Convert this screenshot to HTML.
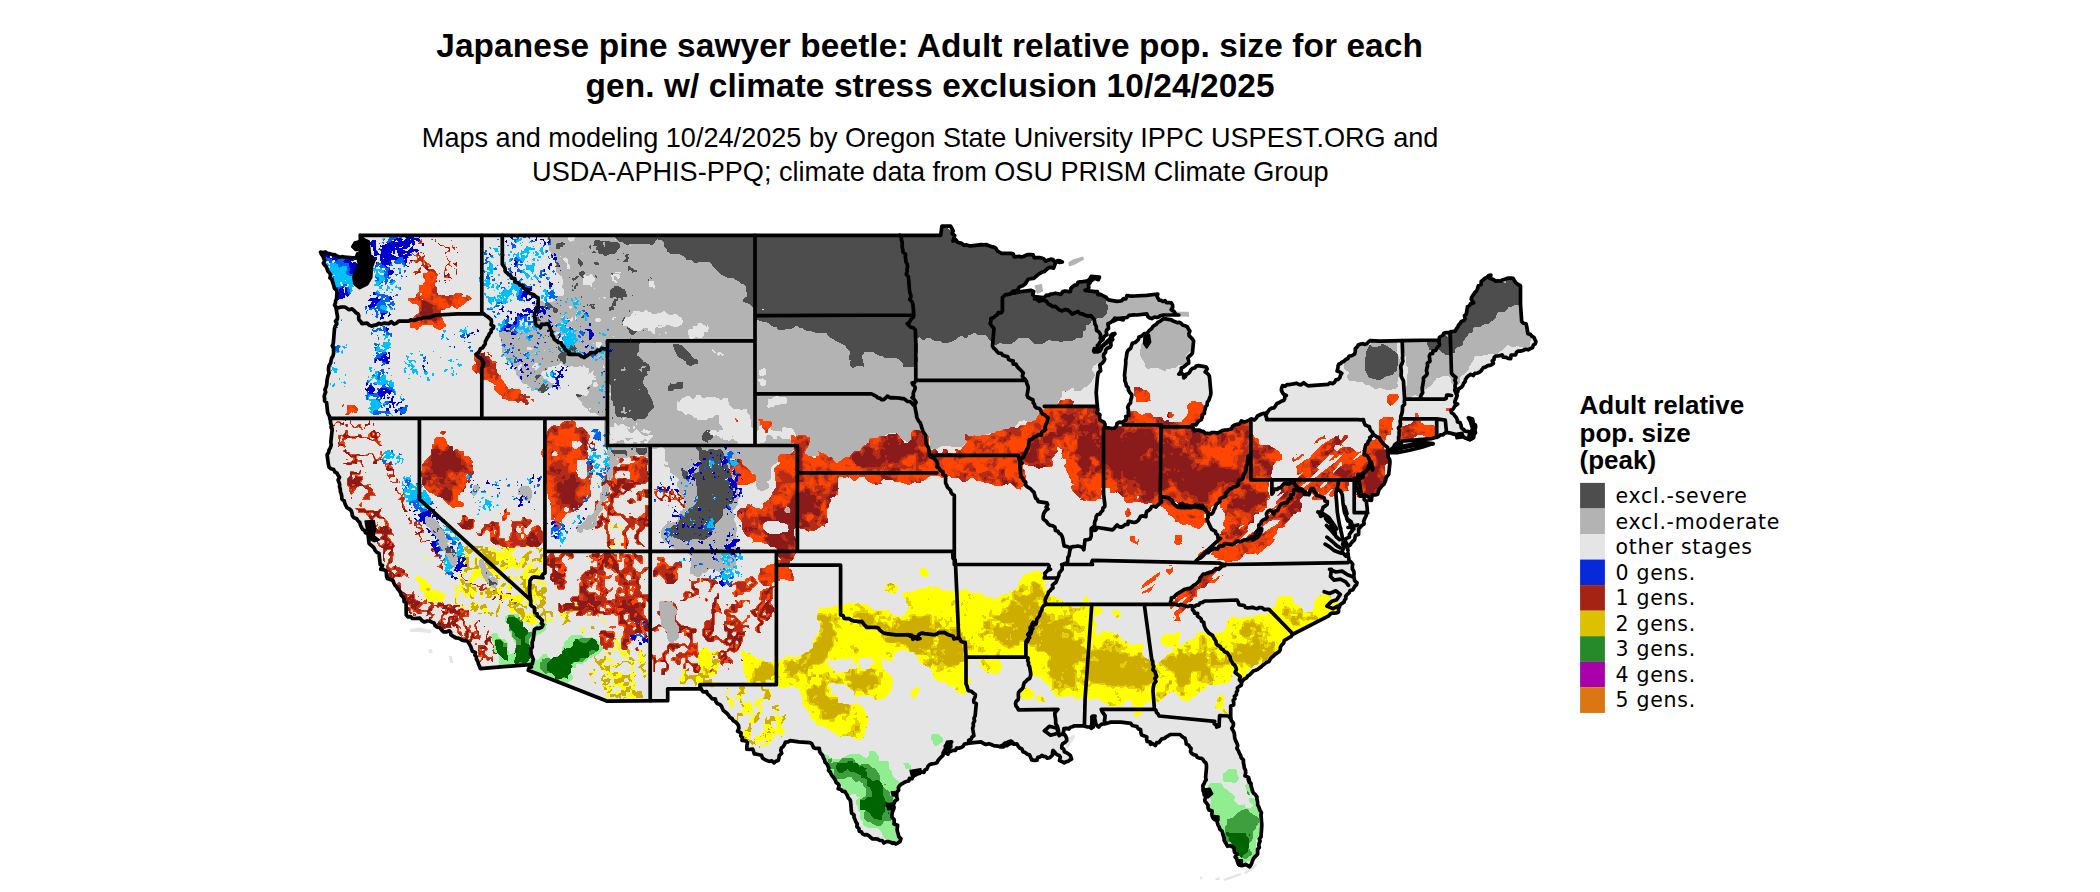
<!DOCTYPE html>
<html><head><meta charset="utf-8"><title>Japanese pine sawyer beetle</title>
<style>
html,body{margin:0;padding:0;background:#fff;}
body{width:2100px;height:892px;overflow:hidden;}
svg{display:block;}
.t{font-family:"Liberation Sans",sans-serif;font-weight:700;font-size:33.4px;letter-spacing:0.1px;text-anchor:middle;fill:#000;}
.s{font-family:"Liberation Sans",sans-serif;font-size:27.1px;text-anchor:middle;fill:#000;}
.lt{font-family:"Liberation Sans",sans-serif;font-weight:700;font-size:26px;fill:#000;}
.ll{font-family:"DejaVu Sans",sans-serif;font-size:20.5px;letter-spacing:0.7px;fill:#000;}
</style></head><body>
<svg width="2100" height="892" viewBox="0 0 2100 892">
<rect width="2100" height="892" fill="#fff"/>
<defs><clipPath id="land"><path d="M360.4,235.3 940.7,235.3 941.9,226.2 950.6,226.2 951.9,228.5 953.2,230.8 952.1,233.5 954.7,235.7 953.8,238.3 953,241 955.7,239.6 957.4,242.1 959.5,242.9 961.7,243.4 963.9,245.2 966.6,244.9 969,245.8 971.6,245.9 981.4,244.7 983.9,244.9 986.5,244.7 988.9,245.8 991.3,246.6 993.9,247.1 995.9,248.4 997.2,250.7 999.2,252 1001.2,253.3 1011,253.3 1013.1,253.7 1014.2,256.8 1016.5,256.7 1018.9,256.3 1020.9,257 1023.4,256.5 1025.7,255.3 1028.2,254.6 1030.8,254.5 1033.1,254.9 1034.4,257.9 1036.9,257.7 1039.4,257.5 1041.6,258 1043.8,258.9 1045.8,261.2 1048.3,260 1050.7,259.2 1053,259.5 1054.8,262.3 1057.7,260.6 1060.1,260.9 1062.3,261.9 1059.7,262.5 1056.5,261.5 1054.9,264.5 1053.6,268.1 1050.5,267.4 1048,268.1 1046.2,269.9 1044.3,271.5 1041.8,272.3 1039.6,273.6 1037.6,275 1035.7,276.7 1033.8,278.4 1031,278.7 1028.2,279.2 1026.8,281.5 1025.4,283.8 1023.4,285.4 1021.2,286.2 1019.1,287.1 1017.9,289.6 1016.1,291 1013.4,291 1011.6,292.6 1009.8,294 1012,293.2 1014.2,293.1 1016.5,292.5 1018.7,292.1 1020.9,291.6 1030.8,290.3 1033.7,291.4 1032.7,294.8 1034.5,296.5 1043.1,297.7 1045,296.9 1046.4,295.1 1048.9,295.4 1050.5,294 1053,293.8 1055.5,293.2 1058.1,293.8 1060.8,294.5 1062.8,291.6 1065,291 1067.7,291.4 1070.3,291.7 1071,288.2 1072.7,286.6 1074.5,285.2 1076.9,285.1 1078,282.3 1080.2,281.9 1082.6,281.7 1085.4,281.4 1087.9,280.6 1089.8,278.9 1091.2,276.3 1099.4,277.2 1098.3,279.7 1094.9,278.3 1093.1,279.5 1091.2,280.7 1090,282.9 1088.4,284.5 1088.8,287.5 1088,289.6 1085,290.3 1094.9,291.6 1097.3,291.5 1098,294.7 1100.5,294.3 1102.3,295.3 1104.3,296.3 1106.2,297.4 1107.7,299.3 1109.7,300.2 1117.1,301.4 1119.4,301.2 1121.6,300.8 1123.4,298.7 1125.8,299 1127,295.5 1129.5,295.9 1132.1,296.2 1134.4,296 1146.7,295.3 1157.8,294 1157,296.3 1158.1,298.3 1159.1,300.2 1161.1,300.3 1162.8,301.5 1165.1,300.7 1166.5,302.7 1168.9,302.5 1171.2,302.8 1172.6,305.1 1172.7,307.2 1171.2,309.7 1173.9,311.3 1175.1,313.2 1176.2,315 1178.8,315 1164,315 1162.1,315.4 1160.2,315.8 1158.5,317.1 1156.6,317.5 1154.5,317 1151.7,318.6 1149.7,317.9 1147.9,316.7 1146.7,313.8 1136.9,315 1134.2,314.9 1131.6,315.1 1129.1,315.3 1127,317.5 1117.1,318.7 1114.7,318.1 1113.6,319.9 1112.2,321.2 1110.4,322.6 1107.9,323.7 1108.3,326.2 1108.5,328.6 1106.7,330 1106.2,332.1 1106.9,334.7 1104.8,336 1103.5,337.5 1103,339.6 1101.3,340.8 1099.9,342.1 1099,344.1 1097.4,345.5 1098,348.6 1094.3,348.6 1093.7,350.8 1097.4,352 1099.9,351.1 1101.1,348.9 1102,346.3 1104.1,344.9 1106,343.4 1107.8,342.1 1109.5,340.6 1111,339.1 1110.6,335.8 1112.1,334.1 1114.7,333.5 1112.7,334.8 1111.9,336.7 1112.7,339.5 1111,340.9 1110.8,343.1 1111,345.5 1109.9,347.3 1107.3,348.3 1105.8,350.1 1105.5,352.4 1103.8,354.2 1103.5,356.4 1104.7,359.2 1103.8,361.3 1102.3,363.1 1099.8,365 1100.2,367.9 1100.7,370.8 1098.2,372.7 1097.8,375.3 1097.4,377.9 1096.2,392.7 1097.4,407.5 1097.9,410 1096.8,412.8 1099.9,414.7 1099.5,417.4 1099.9,419.9 1102,421.2 1104.2,422.4 1105.1,424.5 1104.8,427.3 1112.2,428.5 1114.7,428.1 1116.4,426.5 1117.2,423.3 1119.2,422.1 1122.1,422.3 1124.4,421 1126.3,419.5 1125.7,416.4 1128.7,415.5 1128.2,412.5 1128.4,410 1127.7,407.2 1128.7,404.9 1130.6,402.7 1130.7,400.1 1131.6,397.4 1131.8,394.8 1129.9,392.6 1128.5,390.3 1128.2,387.8 1126.3,385.7 1125.8,383.1 1124.8,380.7 1125,378 1124.5,375.4 1125.8,363.1 1125.7,360.3 1126.2,357.8 1126.6,355.2 1127,352.6 1128.1,350.2 1130.7,348.3 1131.5,345.8 1132.3,343.3 1135.1,342.5 1136.9,340.9 1138.4,339.5 1138.9,337 1141.2,336.3 1142.9,335.1 1144.3,333.5 1146.9,333.4 1148.4,331.6 1149.9,329.9 1151.7,328.6 1152.8,326.6 1154.5,325.3 1156.5,324.2 1157.8,322.4 1160,321.3 1161.8,319.8 1164,318.7 1171.4,319.9 1173.2,321.1 1175.2,321.8 1177.2,322.6 1179.5,322.3 1181.3,323.6 1182.9,325.2 1185.4,325.8 1187.4,326.9 1188.5,329.1 1189.9,331 1188.9,333.6 1189.2,335.8 1190.9,337.4 1192.5,339.1 1193.6,340.9 1192.4,353.2 1190.9,354.9 1188.9,356.4 1187.8,358.3 1188.6,360.8 1188.7,363.1 1186.8,364.2 1185.1,365.8 1183.4,367.1 1181.3,368 1181.3,370.4 1180.3,372.4 1178.8,374.2 1181.8,373.6 1183.6,374.7 1183.7,377.9 1185.5,376.6 1186.2,374.2 1188.5,373.4 1189.9,371.7 1191,369.6 1192.7,368.3 1194.9,367.9 1196.2,366 1198.5,365.6 1205.9,366.8 1207.2,368.8 1205.2,372 1207.6,373.6 1209.2,375.6 1209.6,377.9 1210.9,392.7 1210.6,395.3 1209.7,397.7 1208.9,400.1 1207.2,402.3 1207.2,405 1205.6,406.7 1205.2,408.9 1204.5,411.1 1204.4,413.5 1202.2,414.9 1202.1,417.6 1201.2,419.8 1198.7,420.9 1197.3,422.8 1196.1,424.8 1194.1,424.9 1192.1,425.2 1191.1,427.3 1193.1,427.9 1194.3,430.8 1196.8,430.1 1199.1,430 1201,431 1203.3,431.3 1205.2,433.3 1207.6,433.3 1209.9,433.7 1212.2,432.5 1214.8,432.5 1217.6,433.1 1219.9,431.8 1222.2,430.6 1224.7,430 1227.1,429.8 1229.4,429.5 1231.5,428.8 1232.6,426.2 1234.5,425 1237,424.4 1239.6,423.9 1241.4,420.9 1244.5,422.1 1246.9,421.1 1249.3,420.1 1251.2,418.8 1254.4,420 1256.1,418.3 1257.5,416 1259.5,415 1261.6,414 1263.9,413.4 1266.3,413 1268.1,411.5 1269.6,409.3 1271.6,408.1 1274,407.8 1275.5,405.8 1276.9,403.5 1279.3,402.6 1281.3,401.2 1283.8,400.4 1284.7,398.8 1284.7,396.8 1286.3,395.5 1284,394.5 1282.5,392.7 1281.4,390.5 1281.6,388 1282.6,385.6 1285,386.2 1287,384.6 1289.3,384.6 1291.5,384.2 1293.7,383.9 1296.3,383.2 1298.6,384.4 1301.1,384.8 1303.7,382.7 1306,384.6 1308.4,385.8 1310.9,385.6 1328.2,384.4 1329.9,382.8 1332.8,383.6 1334.6,382.2 1335.9,379.9 1338.1,379.4 1339.8,377.7 1340.5,375.3 1341.8,373.3 1339.7,372 1337.1,371 1337.9,368.3 1338.1,365.9 1338.8,364.1 1340.7,363.6 1341.8,362.2 1344,361.3 1345.7,359.5 1347.9,358.5 1349,356.2 1352.2,355.5 1354.5,354.2 1355.3,351.7 1355.3,348.6 1357,347.1 1358.3,345 1360.3,344.1 1362.7,343.7 1365.1,344.4 1367,343.6 1368.4,341.9 1370.1,340.7 1380,341.2 1402.2,340.7 1439.2,340 1439.4,337.6 1441.2,336.4 1442.9,335.1 1444.1,333 1446.5,332.6 1449,332.6 1450.9,331.7 1453.1,331.5 1455.2,331.1 1456.4,328.9 1457.7,327.1 1458.6,325 1460.1,323.4 1461.3,321.5 1464,320.6 1465.1,318.7 1464.5,315.6 1466.3,314.1 1467.5,306.7 1469.7,305.5 1470.5,303.6 1473.7,302.9 1471.2,299.3 1471.6,297.4 1472.5,295.9 1473.7,294.4 1475,292.3 1476.8,290.6 1477.7,288.2 1478.4,285.6 1481.1,284.5 1481.2,281.5 1483.1,280 1484.8,278.3 1487.2,277.1 1488.7,275.5 1490.9,275.1 1490.1,278.5 1493.4,279.6 1495.6,281.1 1498.3,280.8 1500.7,281.2 1502.7,279.7 1504.9,279.3 1507,278.4 1509,278.2 1511.1,278.1 1513.1,278.4 1514.5,280.7 1516,282.9 1518.1,284.5 1520.5,285.7 1520.5,304.2 1521.7,321.5 1523.3,323.2 1526,323.8 1526.7,326.4 1527.9,333.8 1530.4,334.4 1532,336.2 1534.1,337.5 1534.9,339.5 1535.9,341.4 1535.3,343.7 1533.4,345.1 1532.6,347.5 1530.4,348.6 1528.1,349.8 1525.3,349.3 1523,350.5 1520.5,351.1 1518,351.1 1516.4,352.5 1515.6,354.8 1513.4,355 1511.1,355.1 1510.6,358.7 1508.2,358.5 1506.1,357.3 1503.4,357.2 1502,354.8 1500.1,355.7 1498,356 1495.9,356 1494.2,357.5 1494,359.5 1492.3,361 1493.4,363.4 1491.5,364.7 1489.4,365.4 1487.2,365.9 1485.6,367.1 1483.5,367.5 1482.3,369.2 1481.1,370.8 1479.3,372.2 1477.2,373.1 1474.9,373.3 1473.4,375.5 1470.6,374.4 1468.7,375.7 1466.8,377.4 1465.5,379.4 1465,381.9 1463.6,383.3 1462.9,385.3 1461.8,386.9 1460.1,388.1 1458.2,389.2 1457.9,391.6 1456.4,393 1457.3,395.4 1456.4,397.9 1455.2,400.3 1454.7,402.5 1457.6,404.1 1456.2,405.1 1454.6,406.1 1453.9,407.8 1452.9,409.3 1450.9,410.4 1451.5,412.7 1453.5,414 1454.9,415.9 1456.4,417.7 1457.2,419.6 1457.5,422 1460.1,422.6 1461,425 1461.3,427.5 1462.4,428.9 1464,429.7 1465,431.2 1467.3,431.4 1469.5,431.9 1471.2,433.7 1472.1,431.7 1473.8,429.9 1473.7,427.5 1472.5,425.9 1471.4,424.1 1471,422.2 1471.2,420.1 1468.7,417.7 1472.4,418.9 1472.9,421.2 1473.1,423.5 1475.5,425.1 1475.6,427.5 1474.8,429.9 1475.5,432.6 1473.9,434.9 1473.7,437.4 1471.8,438.8 1469.9,439.8 1467.5,438.6 1465.1,438 1463.1,436.5 1461.3,434.9 1458.8,436 1456.4,434.9 1454,434.1 1451.5,433.4 1449,432.8 1446.5,432.4 1444.5,433.4 1442.9,434.9 1440.4,434.9 1438.5,436.6 1436.3,437.3 1434,437.9 1431.8,438.6 1417,439.8 1402.2,441.1 1401.2,443.7 1398.9,443.7 1397.1,444.9 1394.8,444.8 1393.7,447 1392.1,448.7 1389.8,449.7 1387.4,449.7 1387.8,452.2 1388,454.7 1388.2,457.3 1389.7,459.6 1390,462.1 1388.7,474.4 1387.2,476.1 1386,478 1385.7,480.3 1384.8,482.3 1383.8,484.3 1382,485.9 1380.5,487.8 1379,489.6 1378.3,491.9 1377.6,494.2 1375.3,495 1372.3,495 1371.7,497.5 1371.5,500.3 1369.1,500.2 1369.6,497.2 1367.8,496.6 1366,495.5 1363.6,494.9 1360.9,494.7 1361,491.5 1360.4,489.2 1359.1,479.3 1361.2,478.3 1362.9,477 1362.8,474.4 1361.6,476.7 1358.8,477.9 1357.9,480.5 1357.2,483.1 1355.6,485.1 1356.4,487.4 1357.1,489.7 1358.1,491.9 1359.1,494.1 1360.6,496.1 1364.2,496.1 1364.2,499.7 1366.3,501.2 1367.2,508.4 1367.3,510.7 1365.9,512.8 1366.4,515.2 1365.4,517.3 1364.4,519.3 1363.7,521.4 1364.1,524 1361.8,525.4 1360.3,527.2 1358.6,528.9 1358.7,531.7 1358.6,534.4 1355.6,535.3 1355,537.6 1354.5,539.9 1352.7,541.5 1351.1,543.3 1350.3,545.1 1347.9,546.2 1347.5,548.1 1348,550.5 1347.4,548.4 1347.4,546.3 1347,544.2 1345,540.9 1346.1,538.7 1349.3,537.1 1349.4,534.6 1350.7,532.6 1352.3,530.8 1351.9,528.6 1351.3,526.5 1350.2,524.5 1350,522.2 1347.9,521 1347,519.1 1346.4,516.6 1345.3,514.4 1344.4,512 1343,503 1342.3,494.9 1341.3,492.8 1340.3,490.8 1337.6,489.6 1336.4,491.2 1335.8,493.2 1336.7,503 1337.3,512 1338.5,519.1 1339.8,526.3 1340.7,528.6 1340.9,531.1 1341.6,533.5 1343,540.6 1343.3,542.4 1342.6,544.4 1343.9,546 1343.4,548.3 1342.7,550.5 1341.2,553.2 1343.5,553.5 1345.7,556 1348,553.2 1348.2,555.6 1348.7,558 1349,560.4 1351.1,562.2 1352.7,564.2 1352.3,566.7 1352.4,569.1 1353.8,571.1 1354.1,573.5 1353.8,576.1 1354.2,578.5 1354.7,580.9 1357,582.8 1356.5,584.9 1354.8,586.3 1353.8,588.1 1352.7,590 1350.1,590.4 1349.3,592.6 1347.4,594.3 1345.7,596.2 1345.9,598.5 1344.5,600.1 1344.1,602.2 1342.1,603.4 1340.1,604.6 1339.5,606.8 1338.5,608.7 1338.6,611.8 1336.7,612.8 1334.1,613.2 1331.8,613.2 1330.1,614.2 1328.7,615.9 1292.4,634.5 1291,636.6 1288.7,637.8 1286.6,639.2 1284.3,640.3 1283.7,643.2 1281.8,644.9 1280.4,647 1280.3,649.8 1278.8,651.8 1276.9,653.1 1275,654.4 1273.5,656 1271.6,657.4 1270.2,659.2 1269.1,661.4 1266.8,662.2 1265,663.7 1263.1,664.9 1261.5,666.6 1259.6,667.9 1257.8,669.4 1255.6,670.3 1253.3,671 1251.7,672.8 1250,674.6 1247.9,675.8 1246.6,677.9 1244.3,679 1242.7,680.6 1241.6,682.5 1241.4,685.1 1239.3,686.4 1237.4,687.9 1237.6,690.4 1236.4,692.3 1236.4,694.7 1234.4,696.2 1235,698.7 1233.2,700.3 1233.7,702.7 1233.7,705 1230.7,706.1 1230.7,718.4 1231.4,720.8 1233.4,723 1233.4,725.6 1231.7,728.5 1233.2,730.8 1234.3,733.2 1234.5,735.8 1234.8,738.4 1235.7,740.8 1236.9,743.1 1237.7,745.5 1236.9,748.5 1238.4,750.7 1239.3,753.1 1240.6,755.4 1241.3,757.9 1243.4,759.9 1243.4,762.7 1244,765.2 1244.3,767.9 1245.5,770.2 1245.7,772.8 1245,775.8 1248.6,777.4 1249.3,779.9 1249.2,782.6 1248.2,779.2 1249.4,781.3 1251,783.3 1251,785.9 1251.8,788.2 1252.4,790.5 1253.3,792.8 1255.4,794.7 1256.9,796.9 1257,799.6 1257.6,802.1 1257.6,804.8 1258.8,806.7 1259.4,808.7 1260.2,810.7 1261.4,812.6 1261,815 1261.8,825.2 1261,837.1 1259.3,838.9 1260.1,841.2 1259.2,843.1 1258.8,845.2 1259.3,847.4 1257.6,849.2 1257.6,851.7 1257.6,854.1 1255.9,855.9 1254.4,857.4 1253.2,859 1252.5,861 1251.3,864.3 1249.7,866.8 1245.7,864.4 1243.8,865.2 1241.8,865.7 1239.7,865.3 1238.2,863.3 1237.1,861 1236.8,858.8 1235.1,857 1237.2,854 1234.6,852.5 1234.2,850.4 1234.1,848.1 1232.3,846.8 1230.3,845.7 1227.4,846.3 1226.4,844.1 1225.2,842.2 1224.1,840.2 1224.1,837.9 1223.3,835.8 1222.7,833.7 1222.1,831.1 1219.9,829.4 1219.2,826.9 1218,824.8 1217.3,822.4 1216.7,820.1 1214.8,819.6 1213.3,818.5 1212.4,816.7 1211.8,814.2 1212.2,811.1 1209,809.9 1208,807.7 1208,805.1 1206.5,803.1 1205.1,801.6 1204.8,799.8 1205.6,797.9 1205.1,795.5 1204.7,793.1 1203.1,791.1 1203.1,787.7 1202.8,785.5 1204.1,783.6 1204.8,781.6 1206.2,779.8 1205.6,777.5 1206.5,767.3 1206.4,765 1205.9,763 1204.1,761.5 1203.1,759.6 1201.5,758.3 1199.2,758.1 1197.3,757.3 1196.2,755.3 1193.6,754.6 1191.6,753.4 1190.5,751.6 1191.1,748.5 1189.7,746.9 1188.6,745.1 1186.3,744.1 1186,741.7 1185,738.2 1183.1,737.4 1181.5,736 1179.9,734.5 1177.6,734.5 1170.2,734.5 1168.3,735.8 1166.2,736.8 1164.5,738.4 1162,738.8 1160.4,740.6 1158.9,742.6 1156.7,742.7 1155.4,745.5 1152.4,743.4 1150.5,744.3 1150.3,742.1 1147.1,741.4 1146.6,739.3 1146.8,736.9 1144.3,735.9 1141.6,735 1140.9,732.4 1140.6,729.5 1138.3,728.9 1137,726.6 1134.6,726 1132.2,725.5 1130.8,723.4 1120.9,722.1 1111,722.1 1108.6,722.8 1106.1,723.4 1104.1,724 1101.9,724.2 1100.1,725.3 1098.7,727.1 1096.8,725.3 1095.6,723.2 1095.4,720.8 1094.6,718.6 1095,716 1092.5,716 1091.3,728.3 1089.7,727 1087.6,727 1085.7,726.5 1083.9,725.8 1074,725.8 1072.3,726.8 1070.4,727.2 1068.9,729.1 1066.6,728.3 1063.9,728.7 1063.7,731 1063.2,733.2 1061.7,734.5 1064.4,734.3 1065.6,736.1 1066.6,738.2 1066.7,740.7 1065.1,742.3 1062.8,743.6 1061.9,745.6 1061.7,748 1063.7,749.2 1064.4,751.8 1066.6,752.7 1068.5,754 1070.3,755.4 1071.6,759.1 1069.7,760 1068.1,761.4 1066,761.8 1064.2,762.8 1062,761.6 1059.5,760.6 1060.3,757.3 1059.2,755.4 1057.2,754.7 1055.6,753.6 1054.5,751.8 1053,750.5 1052.5,752.5 1052.6,754.9 1051.1,756.5 1049.3,757.9 1047.2,758.1 1045.6,756.6 1043.6,756.4 1041.9,755.4 1040.2,756.9 1037.8,757.4 1037,760.1 1034.5,760.4 1031.8,759.9 1030.7,757.4 1029.6,754.9 1027.1,754.2 1025.3,752.6 1022.9,751.7 1022,749 1019.7,748 1018.1,746.1 1016.9,743.9 1013.5,744.2 1012.3,741.9 1004.9,743.1 1003.4,744.5 1002.3,746.5 1000,746.8 1002,745.4 1004.4,745.5 1006.8,745.7 1008.8,744.2 1011,743.5 1013.3,743.1 1011.2,741.1 1008.4,741.9 1006.3,743.1 1005,745 1003.5,746.8 993.6,745.6 991.3,744.5 988.8,743.7 985.9,744.5 983.5,743.5 981.3,741.9 968.9,743.1 966.8,743.7 964.5,744 963.1,746.4 961.2,747.5 959,748.1 956.6,748 955.6,750.3 953,750.3 951.1,751.2 948.9,751.9 948,754.2 945.4,752.6 945.1,750.5 946.7,748 949.2,747.5 948.8,744.7 949,742.2 951.7,741.9 949.9,742.5 947.6,742 946.7,744.3 945.3,746.1 945.7,748.7 944.3,750.5 943.1,752.8 943,755.4 941.2,757 939.6,758.8 938,760.6 936.9,762.8 934.6,763.5 932,763.9 929.7,764.5 928,766.2 927,769 925.1,769.9 923.8,772.4 921.3,771.8 919.6,773.4 917.1,772.7 916.3,774.1 913.5,773.4 912.9,776.1 912.1,778.7 909.5,778.3 908.8,780.9 906.5,781.5 904.4,782.3 902.7,783.5 900.8,784.4 899.4,785.9 898.4,787.7 898.6,790.2 896.9,792.1 896.7,794.5 896.7,796.8 897.4,799.4 895,801 894.2,803.1 893.3,805.1 894.1,807.5 893.5,809.6 892.5,811.6 892,814.3 891.8,817 894,819.2 894.2,821.8 894,824.1 897.6,825.2 897.3,827.6 897.1,829.9 897.6,832 898.3,834.3 898.8,836.7 900.9,838.7 900.1,841.4 898.1,842.8 895.9,844 894.4,842.9 892.3,843.4 890.8,842.2 888.7,841.7 886.5,841.5 883.9,843 882.2,840.5 879.8,840.5 877.7,839.1 875.4,838.8 872.6,839 870.7,837.5 869,835.8 866.9,834.6 864.5,834.8 862.6,833.9 861.3,831.8 859.2,831.2 859,828.6 856.9,826.7 857.2,823.9 855.8,821.8 855,819.5 854,817.4 854,814.8 851.6,813.3 850.7,803.1 850.5,801.1 849.7,799.3 848.2,797.9 847.4,795.6 846.2,793.7 845,791.6 842.2,791.1 840.9,789.5 838.2,788.8 839.1,785.7 838.1,783.8 836.2,782.6 835.3,780.2 834,778.2 832.4,776.2 831.1,774.1 830.3,772 828.5,770.4 828.8,767.9 827.9,765.9 826.9,763.9 825,762.1 824.5,759.7 823.3,757.6 822.6,755.3 820.9,753.6 819.6,751.5 819.4,748.3 815.8,748.5 813.6,747.7 812.7,745.7 811.7,743.7 809.8,742.6 798.7,741.9 790.1,740.6 788.1,741.8 785.4,742.2 784.5,744.6 783.2,746.6 781.4,748 780.8,750.5 781.7,753.3 779.3,755.4 779,757.9 778.2,760.4 775.8,761.3 774,762.8 771.9,760.9 769,761.4 766.6,760.4 764.5,759.3 762.5,758.2 761.5,755.3 759.2,754.7 756.7,754.2 754.2,753.8 753.5,751.3 752.6,749 749.2,749.5 746.8,749.1 746.9,745.6 747.5,742.5 745.8,740.8 742,740.4 742.2,737.5 740.7,735.7 741.1,732.9 737.6,731.3 738.9,728.2 738.5,725.6 737,723.4 735.3,721.8 733.2,720.6 732,718.5 729.8,717.4 728.6,715.3 727.1,713.5 725.3,712 723.4,710.6 722.4,708.4 721.4,706.1 719.7,704.4 717.3,703.6 715.9,701.7 715.4,698.9 712.2,698.9 710.7,697.1 709.1,695.3 707.4,693.8 706.6,691.6 703.2,692 702,690.4 700.9,688.5 700,686.4 701,688.8 667.7,688.8 667.7,700.7 607.3,701.2 528.3,670.3 528.9,668.4 531.4,667 529.5,664.6 480.2,668.6 479.5,666.2 478.4,663.9 477.8,661.4 476.5,659.2 476.3,656.9 474.9,655.1 475.4,652.4 472.4,651.3 471.6,649.3 470.9,646.9 469.8,644.9 468.6,642.9 467.3,641 464.2,640.7 462.1,640.2 460.3,638.9 458.4,638.1 456.2,638 454.3,637 452.5,635.9 450.8,634.7 450.7,632.2 449.3,630.8 446.3,631.9 443.6,631.9 441.5,629.9 439.6,627.4 437,627.1 435.1,625.6 434.1,623 431.8,622.1 429.6,621 427.1,621 424.4,622 422,620.7 419.9,618.1 417.4,618.3 414.8,618.5 412.3,618.5 410.5,616.6 407.9,616.9 406.2,614.8 406.1,602.7 404,601.4 404.1,598.7 402.9,596.8 401.2,595.3 400.6,592.9 399.4,590.8 397.8,589 396.6,586.9 394.9,585.1 393.8,583 393,580.5 390.2,579.5 387.4,578.5 386.5,576.1 386.4,573.1 385.8,570.9 383.9,569.7 380.7,569.4 382.5,565.5 380.2,564.5 379,553.4 376.8,552.3 375.2,550.6 374.2,548.3 372.7,546.5 370.8,545.1 369.1,543.5 367.9,533.6 365.4,532.7 364.6,530.4 362.5,529.3 361.4,527.2 360.4,525 359.8,522.5 358,520.9 356.7,518.8 354,517.7 352.4,515.9 352,513.1 351.2,510.7 349.3,509 346.9,507.7 345.8,505.5 344.8,503.1 344.1,500.6 341.9,499.1 341.8,496.6 341.3,494.1 340.4,491.7 340.3,489.1 339.5,486.7 339.7,484.3 338.9,482.2 338.1,480 339.5,477.4 338.1,475.3 337,473.2 334.8,471.9 333.7,469.5 331,468.8 329.1,467.2 328.4,464.5 327.1,454.7 328.6,452.4 329.1,449.9 330.4,447.6 331.2,445.1 330.8,442.3 332.1,430 332.1,429.7 331.1,427.6 331.4,425.2 330.6,423.1 330.5,420.8 330.1,418.6 329.5,416.5 328.5,414.5 327.6,412.5 326.6,402.6 324.6,401 324.6,398.6 324.2,396.4 324.7,394.2 325.7,392.1 324.9,389.6 325.9,387.5 326.6,385.3 326.9,382.8 327,380.3 327.5,377.8 328.1,375.4 329.1,373 328.5,370.4 328.6,367.8 329.1,365.4 330.6,363.1 331,360.6 331.6,358.2 333,355.9 333.6,353.4 333.6,350.9 333.5,348.4 332.3,345.8 333.3,343.4 334.5,328.6 335.2,326.2 336.8,323.9 335.5,321.2 337.4,318.9 337.5,316.4 337,313.8 335.8,306.8 334.5,305.1 335.4,303.2 335.6,300.9 336.5,299 337,291.6 336.1,289.7 334.4,288.3 333.9,286.2 333.3,284.2 332.6,281.9 331.9,279.7 329.9,277.9 330.6,275.2 329.6,273 327.9,271.3 327.2,269.1 326.4,266.8 324.7,265.1 323.4,263.2 324.8,260.5 323.7,258.4 322.9,256.2 321.4,254.2 320.5,252.1 322.8,252.8 325.4,251.9 327.5,253.6 329.8,253.7 332.1,254.5 334.6,254.6 336.9,256 339.2,257.2 341.9,256.7 344.4,257 355.5,258.2 356.7,256.3 357.5,254 360.5,255.3 359.9,252.5 361.5,250.2 361.4,248.4 361.3,246.6 359.9,245.2 358.8,242.5 360.5,240.1 360.4,237.6 360.2,235.1ZM1389.8,450.2 1397.2,447.2 1409.6,444.8 1421.9,442.3 1433,443.5 1421.9,447.2 1409.6,450.2 1397.2,452.7 1390.3,452.7Z"/></clipPath></defs>
<g clip-path="url(#land)" shape-rendering="crispEdges">
<rect x="300" y="200" width="1260" height="692" fill="#e5e5e5"/>
<path fill="#b3b3b3" stroke="#b3b3b3" stroke-width="1" stroke-linecap="square" fill-rule="evenodd" d="M660,602l-1,1l1,2l-1,5l1,1v6l2,4l-1,4l3,2l3,5v6l4,5h2v-1l5,-4l1,-3l-1,-1v-8l-4,-6v-4l3,-2l-1,-5l-4,-4v-3l-2,-1ZM728,571v1M453,570h0M456,569h0M481,559l-2,3v3l1,2l2,1l-1,5l8,12l5,3l2,-1l-1,-1l2,-1l1,-3l-1,-2l-5,-4v-2l-2,-3l-5,-4v-3l-2,-4ZM488,576l1,-1h2l1,1v1l-1,1h-1ZM724,558v1h2v-1ZM725,555l1,1l1,-1ZM672,549h0M731,547v1h2l1,1v1l1,1v2l1,1v-2l-1,-1l1,-1l-1,-1v-3h-1l-1,1ZM710,525h0M426,516l-1,1v5l1,1l-1,1l5,4v2l6,7l3,2l-1,3l3,6l4,3v3l3,3l2,6l4,3v2l3,-5l-1,-2l1,-1v-3l-3,-7l-4,-2l-4,-5l2,-1v-1l-3,-4l-1,-5l-3,-3l-3,-6l-7,-6ZM679,515h0M786,506l1,1l-3,3v1l1,1h1l1,1h2l1,-1v-3l-1,-1v-1h-1l-1,-1ZM521,487l-3,4v3l1,1l3,-1l1,1l-1,2l4,4l4,-1l1,-2v-5l1,-1l-2,-4l-3,-2ZM526,495l1,1v1l1,1l-2,2h-1l-1,-1v-2ZM518,491l1,-1l1,1l-1,1ZM737,485v2M478,485h-3l-2,2v1l1,1v1h1l1,-1l1,1v2l-1,1h-2l-2,-2v-1v2l-1,1l2,2h2l1,-1v-1l2,-2v-1l1,-1v-2l-1,-1ZM607,483l-5,4v4l1,1l-3,2l1,7l-2,1l-3,4v3l-2,1v3l-2,2h-3l-3,5l-5,5l-4,1l1,1l-1,1v3l4,2l2,-2l-1,-1l1,-2l4,2l9,-4v-4l1,-1l-1,-3l3,-5l4,-4l-2,-6l6,-5v-2l2,-2l-1,-2l1,-5ZM591,522l1,-1l2,2l-1,1h-1l-1,-1ZM726,458h0M647,440h-1l-1,-1h-1v1l-1,1h-3h1l1,1l-1,1h-1v2l1,1h2l1,-1v-2l-1,-1v-1l1,-1ZM612,439h0M625,438l2,2v1l1,-1h1l2,-2h2ZM732,436h0M558,386l2,2v-1l-1,-1ZM506,359l4,4l-1,-1v-1l-1,-1h-1ZM567,349h0M1355,346l-1,1l1,4l-6,5l-1,3l-4,3v6l5,4v2l-2,2l2,4l14,2l2,2l5,1l6,4l3,-2l6,2h7l1,-1l2,1l3,-3l-2,-3l1,-1v-3l3,-5l-1,-3l1,-6l2,-2l-2,-2l-3,-7l-1,-12l-1,-1l-2,1l-3,-2h-10l-1,1l-1,-1h-7v4l-2,2l-3,-2h-4l-1,2ZM1134,340v1l-1,1l1,-1ZM574,340v1M572,337h0M568,331l-1,1ZM571,330v1l1,1v-2ZM661,325h0M658,325h1M519,325l1,1h1l-1,-1ZM635,314h0M540,308v1h1ZM537,308v2M1514,277h-4l-2,2l-2,-2l-5,2h-6l-4,-5h-2l-6,5l-11,14l-6,12v4l-2,6l-10,13l-5,3h-4l-3,2l-4,6h-8l-1,1l-1,-1h-20l-4,3l1,11l2,5l-1,7l2,2v4l1,1l-1,2l-1,12l-3,5v4l2,2h5l4,-3l3,2l5,-6l7,-4l7,-9h3l4,-2h4l3,3v4l3,3h3l2,-2l1,-6l8,-7l1,-4l3,-4l3,-7l2,1l2,-1l3,1l2,-2h4l1,-1h9l10,-9l3,2h5l2,-1l1,1h3l2,2l1,-1h4v-4l4,-8l-5,-3l-1,-7l-5,-5v-8l-1,-1v-6l-1,-1l1,-1v-19ZM1194,338l-4,-8l-8,-8h-2l-8,-4h-6l-1,-1l1,-1h13v-2l-5,-4l-1,-6l-6,-3l-6,-1l-3,-7l-3,1h-10l-1,1h-11l-14,5h-8l-8,-6l-8,-4h-7l-1,-1l5,-7l8,-4v-2l-10,-1l-6,4l-24,12l-11,2l-6,3h-7l-5,-7l-3,1h-8l-1,-1l24,-17l20,-10v-2h-4l-5,-2h-6l-1,-1h-6l-10,-4l-11,3l-8,-4h-10l-10,-7h-4l-6,-2l-3,1h-11l-1,-1l-12,-2l-2,-4l-1,-9l-1,2l-4,-1l-1,-2h-4l-2,-1v3l-2,5h-328l-1,1l-1,-1h-61v6l2,-1l2,2v3l-3,1l1,1v3l4,6l4,2v2l-2,2l2,3l-1,2l1,3l-1,2l7,6l-1,1l1,1v6l-1,2l2,2l1,5l-2,2h-4l-4,6l-1,-1l-1,1h-3l-2,1l-1,2h-2l-3,-4h-3l-2,3l-2,-1l-1,2h9l3,5v3l-2,2l-2,-3l-3,1l-2,3l-2,-1l1,-2l-5,2v2l4,3v3l-1,1l3,4l-1,3l-3,-1l-2,-3l-6,-1v1l3,-1l1,3l3,1l-6,4l-4,-5l-1,1l-4,-1l-1,1l2,2l-3,3h-4l-1,-3l3,-2l1,-3l-3,2l-1,-1h-4v1l3,1l-2,2l-2,-1l-6,1v3l2,3l1,5h2l2,2l-2,3l-2,-2v5l4,6h6l1,1l-2,1v1l2,2v5l3,-2l1,2l-3,2l2,2v2l7,10h3l5,5l1,3l2,-1l1,-3h2l1,1l-1,2l2,2h5l3,-2l-2,-1l2,-3h1l1,2l2,-1v-2l2,-1v-1h-3l-4,-4h-2l-4,-5l3,-4h3l3,-4h3l1,-1l3,1l5,-4l4,4l2,-1l2,2l2,-2l2,1h6l1,-1l3,2l-1,-1l2,-2l3,4l1,-1l2,1l-1,5l5,-3l1,2l-2,1l1,2h2l1,2l-1,1l-2,-1l2,1v2l-1,1l-2,-1l-1,1v3l-5,4l3,4l-3,5l-9,-3l-2,1l6,7l1,3l5,4l2,3l6,1l3,2h3l2,2l-1,1l1,2v13h2l1,1l-1,1l1,-1h3l-1,-6l2,-2l1,1l2,-1l-1,-2l2,-2l3,3h1l1,-2h3l4,3h3l1,3l-1,1l-2,-1l2,3h3l4,-4l1,2l7,6l6,-2l2,1v2l-6,7l-2,4h-8l-1,-1l1,-3l-1,-2l-3,1l1,3l-2,2h-1l-1,-2h-5l-2,-6h-2l-1,2l-2,-1l-2,2h-2l-1,2h-3l-2,-2l2,-3h-2l-4,-3v6l2,1l-1,2l2,3v4l3,4l-1,1l1,3l-2,2l2,2l-1,1l1,2l-2,2l-2,-3l1,12h1l1,-2l1,2l2,-1v-3l1,-1l-1,-6l6,-4v-4l3,-3l5,1l3,-2h4l3,-2h6l2,2h5l1,-6l2,-2h5l4,-2l5,3l-1,11l3,2l1,2l-1,1h-3l-1,-1l2,3l2,-1l2,2v4l5,3l4,4v2l-2,2l1,4l2,2l-1,2l2,3v2l3,2v2h1l1,2l-1,1v6l-3,2h-2v2h1l2,3l-3,3l-1,-2h-1v3l-2,4l-1,-2h-2l-2,2l-3,-3l-1,3l-6,7v3l1,1l-1,1l4,6h2l-1,-1l3,-2l1,1l-1,3l3,4l4,2h7l3,4l1,-1l4,4l1,10l-2,3v4h2l4,3h4l3,-4h3l4,-4l3,1l1,-1l5,4l2,-2h2l1,2h2l-4,-3l1,-2l3,2l3,-2l2,1l1,2l2,-1l-2,-3l1,-1h3l-1,-1v-6l-2,-3l-2,1l-2,-2v1l3,2l-4,2v2l2,1v3l-1,1l-3,-2v-2l-3,2l-1,-1l1,-2l-4,-3l3,-2l-2,-2l1,-4l1,-1l1,3l2,-1l-2,-6l3,-2l1,1l2,-1l4,-5h3l-1,-3l2,-7l-2,-2v-3l-2,-3l2,-4l-3,-5l6,-7l-1,-5l3,-2v-2l-1,2l-3,-3l2,-1l-1,-4l-2,4l2,3l-4,3l-2,-1v-1l2,-1l-1,-1v-4l2,-1v-2h-2l-1,-2l2,3l-2,1l-3,-3l2,-5l-6,-2l4,-3h3l2,2l1,-1l-1,-3l-3,-2v-2l-2,-2l1,-1v-4l-3,-1l-2,1l-2,3l-2,-7l3,-1v-3l1,-1h3l-1,-1l1,-3l4,-1l3,3l-4,6l10,-1l3,3l-1,3l4,3l1,-1l3,5l6,4v10l2,4l4,2l6,-3v-4l-2,-2l4,-3v-5l1,-1l-1,-6l7,-5l1,-6l4,-3h9l3,-5l-1,-1l1,-4h-2l-3,-4h-7l-3,-3h-1l-1,3l-3,1l-4,-5l-3,1l-1,5l-2,2h-3l-2,2h-6l-2,-1l-1,2l-3,1l-9,-2l-1,-3l-5,-3l-3,3l-2,-2l-4,1l-1,-1l1,-2l-1,2l-6,-5l-1,1h-4l-3,-4l5,-3h2l3,3l1,-2l4,-1l-4,-5l-1,-3v-4l1,-1l-3,-1l-3,3h-3l-4,3l-3,-1l-6,1l-1,-1l1,-2h-3l-5,-4h-1l-2,3l-3,-4l-3,-2h-2l-2,-2l1,-3l-1,-4l2,-2l1,2l3,-5h2l3,-2h3l2,3h2l3,-4h4l1,3l2,1l4,-2l3,1l3,-1l5,2l2,2l3,-3l4,1l2,7h1l3,4l5,-1l2,2l4,-2l2,1v2l3,4v3l2,2l-1,6l2,2v4l1,1l5,-4l-1,-3l3,-1l-2,-1v-3l-2,-2l1,-1h4l1,3l7,-1l3,3l-2,4v2l2,1l8,1v-3l4,-2l2,2l4,-1l3,3l3,6l3,-2h4l6,4v5l-5,10l3,2h11l-1,-1l1,-3l7,3l2,2h3l2,2v2l4,3l8,-6l5,-1l2,-3l4,-3h4l5,-6l3,-1v-2l3,-4h7l3,-2h4l6,-3l6,1l5,6h2l4,3l3,-2v-4l-1,-1l1,-3l3,-3h5l4,4l3,-1l4,6l1,10l2,1l1,-1l2,1l6,-4l18,2l7,-5v-1l-3,-2v-4l2,-2l3,3l6,-1l1,1l3,-1l1,1l12,-4h3l2,-2h5l3,-2h4l2,-2l3,1l6,-7h3l1,-1l3,2h5l4,-2l5,-8l6,-4h4l5,-3l1,1l1,-4l4,-6l-1,-3l2,-2h3l1,1l5,-4h2l1,1l-1,2l1,1l2,-1l3,1l5,-5h2l4,-4l3,-6v-2l-3,-4l2,-4l5,-4h3l1,1l2,-1l4,-14l7,-13v-3h-2l-6,8l-10,10l-2,-1l10,-12l7,-14l7,-5h9l1,-1l13,-2l1,-1h4l8,4l3,-1l3,1l-5,3l-7,7l1,2l-2,3l1,2l-7,9l-2,10l5,9v3h1l2,3l3,-2h6l8,4l1,-2l10,-2l2,-3l5,1l2,-2l1,-8l4,-4v-3l4,-6ZM719,569l1,-1l1,1l-1,1ZM706,568l1,-1l1,1l-1,1ZM693,567v-2l1,-1h2l1,1l-1,1h-1v1l-1,1ZM698,563l1,-1h3l1,1v1l-1,1h-3l-1,-1ZM717,561l1,-1l1,1l-1,1ZM732,557l2,2v2l-2,2h-1l-1,-1v-1l1,-1v-2ZM711,557l2,-2l1,1v1h2l2,2v1l-1,1h-1l-1,-1h-2l-1,-1v-1ZM690,554l1,-1l1,1l-1,1ZM713,553l1,-1h1l1,1v1l-1,1h-1l-1,-1ZM689,553l1,-1l1,1l-1,1ZM710,552l1,-1h1l1,1v1l-1,1h-1l-1,-1ZM697,550l1,-1l1,1l-1,1ZM716,547l2,2v2l-1,1h-2l-2,-2ZM692,546l2,2v1l-1,1h-2l-1,1h-1l-1,-1l1,-1v-1l2,-2ZM670,545l1,-1h2l1,1l-1,1h-2ZM708,544l1,-1h1l1,1v1l1,1v1l2,2l-1,1h-2l-2,-2v-2l-1,-1ZM713,542l1,-1l1,1l-1,1ZM697,541l1,-1h1l1,1l1,-1h1l1,1v2l-1,1h-1l-1,-1h-1ZM682,541l1,-1h1l1,1l-1,1h-1ZM712,540l1,-1h1l1,1l-1,1h-1ZM689,539l1,1v1l-1,1v2l-1,1h-2l-1,-1l2,-2v-2l1,-1ZM681,540l1,-1l1,1l-1,1ZM725,539l1,-1h1l1,1v1l-1,1h-1l-1,-1ZM664,538l1,-1h1l1,1v2l-1,1l-2,-2ZM705,536l1,-1l1,1l-1,1ZM698,535l1,-1l1,1l-1,1ZM732,533l1,1v1l-1,1h-1l-1,-1ZM699,534l1,-1l1,1l-1,1ZM668,534l1,-1h1l2,2v1l-1,1l-1,-1h-1l-1,-1ZM692,533l1,-1h1l1,1l-1,1h-1ZM690,533l1,-1l1,1l-1,1ZM672,534l2,-2h1l1,1l1,-1h1l1,1l-2,2h-2l-1,1ZM729,531l1,1v4l-1,1h-2l-1,-1v-1l1,-1h1v-2ZM714,532l1,-1l1,1l-1,1ZM707,533l2,-2h2l1,1v2l-1,1h-2ZM671,530l1,-1h1l1,1l-1,1h-1ZM732,528l1,-1l1,1v1l-1,1l-1,-1ZM704,527l1,1v1l-2,2l-1,-1v-1ZM670,527l1,3l-1,1h-3l2,2l-1,1l1,2l-2,2l-1,-2l-3,-2l2,-3l-1,-2l2,-2ZM677,526l1,1v2l-1,1l-2,-2ZM702,524l1,1v2l-2,2h-3l-1,-1v-1l1,-1h2v-1l1,-1ZM686,525l1,-1l2,2h1l1,-1h2l1,1v1l-1,1h-5l-2,-2ZM676,525l1,-1l1,1l-1,1ZM694,522l2,2l-2,2l-2,-2ZM684,522l1,1v3l-2,2h-1l-1,-1v-3l1,-1h1ZM700,521l1,-1l1,1v1l-1,1l-1,-1ZM692,520l1,-1h1l1,1l-1,1h-1ZM701,518l1,-1l2,2l-1,1h-1l-1,-1ZM689,518l1,-1l1,1v1l1,1l-1,1h-1l-1,-1ZM709,516l3,1l2,3l-1,4l2,4l-2,2l-2,-1l-3,1l-5,-5l4,-5h3l-2,-2ZM698,517l1,-1l1,1l-1,1ZM683,515l1,-1l1,1v1l-1,1l-1,-1ZM726,513l1,-1l1,1v1l-1,1l-1,-1ZM730,512l1,-1l1,1l-1,1ZM729,511l1,-1l1,1l-1,1ZM684,512l2,-2h2l1,1v1l-1,1h-3ZM708,510l1,-1h1l1,1l-1,1h-1ZM699,506l2,2v2l-1,1h-2l-1,-1v-2ZM690,507l1,-1h1l1,1v1l-1,1h-1l-1,-1ZM725,505l1,-1h2l3,3v2l-1,1h-2l-3,-3ZM733,502l1,-1h2l1,1l-1,1h-2ZM728,501l1,-1h1l1,-1l1,1v1l-1,1h-2ZM725,498l1,-1l2,2l-1,1h-1l-1,-1ZM712,498l1,-1h1l1,-1l2,2l-2,2h-1ZM695,496l1,1v1l1,1v1l-2,2h-1l-1,-1v-1l1,-1v-2ZM695,496l1,-1l1,1l-1,1ZM683,496l1,-1l1,1l-1,1ZM711,494l1,-1l1,1l-1,1ZM727,491l1,-1l1,1v1l-1,1l-1,-1ZM684,489h1l1,1v4l-1,1h-2l-1,-1l2,-2v-1l-1,-1ZM697,487l1,-1l1,1l-1,1ZM684,485l1,-1h2l1,1v1l-1,1h-2l-1,-1ZM691,484l1,-1l1,1v1l-1,1l-1,-1ZM690,481l1,1v1l-1,1h-1l-1,-1ZM680,482l1,-1l1,1v1l-1,1l-1,-1ZM690,479l1,-1v-1l1,-1h1l2,2v2l-1,1l-1,-1h-2ZM717,476l1,-1l1,1l-1,1ZM713,476l1,-1l2,2l-1,1h-1l-1,-1ZM703,475l1,1v2l1,1l-1,1h-1l-1,-1v-3ZM711,473l2,-2h1l1,1v1l-1,1h-2ZM699,472l1,-1h1l1,1v1l-1,1h-1l-1,-1ZM726,471l1,-1h1l1,1v1l-1,1h-1l-1,-1ZM606,470l1,-1l1,1v1l-1,1l-1,-1ZM725,468l1,1v1l-1,1h-1l-1,-1ZM680,468l1,-1h1l1,1l-1,1h-1ZM696,467l1,1l-3,4l-3,2l1,2l-2,1l-2,5l-3,-3v-3l4,-2l-2,-4l5,-4h1l1,2ZM703,468v-2l1,-1h1l1,1v1l-2,2ZM719,463l1,1v4l-1,1l-1,-1v-1l-1,-1v-1ZM700,461l2,2l-1,1h-1l-3,3l-1,-1h-2l-2,-2v-1l1,-1l1,1h1l2,-2ZM717,461v-1l1,-1h1l1,1l-2,2ZM709,458h3l3,5l-2,2l-1,-1l1,4l-2,2l-3,-6l1,-3l-1,-2ZM690,459l1,-1l1,1l-1,1ZM719,458l1,-1l1,1v1l-1,1l-1,-1ZM702,458l1,-1h2l1,1v1l-1,1h-2l-1,-1ZM617,457l1,1v2l-1,1l-1,-1v-2ZM711,457l1,-1h1l1,1l-1,1h-1ZM617,457l1,-1l1,1l-1,1ZM716,455l1,-1l1,1l-1,1ZM720,453l1,1v2l-1,1l-1,-1v-2ZM613,454l1,-1l1,1v1l-1,1l-1,-1ZM736,452l1,-1h2l1,1v1l-1,1l-1,-1h-1ZM721,452l1,-1l1,1l-1,1ZM709,452l1,-1h1l1,1v1l-1,1h-1l-1,-1ZM608,447l1,-1h1l2,2v1l-1,1h-1l-2,-2ZM723,446l1,-1h1l2,2v1l-2,2l-1,-1v-1l-1,-1ZM605,441l1,-1h1l1,1v1l-1,1h-1l-1,-1ZM657,435l1,-1l1,1l-1,1ZM608,432l1,-1l1,1l-1,1ZM706,431l1,-1h1l1,1l-1,1h-1ZM640,431l1,-1h1v-1l1,-1h1l1,1h2l1,1h2l1,1v1l-2,2h-2l-1,-1h-3l-1,-1h-1ZM634,425l1,1v1l1,1l-1,1h-2l-1,-1v-1ZM605,425h2l1,1l-1,1v2l-1,1h-1l-1,-1v-3ZM635,423l1,-1l2,2l-1,1h-1l-1,-1ZM622,419v-1l1,-1h2l1,1l-2,2h-1ZM601,411l1,-1l1,1l-1,1ZM604,409l1,-1l1,1l-1,1ZM588,408l1,-1h1l1,1v1l-1,1h-1l-1,-1ZM597,402l1,-1h1l1,1v1l-1,1ZM787,398v5l-2,2l-4,-1l-1,1h-4l-2,2h-3l-1,1h-2l-2,-2v-1l2,-1l-1,-4l2,-2h3l4,-3l7,2l2,-1ZM602,396l1,-1h1l1,1v1l-1,1h-1l-1,-1ZM608,394l1,1l-1,1v1l-1,1l-1,-1v-2l1,-1ZM609,392h2l1,1v5l-1,1l-1,-1v-2l-2,-2v-1ZM603,391l1,-1h1l1,-1h2l2,2l-1,1h-3l-1,1ZM601,387l2,2v2l-1,1h-1l-1,-1h-1l-1,-1v-1l1,-1h1ZM766,385l1,-1l1,1l-1,1ZM601,387v-2l1,-1h1l1,1v1l-2,2ZM607,384l1,-1h1l1,1l-1,1h-1ZM606,383l1,-1l1,1l-1,1ZM592,383l1,-1h1l1,-1h1l1,1v1l1,1v2l-1,1h-4l-1,-1ZM603,381l1,-1h1l2,2l-1,1h-2l-1,-1ZM533,381l1,-1l1,1l-1,1ZM542,380l1,-1h1l1,1h2l1,1l-3,3l-3,-3ZM762,377l4,3l1,4l-2,2l-4,1l-2,-3v-2l-2,-1v-2l1,-1l3,1ZM607,378l1,-1l1,1l-1,1ZM520,375h1l1,1v3l-1,1l-2,-2v-2ZM526,376v-1l1,-1h1l1,1l-2,2ZM537,374l1,-1h1l1,1l-1,1h-1ZM609,371l1,1v5l-1,1l-1,-1v-5ZM601,371h1l1,1v3l-1,1h-1l-1,-1v-3ZM529,372l1,-1h1l1,1v1l-1,1h-1l-1,-1ZM602,371l1,-1h1l1,1l-1,1h-1ZM533,371l1,-1l1,1v1l-1,1l-1,-1ZM605,370l1,-1h1l1,1v1l-1,1h-1l-1,-1ZM765,367l2,4l-1,4l-4,2l-4,-2l1,-5ZM525,369l2,-2h1l1,1v1l-1,1h-2ZM606,365l1,-1l1,1v1l-1,1l-1,-1ZM603,364l1,1v1l1,1v1l-1,1l-2,-2v-2ZM521,363l1,1v2l-1,1h-1v1l1,-1l1,1v2l2,2l-2,2h-1l-2,-2v-2h-1l-1,-1l1,-1l-1,-1ZM538,363l1,-1h1l1,1v1l-1,1h-1l-1,-1ZM536,362h1l1,1v2h1l1,1v1l-3,3h-2l-1,-1v-1h-2l-1,-1ZM525,362l1,1h1l1,1v1l-1,1h-1l-1,1l-2,-2v-1ZM530,361l1,-1l1,1l-1,1ZM514,360l1,-1l1,1l-1,1ZM594,360v-1l1,-1h2l1,1l-2,2h-1ZM531,359l1,-1h1l1,1v2l-1,1l-2,-2ZM515,362v-1l1,-1v-1l1,-1h4l1,1v1l1,1l-1,1h-1l-1,-1h-1l-1,1h-1l-1,1ZM601,358l1,-1l2,2l-1,1h-1l-1,-1ZM541,358l1,-1l1,1v1l-1,1l-1,-1ZM514,357l1,-1h1l1,1v1l-1,1h-1l-1,-1ZM601,355l1,1v1l-1,1h-1l-1,1l-1,-1v-1l2,-2ZM595,356l1,-1l1,1l-1,1ZM512,355l1,-1l2,2l-1,1h-1l-1,-1ZM588,354l1,-1l1,1l-1,1ZM519,353l1,-1l1,1l-1,1ZM716,354l3,-3h1l2,2h1l1,1v1l-1,1h-1l-2,-2v1l-1,1h-1ZM596,351l1,1l-1,1v2l-1,1h-1v2l-1,1l-3,-3v-1l1,-1h2v-2l1,-1ZM551,352l1,-1l1,1l-1,1ZM534,354l1,-1v-1l1,-1l1,1v1l1,1l-1,1h-2ZM527,351h1l1,1v1l1,1v1l-1,1v2l-1,1h-2l-1,-1l1,-1l-1,-1h-1l-2,-2l1,-1h1l1,-1h1ZM588,351l1,-1h1l1,1v1l-1,1h-1l-1,-1ZM548,351l1,-1h1l1,1l-1,1h-1ZM537,351l1,-1h1l1,1l-1,1h-1ZM512,350l1,1v1l-1,1h-1l-1,-1ZM593,350l1,-1l1,1l-1,1ZM574,350l1,-1h2l1,1v1l1,-1h1l1,1h3l2,2v2l-1,1h-1l-1,-1v-1l-1,-1h-1l-1,1h-1l-1,-1h-1l-1,-1v-1h-1ZM570,350l1,-1l1,1h1l1,1l-1,1h-2l-1,-1ZM543,350l1,-1h1l1,1l-1,1h-1ZM541,350l1,-1l1,1l-1,1ZM711,349l1,-1l3,3h1l1,1l-1,1h-2l-3,-3ZM611,349l1,-1l1,1l-1,1ZM548,349l1,-1l1,1l-1,1ZM509,347l1,1v2l-1,1v1l-2,2l-1,-1h-2l-1,-1l1,-1v-2l1,-1l1,1v1v-1l1,-1h1ZM526,347l1,-1h3l1,1h1l1,1v1l-1,1h-5l-1,-1ZM511,347l1,-1h1l1,1v1l-1,1h-1l-1,-1ZM590,346l1,-1l1,1h1l1,1v1l-1,1h-2l-1,-1ZM533,346l1,-1h1l1,1h1l1,1v1l-1,1h-1l-1,-1h-1l-1,-1ZM588,344l1,1l-3,3h-1l-1,-1v-1l1,-1h1l1,-1ZM512,345l1,-1l1,1l-1,1ZM592,344v-1l1,-1h1l1,1l-2,2ZM509,343l1,-1h1l1,1v1l-1,1h-1l-1,-1ZM596,342l4,-1l3,3l-1,2l1,2l-1,1l2,-1l1,-4l2,-2l1,1v5h2l2,2l-1,2h-3l-1,3l4,2l-2,2l-5,-2v-4l2,-1v-1h-1l-2,3l-5,-1l-2,-2l1,-2l3,2v-1l-4,-3l-1,-3ZM543,342l1,-1h1l1,1l-1,1h-1ZM536,342l1,-1l2,2v1l-1,1l-2,-2ZM578,341l1,-1l1,1l-1,1ZM582,339l2,2l-2,2l-2,-2ZM608,339l1,-1l1,1l-1,1ZM537,338l1,-1h1l1,1l-1,1h-1ZM511,338l1,-1h1l1,1l-1,1h-1ZM552,337l1,-1h1l1,1l-1,1h-1ZM542,337l1,-1l1,1l-1,1ZM519,336l1,1v1l-2,2l-1,-1v-1ZM612,336l1,-1h1l1,1l-1,1h-1ZM577,335l1,-1h1l2,2v1l-1,1h-1l-2,-2ZM532,334l1,1v1l-2,2h-1l1,1v1l-1,1h-2l-1,-1v-1h-1l-1,-1v-2l1,-1h2l1,-1ZM658,334l1,-1h1l1,1l-1,1h-1ZM552,334l1,-1l1,1l-1,1ZM539,336v-2l1,-1h1l1,1v1l-2,2ZM601,333l1,-1h1l1,1h1l1,1v1l-1,1h-2l-2,-2ZM664,332l1,-1h1l1,1v1l-1,1h-1l-1,-1ZM598,332l1,-1l2,2l-1,1h-1l-1,-1ZM536,332l1,-1h1l2,2l-1,1h-2l-1,-1ZM521,331l2,2l-1,1h-1l-1,1l-1,-1v-1ZM553,331l1,-1h1l1,1l-1,1h-1ZM580,329l1,1h1l1,1h1l1,1v1l-1,1v1l-1,1h-1l-4,-4v-1ZM546,330l1,-1h1l1,1v1l-1,1h-1l-1,-1ZM666,329l1,-1l1,1l-1,1ZM606,329l1,-1h1l1,1v1l-1,1h-1l-1,-1ZM585,328h5l4,5v2l-4,5l-2,-1v-8l-4,-2ZM579,326l1,-1l1,1l-1,1ZM537,326l1,-1h3l1,1v2l-2,2l-2,-2v-1ZM572,325l1,-1l1,1l-1,1ZM552,324l1,1v1l-1,1h-1l-1,-1ZM710,329l-2,1l1,1l-2,2l-2,-1l-1,4l-2,2l-3,1l-2,-2l-4,2h-3l-1,-1l-2,-7l2,-3l3,1l1,-3l2,-1l1,1l2,-3l3,-1l5,4v-2l1,-1ZM588,323l1,-1h1l1,1v2l-1,1h-1l-1,-1ZM547,319l1,-1l4,4l-1,1h-1l-1,1h-1l-1,-1ZM535,319l1,-1h1l1,1l-1,1h-1ZM599,317l2,2v2l-1,1h-3l-1,1l-1,-1v-1l-1,-1l3,-3ZM566,318l1,-1l1,1l-1,1ZM1161,317l1,-1l1,1l-1,1ZM611,319v-1l1,-1h1l1,-1h2l1,1l-1,1h-1l-1,1v1l-1,1ZM575,315l1,1v1l1,1v2l-1,1l-2,-2v-3ZM564,315l1,1v3l6,-1l1,-2l1,1v4l-2,2l-1,-2h-1l-4,3l1,3l4,-1l7,4l-3,2v1l2,1v3l2,2l-4,5l-1,3l-3,-2l-2,7l-2,-1l-4,1l-2,-2l1,-1l-1,-1l3,-2l-1,-1l1,-4h-3l-1,-1l-3,1l-1,-1l2,-2v-3l-1,1l-2,-1l2,-4l2,1l2,-1l1,3l5,1l-1,-2h-3l-1,-2l-2,-1v-3l1,-1h-3l-1,1l-2,-2l3,-3l6,1l-3,-5ZM539,317v-1l1,-1h2l1,1l-1,1h-1l-1,1ZM531,316l1,-1l1,1l-1,1ZM547,315l1,-1h1l2,2l-1,1h-1ZM617,314l1,-1l1,1l-1,1ZM563,314l1,-1l1,1l-1,1ZM559,313l1,-1l1,1l-1,1ZM585,311h1l2,2v1l1,1v1l-1,1h-1l-1,-1v1l1,1v2l-1,1h-1l-1,-1v-3l-1,-1v-3ZM564,313v-1l1,-1h1l1,1l-2,2ZM768,311l1,-1l1,1l-1,1ZM580,310l1,1v2l-2,2h-2l-1,1l-1,-1v-1l1,-1v-1l2,-2ZM581,310l1,-1h2l1,1v1l-1,1h-1ZM761,309l1,-1h2l1,1l-2,2ZM622,325l1,-5l4,-4h3l3,-5l6,-1l3,2l3,-2l1,-2l2,3h3l2,3l8,-2l3,-2l6,5l6,-2l6,5l2,4l-2,3l-6,3l-9,-3l-2,2l-6,2l-2,-2l-2,2l1,3l-1,2h-2l-3,-3h-2l-1,-3h-2l-4,3h-8l-7,-5l-2,1ZM568,306l1,-1h2l1,1v2l-1,1h-1l-2,-2ZM547,305h1l2,2v1l-2,2l-1,-1h-1l-1,-1v-1ZM559,305l1,-1l1,1l-1,1ZM579,303l1,-1l1,1v1l-1,1l-1,-1ZM556,303l1,-1l1,1l-1,1ZM564,301l1,-1h1l1,1v1l-1,1h-1l-1,-1ZM578,299l1,1v1l-1,1v1l1,1l-1,1h-3l2,2v1l-1,1h-1l-2,-2v-2l-1,-1v-2l1,-1h2l2,-2ZM559,300l1,-1h1l1,1l-1,1h-1ZM598,298l1,-1l1,1v1l-1,1l-1,-1ZM571,297l2,2v2l-1,1l-2,-2v-2ZM566,298l1,-1l1,1v1l-1,1l-1,-1ZM602,297l1,-1h2l1,1v1l-1,1h-1ZM574,297l1,-1l2,2v1l-1,1l-2,-2ZM584,290l1,-1l1,1l-1,1ZM593,289v-1l1,-1h1l1,1l-2,2ZM650,280h3l1,1v3l1,1v4l-1,1l-1,-2l-2,-1l-2,1l-1,-1v-5ZM614,273l1,1l3,-1l2,2v3l-1,1h-2l-2,-3l-1,3l5,3l-3,2l-5,-4v-3l-1,-1ZM591,272l4,6v3l-3,4l1,2l-1,1l-3,-3l-6,1l-1,-1v-7l3,-4l1,1h3ZM614,272l1,-1h5l1,1v1l-1,1h-1l-1,-1h-3ZM559,270l1,-1l1,1l-1,1ZM558,265l1,-1l1,1v1l-1,1l-1,-1ZM566,256l2,3v3l3,4l-1,3h-3l-1,-1v-5l-4,-3v-1ZM559,256l1,-1l1,1v1l-1,1l-1,-1ZM581,253l1,-1l1,1v1l-1,1l-1,-1ZM553,253l1,-1l2,2v1l-1,1h-1l-1,-1ZM621,248l1,-1l1,1l-1,1ZM629,245l1,-1l1,1v1l-1,1l-1,-1ZM614,240v-1l1,-1h1l1,1l-2,2ZM571,235l1,1h2l1,1v2l-1,1v1l-1,1l-1,-1l-2,2l-1,-1v-1l-2,-2v-1l3,-3Z"/>
<path fill="#4d4d4d" stroke="#4d4d4d" stroke-width="1" stroke-linecap="square" fill-rule="evenodd" d="M488,579l1,1v5h2l1,-1h2l1,-1l1,1v-1l-1,-1h-1l-1,1l-4,-4ZM486,572v2l1,-1ZM455,555h-1l-1,1v1ZM452,554h0M445,549l1,1v2h4v-3l1,-1l1,1v1l1,1l-1,1h2l1,1v-1l-1,-1v-1h-1l-2,-2h-1l-1,-1h-1l-1,-1l1,1l-1,1h-1ZM445,534h0M444,532h0M433,530v1l1,1h1ZM438,528l-1,1v3v-1l2,-2ZM440,527l1,1v1v-1ZM710,525h0M607,497h0M525,496h-1l-1,1l1,-1ZM602,494h0M606,492v1l1,1l-1,1h2l1,-1v-1l-1,1h-1l-1,-1ZM479,487h0M682,469l-1,1l1,1v4l1,1v1l1,1h1v-2l1,-1h1v-3l-1,-1h-1l-1,-1h-1ZM607,468h0M611,451l4,3l9,-1l2,2v-4l-1,-1h-4l-1,1l-7,-1ZM636,449v2h1l2,3h6l1,-1v-5h-9ZM631,448v1h1v-1ZM642,446h1M720,449l-4,2l-5,-2l-3,2h-2l-1,-1h-3l-3,-5l-3,2l3,4l1,6l-1,1l3,5l-3,2v7l-7,3h1l3,4v6l1,1l1,10l1,1l-3,7l-4,5l-2,-1l-2,2l1,2l-3,1l-2,4l-1,-1l-2,2l-4,8l-3,-1l-3,3v2l-2,1l5,6l13,4l1,-2l2,1l3,-2l1,1l3,-1l2,1h6l5,-3v-1l-3,-2l2,-2h3l-1,-2l-3,1l-5,-5l4,-5h3l-2,-3l2,-1l3,2l1,2l-1,2l1,5v-2l7,-7l1,-2v-5l1,-2l2,-1v-3l7,-2l2,-5l-1,1l-2,-1v-1l2,-1l-1,-1l1,-7h-1l-1,-2l2,3l-2,1l-3,-3l2,-5l-6,-2l4,-3h3l1,1l-6,-15l-2,1l-2,3l-1,-1l-1,-6l3,-1l1,-5ZM705,536l1,-1l1,1l-1,1ZM698,535l1,-1l1,1l-1,1ZM699,534l1,-1l1,1l-1,1ZM692,533l1,-1h1l1,1l-1,1h-1ZM690,533l1,-1l1,1l-1,1ZM672,534l2,-2h1l1,1l1,-1h1l1,1l-2,2h-2l-1,1ZM671,530l1,-1h1l1,1l-1,1h-1ZM704,527l1,1v1l-2,2l-1,-1v-1ZM677,526l1,1v2l-1,1l-2,-2ZM702,524l1,1v2l-2,2h-3l-1,-1v-1l1,-1h2v-1l1,-1ZM686,525l1,-1l2,2h1l1,-1h2l1,1v1l-1,1h-5l-2,-2ZM694,522l2,2l-2,2l-2,-2ZM684,522l1,1v3l-2,2h-1l-1,-1v-3l1,-1h1ZM700,521l1,-1l1,1v1l-1,1l-1,-1ZM692,520l1,-1h1l1,1l-1,1h-1ZM701,518l1,-1l2,2l-1,1h-1l-1,-1ZM689,518l1,-1l1,1v1l1,1l-1,1h-1l-1,-1ZM698,517l1,-1l1,1l-1,1ZM708,510l1,-1h1l1,1l-1,1h-1ZM699,506l2,2v2l-1,1h-2l-1,-1v-2ZM728,501l1,-1h1l1,-1l1,1v1l-1,1h-2ZM725,498l1,-1l2,2l-1,1h-1l-1,-1ZM712,498l1,-1h1l1,-1l2,2l-2,2h-1ZM711,494l1,-1l1,1l-1,1ZM727,491l1,-1l1,1v1l-1,1l-1,-1ZM697,487l1,-1l1,1l-1,1ZM717,476l1,-1l1,1l-1,1ZM713,476l1,-1l2,2l-1,1h-1l-1,-1ZM703,475l1,1v2l1,1l-1,1h-1l-1,-1v-3ZM711,473l2,-2h1l1,1v1l-1,1h-2ZM699,472l1,-1h1l1,1v1l-1,1h-1l-1,-1ZM726,471l1,-1h1l1,1v1l-1,1h-1l-1,-1ZM725,468l1,1v1l-1,1h-1l-1,-1ZM703,468v-2l1,-1h1l1,1v1l-2,2ZM719,463l1,1v4l-1,1l-1,-1v-1l-1,-1v-1ZM717,461v-1l1,-1h1l1,1l-2,2ZM709,458h3l3,5l-2,2l-1,-1l1,4l-2,2l-3,-6l1,-3l-1,-2ZM719,458l1,-1l1,1v1l-1,1l-1,-1ZM702,458l1,-1h2l1,1v1l-1,1h-2l-1,-1ZM711,457l1,-1h1l1,1l-1,1h-1ZM716,455l1,-1l1,1l-1,1ZM720,453l1,1v2l-1,1l-1,-1v-2ZM721,452l1,-1l1,1l-1,1ZM709,452l1,-1h1l1,1v1l-1,1h-1l-1,-1ZM606,443v2l-1,1l1,1v1l1,1v-2l1,-1v-2l-1,-1ZM708,430l-3,2l-3,5l1,3l4,2v-1l2,-2h2l2,-3l-3,-1l-2,-3l2,-1ZM706,431l1,-1h1l1,1l-1,1h-1ZM612,417v1M598,411v1M576,395l2,2l1,-1l1,1l2,-2h-3l-1,-1h-1ZM590,387h-1l-1,1h-1h2ZM547,385l-1,1h-1l-1,-1v-1l-1,-1v1l-2,2v1l-1,1h-1v1l-1,1v1l1,-1h1l1,1v1h3l2,-2h1h-1l-1,-1l1,-1v-1l1,-1ZM539,383h0M683,382h-4l-3,2h-5l-1,-1v2l-2,2v3l3,1l3,-2l8,-1v-5ZM536,381h-1l-1,1l1,-1ZM540,375h-3l-1,1h-1v1l1,1v1h1l3,-3ZM545,368v1h1ZM551,361h1M557,359v1M514,359v3h1v-1l1,-1l-1,-1ZM514,360l1,-1l1,1l-1,1ZM567,349h0M518,349v1l1,1l1,-1l-1,-1ZM556,347h0M563,346h0M574,345l-1,2l-3,-2l-2,7l-2,-1l-4,1l-2,-2l1,-1l-3,-3v3h1l3,4l-3,2l-1,2l2,2v2l2,-1l2,4l2,-3l-1,-5l7,-3h3l1,-2l-2,-1l2,-1v-1l-2,-1ZM562,358l1,-1l1,1l-1,1ZM570,350l1,-1l1,1h1l1,1l-1,1h-2l-1,-1ZM1382,344l-1,2l-3,1h-6l-2,-2l-4,8l1,3l-2,3l1,12l3,6h2l3,2l1,-1l1,1h5l5,-3l7,-2l1,-2l2,-1v-4l2,-2l-1,-1v-6l1,-1l-1,-3l-9,-7ZM673,345l5,11l8,5l1,3l4,2l4,-3h2v-3l-3,-1l-12,-13l-7,-2ZM653,340v2h2ZM1435,339l-6,1l-2,2l3,8l6,-2v-8ZM610,339l-2,4v5h2l2,3l-3,1l1,2l-1,2l2,1l-3,5l1,3l-1,4l2,3l-1,10l2,3l1,15l2,2l-1,3l2,1v6l2,4l10,1l1,1l4,-1l2,3h2l2,-2h7l2,-2v-2l6,-6v-3l-1,-1v-3l-5,-9v-2l-5,-7l2,-6l4,-3h-1l-1,-2l2,-2l1,1l1,-3l-2,-3l1,-1h-2l-2,-2h-1l-1,2l-1,-1v-3l-6,-5v-2l3,-2l-1,-7l2,-1l-2,-3h-2v1l-2,1l-1,-1l1,-1l-3,-1l1,2l-1,2l-1,-1l-13,1l-5,-4ZM620,416l1,-1h1l1,1l-1,1h-1ZM630,409l1,1v1l-1,1h-1l-1,-1ZM623,406h1l1,1v4h2l1,1l-2,2h-2l-1,-1h-2l-1,-1v-1l1,-1h1v-3ZM638,389l1,-1h1l1,1l-1,1h-1ZM613,379l1,-1h1l1,1v1l-1,1h-1l-1,-1ZM629,377l1,-1l1,1l-1,1ZM624,366l1,1v1l1,1v1l-1,1h-2l-1,1l-2,-2v-1l1,-1h2v-1ZM645,365l1,1v1l-1,1h-3v2l1,1l-1,1h-1l-3,-3l1,-1h1v-1l1,-1h1l1,-1ZM611,349l1,-1l1,1l-1,1ZM501,339v1M548,336h0M546,335l-1,1ZM643,330h0M539,329h0M627,327v1l2,2v2l2,2h3l3,-3h-4l-1,-1h-1l-2,-2h-1ZM513,327l-2,2l-1,-1l1,1l-2,2h1v-1l1,-1h1l1,-1ZM539,325h2M622,324h0M624,318l-1,1v1l-1,1v1l1,-1v-1l1,-1ZM542,317h0M536,318h1l1,1l-1,1h3l-2,-2l1,-1l-1,1l-1,-1ZM533,317l1,1ZM583,316l-1,1h1ZM629,310v1M583,306h1M589,305h1l1,1v1l1,1h2v-1l-1,-1l1,-1v-1h-3l-1,1ZM591,305l1,-1h1l1,1l-1,1h-1ZM587,304v1M544,306v1l2,2v1l1,-1h-1l-1,-1v-1l2,-2h1l2,2v1l-1,1v1v-1l2,-2h2l1,1l-1,1v2l1,1h3l1,-1l-1,-1v-1l-1,-1h-1l-1,-1h-1l-4,-4h-1v1l-1,1h-1l-1,1ZM617,299l-1,1l-1,-1l-1,1v1l-1,1v1l-1,1v2l-1,1h-1l-1,1v2h2l1,-1h1v-2l-1,-1l1,-1h2v-4l1,-1h1ZM609,309l1,-1l1,1l-1,1ZM581,296v1M632,295h0M572,289v1h1ZM614,287v1l-4,3v5l1,2l3,-2l2,1h5l1,3v-3l1,-1l2,1l2,-1l-3,-7h-2l-4,-3ZM572,285v1M577,283h-1v2l-1,1h-1v2h1v-2l1,-1h1ZM648,279v1M650,277l1,1h1h-1ZM569,277h0M578,276h-1l-2,2h-2l-1,1l1,1h1l1,-1h1l2,-2ZM1521,284l-7,-7h-4l-3,3l-1,3h-2l-2,-2l-1,1l-2,-1l-2,1l-4,-2l-2,-3v-2h-2l-6,4l-8,10l-1,5l-4,3v3l-4,5v4l-1,1l1,3l-2,1v3l-8,11l-8,7v1l2,1l-3,1l-2,-3l-2,1l1,1l-2,2l-3,1v6l-1,1l1,2l6,5h5l2,-2h2v-2l3,-3l5,-2l1,-4l6,-8l3,-1v-3l2,-2l7,-1l4,-3h4l2,-3h2l2,-2v-2l3,-4l7,-1l4,-5h3l3,-2h4l2,-2ZM1497,284l1,-1l1,1l-1,1ZM595,275v1l1,1v-1ZM611,273l1,1v-1ZM582,271l-1,1h-1l-1,1v1l3,3h1l-1,-1l2,-2v-2l-1,-1ZM628,266v5v-1l1,-1h1l2,2v1h1l1,-1h2v-1h-1l-1,1l-1,-1v-1l-1,-1h-1l-2,-2ZM594,263l1,1h2l1,1l1,-1l-2,-2h-2ZM555,261v1l2,2v1l-1,1h2v-1l1,-1l-2,-2h-1ZM617,259h1M578,258v5l2,2v1h1l1,-1v-3ZM628,254h-2v1l-1,1l1,1v2l-2,2h3v-1l1,-1v-2l-1,-1l1,-1ZM624,253l-1,1ZM595,252l-1,-1l-1,1h-1ZM590,246l-1,1l2,2l-1,-1ZM564,243h-1l-1,-1l-2,2l-1,-1h-1l-1,1h-1v4l1,1l1,-1h1v-1l1,-1h2v-1l1,-1h1ZM594,245h3l1,1l-2,3l3,1l-1,2l1,1h3l3,3l4,-2l6,-1l5,-7l-2,-3l-8,-1l-1,-1h-9l-3,-1l-2,1ZM604,241h1l1,1l-1,1v2l1,1l-1,1h-1l-1,-1v-1l-1,-1v-1ZM548,237v3l1,-1l1,1v-1l-1,-1v-1ZM582,236h1M602,234h0M1107,310v-5l-2,-2l1,-7l-11,-6h-7l-1,-1l3,-5l10,-6v-2l-10,-1l-6,4l-24,12l-11,2l-6,3h-7l-5,-7l-3,1h-8l-1,-1l24,-17l20,-10v-2h-4l-5,-2h-6l-1,-1h-6l-10,-4l-11,3l-8,-4h-10l-10,-7h-4l-6,-2l-3,1h-11l-1,-1l-12,-2l-2,-4l-1,-7h-3l-4,-3l-4,1l-1,-1l1,-1h-1v3l-2,5h-326h1l6,7h3l4,3h3l1,-1h9l1,1l2,-1h7l1,1h3l4,-6h1l1,2l3,-1l2,3v3l3,4v2h2l1,2h8l6,3l2,2v2l6,-1l2,3l2,1l3,-2l3,1l1,-1h6l12,13l6,3l7,1l3,2h2l2,3h3l2,3v5l1,1v5l-4,3v1l7,3l4,3l2,12l6,2h4l7,5h4l1,3l5,1l3,-2h6l5,-3l2,2h2l5,3h4l7,3l9,-1l4,5l15,8l6,7l-2,7l3,1l-2,3v2l2,2h2l3,-2l6,1v-3l-1,-1l1,-1l-2,-3v-2l4,-5h7l7,4h3l4,3l9,-1l4,2l4,4l1,2l-1,1l2,1l10,-1v-2l2,-2v-5l-1,-1l1,-3v-10l-4,-6l1,-1l2,1h3l1,-1l2,3l2,1l3,-3h3l4,3h7l1,2h7l5,-2l7,-5l5,3l3,-4h2l3,-2l5,3l1,-1l6,1l8,9h3l3,-2l2,1h10l7,-6l1,1l1,-1l8,1l6,6l1,-1h7l6,-4l2,1h7l3,2l3,-2h9l3,-2l6,-1l1,-1l-1,-3l1,-2l2,-1l1,-5l3,-1l4,-6l3,1l2,-2l2,1l3,-1l3,-3v-3ZM768,311l1,-1l1,1l-1,1ZM761,309l1,-1h2l1,1l-2,2Z"/>
<path fill="#ff4500" stroke="#ff4500" stroke-width="1" stroke-linecap="square" fill-rule="evenodd" d="M713,669h-1l-2,2h2l1,-1ZM688,669l-1,1h1ZM728,668v1M741,659v1h1ZM713,656v1h1v-1ZM636,647v1l-1,1l1,1h2v-1l-1,-1v-1ZM479,645l-1,2l1,10l1,-1l3,1l-3,5l4,-5h2l1,3h2l2,-2l1,3v-4h-4l-4,-3v-2l4,-3l-3,-3ZM481,649l1,-1h1l1,1v1l-1,1h-1l-1,-1ZM475,643v1l1,1l1,-1l-1,-1ZM635,639h0M636,637h0M665,631l1,1ZM488,631l-1,1v2l-1,1v5l-2,2l1,1v1h2v-2l1,-1h1l4,4v2l1,1v1l-1,1h-1l1,1v2h3h-1l-1,-1v-4l-1,-1v-2l-2,-2v-1l-1,-1v-2l1,-1v-1l-1,-1l-2,2h-1l-1,-1v-1l1,-1v-1l1,-1ZM602,630l-2,2v11l1,2l2,1v2l4,2l1,-3h5l1,-4l-3,-2l3,-2v-7l-1,-1l-6,1l-2,-2ZM605,640v-2l1,-1h2l1,1v1l-2,2h-1ZM663,627h0M609,627h2l1,1h1l1,-1h1v-1h-4l-1,1ZM484,626h0M661,626l-2,-2l-2,2h-1l-1,1h-1l-1,1h-2v2h2l1,1h2l1,-1h1v-1l-1,-1l2,-2ZM1173,617h0M676,615l-1,1v4l4,6v7l4,-2l1,1v3l3,1l3,3l1,3l-3,5l-4,-4l-2,1h-4l-1,-1l-6,1l-1,-1l-3,3l1,2l-1,2l-4,3l-1,4l-5,4l-2,-2v-4h-2l-2,-2l1,5l2,3l-1,2l1,3l-1,4l1,2v-7l4,-4l7,1l1,1v5l-1,1l-2,-1l-2,2v4h3v-1l4,-3v-3l1,-1l-4,-6v-5l4,-2l-1,-3l2,-2l2,3h2l1,-3h3l2,-2l4,-1l5,5l-4,3h-3l-1,-1l-3,2h-2v3l-1,1l-1,-1l-2,1l-1,2l1,1l3,-1l1,3l3,2l1,-1v-5l4,-2l1,1v5l-2,2v3h2v-4l2,-2h2l4,5v4l1,1h5l2,-4l-1,-2l-2,-1l-1,-2l-5,1l-5,-4v-2l2,-2h2l3,-2l2,3h2l1,-3l-2,-3v-8l-2,1l-3,-1l1,-2l-1,-2v-5l4,-2v-3l-1,-1h-4l-10,-3l-6,-6ZM696,668l1,-1l1,1l-1,1ZM685,630l1,-1h2l2,2l-2,2ZM413,613v2h2v-1l-1,-1ZM657,611v2l2,2v-4ZM726,604l1,1v-1ZM673,602v3l4,4v1v-1l-1,-1v-2l-1,-1v-1ZM517,602l-1,1l-1,-1l-1,1v1h1ZM502,602h0M671,601h0M664,601h2M511,599v1h1v-1ZM421,599h0M705,598v2l1,1v1l1,-1v-2l-1,-1ZM700,597h-1v1ZM495,596h-1v2l-1,1h1l1,-1ZM418,596l1,1ZM498,594h1l1,1v3l-1,1v1l1,-1l1,1v-3l1,-1l-1,-1h-1l-1,-1ZM718,593l-1,3l-3,3v3l-2,2v6l-1,2l2,3v2l-3,4l-3,-1l-3,3l1,4l-3,3v4l5,7h7l2,-2h2l3,3l5,3h2l2,2l-3,4h-3l-1,-1l-5,3v6l3,1l-1,3l2,2v-1l3,-2l7,1v-3l-5,-4l-1,-3l4,-3l3,2h2l3,-2l4,-8v-3l1,-1l-1,-1l2,-1l1,-4l-3,-1v-2l4,-3l3,2l-1,-3l-3,1l-3,-1l4,-4v-2l3,-2v-2h-2v3l-5,5l-7,-7l-4,-1l-2,-2l1,-1l2,1l5,-1v-3l2,-2h3l1,-4l3,-3l3,2v2v-4h-5l-1,1l-2,-1l-2,3l-4,-3l2,4l-1,1l-4,-1l-3,5h-3l-2,3l3,5l-1,4l-2,1v4l1,1l-1,3l3,2v6l-4,3l-5,-3l-2,-3l-1,1h-3l-1,-1l2,-3v-6l2,-3l-1,-10l3,-2l4,2l-1,-5l-4,-6v-2l2,-2ZM720,653l1,-1h1l2,2l-2,2l-2,-2ZM737,640l1,1v3l-1,1l-2,-2v-1ZM729,639h1l1,1v2l-1,1h-1l-2,-2ZM733,631h2l2,2l-1,1v1l-2,2l-3,-3l1,-1v-1ZM706,631l1,1v2l-1,1l-1,-1v-2ZM726,625l1,-1h2l1,1h3l1,1v2l-1,1h-3l-1,-1h-1l-2,-2ZM730,619l2,-2h1l1,1v1l-1,1h-2ZM742,602l1,-1l1,1l-1,1ZM741,601l1,-1l1,1l-1,1ZM506,593h3l1,1v1v-2ZM497,592h1M501,591v1l1,1h1h-1l-1,-1ZM493,590l1,1h1l-1,-1ZM490,590h0M1155,584l-3,3h-1l-1,1h-1l-2,2h-1l-1,1h-1l-1,1h-1v1h1l1,-1h2l1,-1l1,1h1l2,-2v-1l1,-1v-1ZM487,583h0M468,582l1,1h2l1,1h3l2,2h3l1,1l-1,1h-1v1l2,2l1,-1h2l2,-2h3h-2l-1,-1l-2,2h-1l-1,-1v-1l3,-3h-3v1l-1,1h-3l-1,-1h-1l-1,-1h-3l-1,-1h-2ZM394,586h4l2,2l-1,2h-2l1,2l3,2v2l3,1v3l2,1v2l5,3l-2,2l-2,-2l3,7h1l-1,-2l1,-3l8,6l2,-1l1,1l-1,-1l1,-2h4l1,1v3l2,-1l3,1l-1,2h-2v4l5,-6v-1h-3l-1,-1v-2l2,-1l1,-3l2,-2l3,3l1,-2h2l1,2h3l1,2l-1,1h-3v1l2,1l-2,2l-1,4l-6,8l3,-2l2,4h4l4,-2h3l-1,-2l2,-1l2,3l2,-2l1,1v5l1,2l4,3l-2,4l5,1l3,2l3,-1l2,-4l3,1l1,-1l1,1l2,-1l1,-2l-3,-1v-4l-2,-2l1,-2l-2,-2l4,-5l-5,5l2,3v3l-4,2l-2,-1l-1,-3l1,-1v-3h-1l1,2l-3,1l-3,-4v-3l-2,-4l1,-1h5v-5l-1,-1l-2,1l-3,-3l-6,3l-2,-2l3,-3h3l-6,-1l-1,2l-3,-3l-5,2l-3,-4l-1,1l-2,-1l-2,3h-3l-2,-3h-4l4,2l-3,3l-1,3h-3l-1,1l-5,-1l-1,-2l3,-2l2,-3l2,1l1,-1v-3l-3,2h-3l-4,-2l-2,-2v-4l-1,-1l1,-2l-2,3h-6l-2,-2h-2l-2,-2l1,-4l-2,-4l-3,4ZM474,634l1,-1h1l1,1v1l-1,1h-1l-1,-1ZM470,632l1,1v5l-1,1v1l-2,2h-2l-1,-1v-1l1,-1h1l1,-1v-5l1,-1ZM459,619h2l2,2v3l4,6l-3,5l2,2l-1,1l-3,-1l-1,-5l-3,-1v-3l1,-1l1,1v-1l-5,-4v-1l3,-1ZM451,619l1,1v1l-2,2l-1,-1v-1ZM457,616l1,-1h1l1,1v1l-1,1h-1l-1,-1ZM464,614l1,-1l1,1v1l-1,1l-1,-1ZM461,612l1,-1l1,1l-1,1ZM454,612l1,3l-3,2l-2,-1l-2,2l1,2l-2,4h-3l-2,-4l3,-1l-2,-1l-1,-2l2,-2h3l2,-3l1,2h3ZM447,607v-1l1,-1h1l1,1l-2,2ZM407,596l1,-1h1l1,1l-1,1h-1ZM689,579v1M645,579h-1v1ZM578,579h-1v2l1,-1ZM701,581l1,1l2,-2h2l4,2l1,5l-2,4h1l3,-4v-2l4,-2l-2,-3l-3,-1l-2,1l-3,-2l-2,1l-3,-1ZM699,578h-1l-1,3l-3,1l-3,-1l1,8l3,3l-2,2l-4,-3l-4,1l-2,3l2,3l-2,2h-3h6l2,-3l3,1l2,-2l6,-2l-1,-5l-3,-1l-2,-3l2,-2l4,-1ZM688,594l1,-1h1l1,1v2l-1,1h-1l-1,-1ZM752,576l-3,2h-2l-2,3l-8,1l-8,4l2,1l2,-3l3,1v3l1,1l-3,3h-2l3,5l4,-3l3,1l3,-4h5l1,-2l6,-5v-2ZM750,580l2,2v1l-1,1h-2v2l-1,1l-1,-1v-1l-1,-1l2,-2v-1l1,-1ZM1222,575h0M461,574v2l4,4h2h-2l-4,-4ZM1159,573l-13,9l-3,3l-1,3l13,-8l1,-3l3,-2ZM446,573l-1,1v1l1,-1ZM460,572h0M1172,568l-1,1h-5v2l3,3h1l2,-2ZM1169,565h2l1,1l-1,-1ZM443,560l-1,1v2l-3,3h-2h1l1,1h1l2,2v-3l-1,-1v-1l1,-1v-1l1,-1ZM657,557v2l3,2v2l-3,1v2l-4,5v5l3,1l3,-3l7,7v2h8l4,-4l-2,-8l3,-4h2v-4l-1,-1h-4l-3,4h-4l-5,-5v-3l-1,-1l-3,1ZM586,556h1M550,554v1l-3,2l-1,3v4l6,4v5l-2,3v3l4,3v2h3l1,1l-1,2l1,2h6l1,-2l-1,-2l2,-2v-2l-2,-2l2,-4l-2,-3l3,-2l-1,-3l-2,-1v-2l-3,-3v-2l3,-3l1,-3l1,2l4,2l-1,2l4,-1v-4l-1,-1h-8l-3,1l-2,3h-4l-2,-4ZM554,568l1,-1h2l1,1v1l1,1l-1,1h-2l-2,-2ZM435,553l1,1v1l-1,1h3l1,1v1h1v-1h-1l-1,-1v-1l-1,-1v-1ZM594,553l-5,3l4,3v2l-2,1v1l2,-1l1,-2h2l2,2l-1,1l1,4l-3,1l-4,-2l-1,4l-5,2l-5,6l2,4l-3,2l1,10l-2,2l-6,1l-2,3l3,2l-1,1h-5l-4,2h-2l-2,-2l-1,2l1,6l3,2l4,-3h7l1,1l3,-1l1,1v2l-2,2l1,1l6,-1l6,-4h2l1,1l-1,2l3,2l4,-3h4l2,2l2,-1l2,1l5,-2l2,2h2l2,2l-1,7l1,1h4l2,3l-2,7l1,1l-3,2l1,3l-1,5l1,3l4,1l1,-1v-3l-1,-1l4,-2l1,-3h2h-3l-1,-1l1,-2l-1,-2l1,-1h5l4,-2l3,2l2,-2l2,2l-2,3l2,1l1,-3l-2,-3l1,-1h3v-5l-2,-7l-4,-5v-5l3,-3l-1,-5l1,-1l3,3v-9l-6,1l-4,-5l2,-3l-3,-4l3,-9l5,-3l3,-4l-5,1l-3,5l-4,-1l-5,-6l2,-4l-1,-3l2,-1l5,5h2v-7l-1,-1h-4l-2,-2h-2l-1,2h-3l-1,-1l-4,1l-2,-3h-3v6l2,1l-1,2l-3,-1l-1,-2l1,-3l-3,-1l-1,-2l-9,1l-3,3l-2,-1v-2l-3,1ZM635,626l2,2l-3,3l-2,-2ZM646,624l1,-1l1,1l-1,1ZM637,623l1,-1l1,1l-1,1ZM635,621l1,1v1l-1,1h-1l-1,-1ZM627,622l1,-1h2l1,1v1l-1,1h-2l-1,-1ZM644,620l1,1v1l-1,1v3l-1,1h-1l-1,-1l1,-1v-1l-1,-1v-1l2,-2ZM628,613l1,1v1l-1,1v3l-2,2l-3,-3v-2l3,-3ZM599,607l1,-1h1l1,1h1l2,2v1l1,1l-1,1h-2l-1,-1h-2l-1,-1ZM605,605l1,-1h2l2,2h1l1,1l-1,1h-5l-1,-1ZM573,602l1,-1h2l1,1v2l1,1l-2,2l-2,-2v-2ZM636,599l1,-1h1l1,-1h2l1,1v1l1,1v2l-1,1h-2l-1,-1h-1l-1,-1v-1ZM618,594l1,-1h2l1,-1h1l2,2v1l-1,1h-4ZM629,591l1,-1h1l2,2v2l-1,1h-1l-2,-2ZM633,587l1,-1l1,1v1l-1,1l-1,-1ZM631,585l2,2l-2,2h-1l-1,-1v-1ZM595,581l3,1l-2,7l4,2v4l-2,1l-3,-4l-5,1l-4,-3l3,-4l2,1ZM588,581v-1l1,-1h2l1,1l-1,1h-1l-1,1ZM597,578l1,-1h1l1,1v2l-1,1l-2,-2ZM628,574h1l2,2v4l-2,2h-1l-1,-1v-1l-2,-2v-2l1,-1h1ZM596,573l1,1v2l1,1l-1,1h-2l-1,-1l1,-1v-2ZM604,566l4,3l3,-1l3,4h2l3,2l-2,2h-2l1,5l2,1l1,3h3l2,3l-1,2l-4,-3l-2,3l-2,9l-5,2l-3,-1l-2,-3l3,-4l4,-3v-2l-2,2h-2l-4,-3v-8l1,-1h5l2,-3l-5,2l-2,-1l1,-3l-3,-3v-3ZM599,561l1,-1l1,1l-1,1ZM625,557l1,1l-2,3l1,7l-5,3l-2,-2l1,-4l-2,-3l1,-1h3v-2l2,-2ZM598,558l1,-1h1l1,1l-1,1h-1ZM611,554l1,-1l1,1l-1,1ZM1207,549h-1l-1,1h-1l-2,2h-1l-2,2h-1v2l2,2l1,-1v-1l1,-1v-1ZM432,548l-1,1v1l1,1h2v-1l-1,-1v-1ZM1202,547h1M431,541h0M1138,539h0M375,538h0M1131,536l-1,1v3l1,1h1l1,1h1l1,1h1l1,1v-1l1,-1v-1l-1,1h-1l-2,-2v-2l1,-1l-1,-1ZM1181,535l-6,1v5l-1,1l2,2h4l2,-4ZM592,529h0M593,523h0M377,522h0M416,521l-2,2v2h1l1,1v2l1,-1l1,1h1l2,2v1l-1,1h-1l-1,1h-1l-2,-2v1h1l1,1l-1,1h2l1,1v1l2,2v1l-1,1v1l1,1h1l1,-1h3l1,-1h2h-2l-1,1h-3l-1,1h-1l-1,-1l1,-1v-2l-1,-1v-1l-1,-1v-2l1,-1h3v-1l1,-1h-1l-1,-1l1,-1l-1,1l-1,-1v-1l1,-1l-3,-3v-1h-1l1,1l-1,1h-1l-1,-1ZM416,525l1,-1h2l2,2v1l-1,1l-1,-1h-2l-1,-1ZM409,518l-1,1l3,3l-1,1h1v-3h-1l-1,-1ZM543,540v-7l-5,-8l-6,3l-1,4l-4,4l-3,-3l-1,-4l2,-2l1,1l6,-7l-3,-2l-2,1l-3,-3l-2,1v2l-2,2l-8,-1v3l-1,1l1,2v5l-2,2l1,1l-2,3v2l-2,2l-3,-1v-3h-5l-1,-1l1,-1v-10l-1,-1v-3h-4l-1,-1l-4,3l-3,1l-2,-1v3l-2,2l-1,4l-1,1l-3,-1l1,2l3,1l6,-7l3,3v6l1,1l-1,1l5,4h4l8,3l1,-3l1,3h6l1,-2h3l1,1h6l1,-1l2,1h10l3,-3ZM522,533h1l1,1v2l1,1l-2,2h-1l-2,-2v-2ZM495,529l1,1v1l-1,1v2l-1,1l-1,-1v-4l1,-1ZM520,526l1,-1h1l1,1v1l-1,1h-1l-1,-1ZM517,525h1l1,1v1h1l1,1v2l1,1v1l-1,1h-2l-1,1l-2,-2v-1l-1,-1v-1l1,-1v-2ZM463,515l-1,6l-2,2h-3l5,5l7,2l4,-2l1,-8l-1,-1h-5l-2,-3ZM406,515h0M1269,513l-3,3ZM629,513l1,1l1,-1ZM500,513h0M506,509l-1,1h-1v5l-2,2v3h3l1,-1v-4l1,-1h2v-2h-2l-1,-1ZM1128,508l-1,1v1l-2,2v2l2,2h2l1,-1v-3l-1,-1v-2ZM355,508l3,2v3l1,-1h3l1,1l2,-1l7,9v6l3,3v2l2,2l2,-1l3,1v2l-2,3l4,1l1,3l-4,3l-5,-6l3,6l4,2v12l1,1v-3l-1,-1l2,-6l3,-2l3,1v2l-3,2l2,2v2l-2,2v3l-2,4l1,4h2l2,2l-3,1v2l3,2h3l2,-2l2,1l4,-1l2,-3l1,2l3,2l-1,-3l-3,-1l1,-2l-2,-2h-2l-2,-2l-2,1l-1,-2h-2l-2,2h-2l-2,-2v-1l4,-3v-5l2,-2l-2,-6l2,-2v-2l-5,-7l-2,-1v-2l1,-1l5,1l-2,-4v-2l-3,-2v-4l-2,-3l-7,-5l2,-6l-3,2h-4l-1,-1l-6,1l-2,-2ZM391,570l1,-1h3l2,2v1l-2,2h-1l-3,-3ZM372,520l4,-4l3,2h5l2,7l-2,2h-3l-1,-1l-2,3h-2l-1,-2l2,-1v-1l-3,1ZM370,513l1,-1h1l2,2v1l-1,1h-1l-2,-2ZM411,507h0M361,503l-2,2l1,1h1ZM598,501h-3v1l1,1l-1,1v5v-3l2,-2v-1l1,-1ZM665,500h0M627,501l2,2h4l1,-1h1v-1l-3,-3h-1l-2,2h-1ZM351,497v1M649,490l-4,-1l-4,3l-2,-1l-3,3l2,2l-1,2l1,3l3,-1v-3l1,-1l7,2l-1,-3l1,-1ZM641,494l1,-1h1l1,1l-1,1h-1ZM661,488h0M396,488l-1,1v1h1l1,1v1l1,1h1l2,2v2l-2,2h1l1,1v2l1,1v4l1,1v1l1,1v1l1,1l1,-1h1l-3,-3v-2l-1,-1v-1l-1,-1l1,-1v-1l1,-1v-1l1,-1h-1l-2,-2l1,-1v-2v1l-1,1h-1l-1,-1v-1h-1l-2,-2v-1l-1,-1ZM654,490l1,-1l2,2l-3,1l2,4l3,2l2,3l2,-1l-1,-1l1,-2l3,-2l2,2l1,4l3,-2h5l6,8h1v-3l-1,1l-4,-4l4,-3l-6,-5l1,2l2,1v1l-3,2l-4,-6l1,-1l-2,-2l1,-1h-2v2l-2,1l1,4l-2,1l-4,-3l1,-2h2v-1l-2,-1l1,-2l-4,-2l2,2v3l-1,1l1,3l-2,3h-3l-3,-3l2,-6l-1,1l-1,-1ZM679,498l1,-1h1l1,1l-1,1h-1ZM672,494h1l2,2l-1,1v1l-1,1h-2l-1,-1v-2ZM399,481v1M734,479v1M603,478l-2,2ZM398,479h-1l-1,-1v2l1,1l-1,1h-4l-1,-1h-1h1l1,1h5v-2ZM735,475h-1v2l1,-1ZM623,473v1l1,1v-1ZM365,472l1,1ZM603,470h0M351,471l-1,1v4l-3,3v5l2,3l2,7h1l4,-6l4,-3l3,1l5,4v3l-3,2l-2,4h5l1,1l1,-1l-1,-2l1,-2h5l-1,-2l-2,-1l1,-2l-5,-4l2,-2l-6,2l-4,-3l3,-4l-1,-3h-4l-1,-1l3,-1l1,-4l-2,3h-4l-2,-2ZM350,490l1,-1l1,1l-1,1ZM353,474h1l1,1v3l-1,1h-1l-1,-1v-1l-1,-1ZM606,466h-1v4v-3ZM591,464v1l-2,2l-1,-1v-1l-1,1v5h2l1,-1h1l1,-1v-4ZM588,468l1,-1l1,1v1l-1,1l-1,-1ZM390,462l-2,2l-1,-1l-2,1l2,6h5l1,1v3l-1,1l-2,-1l-2,2l-1,-2l1,-1l-1,2l2,2v2l2,-3l2,1l1,-1l-1,-7l-3,-5ZM389,466l1,-1l1,1l-1,1ZM385,465l1,-1h1l1,1l-1,1h-1ZM589,461v1M732,460h1M730,463l1,10h1l-1,-2l3,-3l2,4h3l2,2l-1,2h-2v4l-2,2l1,2l2,1l2,-1h7l7,-3v-6l-3,-1l-5,-6l-6,-4l1,-3l-2,-2h-3v2l2,2l-5,4h-3l-1,-1ZM739,482l1,-1l1,1l-1,1ZM741,479l1,-1l1,1l-1,1ZM740,478l1,-1l1,1l-1,1ZM737,466l1,-1l1,1v1l-1,1l-1,-1ZM735,459h0M609,459h0M346,459h1M1061,458h0M624,459h-1l-1,-1h-1l-2,2v2h3l1,-1v-1ZM618,457h0M648,458l-1,1l-4,-3l-5,2l-3,-2l-5,1l1,1v3l2,-1l3,1l-2,2l-4,1l-1,3l-1,-3l-3,1l-3,-1l-2,3h-3l-1,-1l-3,2l1,2l-1,8l-2,2h-4l-1,-1v-4l-1,1v4l-3,2l-1,3l1,1l5,-4l3,5v2l4,3l-6,4l1,3l-1,2l-6,2v2l2,1v2l3,3v4l1,1l-2,2h-2l-2,-2l1,-3h-1l-1,3h-3v1l3,2l-4,3v4l-2,1v1h3l4,-2v-4l-1,-1l1,-1l4,3l-2,5l2,2v3l2,2l-1,2v8l2,3h1l-1,-2l2,-2l2,1l2,-1l-2,-2l1,-3l-3,1l-2,-1v-5l-2,-6v-3l3,-4l-2,-3l1,-3l12,1l2,1l5,6v2l-3,5l-3,2v2l3,3l-1,3l1,3l-1,1l-3,-1v2h3l1,3h1l2,-4v-4l-3,-7l5,-6h1l2,3l2,-2l-1,-3l2,-2l3,3v2l-2,2l-1,4l-2,2v2l3,3l-1,1l1,2l5,1l3,2l-7,-7v-4l2,-4l2,-1l4,-5l3,1v-7l-1,-1v-10l1,-3l-4,-1v5l1,1l-1,2l-7,5h-4l-2,-2h-2l-1,2h-3l-2,-3l-7,-2l-3,-3l-2,-6l1,-1v-4l2,-2l3,1l2,-4h4l3,-4l4,1l-1,-2l3,-2h2l1,-3l3,1l4,-2h3l1,-2h2v-3l-2,-1l1,-4l-2,-4l1,-2l-1,-1l1,-1v-6ZM647,522l1,-1l1,1l-1,1ZM609,501l1,1v2l-2,2h-1l-2,-2l2,-2h1ZM620,488l1,-1l1,1h1l2,2v1l-2,2l-3,-3ZM630,479l1,-1l1,1l-1,1ZM614,476l3,-5l3,-1l7,1l1,-1l2,2v5l1,1l-2,2l-4,-2l-3,1l-3,-1l-3,2ZM1303,454h-1l-3,3h-1l-2,2h-1l-1,1l-1,-1v-1l1,-1l-1,1h-1v2l1,1h1l1,-1h1l1,-1h2l4,-4ZM1297,454l-1,1ZM614,454v1M343,463l7,2l3,-2l2,1l2,-3h3l2,3v2h1l-2,-3v-3h-3l-2,-2v-2l1,-1h6l1,1l7,-3l2,2l2,5l-2,3l2,1l1,-3l5,-3l1,-2l-1,-2l1,-3h-1l-1,2l2,3l-5,4l-3,-2v-2l-2,-3h-2l-3,2h-7l-1,-1l-9,1l-1,-3h-2l-1,-2h-2l-1,1l4,2l4,4h2l1,3l-4,3l-2,-1l-1,1ZM1391,453h7l1,-1h5l1,-1h1v-1h-3l-1,-1h-5l-1,1h-2ZM595,447l-1,1h-1v1l-1,1h2l1,1l-1,-1v-2ZM1433,442h-7l-7,5l-3,-1l-1,3h3l13,-4ZM592,442l-1,1l1,1h1l1,1v-2h-1ZM437,437l-3,3v4l-2,1l1,4l-2,1l1,5l-3,2l-7,8v6l-1,1v3l2,3l-1,6l7,8h2l6,4l5,1l5,6l7,5l2,-2l5,1l2,-1v-3l-5,-2l-1,-6l1,-1l1,1l3,-5l1,2v-2l2,-2v-5l2,-2l2,2l1,-3l-1,2l-1,-3l-2,-1l-1,-2l3,-3l4,2l1,-1l-1,-9l-1,-1l1,-3l-3,-4l-5,-1l-1,-1l1,-3l-2,-1h-3l-3,-2l-3,3l-1,-1v-3l1,-1l-5,-1l-3,-7l-3,-2ZM463,488l1,-1l1,1l-1,1ZM466,479l1,-1l1,1v1l-1,1l-1,-1ZM1324,436l-1,1h-2l-1,1h-1l-4,4v1l-1,1l2,-2h1l3,-3h1l1,-1h3l-1,-1ZM440,432v1h1l1,1h2l1,-1v-2h-3l-1,1ZM338,438l1,1v3l-1,1l1,3l-1,1l2,-2l1,1l2,-1l2,3l-1,-3l1,-2l-3,-2l7,-4l6,2l3,-3l3,2l1,-1h3l6,3l5,1l3,4l3,1l-4,-3l3,-2l-2,1l-2,-2v-2l2,-1l1,-3l-2,-2l-2,1l-2,-3l-5,4l-1,3h-6l-2,-3h-1l-1,2l-8,1l-2,-2l-1,-5h-2l1,2l-3,4l-1,-1h-3ZM369,437l1,-1l1,1h3l1,1l-2,2h-1l-1,-1h-1l-1,-1ZM341,435l2,2v1l-1,1v2l-1,1h-1l-1,-1v-1l1,-1v-3ZM345,434l1,-1l1,1l-1,1ZM378,432l2,2v1l-1,1h-2l-1,-1v-1ZM373,432l1,1v2l-1,1l-1,-1v-2ZM336,430v1M346,424l-1,1l1,1h1v-2ZM373,423v2M344,422l-1,1h-2l-2,-2h-1l-4,4h-1v3l-1,1v1l1,1v-5l4,-4h2l2,2l-1,1v1v-1l1,-1h2v-1ZM572,420l-1,1l-7,1l-3,2l-1,2h-4l-1,-1l-6,4l-5,13l1,5l-4,5l2,5l2,2l-1,15l3,9v10l1,1v3l4,6l-2,1l2,1l-1,2v8l1,3l-1,1l6,2l-3,2v1h3l2,2v3l2,-3l-5,-4l1,-1l4,1v-2l6,-7l7,-2l7,-5l3,-4v-1l-2,-1l1,-2h2l3,-4l2,1l-3,4h1l2,-3v-6l-1,-1l2,-7l-1,-2l-2,-1l2,-2l1,1l1,-5h-3l-1,3l-3,3h-4l-3,-2l-3,-6l1,-2l1,1l-1,-9l2,-2h7l1,-1l1,1v-7l-1,-1l1,-1v-4l-1,-2l1,-1l2,2v-1l-2,-1l2,-5v-3l-6,-7l-3,-1l-2,2l-3,-3l1,-3ZM553,518l1,-1l1,1v1l-1,1l-1,-1ZM574,507l1,1v1l-1,1h-1l-1,-1ZM566,506l1,1h1l1,1v3l-1,1h-1l-1,1l-3,-3v-2l1,-1h1ZM577,505l1,-1l1,1v1l-1,1l-1,-1ZM581,493l1,-1l1,1l-1,1ZM584,489l1,-1l1,1l-1,1ZM585,486l1,-1l1,1l-1,1ZM550,452l1,-1l1,1l-1,1ZM552,452l1,-1h1l1,-1l2,2v1l1,1v1l-1,1h-5l-1,-1v-1l1,-1ZM571,441l1,-1h3l1,1l4,-1l2,3v3l-7,4l-4,-3ZM574,429l1,-1l1,1v1l-1,1l-1,-1ZM369,420v3l-1,1h-3v3l-1,1l1,-1v-1l1,-1h2l1,-1ZM345,420h0M758,419l2,2v3l2,1v2l3,3v2h2v-2l4,-4l1,-3l-2,-2l-7,1l-1,-3ZM350,421l2,-2l-2,2v2l2,2v1l1,1h4l1,-1l1,1h1l1,1v1h1l-1,-1v-1l-1,-1v-2h-1l-1,1h-1v1l-1,1h-2l-4,-4ZM339,419h0M735,418v1l1,1v1h1v-1ZM1436,429l-3,-4h-9l-3,-2l-2,-3v-3l-2,-4h-1l-1,4l-2,2v3l-2,2h-2l-2,2h-5l-1,1l1,2l-2,3l1,1l-1,6l1,1l1,-1l11,-1l5,-4h4l3,2l2,3h5l3,-4l-1,-4ZM1168,412v2l-1,1v1l1,1h4l1,-1v-1l-2,-2v-1ZM1446,408v2h3l1,-1v-1ZM347,405v8l-1,1h2l5,-3l3,1l1,-4l-3,-3l-1,1ZM343,405l-1,1v1l1,-1ZM1394,419l-2,-2h-4l-1,1l-2,-1l-6,4l1,15l-5,4h-2l-5,3l-4,5l-1,6l-9,7l-2,-1l8,-8l-4,1l-2,-3l-4,-3h-3l-1,1l-4,-1v1l-5,4l-4,-4l3,-4l6,1l-1,-2l7,-6l-1,-2h-2l-3,5h-2l-2,-2v-2l-13,7l-6,5l-10,11l-3,1l-10,7l2,2l-1,1v4l1,1l5,-4l1,2l-4,3l-7,8h-4l-8,5v3l-4,4l6,-4l2,1l-2,3l-7,6l2,3l-7,5v1l5,-4l2,1l-16,15v3l-4,4h-2l-10,9l-10,7l-3,-1l15,-14l-2,-1l2,-3l-1,-2l4,-3h2l1,-2l-1,-1v-3l3,-3h2l2,-2h3l3,-4v-4l1,-1l-1,-2l3,-1v-4l-2,-6l2,-5l-1,-3l3,-4l-1,-2l3,-7l-1,-2l5,-6l1,1l4,-2l-1,-1v-4h-1l-2,-3l-10,-6h-5l-2,1l-3,-2l1,-4l-2,-2h-2l-6,-7l1,-2v-7l-2,-3l-15,5l-11,6h-4l-6,2h-5l-12,-4l-1,-1l4,-3l7,-12l-2,-1l1,-1v-3l-1,-2l-2,-1v-2h-5l-2,-1l-3,1v1l-4,3l2,6l-2,4l-6,7l-12,-1l-1,-2l-3,2l-3,-2v-2l-9,-1l-1,-2l-3,-2h-2l-5,3l-7,-5h-7l-2,1l-2,4l1,9l-1,1l-8,1l-2,3l-4,-3h-4l-7,-8l-1,-13l-2,-1h-12l-1,2l-8,1l-4,-2l3,-4l-5,-3h-3l-2,2l-3,-1l-4,6l-1,-1l-5,3h-4l-7,5l-4,7l-4,2h-4l-2,3l-6,1l-3,3l-6,-2l-2,2h-4l-6,3l-2,-1l-2,2h-2l-3,2l-9,1l-1,1l-1,-1l-2,1l-2,-1l-6,1l-3,-3l-1,1v4h1l2,3l-8,9l-4,-2l-1,1l3,2l-1,1h-9l-1,-3l-4,-1v3l-1,1h-4l-3,-4l-4,2l-3,-6v-4l1,-1l-1,-4l-2,-2h-3l-4,-4h-5l-3,4l1,6l-4,3h-4l-7,-9h-3l-1,1l-4,-1l-3,3l-5,-1l-3,2h-7l-2,3v2l-2,2h-2l-5,6h-4l-3,2l-3,4l-5,1l-8,6l-5,-4l-1,-3h-3l-2,-2l-7,-3l1,3l-2,2l-1,-1l-1,2h-3l-3,-2h-2l-3,-2l-1,-2l4,-6l1,-8l-5,-3h-4l-3,2h-2l-3,-2l-1,2l1,5l3,1l-1,8l-3,3h-9l-3,2l-1,5l2,1v2l-6,5l2,6l-1,3l2,5l-1,1l1,3l-4,5v2l-4,6l-5,3l-1,2l1,3l-3,2l-2,-2h-4l-7,-4l-2,5l-3,-1l-3,1l-3,4l1,4l4,3l1,10l2,4l2,2h3l4,3l-1,3l7,-1l4,2h3l3,3l6,1l2,4l-1,2l1,3l4,3l-1,2l-2,-1l-5,4l-7,2l-3,3h-4v4l-2,4l2,5l3,3h3l1,1l3,-1l1,1l-2,2l-9,4l1,4l-2,3l4,2l-3,2l-5,6l-5,2l4,5l3,1v2l3,3v2l-4,3l-1,3l4,3l1,-1l-1,-1v-4l4,-3v-3l-1,-1l2,-1l3,2l3,-4l2,-1l-1,-2l2,-3l1,1v-4l-4,-5l3,-7l-1,-7l2,-2v-1h-2l-1,-2l2,-2l4,-2l2,1l1,-2l3,-1l5,2h5l1,-1l-3,-9l-3,-1v-5l2,-3l3,-2l4,-11l-1,-9l-3,-4v-6l3,-2h3l1,1h4l4,3l1,-1l3,1l8,-4l1,-2l3,1l4,-7l-2,-2l1,-3l-1,-1v-3l2,-2v-3l2,-4l-1,-3l9,-4l-1,-14l2,-4h3l1,1h3l1,-1l3,1l3,3h3l4,-4h4l4,5l6,3l7,-1l-1,-1l3,-4l2,1h7l2,2h6l9,4l3,-3l3,-1l4,2l2,-3h3l7,-5h8l2,2h3l1,-1l3,1l-1,-1l3,-1l2,3l7,-1l1,2l4,3l7,-5h2l3,3l11,2l7,3h9l7,-3l3,2l3,4l4,1v-1l4,-3l3,2v-3l-2,-1v-8l-1,-1v-4l-2,-2l1,-1l-1,-3l2,-1l1,1l10,2l3,2l6,-2l3,1l5,-1v-5l-1,-2l3,-3v-2l3,-2l-1,-2v-3l1,-1h2l1,2l3,1l-1,2l1,7l3,1v5l-2,2l3,2l-1,1l3,6v2l2,2v3l3,2v1l-3,2l2,4l10,9l3,-1l1,1h9l2,-2h3l-1,-2l1,-1v-5l-1,-1l2,-2l8,1l1,1l-1,3l3,1l4,-2l7,6v2l2,3l3,1l7,-2h3l5,2h4l1,-1l12,4l5,3l2,3v2l4,2l3,3v2h3l4,3h4l1,-1l1,1h3l1,2l7,3l6,-7v-3l-2,-2v-3l6,-2l2,-5l2,-2h5l2,-2l1,1l-1,3l3,1v3l2,2v7l-2,4l2,3v2l-2,1l-2,3v2l-5,4l3,1l-1,2v5l-7,7l3,1l2,3l2,-1l1,1l-1,1h5l2,2v2l-2,2h-3l-4,4l-4,1l-2,4l-4,1l-7,8l1,2l-4,2h-3l-1,-1l-11,8h-3l-1,4l-2,1v2l-4,3l-1,3l1,2l10,-10l5,-3l2,1l-9,10v2l-5,4l2,3v3l-1,1h5l-2,-6l4,-2l4,-4l-2,-3l5,-4h2l3,-5l2,1l1,-7l3,-3l4,1l4,-5l2,-1l2,1l3,-1l5,-6l-7,5l-2,-2l1,-3l7,-7l5,-3l3,-4l6,-2l3,1l4,-2l5,-7l1,1h9l1,-1l1,2h1l10,-9h2l5,-6l-2,1l-1,-2l5,-5l-1,-1l1,-3l2,-2l3,1l11,-14l5,-3h2v-2l2,-3l-3,-6l3,-3l1,-4l2,-1l2,-3h2l6,7l-2,1l-1,2l11,1l-1,-3l10,-9l2,1l-5,6l1,1h3l3,-2l2,-4l2,2l8,-2l-1,-3l1,-1v-3l2,-2h2l2,2l3,-1l3,1l2,3l-3,2l-2,4v4l1,1h6l1,-1l2,2l4,-1l1,-2l4,-3l1,-3l5,-4l3,-5l-1,-14l7,-6l-2,-7l-3,-1l-1,-2l-2,-1l-1,-3l2,-2l1,-8l3,-2h2v-4l3,-1l-2,-2v-4ZM768,614l1,-1l1,1l-1,1ZM764,611l2,2v2l-1,1l-1,-1h-1l-1,-1l1,-1v-1ZM755,611l1,-1h1l1,1v1l-1,1h-1l-1,-1ZM762,604l1,-1l1,1l-1,1ZM764,600l1,-1l2,2v1l-1,1h-1l-1,-1ZM777,565v-2l1,-1h1l2,2l-2,2h-1ZM1218,557l1,-1l1,1l-1,1ZM1219,556l1,-1l1,1l-1,1ZM1220,555l1,-1l1,1l-1,1ZM1245,525l-2,2h-1l-2,2h-2l-1,-1l1,-1h1l2,-2h1l1,-1h1ZM1244,524l1,-1l1,1l-1,1ZM1245,523l1,-1l1,1l-1,1ZM762,524l6,-4l3,1l8,-1l1,2l6,1l2,2v2l2,3l-2,2l-6,1l-4,2l-1,-1h-8l-3,-1l-2,-3l-2,-1ZM1281,520l-3,4l-19,12l-2,-1l2,-6l10,-8l4,-2l2,1l5,-1ZM740,512l1,-1l1,1v1l-1,1l-1,-1ZM786,505l3,1l2,3v3l-2,2h-2l-4,-3l3,-4l-1,-1ZM1263,505l1,-1l1,1l-1,1ZM1264,503l1,-1l1,1l-1,1ZM1265,502l1,-1l1,1l-1,1ZM1174,502l1,-1h1l2,2v1l-1,1h-1l-1,-1v-1ZM1267,498l1,-1l1,1v1l-1,1l-1,-1ZM1363,496l1,-1l1,1l-1,1ZM1287,496l1,-1l1,1l-1,1ZM1136,496l1,-1h1l1,1v2l-1,1h-1l-1,-1ZM1362,495l1,-1l1,1l-1,1ZM1288,495l1,-1l1,1l-1,1ZM1361,494l1,-1l1,1l-1,1ZM1289,494l1,-1l1,1l-1,1ZM1360,493l1,-1l1,1l-1,1ZM1317,492l1,-1l1,1v1l-1,1l-1,-1ZM1284,492l1,-1l1,1l-1,1ZM1295,489l1,1l-4,4h-1l-1,-1l4,-4ZM1330,480v1l-6,6h-1l-1,1h-2l-1,-1l1,-1v-1l1,-1h1l3,-3h1l1,-1h1l1,-1ZM1351,477l1,-1l1,1l-1,1ZM1300,466l1,-1l1,1l-1,1ZM1301,465l1,-1l1,1l-1,1ZM1302,464l1,-1l1,1l-1,1ZM1303,463l1,-1l1,1l-1,1ZM1342,461l1,1l-1,1v3l-2,2h-1l-6,6l-1,-1v-1l4,-4v-1l2,-2v-1l3,-3ZM1343,455l-8,8l-16,12l-18,16l-2,1l-1,-1v-2l20,-19v-1l-2,-1l13,-13l3,-1l3,1l-6,6l12,-7ZM1114,430l1,-1l1,1l-1,1ZM1125,424l1,-1l1,1l-1,1ZM531,399l2,2v-2ZM1398,395l-2,-1l-7,1l-2,2l1,6l2,2l3,-1l4,-4ZM1066,391h-1v1ZM1134,388l1,3l-1,4l2,2l1,5l3,-1l5,1l3,-2h2l-1,-1v-6l-2,-2l-4,-1l-4,-3h-4ZM487,352l1,1v1h1l2,2v-1h-1l-2,-2v-1ZM475,354l-1,5l2,3v2l-4,3v2l4,4l3,-1l4,5l-1,2l1,1l1,-1h3l4,3h2l1,2l2,1v1l-2,1l1,3l8,7l-1,1l1,1l2,-1l5,3l5,-1l2,2h2l2,-2l4,3v2l4,-2l-4,-5l1,-1l3,1l1,-1l-4,-1l-1,-2v1l-2,1l-3,-3v-3l-2,-1h-5l-1,-1l-1,1h-3l-3,-3v-2l-4,-5l-1,-4h-2l-2,-2v-4l-1,-1l1,-6l-1,-1l-3,1l-3,-5l-2,-1l-2,1l-1,-1v-3h-5l-2,-1ZM522,397l1,-1l1,1l-1,1ZM445,282h0M449,280h0M444,280h1M440,280l-1,1ZM439,273h0M456,269v5M454,268h0M420,268l-1,1v1l-1,1h-3l-1,1h1l1,1l-1,1l1,-1h1l1,1l-1,-1l1,-1h2v-1l-1,-1l1,-1ZM453,263h1l1,1v1l1,1v-2l1,-1h-1l-1,1l-1,-1ZM449,263l-4,4v3l-1,1v6h3l1,1l1,-1h1l1,1v1v-1l-2,-2v-2h-1l-1,1h-1l-1,1l-1,-1v-4l1,-1h1v-1l-1,-1v-1l3,-3l1,1h1l2,2l-3,-3ZM447,258v1l2,2h1l1,1l-1,-1h-1l-2,-2ZM408,257h0M446,256h0M423,253h0M412,253l2,2h2l2,4l-2,2l-3,-1l-4,3l4,-3l4,3l3,-3l3,2v2l-2,2l2,-1l2,3l4,3l-2,2h-3l-1,1v2l3,5l-3,4l-4,1v6l-3,3l1,1l-2,3l-7,-1v2l3,1l1,2l6,1l2,3l-1,1l1,2l-1,3l-5,4l-1,3l-3,3v4l1,1l3,-1l2,2h2l1,-2l5,-3h6l3,1l1,2l4,2h3l5,-3l-4,-6v-2l-2,-3v-4l2,-2h3l2,-2h3l1,-2l5,3h2l1,-2h2l4,-3l2,-3l4,-1v-1l-4,-3l-1,2h-4l-1,-1l1,-2l-1,-1h-4l-2,2h-5l-1,1h-4l-1,-1l-2,1l-3,-1l-1,1l-2,-4l1,-2l-1,-3l-2,-2l1,-3l2,-1l-2,-1l1,-1v-3l2,-1l-2,-1l-2,-4l-2,-1l-3,1l-2,-2l3,-2v-1l-7,-5l1,-4l-3,2l-3,-5l-2,2h-2ZM421,299l1,-1l1,1v1l-1,1l-1,-1ZM421,292l1,1v2l-2,2l-1,-1v-3l1,-1ZM427,265l1,-1h1l1,1l-1,1h-1ZM423,263l1,-1l2,2v1l-1,1l-2,-2ZM417,256l1,-1h1l1,1v1l-1,1h-1l-1,-1ZM457,252h0M420,252h1M456,247l1,1ZM452,245v2l2,2v1v-3h-1l-1,-1ZM438,243l2,2h3l2,2h2l2,2v1l-2,2h-1l-1,1v1v-1l1,-1h1l1,-1h1v-4h-4l-2,-2h-3ZM451,240h0M421,240l-2,2v1h2ZM436,239l-1,1v1l1,1l-1,-1v-1ZM431,239h1"/>
<path fill="#e03e0c" stroke="#e03e0c" stroke-width="1" stroke-linecap="square" fill-rule="evenodd" d="M712,670h-1l-1,1h1ZM481,661l-1,1ZM741,659v1h1ZM651,653v1l1,1v3l1,1v1l2,2l-1,1v6l-1,1l1,1v1v-8l2,-2v-1l-1,-1v-2l-1,-1h-1l-1,-1v-1l-1,-1ZM637,648l-1,1v1h1ZM493,646v1l1,1v2l-1,1v1l1,1h2h-1l-1,-1v-4l-1,-1ZM479,645l-1,2l1,7l1,1l1,-2l3,3l-2,3l4,-3l2,4l3,-2l1,3v-4l-3,1l-5,-3v-4l2,-2l1,1l1,-1h-1l-2,-3l-1,1l-3,-2ZM478,649l1,-1h5l1,1v1l-1,1h-4ZM477,644l-1,1ZM461,638v1l-1,1l1,-1ZM646,635v1l-1,1h-1l1,1h1l1,-1v-1ZM684,634h0M666,632h0M601,631l-1,3l2,-1l8,5v2l-3,3h-2l-2,-2v-3l-3,-2v3l1,1l-1,3l3,2v3l3,1l2,-3l4,1v-3l-2,-3l4,-3l-1,-4l-1,-1h-5l-2,-2ZM488,631v1l-1,1v1l-1,1v5l-1,1v2l1,1v-2l1,-1h1l1,-1l2,2v1l1,1l-1,-1v-1l-1,-1v-2l1,-1v-1l-1,-1l-2,2h-1l-1,-1v-1l1,-1v-2l1,-1ZM484,626h0M661,626l-1,-1h-2l-2,2h-1l-1,1h-2l-1,1v1h2l1,1l2,-2v-1l3,-3h1ZM746,621h0M1175,620h1M479,620v1M444,618v1h1ZM749,616l-1,1h-1h2ZM675,616v4l4,6v7l3,-1l-1,-2l5,-3l5,4l-1,2l-4,1l2,3l2,1l1,4l-3,6l-3,-4h-3l-1,1l-5,-2l1,1l-1,1h-3l-3,-2l-1,1l-2,7l-2,1l-2,3l1,4l-1,1h-3l1,1h3l3,3l-1,1l1,2l-2,2l-2,-1l-2,2v4h3v-2l4,-3v-3l1,-1l-2,-1l-3,-5v-3l1,-2l3,-2v-3l2,-1l2,3h2l1,-3h3l5,-4l6,5h1v-2l2,-1l2,1l2,3l-5,4l-2,-2h-2l-2,2h-3l-1,-2l-3,2h-2v3l-1,1l-1,-1l-2,1l4,3l1,3h2l1,-1v-4l3,-3h2l1,1v6l-3,2v2l2,1v-4l2,-2h2l2,3l2,1l1,5l1,1h3l2,-6h-1v3l-2,2l-2,-2l2,-3v-2h-3l-1,1l-4,-4l-3,-1l1,-3l-1,-2l1,-1l4,1l3,-2l2,3l2,1v-2l-2,-3l1,-1l-1,-1l1,-5h-2l-3,-2l1,-3l-2,-2l1,-1l-1,-4l1,-1l3,1l1,-3l-14,-4l-7,-7ZM413,613v2v-1l1,-1l1,1v1v-1l-1,-1ZM657,611v2l2,2v-4ZM608,610l-1,-1l-1,1ZM407,606l2,2l-1,1v1l1,1v1l1,1h1v-1h-1l-1,-1v-3ZM726,604l1,1v-1ZM673,603v2h1l2,2v1l1,1l-1,-1v-1l-1,-1v-2h-1ZM517,602l-1,1l-1,-1l-1,1v1h1ZM502,602h0M671,601h0M747,600h1l1,1l-1,-1ZM741,600v5l-1,1l-2,-1v-2l-3,-3l2,2v2l-1,1l-4,-1l-1,5l2,2v2l3,-1v-3l2,-2h3l1,-1ZM425,600l-1,1v1l1,1h1v-3ZM1175,599v2l-1,1l1,1h2v-1l2,-2l-1,-1l-1,1l-1,-1ZM706,599v2l1,-1ZM511,599v1h1v-1ZM700,597h-1v1ZM495,597h-1v1l-1,1h1l1,-1ZM418,596h0M500,595v3l-1,1v1v-1l1,-1l1,1v-3ZM718,594l-1,3l-2,1l-1,6l-3,7l2,6l-3,5l-1,-2l-4,2l-1,2l2,1l-1,3l-2,1v6l4,6h6l1,-3l2,-1l4,3l1,2l2,1l2,-1l2,3l1,-1l2,2l2,-3l1,1v4l-1,1l-2,-1l-2,3h-7l-2,2l-1,6l3,1l-1,3l2,2l-1,-1l3,-2l1,-3h1l2,3l4,1v-3h-2l-1,-1l1,-1l-3,-1l-2,-4l5,-4l3,3l5,-3l5,-11l-2,-2l1,-1l2,1l1,-4l-2,1l-2,-4l5,-3l2,1v-1l-2,-1l-3,2l-3,-5l-6,-6l-4,-1l-4,-3l1,-1h3l-3,-2l-1,2l-2,1l2,3l3,2l4,-1l2,2v1l-3,2h-3l-2,-3l-1,3l-2,1l1,8h3l1,1l-2,8l-4,2l-2,-2l-1,1l-4,-4h-2l-4,3l-2,-1l5,-7v-7l1,-1l-1,-9l4,-3l4,1l-3,-8l-3,-2v-2l3,-2ZM724,657l1,-1l1,1l-1,1ZM720,654v-2l1,-1h2l2,2l-3,3ZM733,648l1,-1l1,1l-1,1ZM729,645l1,-1l1,1l-1,1ZM737,639l1,1v1l1,1v1l1,1l-1,1h-1l-1,1v1l1,1v1l-1,1h-1l-1,-1v-1l-1,-1l1,-1v-1l1,-1l-2,-2v-1l1,-1h1ZM731,638l1,1v3l-1,1h-1l-1,1l-3,-3l3,-3ZM740,634l1,1l-2,2v2l-1,1l-1,-1v-4l1,-1ZM739,633l1,-1l1,1l-1,1ZM740,631l1,-1l1,1l-1,1ZM736,630l2,2v1l-2,2v1l-2,2h-1l-2,-2v-2l1,-1l-1,-1l1,-1h1l1,-1ZM710,629l1,1v1l-3,3v1l-1,1h-1l-2,-2v-3l2,-2ZM724,624l1,-1l8,1l2,2v2l-3,2l-4,-1ZM712,623l1,-1l1,1l-1,1ZM737,621l1,1v2l-1,1h-1l-1,-1v-1ZM713,608l1,-1h1l1,1v1l-1,1h-1l-1,-1ZM498,594h0M600,593v1M506,593h3l1,1v1v-2ZM497,592h1M1144,591l-1,1h-1v1ZM501,591v1M709,590v1h1ZM493,590l1,1h1l-1,-1ZM490,590h0M591,587h0M774,586h-3l-2,2l-6,2l1,1l-3,4l1,-1l1,2l-2,1v2l3,1l-8,9l-3,2h-3h1l4,5h1v-2l-2,-2l1,-2h2l3,3l-2,1v5l3,4l-4,4v4l1,1h2l-2,-3v-2l4,-3l1,-3l-3,-1l-1,-2l1,-1h3l2,3l2,1l4,-5l-1,-1l2,-3l2,-1l-1,-1l1,-1l-1,-2l-5,-2v-2l4,-5l-1,-9l3,-2ZM759,614l1,-1l1,1l-1,1ZM767,612l1,-1l1,1l-1,1ZM766,611l1,-1l1,1l-1,1ZM764,609h2l1,1l-1,1v2l1,1l2,-2l1,1v2l-3,3l-2,-2h-3l-1,-1v-1l1,-1v-1l1,-1v-1ZM763,603l1,1l-1,1l1,1v1l-2,2h-1l-1,1h-1l-1,-1v-2l4,-4ZM770,593l1,1v1l-1,1v3l-4,4h-1l-1,-1v-3l1,-1h1v-2l3,-3ZM766,590l1,-1l1,1l-1,1ZM733,584l-1,1h-1l-1,1h-1h2ZM477,585v1h3l1,1l-1,1h-1v1l2,2l2,-2h2l1,-1h3h-3l-1,1h-2l-1,-1v-2l1,-1h1l1,-1h-3v1l-1,1h-3ZM480,590l1,-1l1,1l-1,1ZM479,589l1,-1l1,1l-1,1ZM474,584h1M487,583h0M470,583h1l1,1l-1,-1ZM396,586h2l2,2l-1,2h-2l1,2l3,2v2h3l1,1l-1,2l3,2v2h3l1,1v3l4,2l-1,2h2l2,2h2l1,-2h6l1,1l-1,3h1l1,-2l3,2l-1,2h-2v4l5,-6v-1h-3l-2,-3l2,-1l4,-5l3,2l2,-2h3l1,1l-1,2h3l1,1l-2,3l-3,-1l2,3l-2,2l-1,6l-1,1l-1,-1l-4,5l4,-3l1,1l-1,3l1,1h4l3,-2h3v-3l1,-1l3,3l1,-1l2,1v5l1,2l4,2l-2,-3l-1,1l-1,-1v-4l1,-1l1,1v-1l-5,-3v-2l2,-1l1,-2l-1,-3l2,-1l1,3l3,2v4l2,2v2l2,1l-3,6l2,2l-2,1l-1,2l3,2h4l2,-4h6l1,1l1,-2l-2,-2v-4l-2,-2l1,-2l-2,-2l2,-3l-2,2v3l2,3l-2,2h1l2,3l-3,2l-2,-2v-2h-1l-3,9h-3l-2,-2l4,-2v-5l2,-1v-2l-4,-2v-2l-2,-2v-3l-3,-4l7,-2v-4l-1,1l-3,-1l-1,-2h-3l-2,2h-2l-2,-2l3,-3h3l-2,-1l-5,2l-3,-2l1,1l-3,2l-1,-1l1,-2l-3,1l-4,-3h-3l1,2l-2,1l-1,-1h-3l-1,-3h-4l4,2l-4,7l-1,-1l-3,1l-5,-1l-1,-2l4,-5l-4,-2l-2,1l-3,-4v-5l1,-2l-4,6l-3,2l-1,-1l1,-3l-7,-5l1,-3l-1,-4l-1,2ZM448,626l1,-1l1,1l-1,1ZM440,626l1,-1l1,1l-1,1ZM454,619l1,1v1l-1,1h-1l-1,-1ZM450,617h1l1,1v4l-1,1h-1l-1,-1v-4ZM453,617l1,-1h1l1,1l-1,1h-1ZM465,611h1l1,1v3l-1,1h-1l-1,-1v-3ZM455,612l1,3l-3,2h-3l-2,2l1,3l-2,2h-3l-3,-4l1,-1v-3l7,-5h1l1,2ZM459,611l2,-2l1,1h1l1,1v1l-1,1h-2ZM450,607l1,-1l1,1v1l-1,1l-1,-1ZM412,603l1,-1l1,1v1l-1,1l-1,-1ZM410,598l1,-1l1,1v1l-1,1l-1,-1ZM760,580v1l1,1v1l2,2h3l1,1l1,-1h1h-1l-1,-1v-2l1,-1v-1ZM465,580h2M748,579h0M689,579v1M645,579h-1v1ZM702,578l1,1h2l1,1h2l1,1h1l1,1v2l1,1v1l-1,1v1l1,-1v-2l1,-1h1l1,-1h2v-1l-2,-2h-6l-1,-1h-5ZM699,578h-1v2l-2,2l-1,-1l-1,1l-3,-1l1,7l4,3l-1,3l-2,1l-3,-3h-4l-2,2l2,3l-3,3h-3h5l2,-3v-3l2,-2l2,1l1,3l7,-2l-1,-5h-2l-3,-2v-3l3,-1ZM754,578l-3,-1v3l3,2v2l-1,1l-3,-1v4l-1,1l-3,-1l-1,-6h-3l-1,1l-4,-1l-2,1l2,2l-1,3l1,-1l4,4l-1,3h-1l-2,-3l-2,1l1,5l7,-6h2l3,-2l3,1l2,-5l3,-2l-2,-2ZM1220,576l-2,2h-1v1ZM608,576v2h2l1,-1l-1,1ZM1156,575v1M787,575v1l1,1v1v-3ZM461,574v2M407,574v1M677,573v1M675,572h0M460,572h0M562,570h0M790,569l-1,1l2,2v1l-1,1l-1,-1h-1h1l2,2l-1,1v2h1l1,1v1h1v-1l1,-1l-1,-1v-1l-1,-1v-2l-1,-1v-2ZM564,569v1h3h-1l-1,-1ZM1217,568l-3,2h-2l-2,4l-4,1l-7,8l1,2l-1,1l-7,1l-6,4l2,3l-1,1h-3v1l4,-2h2l1,2l-3,4l-9,7l1,2l2,1v2l4,-4l-2,-3l5,-4h2l1,-3l4,-4l-1,-2l1,-3l4,-2l4,1l8,-10l-1,-3l3,-2l-1,-1l1,-1l2,1l1,-1ZM1180,607l1,-1l1,1l-1,1ZM1200,584l1,-1l1,1l-1,1ZM1210,576l1,-1l1,1l-1,1ZM771,573l-3,1l-4,-4v-1l2,-1l-6,1v4l-1,1l2,2l-1,2l3,-2h8ZM437,566h0M1220,565v2h2v-1l-1,-1ZM681,563l-4,-1l-3,4h-3l-2,3l-3,1l-1,-1v-4l-1,-1l-2,2l-1,-2v2l-2,2l-3,-1l-1,1v2l-2,1v3l1,2h1l2,-2l1,1l-1,-2l2,-1l5,5l2,6h8l4,-4l-2,1l-2,-2v-3l-2,-1v-2l6,-6l2,-1l1,1ZM443,560v1l-1,1v1l-1,1v1l-1,1v1l2,2v-3l-1,-1v-1l1,-1v-1l1,-1ZM1228,559l2,2h1v-1h-2ZM626,558h0M602,558h-1l-1,1h-3v1l1,1l2,-2h1ZM657,557v2l1,1h2l1,1h2v-2h-2l-2,-2ZM439,557v1h1v-1ZM1198,556h0M1222,555v1l1,1l-1,1v1h1v-1l1,-1l-1,-1v-1ZM1230,553h1M633,553v1l1,1v1l1,1h1l2,2v1l1,1h2l1,-1l-1,-1v-4h-3l-1,1l-1,-1v-1l-1,-1ZM599,553h-2l-1,1h-3l-1,1v1l1,1l1,-1h1l1,1h2l1,-1ZM572,553h-8l-2,2h-2l-1,2h-4l-2,-4l-3,1l-1,3l-2,1l-1,6l3,1l3,3v4l1,1l-3,5l1,2l3,2v2l2,-1h3l1,1l-1,2l-2,1l2,2l5,-1l-1,-3l3,-4l-6,-3l3,-1l1,-3l-3,1l-1,-2l-4,-1l-2,-3v-3l1,-1h2l1,2l2,1l2,-4l-1,1h-4l-2,-1l-1,-2l1,-1l1,1h4l1,-3l3,-3l-1,-1l2,-2h1l1,2h2l3,2ZM551,577l1,-1h1l1,1v1l-1,1ZM550,561l1,1v2l-1,1h-1l-2,-2l1,-1h1ZM548,559l1,-1l1,1l-1,1ZM435,553l1,1v2l1,-1h1l-1,-1v-1ZM1214,552l-2,2ZM1201,552h1M609,552l-1,3l-1,-2l-1,2l-1,-2h-1l-3,3l2,-2l2,3v2l-2,1l-2,5l-3,-2l1,3l-3,4l-5,-4l-1,4l-3,1l-6,7l3,7l-1,1h-3v6l1,1l-1,4l-1,1l-1,-1l-2,1l-1,-1h-3l-2,3l3,2l-1,1h-5l-4,3l1,1l-1,3l-2,-1v-3l-2,-3l-1,3l2,2l-1,3l2,2l4,-3h5l1,-2l3,2l1,-1h3l1,1l-3,5l1,1l6,-1l1,-2l3,-2h4l1,1l-1,2l4,2l3,-4h3l7,3l7,-3l2,2h2l1,1v6l-1,2l1,1l4,-1l1,1l-1,1l2,1v2l-2,2l1,8l-2,1v2l-2,2v3l2,2l-1,1l2,1l1,-1l1,1l1,-1v-3l-2,-3l1,-1l1,1l-1,-1l2,-1l1,-6l1,-1h4l3,-2l1,1l1,-1l1,1l2,-1l-3,-7v-3l1,-1l2,4l-1,-3l2,-2l2,1l-1,2l1,2l-2,2v2l1,-1l1,2h3l1,1l-2,-3l2,-1l-2,-7l-4,-3l1,-2l-1,-2l-2,-1l3,-5l1,-6l1,-1l3,2v-8l-3,2l-3,-1l-4,-5l2,-3l-3,-2v-5l2,-2l1,-4l5,-3l3,-4l-5,1l-2,4l-3,1l-6,-4l-2,-3v-2l3,-2l-2,-1l-2,-4l1,-2l-4,-1l-4,2l-1,-1v-3h-3l2,4l1,-1l1,2l4,-1l2,4l-2,3l-2,-1l2,3v2l-4,4l-1,-1l-1,1l1,1l-2,1l-2,-4l1,-4l-9,-10l1,-3h1l3,4l2,-1h-2l-3,-3ZM646,624l1,-1l1,1l-1,1ZM637,623l1,-1l1,1l-1,1ZM630,618l3,4l2,-1l1,1v3l2,2v1l-4,3l-2,-2l1,-1l-1,-2l-5,-2v-2l2,-1l-1,-1ZM636,612l2,2l-2,2l-2,-2ZM627,611l1,1h1l1,1l-1,1v1l-1,1v3l-2,2l-3,-3v-1l-1,-1v-1l1,-1l1,1l1,-1v-2l1,-1ZM613,612l1,-1l1,1l-1,1ZM591,611l1,-1l1,1l-1,1ZM614,610l1,-1l1,1l-1,1ZM596,609l1,-1l1,1l-1,1ZM616,610v-2l1,-1h5l2,2l-2,2h-1l-2,2h-1l-1,-1v-1ZM594,607l1,1v2l-1,1l-1,-1v-2ZM614,607l1,-1l1,1v1l-1,1l-1,-1ZM587,607l1,-1l1,1l-1,1ZM586,606l1,-1l1,1l-1,1ZM577,606l1,-1h2l1,1l-1,1h-2ZM630,605l1,-1l1,1l-1,1ZM597,608v-2l1,-1l1,1l-1,-1l1,-1l3,2h3l1,-2h5l1,2l2,1l-2,2h-2l1,1l-4,3l-7,-2l-1,-3l-1,1ZM615,604l1,-1l1,1l-1,1ZM613,604l1,-1l1,1l-1,1ZM603,604l1,-1l1,1v1l-1,1l-1,-1ZM586,604l1,-1l1,1l-1,1ZM619,603l1,-1h2l1,1v1l-1,1h-2l-1,-1ZM616,603l1,-1l1,1l-1,1ZM587,603l1,-1h1l2,2h1l2,2v1l-1,1l-2,-2h-1ZM617,602l1,-1l1,1l-1,1ZM612,602l1,-1l1,1l-1,1ZM574,601h2l1,1v2l1,1l-1,1l1,1l-1,1h-1l-3,-3v-1l1,-1l-1,-1ZM611,601l1,-1l1,1l-1,1ZM618,600l1,-1l1,1v1l-1,1l-1,-1ZM595,597l1,1v2l1,1l-1,1h-1l-1,-1v-3ZM630,601l7,-5l2,1l2,-1l3,5l-2,3l-3,-2l-5,3h-2ZM602,596l1,-1l1,1l-1,1ZM616,595l1,-1l1,1l-1,1ZM603,595l1,-1l1,1l-1,1ZM604,594l1,-1l1,1l-1,1ZM617,594l2,-2h1l1,-1l1,1h1l1,-1l2,2v3l-1,1h-5l-1,-1v-1h-1ZM623,590l1,-1l1,1l-1,1ZM621,590l1,-1l1,1v1l-1,1l-1,-1ZM624,589l1,-1l1,1l-1,1ZM635,587l1,-1l1,1l-1,1ZM631,585l2,2l-1,3l1,-4l1,-1l2,1l-1,1l1,3l-3,6h-4l-2,-5l1,-3ZM587,584l1,-1l1,1l-1,1ZM600,583l1,-1l1,1l-1,1ZM633,581l1,-1h1l1,1l-1,1h-1ZM591,579l1,1l-2,2v1l-1,1l-1,-1v-3l1,-1ZM592,579l1,-1l2,2l-1,1h-1l-1,-1ZM587,579l1,-1l1,1l-1,1ZM599,577l2,5l-3,2v2l2,1v3l3,2v2l-2,3l-3,-1l-4,1l-1,-1l2,-2l-1,-1h-4l-5,-3l6,-5l4,-5h2l-1,-1ZM638,577l1,-1l1,1l-1,1ZM637,576l1,-1l1,1l-1,1ZM635,573l1,-1h2l1,1l-1,1v1l-1,1l-1,-1v-1ZM597,572l2,2v1l-1,1h-1l1,1l-1,1h-2l-1,-1l1,-1v-2ZM623,574l1,-1h4l2,-2l3,3l-1,1v3h4l1,2l-1,1l-2,-1l-2,2l-1,-2l-3,2l-2,-3l-1,1l-1,-1ZM621,571l1,-1l1,1l-1,1ZM597,569l1,-1l1,1l-1,1ZM604,562l2,1l-1,3l1,1l2,-2l1,2l5,1l1,2l5,4l-1,1l1,2l-2,2l-3,-2l1,1v3l2,1l1,3l3,-1l2,2l-1,1l1,1l-1,2l-4,-3l1,1l-3,2l1,2l-3,4v3l-5,2l-3,-1l-2,-3l2,-2l-1,-1l2,-3h-1l-1,-2l-3,3l-1,-1v-2l2,-1l-2,-1l2,-1v-7l2,-1h-4l-2,-2l1,-2l2,2l1,-2l2,-1l-4,-3v-4ZM608,558l1,-1h1l2,2v2l2,2l-1,1h-3l-3,-3l1,-1ZM606,555l1,-1l1,1l-1,1ZM1254,551l-2,2h-1h2l1,-1ZM1206,550h0M433,548l-1,1h-1v1l1,1v-1l1,-1l1,1v1v-1l-1,-1ZM1202,547h1M1137,544h0M613,544h1M1271,543v1l-1,1l1,-1ZM1181,543h0M623,543h-2v2ZM1222,542v2l-1,1v1l-1,1v1h1l1,-1h1l1,1h2l1,1l1,-1h-1l-2,-2v-1h-1l-1,-1l1,-1h1h-1l-1,-1ZM425,541h0M1274,540l-1,1v1v-1ZM427,540h2M420,540v1l1,1l-1,-1l1,-1ZM1216,539h0M1177,539l1,1l1,-1h1l1,1l-1,-1ZM1218,538h0M1175,538h0M421,538h0M375,538h0M1175,536h0M1271,535v1h1v-1ZM1258,532v1M592,529h0M1274,528l-4,3l-1,-1l1,1l-2,2l-2,-1l-4,2v2l-1,1l-1,-1l-2,2l-2,-1v-6l-4,2l-7,6v3l-1,1l-1,-1l-7,5l2,1v3l1,1v2l-3,4l2,-1l1,1l-1,2l2,-1v-2l2,-1l1,-3l2,-1l1,1h3l-1,-3l2,-3h2v-1l-3,-1l2,-3h3l2,3v-1l2,-1l1,2l-3,3l2,1v-2l3,-2l4,3l3,-3l-2,-2v-3l2,-2l1,2l2,-2l-1,1l-1,-2l-1,1h-3l-1,-2l3,-3l2,1ZM1241,549l2,2v2l-1,1l-2,-2v-2ZM1248,547l1,-1l1,1l-1,1ZM1239,547l1,-1h1l1,1v1l-1,1h-1l-1,-1ZM1264,545l1,-1l1,1l-1,1ZM1254,542l1,-1h1l1,1l-1,1h-1ZM1257,539l1,-1h2l1,1l-1,1h-2ZM1260,528l-2,2h1v-1ZM532,528h0M1262,525h0M1224,523v1M593,523h0M484,524v3l-2,2v3l-1,2l-2,1h2l1,-3l5,-4h2l2,3l2,-6l4,5v3l-2,4h-3l-1,4l4,3l2,-1l5,3h3l1,1l-2,-9h-5l-1,-1l1,-1l-1,-10l-1,-1l1,-3l-1,1l-5,-1l-1,1l2,1l-2,2h-1l-1,-2l-3,1ZM491,541l1,-1h1l1,1l-1,1h-1ZM496,539l1,-1l1,1l-1,1ZM487,527l1,-1l1,1l-1,1ZM415,522l-1,1v2h1l1,1v1h3l1,1h1l1,1v1l-2,2h-1l-1,1h-1l-1,-1h-1h1l1,1l-1,1h1l1,-1l1,1v1l1,1l-1,-1v-2l1,-1h2l2,-2h-1l-2,-2h-1l-1,-1h-2l-1,-1v-1l1,-1h3l1,1v1v-1l-2,-2v-1v1l-1,1h-1l-1,-1v-1ZM386,521v2h2h-1l-1,-1ZM1193,520l-1,1h-2v1h1ZM1175,520v1h1v-1ZM1205,519l-1,1v1l1,1ZM503,518v1h1v-1ZM409,518l-1,1l3,3l-1,1h1v-3h-1l-1,-1ZM540,527l-3,-1l-2,4l-2,1l-1,-1l-4,5l1,1l-2,2l-1,-1l1,1l-2,2h-5l-1,-1l1,-1v-4l-1,-1l-1,1l-3,-4l1,-4l1,-1h3v-1l2,-1l2,3l2,1l2,-1l4,-5l-1,-1l-3,1l-2,-1l-2,-3h-1l1,3l-2,2l-10,-1l1,2l-1,1l1,8l-3,9h3l1,2l-3,1l-1,3l1,-2h1l1,2h2l-1,-1l2,-2h3l1,2h5l2,-2l3,2h3l1,-1l1,1h3l4,-3l1,-3v-7l-3,-3l1,-1ZM540,541l1,-1l1,1l-1,1ZM517,540l1,-1h1l1,1l-1,1h-1ZM530,539l1,-1h1l1,1l-1,1h-1ZM535,532l1,-1h1l1,1v1l-1,1h-1l-1,-1ZM1198,516v1h2v-1ZM463,515v4l-1,1h1l1,2l-1,1h-6l5,5l8,1l2,-2v-3l2,-2v-2l-1,-1h-3l-3,3l-3,-2v-3l1,-1ZM467,527l1,-1h1l1,1v1l-1,1ZM406,515h0M1187,514v2h1l2,2h5l1,-1v-1l-1,-1h-3l-1,-1ZM1176,514v3h1l1,1v2h1v-2l-1,-1v-2h-1ZM1269,513h0M629,513l1,1l1,-1ZM602,513v2l-2,1l1,3l-4,3v4l-2,1l2,1l5,-2v-4l-1,-1l3,-2l1,1l1,4l-2,4l3,2v3l2,2l-2,7l2,6v-4l2,-1v-2l3,-2l-3,1l-2,-1v-4l-2,-2l1,-2l-1,-2v-6l2,-2l-7,-5l1,-3ZM1271,510v1M1200,510v3l1,1l2,-2v-1h-1l-1,-1ZM506,509l-1,1h-1v1l1,1v-2ZM357,509l2,2l-1,2l1,-2l7,1l6,8v6l3,3l1,4l1,1l2,-1l3,1v2l-2,3l2,1l2,-1l2,4l-4,3h-2l-4,-6l2,4l5,4v3l1,1l-1,8l1,1v-3l-1,-1l1,-5l3,-2l1,-2h2l2,2l-3,4l1,1v3l-2,2l1,2l-3,6l1,3h2l2,2l-3,1v2l3,2h3l2,-2l2,1l4,-1l2,-3l-1,-4h-2l-2,-2l-2,1l-2,-2l-4,3l-4,-3l2,-3l3,-1v-5l-1,-1l2,-1l-1,-6l2,-3l-1,-2l-3,-1l1,-1l-2,-4l-2,1l-1,-1v-2l2,-3h2l3,2v-1l-2,-1v-4l-1,3l-2,-3v-2l-2,-1l-6,2l1,2l-2,1l-6,-5l-1,-7l4,-4l2,2h3l4,2l-3,-2h-2l-2,-2l3,-6l-2,2h-3l-1,1l-3,-2l-5,2l-3,-3l-1,1ZM390,571l2,-2h3l2,2v1l-2,2h-1l-2,-2h-1ZM388,546l2,-2h1l1,1v1l-1,1h-2ZM386,541l1,-1h1l1,1v2l-1,1h-1l-1,-1ZM382,529l1,-1l1,1l-1,1ZM369,515l1,-1l1,1l-1,1ZM368,513l1,-1h3l2,2v1l-1,1h-1l-2,-2h-1ZM1128,508l-1,1l1,1v2l-1,1v1l1,1l-1,1h1l1,-1v-1l1,-1v-1l-1,-1v-1h-1l-1,-1ZM753,507h0M411,507h0M595,505v4M359,505h1M1183,504h0M550,504h0M1188,502h-1l-1,1h2ZM1157,502h0M605,502h-2l-1,1v1h1l1,1v-1l-1,-1l1,-1ZM597,501l-1,1l1,1l1,-1ZM665,500h0M587,499h0M682,498h1M634,500l-2,-2h-1l-2,2h-1l-1,1l2,2h3v-1l1,-1h1ZM401,497v1l-1,1l1,1v1l1,1v5l1,1v1l1,1v1h2v-1l-2,-2v-2l-2,-2v-2l1,-1v-1l1,-1v-1l-1,-1ZM351,497v1M1334,495l-1,1ZM677,493l3,3v1l-1,1v1l-1,1l3,3v1l2,2v1h1v-2h-1l-4,-4v-3l1,-1v-2h-1l-1,-1v-1ZM590,493l-1,1l1,1l-1,1h1ZM403,493v1l-1,1h-1h1l1,-1ZM398,493h1M642,491l-1,1h-1l-1,-1l-3,3l3,3l-1,1v1l1,1v1l1,-1v-1l1,-1l-1,-1l1,-1v-3l1,-1ZM1339,490v1l1,1h1l-1,-1v-1ZM658,490v1l-1,1h-2v2l1,1v-2l2,-2ZM645,490l-1,1v1l1,1v3l1,1h2l1,1v-1l-2,-2l2,-2v-2l-1,-1ZM672,489h1h-1l-1,1v1l-1,1h-1v1h1l1,1h2l2,2v1l-2,2l2,-2v-2l-2,-2v-1v1l-1,1l-2,-2l1,-1v-1ZM655,489l-1,1ZM426,489l1,1ZM661,488h0M396,488l-1,1v1h1l1,1l-1,-1ZM1261,487l-1,-1l-1,1v1h1ZM662,486l2,2v3l-1,1l1,1v2l-1,1v1l-1,1h-3l-1,-1h-1l1,1h1l2,2h1v-1l1,-1v-1l2,-2h1l2,2v1l1,1v2h1v-1l1,-1h-1l-4,-4h-1l-1,-1v-1l1,-1h2v-1h-1l-1,-1v-1l1,-1h-1l-1,-1h-1ZM1025,484v1l1,1h1v-2ZM370,484h0M901,482h1M736,482l3,3l1,-1l-2,-2ZM1313,480h1M1072,480v1l-1,1l1,1l1,-1v-1ZM853,480h1M868,479l-1,1l1,1h1l-1,-1ZM398,479h-1v2l-1,1h-4l-1,-1h-1h1l1,1h5v-2ZM904,478h0M603,478l-2,2ZM470,480v1l-1,1l-1,-1v-2l-1,-1l1,1v1l-1,1l-1,-1l-1,1v1l-1,1h1l2,-2l1,1h1l1,-1ZM1070,477v1M941,477h0M738,477h0M1025,476h0M944,476v1M904,476h0M624,475h0M1304,474l-2,2h-2l-7,8h-4l-3,2l-1,3l-3,-1l-1,1v3l-4,4l6,-4l2,1l-9,10l5,-3l4,-1l1,1l-4,4v5l3,-2l2,1l-9,8l-2,-1l4,-4v-1l-2,-1l-6,5l-3,4l-4,2l1,1l-1,1h2l2,-2h3l2,-2l1,1l5,-2l2,4l-2,2l1,1l-4,2l-1,5l3,-4l2,1l1,-2h2l-1,-1l6,-5l1,-3l2,-1l1,-2l5,-3h2v-2l2,-2l-3,-7l3,-3l1,-4l2,-1h-3l-1,1l-4,-3l1,-1v-3l3,-2v-2l1,-1h3v-5ZM1293,500l1,-1l1,1l-1,1ZM1287,496l1,-1l1,1l-1,1ZM1288,495l1,-1l1,1l-1,1ZM1289,494l1,-1l1,1l-1,1ZM1284,492l1,-1l1,1l-1,1ZM1295,489l1,1l-4,4h-1l-1,-1l4,-4ZM927,474h0M1299,471h-1l-1,1v2l1,1l1,-1v-1l-1,-1ZM603,470h0M350,472v4l-3,3v5l3,2l-1,3l2,5l3,-5l6,-4l3,1l5,4v3l-4,5l5,1l-1,-2l3,-3h3l1,1l-2,-1l-2,-3l2,-1l-6,-4l1,-1l-3,2l-6,-5l1,-2l3,-1h-1l-1,-2h-4l-1,-1l-3,5l-2,-1l1,-6l1,-1l1,1l2,-1l3,1l2,-4l-2,4l-5,-2ZM350,489l1,-1l1,1v1l-1,1l-1,-1ZM351,486v-2l1,-1h2l1,1v1l-1,1h-1l-1,1ZM354,482l1,-1l1,1l-1,1ZM1358,469h0M851,469l-1,1v1l-1,1h-6l-1,1h-1v1l1,1v1h1l1,1h2l1,-1l1,1v-1l1,-1h2v-3l-1,-1v-1ZM1072,468v5l1,-1l-1,-1ZM1022,468l-3,4h-5v3h1l2,3l7,-5v-3ZM1017,474l1,-1h1l1,1v1l-1,1ZM1297,467v1M787,466v1M606,466h-1v4v-3ZM851,465h0M628,465h-2l-1,2l-3,-1l-3,2l-5,-1l-1,1l1,2l-1,7l1,-4l3,-3l3,-1l7,1l1,-1l-1,-1l2,-1ZM955,464h0M845,465v1h4v-1h-1l-1,-1h-1ZM788,464h0M591,464v1l-2,2l-1,-1v-1l-1,1v5h2l1,-1h1l1,-1v-4ZM588,468l1,-1l1,1v1l-1,1l-1,-1ZM385,464h1M961,463h1M730,463v5l1,1h1v-2h-1l-1,-1ZM390,463l-1,1v1l-2,2v1l-1,1l1,1h4l1,-1l1,1v5l-1,1l-1,-1h-1l-1,1h-1l-1,-1l2,2v2v-2l1,-1h4v-1l-1,-1v-5l-1,-1h-3l-1,-1v-1l2,-2l1,1l-1,-1ZM589,461v1M842,460l-1,1h-1h1ZM732,460h1M360,460l1,1v2l1,1v2v-2l-1,-1v-3ZM1333,459h0M737,459v2l2,2l-2,2h-1h3l2,2v1l1,1h2l1,-1l3,3v1v-3l-1,-1h-1l-2,-2h-1l-2,-2v-2l1,-1l-2,-2ZM735,459h0M1061,458h0M979,458h-2v1l1,1l1,-1ZM845,458h0M623,459l-1,-1h-1l-1,1v2h2l1,-1ZM1360,457l-1,1ZM1351,457h-1l-1,1v1h2ZM1292,458v2l1,1h1l1,-1h1l1,-1h1h-3l-1,1l-1,-1v-1l1,-1l-1,1ZM1019,485v-2l-3,-1l-3,-5l-3,1l-1,2l-4,-3l-1,-2l1,-2l-1,-1l2,-6h-2l-1,2l-2,-1l-3,5l-4,-3l2,-3v-2l3,-2l-2,-3l2,-2l-2,1l-3,-1l-2,2h-4v2l-5,3l-3,-2v1l4,1l1,2l4,2l-1,2l-6,3h-3l-1,1l-3,-3l1,-2l-4,-5l1,-1l-3,-1l-5,2l-2,2l1,1l-1,3h4l1,1l-1,1l-5,1l-2,-2l-1,1l-6,-4l-2,2l4,3l-1,4l-1,1l-2,-2l1,-1h-4l-1,1l1,1l-1,-1l3,-1l2,3l7,-1l3,4l3,1l4,-3l1,-3l2,-1l4,5h1v-3l2,-1l5,6h6l1,2l4,-1l1,2l-1,-5l3,-1l3,6h2l3,-2l1,1l3,-2l3,2l3,4ZM988,477l1,-1l1,1l-1,1ZM966,477l1,-1h1l1,1v1l-1,1ZM974,476l1,-1l1,1l-1,1ZM994,475l1,-1h1l1,-1h1l1,1l-2,2h-2ZM968,475v-2l1,-1h1l1,1v1l-2,2ZM990,470l1,-1h1l1,1h1l2,2v1l-1,1h-1l-1,-1h-1l-1,-1v-1ZM469,457v1l1,1v2l1,1h1v-1l-2,-2v-1ZM643,456v2l-2,2h-1l-1,-2l-2,1l-3,-3l-2,4l2,-1l4,2v2l-2,2l-3,-1l-1,5l1,-1l2,1l-1,2l1,1l-1,2l1,1l3,-3l2,4l-5,7l-6,1l-1,-1l2,-2h4l-2,-1h-3l-1,1l-3,-3l-3,1l-1,-1l-3,2l-2,5l-3,-2l1,-1l-1,-1h-5l-2,-2v-3l-1,1v3l-3,2v4l5,-4l1,2l3,2v2l2,3l1,-1l1,1l-2,3h-3l-2,2v2l3,2v5l-2,2l-4,1l2,3v4l2,-1l10,1l1,-1l8,9v2l-6,8v1l4,3v11l1,-9l-2,-4v-3l5,-5h1l2,3l2,-2l-1,-1v-4l1,-1l4,3l1,3l-3,2l1,1l-2,1v3l-2,3l3,1l-1,3h1l1,2h2l5,3l-7,-6l-1,-5l2,-4l3,-1l4,-6l3,2v-4l-2,1l-1,-1l1,-3l2,1l-3,-3l2,-3v-7l1,-1l-4,-2v2l2,3l-2,4l1,3l-2,2l-2,-2l-6,5l-1,-1l1,-2l-6,-3l-1,2h-3l-3,-3l-3,-1l-1,1l-5,-3v1l-2,1l-3,-3l4,-3l-2,-4l2,-1l-1,-4l3,-2l2,1l2,-3l-1,-2l1,-1l4,2l2,-1l2,-3h2l2,-3l3,-1l1,1l1,-3l3,1l4,-2h3l1,-2h2v-3l-2,-1l1,-4l-2,-4l1,-10ZM627,519l1,-1l1,1l-1,1ZM605,509l1,-1l1,1l-1,1ZM618,489l1,-1v-1l1,-1h1l2,2h1l2,2v1l-2,2h-2ZM616,485l1,-1h1l1,1l-1,1h-1ZM613,483l1,1v1l1,1v1l-1,1l-3,-3ZM609,484l1,-1l1,1l-1,1ZM543,456v1l1,1v-1ZM1362,455h0M1303,455h0M614,455h0M1231,454v1M1216,453l1,1ZM382,455v1l-4,4h-2l-2,-2v-1l-1,-1v-1l-1,-1v-1v1l1,1v1l1,1v1l1,1v2l-2,2l1,1l1,-1h1v-2l1,-1h2l2,-2v-1l1,-1ZM1359,452h1M382,452h-1v1ZM1223,451h-2v2ZM1403,450h3M1391,453h7l-1,-1h-1l-1,-1v-1h-1ZM343,463h1l1,1l1,-1l1,1h2l1,1l3,-3h1l1,1h1v-2l1,-1l-2,-2v-1l3,-3l1,1h4l1,1l1,-1h3l2,-2l-2,2h-8l-1,-1h-2l-1,1h-3l-1,1h-1l-3,-3l1,-1h-3l-1,-1v-1l-1,1l2,2h1l3,3h3l2,2v2l-1,1h-1l-3,3l-2,-2l-1,1ZM1389,453l-3,-1l-1,-2l-2,-1v-2l-4,2l-2,-1l-2,1l-1,-1h-4l-2,4l-2,-2l-1,2l-2,-1l6,10l-3,2h-2l1,2l-5,3l2,4l-2,2l-1,-2l-3,-1l-1,2l-2,1l-1,-1l1,-2l-1,-5l1,-1l3,1l-2,-4l-3,2h-4l-1,-1l-7,5l-6,6l-1,-2l3,-3l-1,-2l1,-4h-1l-5,6l-4,3h-2l-4,5l-1,-1l1,1l-1,1h-2v2l2,2l-4,2l-2,-2l1,1l-5,4v2h1l6,7l-3,2l1,1h3v-2l2,-2l-1,-3l1,-1l1,1l1,-2h1l1,2v-2l-3,-3l2,-3l-2,-4l2,-2l3,2l1,-1l1,1l3,-1l1,1l-3,4l1,1l-4,3v3l2,1l-1,1l1,-1v-4l3,-4l3,2l-1,3l2,-1l1,1l-1,1h3v-2l-2,-2l1,-1v-3l-5,-3l1,-1h3l2,-2h3l4,3l1,2l-1,5l3,2v3l2,-1l-1,-3l1,-1v-3l2,-2h2l2,2l3,-1l3,1l2,3l-3,2h5l1,1v2l-4,3l-2,-4h-1l-1,6l1,1h6l1,-1l2,2l4,-1l1,-2l4,-3l1,-3l5,-4l3,-5v-5h-3l-1,-1v-4l1,-1l2,1v-4l7,-6ZM1363,496l1,-1l1,1l-1,1ZM1362,495l1,-1l1,1l-1,1ZM1361,494l1,-1l1,1l-1,1ZM1312,492l1,-1l1,1l-1,1ZM1314,487l1,-1h1l1,1v1l-1,1h-1l-1,-1ZM1327,484l1,-1l1,1l-1,1ZM1361,479l1,-1l1,1v1l-1,1l-1,-1ZM1351,477l1,-1l1,1l-1,1ZM1378,475l1,-1l1,1l-1,1ZM1331,472l2,2v1l-1,1v1l-2,2l-1,-1v-4ZM1325,472l1,-1l1,1l-1,1ZM1329,469l1,-1l2,2l-1,1h-1l-1,-1ZM1374,460l1,1v1l1,1v2l-1,1h-2l-1,1h-1l-1,-1v-4l1,-1h1l1,-1ZM1372,455h2l1,1v1l-1,1v1l-1,1h-2l-1,-1l1,-1v-2ZM1366,456l1,-1h1l1,1l-1,1h-1ZM595,447l-1,1h-1v2h1l1,1l-1,-1v-2ZM432,446h0M1015,445h0M1384,444h-1v1ZM1231,444v1h1l2,2v1l-1,1h-1v1l1,1h1l2,-2h1l1,-1l-2,-2h-1l-1,-1h-2ZM438,444l-4,2l-1,3l-2,1l1,5l-3,2l-7,8v2l1,-1h3l1,1l-2,1v3l-2,2l-2,-1v3l2,3l-1,6l3,3l2,-1l5,3l-3,3l6,1l2,3l5,1l6,6h2l4,-5l-2,-5v-3l2,-2h3l1,1l2,-1l1,1v3l1,-2l1,2l2,-6v2l-2,2l-5,-4v-2l1,-1l2,1v-5l4,-5l3,-1l4,2l1,-1v-3l-3,-2l2,-2v-2l-3,-2l-2,1l-5,-7l2,-4h-3l-4,-4l-4,3l-1,-1v-3l1,-1l-2,-1h-4l-3,5l-3,-1l-3,-3l1,-2ZM437,492l1,-1l1,1l-1,1ZM426,484l1,-1l1,1l-1,1ZM430,482l1,-1l1,1l-1,1ZM457,481l1,-1l1,1l-1,1ZM458,480l1,-1l1,1l-1,1ZM459,477l1,-1h2l1,1l-1,1h-2ZM454,476l1,1v1l-1,1h-2l-1,1l-1,-1v-1l1,-1h2ZM453,475l1,-1l1,1l-1,1ZM458,474l1,-1h1l1,-1h1l1,1l-3,3ZM453,472l1,1v1l-3,3h-2l-1,-1l1,-1v-1l1,-1h1l1,-1ZM468,467l1,-1l1,1l-1,1ZM563,443h0M1431,444l-1,-1v-1h-4l-3,3h-1l-1,1h-1l-1,1l-1,-1h-1l-2,2v1h2l3,-3l2,2l1,-1h2l1,-1h2l1,-1h2ZM1026,442v1M592,442l-1,1l1,1h1l1,1v-2h-1ZM577,441h0M1374,441v3l1,-1h3h-2l-1,-1v-1l1,-1h-1ZM1318,440h-1l-2,2v1l1,-1h1v-1ZM1257,440h0M1319,438h0M439,438h0M367,438h1l1,1h1l-1,-1ZM1428,437h-2v1l1,1l1,-1ZM577,437h0M1325,438l-1,-1v-1l-1,1h-2v1ZM1348,436l-3,-1l-3,5h-2l-2,-2v-2l-3,1l-7,6l-4,2l-1,3l-3,2v3l-7,6l-3,1v2l-2,1l1,1l-1,1l-5,-2l2,-2l-4,3l2,1l-1,2h3l1,1l3,-2l3,7l-1,3l7,-6v-1l-2,-1l1,-2l9,-8l-1,-1l5,-4l4,1l1,1l-1,1l2,1v-2l-3,-2l1,-2l6,3l4,-3h1l1,2h4l4,-2l1,1l-1,-2l-4,-3h-3l-1,1l-3,-1l-6,5l-4,-4l3,-4l6,1l-1,-2l3,-2ZM1312,470l1,-1h1l1,1l-1,1h-1ZM1302,464l1,-1l1,1l-1,1ZM1316,456l1,-1h2l3,3l-1,1h-3l-2,-2ZM1340,450l1,-1l1,1l-1,1ZM1324,450l1,-1l1,1l-1,1ZM1341,449l1,-1l1,1l-1,1ZM1330,445l2,2l-4,4l-1,-1h-1l-1,-1l1,-1v-1l2,-2ZM804,435h-4l-4,2v2l-2,2l-1,-1l-1,2l2,-1l3,1l-2,1l-1,8l-3,3h-5v5h2v-1l4,-3l1,1l-1,2l3,2l1,4l-1,1v3l-2,1l4,3l-3,1l1,3l-1,1l-2,-1l-2,-3l-3,-1l-2,-3h-3l-1,1l-3,-2h-2l-1,1l3,1l-2,4v2l2,2l-2,3l1,6l-4,5l-1,4l-3,4l-3,2l1,1l-1,1l-2,-1l-1,2l1,3l-5,4l-1,-2l-2,1l2,2v2l-3,2l-1,-3h-1l-3,4l-3,-2v-3l1,-1h3v-2l-1,1l-1,-1v-3l2,-1v-1l-3,1l-2,3l-3,-1l-3,1l-3,4l1,3l3,-5l3,3v1l-3,2v2l2,5v6l4,6h2l4,-3l3,3l1,-1l2,1l4,-3l1,1l-1,1l1,-1l2,2l-2,1l-1,4h2l5,5h3l4,2l1,8l4,3l-1,2l-2,-1l-1,1l3,3l-1,2l2,1l6,-3l2,-3l3,-2v-2l2,-3l-3,1l-3,-5l2,-1l1,2h1l2,-3l1,2l1,-2l-1,-9l-3,-4v-6l3,-2h3l1,1h4l4,3l2,-2l2,2l8,-4l1,-2l3,1l4,-7l-4,-5v-3h-2l-2,-2v-2l4,-5l1,1v4l1,2h1l3,-8l-1,-3l6,-2l3,-5l-1,-11l2,-4l-1,-2l1,-1l-2,-2l-5,-1l-3,-3l1,-4l1,-1h3l-3,-5h-3l-1,-1l-1,1l-1,-2h-4l-1,1l1,3l6,4l-1,2l2,2l-3,2l-2,-1l-1,-2l-1,1l-3,-1l-3,2l2,3l-1,1h-3l-2,-4l1,-1l-2,-4l-3,-1l1,-1l-2,1l-4,-3v-2l1,-1l1,1l-1,-2l2,-1l-1,-2l5,-9v-5l-5,2l-1,-1l1,-2h2ZM759,523l1,1v1l2,2l-2,2l-2,-2v-3ZM752,523l1,-1h1l1,1v1l-1,1ZM762,524l6,-4l3,1l8,-1l1,2l6,1l2,2v2l2,3l-2,2l-6,1l-4,2l-1,-1h-8l-3,-1l-2,-3l-2,-1ZM821,514l1,-1l1,1l-1,1ZM811,513l3,3v1l-4,4h-3l-1,-1v-2l1,-1l-1,-1l1,-1h1l2,-2ZM770,515v-1l1,-1h1l1,1l-2,2ZM764,514l1,-1l1,1v1l-1,1l-1,-1ZM769,507l1,-1l1,1v1l-1,1l-1,-1ZM766,506l2,2l-1,1v1l-2,2h-1l-2,-2ZM786,505l3,1l2,3v3l-2,2h-2l-4,-3l3,-4l-1,-1ZM770,505l1,-1l1,1l-1,1ZM818,496l1,-1l1,1v1l-1,1l-1,-1ZM771,499l3,-3l3,-1l2,1l2,-1l2,3l1,-1l2,3h3l1,1l-7,6l-2,-6l-2,3h-4l-1,1ZM828,491l1,-1l1,1l-1,1ZM813,486l1,1v4l-1,1l-1,-1v-4ZM785,484h2l2,4l3,2l-2,7l-2,-3h-2l-2,-2l2,-1v-3l-3,-1ZM789,485l3,-2l5,-1l1,2l4,-1l3,4l-3,3l-5,1l-2,-3l-3,2ZM832,481l1,-1h1l1,1l-1,1h-1ZM778,480l1,-1h1l1,1l-1,1h-1ZM811,477l2,1v3l2,2l-1,2l-2,-1l1,1l-1,2h-2l-1,-3h-1l-1,2l-2,-3l1,-2h3ZM805,478l1,-1l1,1v1l-1,1l-1,-1ZM803,475l1,-1h1l1,1v1l-1,1h-1l-1,-1ZM822,474l1,-1l1,1l-1,1ZM837,473l1,1l-1,1v1l-1,1v1l-1,1h-1l-2,2l-1,-1l-1,1l-2,-2v-1l1,-1h2l3,-3v-1l1,-1l1,1ZM821,469l2,6l-2,3l1,-1l1,1v2l3,2l-1,1l1,1l2,-3l3,2v3l-3,2l-5,-3h-4l-1,-1l1,-1l-1,-2l1,-2l-1,-6ZM803,470l1,-1l2,2l-1,1h-1l-1,-1ZM803,464l1,-1h2l1,1h1l3,3v1l-1,1l1,1v1l-1,1l-2,-2h-1l-1,1l-2,-2l1,-1v-3h-1ZM823,456l1,-1l1,1l-1,1ZM786,456l1,-1h1l1,-1l2,2l-1,1h-3ZM794,452l1,-1h1l1,1l-1,1h-1ZM1435,434h-1v2l1,-1ZM1000,431h0M440,432l2,2h2l1,-1v-1l-1,-1h-2l-1,1ZM966,454l-4,-3v-2l-2,2l-4,-2l-1,1l3,2l-2,1l-1,2h-1l-1,-2h-5l-1,-3l-4,-1v3l-1,1h-4l-3,-4l-4,2l-7,1l-6,-5l1,-1l4,1l2,-2h2l1,3l1,-1l-1,-1v-7h-4l-1,-1l1,-4l-5,-4h-5l-1,1l2,3l-2,2h-1l-1,-2l1,6l-4,3h-4l-4,-5l-1,1l-1,-1l1,-2l-2,-2h-3l-1,1l-4,-1l-3,3l-5,-1l-1,1v3l-2,3l-3,2l-3,-1l1,-2l-1,-2l-3,1v2l-2,2h-2l-5,6h-4l-3,2l-3,4h-3l5,3v2l3,2v2h4l1,2l4,2l-2,3l-1,-1v3l-1,1h3l1,-2l1,3l2,-5l6,2l1,-1l-1,-2l3,-2l1,1v5h2l2,2v3l-1,1l-1,-1l1,1l-2,2l-1,-1h-3l1,2l6,-1l-1,-1l3,-4l2,1h7l2,2h4l-1,-1l1,-1l-1,-3l3,-3v-3l2,-2l2,2l3,-2l2,1l1,-1l1,1l-1,3l1,5l-1,1l-2,-1l1,1l-1,2l3,2l-1,2l5,-3l4,2l2,-3h2v-1l-3,-2l-2,5l-2,-3l-4,-2v-2l3,-1l2,-3l1,2h3l2,2l-2,-6l-1,1l-2,-3l2,-2h2l1,2l3,-1l1,2h2h-1l-3,-4l5,-7l3,2v5l2,1l-1,2l2,1l2,-1l1,1l1,-1l3,1l1,-1l-3,-6l4,-5l4,1v-1l2,-1l1,1l-1,1l1,-1l1,1l1,4l1,1l2,-1l1,3l1,-1l-1,-3l7,-3ZM912,480l1,-1l1,1l-1,1ZM892,476l1,-1l1,1l-1,1ZM863,469l1,-1l1,1l-1,1ZM913,468l1,-1l1,1v1l-1,1l-1,-1ZM889,465l2,-2l2,2l-1,1h-2ZM915,455l2,3l-2,1l1,2l-3,3l-2,-1l2,1l-2,2h-5l-4,-2v-3l2,-2l3,1l-1,-1l3,-4l2,1l1,-1ZM877,447l1,1l-2,2h-1l-1,-1l2,-2ZM873,446l1,-1l1,1l-1,1ZM870,446l1,-1l1,1l-1,1ZM373,430v1l-3,3v1l2,2h2l1,1v1l-1,1h-2h2l1,1h1l1,1v1l2,2h2l1,1l-1,-1h-1l-2,-2l1,-1l-2,-2v-3l-1,-1v-1l-1,-1l1,-1h1l1,-1l2,2l-2,-2h-1l-1,1l-2,-2v-1ZM373,431l2,2v2l-2,2l-2,-2v-2ZM338,447l2,-2l1,1l1,-1h2l1,1v1v-1l-2,-2v-2l-1,-1l1,-1h1l2,-2h1l1,-1h4l1,1l1,-1h1l1,-1h3l1,1h4h-2l-2,-2h-1l-1,1h-2l-1,1h-5l-1,-1h-1l-1,-1l1,-1l-1,1h-1l-1,-1v-1l1,-1h1v-1l-1,-1h-1h1l1,1l-2,2v1l-2,2l1,1v1l-1,1h-1v2l-2,2l-1,-1v-3l1,-1l-1,-1v-1l1,-1h1h-1l-1,1v6l-1,1l1,1v2ZM338,443l1,-1l1,1l-1,1ZM1027,429l1,1v1l-1,1v1l1,-1h1v-1ZM1435,428v2l1,-1ZM1392,428l1,1ZM364,428h0M333,428v1l-1,1h1ZM1386,427l1,1l-5,2l-1,-2h-2l1,5l3,2l-3,2l1,2l1,-1l3,1v-3l3,-2v-3ZM762,427l3,3v2h2v-2l1,-1h-1l-1,-1v-1h-1l-1,1h-1ZM580,427l-2,2l-2,-2l-2,1l1,3l-1,1l6,4l-1,4h1l2,3v3l-3,2l2,2l1,5l-2,1l-2,3l-4,-1l-1,2v3h3l1,1l-1,-3l2,-2h3l1,-2l3,2l1,-1l1,1v-7l-1,-1l1,-1v-4l-1,-2l1,-1l1,1l-1,-2l2,-4l-2,-1l1,-3l-5,-6ZM574,429l1,-1l1,1v1l-1,1l-1,-1ZM1024,426h-4l-3,3l-4,-2h-2l-2,2h-4l-2,1l3,2l-1,2l1,1l-1,1h-5l-1,2l-1,-2l-5,-3l-4,3l1,3l-3,1l-3,3l-2,-1l-1,-3l-3,1l-3,-1l-2,-2l1,-1l-5,1l-3,-3l-1,1v4l3,2l3,-2l3,5v3l2,1l-4,4v3l2,1l3,-5l2,1l1,-1l2,3l2,1l1,-1l1,1h3l1,-2l7,2l1,-1v-3l-1,-1l1,-2h-1l-1,2l-2,-2v-2l3,-4l2,2v-1l2,-1l1,2l2,1v7l-2,3v3l1,1h3v-1l3,-1l1,-2l2,2h2l-1,-3l-4,-5v-2l-6,-3l2,-2h3l2,-2v-3l1,-1l5,1l2,2l1,-2h2l1,-5l-2,-3l4,-2ZM1006,452l1,1v2l-1,1l-2,-2ZM986,450l1,-1l2,2l-1,1h-1l-1,-1ZM991,448l1,-1h1l1,1l-1,1h-1ZM975,447l1,-1l1,1l-1,1ZM983,446l1,-1l1,1l-1,1ZM998,438v2l-1,1h-1v1l-1,1h-2l-1,1h-1l-2,2l-1,-1h-2l-1,-1l1,-1h1l2,-2h4l4,-4ZM1429,425v1l1,-1h1l1,1l1,-1l1,1l-1,-1ZM333,425h1M1380,424v1h1l1,1h1v-1h-2ZM346,424v2h1v-2ZM1422,423h0M373,423v2M1419,422h1M1383,422h0M772,423l-1,-1l-2,2h2ZM339,422l1,1h1l1,1h1v-1l1,-1l-1,1h-2l-1,-1ZM337,422l-1,1ZM574,421l-1,1l-6,-1l-3,1l-4,4h-4l-1,-1l-5,3l-3,5v3l-3,6v3l2,1l5,-1l2,3l-1,1l-3,-1l2,1l-3,2l2,6l-1,3l2,1l1,2l-2,2l-2,5l-2,1l-2,-2v5l1,1l3,-1l2,2v2l1,-1h3l1,1l-3,2h-3l1,2l1,-1l1,3l2,1v2l-3,1l2,2l-1,2l1,-1l2,1v1l-3,2v2h2l2,3l-1,1l1,3l-4,2l-1,3l3,-3h2l1,1l-1,2l2,2l-6,4l1,3l-1,2l2,-3l1,1l4,-6l2,1l4,-1l-2,1l-3,-1l3,-4l3,-2l3,1v3l1,1h4l7,-5l3,-4l-2,-3l3,-1l1,-2l-3,-1l-1,2l-4,-1l-2,-3l4,-3l2,-3l7,-3l1,-4l-2,-1l2,-3l2,-1v-2h-3l-2,4l1,2l-1,1l-3,-1l3,1l-1,2l-5,-2l-3,-3l-3,-6l-1,1h-3l-3,-3l2,-6h-3l-1,-2l-5,-4l1,-1h3l1,2l1,-3l4,-3l1,-4l-4,-2l-2,1l-3,-1l-2,1l-1,-1l-3,2l-2,-3l-2,-1v-1l2,-1l-1,-3l-2,1h-4l-1,-1l4,-6h1l1,2l5,1v-3l1,-1l-1,-2l1,-1l1,1l6,-2l3,1l6,-5ZM574,507l1,1v1l-1,1h-1l-1,-1ZM577,505l1,-1l1,1v1l-1,1l-1,-1ZM555,505l1,-1l1,1l-1,1ZM554,477l1,-1l1,1l-1,1ZM550,452l1,-1l1,1l-1,1ZM556,448h1l2,3l-1,1l1,2l-1,2l3,1l-2,3h-5l-1,-3l2,-1l-2,1l-2,-2l1,-3l2,-1ZM369,421v2l-1,1h-3v2l1,-1h1l1,-1h1ZM737,420v1M345,420h0M758,419h0M350,421l2,-2l-2,2v2l2,2v1l1,1h4v-1l1,-1l3,3v1h1l-3,-3v-1h-1l-2,2h-2l-4,-4ZM339,419h0M1415,418l-2,1v3l-2,2l-9,3v2l-2,3l2,3v4l-1,1l1,-1l11,-1l5,-4h4l2,2l-1,-1l2,-2l-1,-2h-3l-2,3l-3,-4l-2,-1l-1,-2l1,-2l3,2v-4l-2,-3ZM1405,435l1,-1l1,1l-1,1ZM1387,418l1,1h3l1,-1v-1h-4ZM1388,418l1,-1l1,1l-1,1ZM348,413l-1,1h1ZM1168,412v2l-1,1v1l1,1h4l1,-1v-1l-1,1l-1,-1v-1l-1,-1v-1ZM1170,416l1,-1l1,1l-1,1ZM354,412h2M352,412h0M1189,407h0M1203,406l1,1ZM351,406l1,1h1l3,3h1v-2l-3,-3l-1,1ZM347,405v5v-1l1,-1h1v-1ZM343,405l-1,1v1l1,-1ZM1137,400h0M1387,400v1l1,1v1l2,2l1,-1h2h-1l-1,-1v-2h-1l-1,-1v-1l-1,1ZM1012,463l6,1l1,2h2l2,-3h4l2,2h3l6,3l6,-2l3,1l5,-1v-5l-1,-2l3,-3v-2l3,-2l-1,-5l2,-2l-2,-2v-2l-2,-1l1,-1l4,1l2,2l1,4h2l2,2l-1,1l-5,-1l3,1l-1,4l3,-2l1,1l-1,2l4,-4l1,1l-1,3v4l2,1v-2l3,-3l2,1l-2,6l3,2v2l4,4v1l-5,4l2,2l1,9l-2,2l-2,-1h-3l-1,1l2,2v2l10,9h2l-1,-1l1,-2h2l2,3h2l6,-4l2,2l2,-4l-2,2l-4,-3l1,-3l-2,1l-2,-1l-4,4l-1,-2l2,-2h-1l-2,-3l-3,-1l1,-1v-3l-2,-1l2,-3l2,1l1,-1l2,2l-1,2l-1,-1l1,2l3,1l-1,-4l2,-1l5,-6h2l3,2l1,-1l2,6h2l2,-3l-2,-1l3,-1l1,3l6,5l-1,2l-3,1v1l2,-2l2,1v4l-4,3l4,-2l7,6v2l4,-3h4l1,2l-7,4l3,1l1,-2l2,1l1,-2l2,2l1,-1h3l1,1l2,-1l2,2h4l1,-1l3,1l3,-2v-3l4,-5l3,-2h4l1,2l-2,1v2l-3,2l1,1l-2,2l1,1l-3,2l1,2l6,-2l5,3l1,-1l1,1l4,-1l4,3l-1,-2l1,-3l-2,-2l1,-1l-1,-2l1,-1l2,2h6l1,-3l3,2v2l-2,1v1l2,-1l1,2l3,2l2,-1l2,3h2l1,-2l3,1l2,3l-2,3l4,-2v-2l2,-4l-1,1l-2,-1l3,-5l-1,-1v-3l3,-4h2l2,-3l3,-2l1,1l-1,2v5l4,2l4,5l-2,2v5l-2,2l-2,-1l2,3v3l3,-1l2,2l1,-3l3,4l-2,1l-1,3l-4,-1l5,1l3,-2l2,2l-1,2h-3l-1,1l-3,-1v5l-1,1l1,1l-1,1h-6l-1,1v2l3,-1l2,2l-1,1l1,2h7l1,1l-3,4l2,-2l1,1l8,-8l6,-4l-2,-1l2,-3l-1,-2l4,-3h2l1,-2l-1,-1v-3l3,-3l3,-1v-3l1,-1l1,1l1,-3l1,1h3v-4l1,-1l-1,-2l1,-1l1,1l-1,-1l1,-2l1,1v-3l-2,-4l-1,1l-1,-1h-5l-1,1l-3,-3l-1,-5l-1,1h-3l-3,-2l-3,1l-3,-3v-5l1,-1l4,4l2,1l2,-1l2,2h1l3,-4l7,-1l2,1l2,3l-1,5l2,-1l-1,-3l3,-4l-1,-2l3,-7l-1,-2l3,-3l-1,-1v-3l-3,2l-1,-2l-4,-2v-3l1,-1l4,1l2,-2h2l-1,-1l1,-2l-5,-2l-2,-2h-5l-1,2h-3l-1,-1l1,-1l-4,-3l-2,-5l-2,-2v-2l-2,-2v-5l-5,-2l4,-5l-21,8h1l2,3h2l3,2l-2,3l-2,-1l-3,1l-3,-4l1,-1l-1,-2l-3,2h-4l-6,2l-9,-1l-6,-3l-1,1l-3,-3l2,-2h3l1,-5l-3,-2l1,-1h3l-2,-2l-3,1l-1,-2v2l2,2l-2,3v3l-3,1l-1,2l-1,-1l-1,2l-4,3l-1,2l1,2l-3,1l-3,-4l2,-3l-2,-5l-9,-1l-1,-2l-3,2l-3,-2v-2l-9,-1l-1,-2l-3,-1l-1,2l-2,-1l3,2h2l2,3v-1l2,-1l2,5l-3,4l-4,1l-1,-2l-3,-1l-1,-3l-6,1l-1,-2l-4,-3l1,-2l-2,-3v-2h-5l-2,5l-2,1v1l2,-1l4,4l-1,1h-3l-2,-2l1,5l-1,1l-8,1l-2,3l-4,-3h-4l-7,-8l-1,-13l-2,-1h-6v1l-3,2l-1,-2l-2,-1l-1,2l-8,1l-4,-2l3,-4l-5,-3l-4,7l-3,-1l1,-1l-1,-4l-3,2v1l6,5l1,3l-3,1l-2,-3l-2,2l-3,-1l3,4l-3,1l-1,2l-3,-9h-2l-1,9l-3,6l3,2h2v-2l2,-1l2,5l-1,1l-5,1l-1,-2l-1,1l-4,-1l-4,-4l1,-1l-1,-3l-3,3l-3,-1l-2,3l-1,-2h-2l1,3l2,1l2,-1l1,1v3l1,1l-2,1l-4,5h-2l1,2l-2,1v1l3,1v2l-2,2l1,1l-1,2l-4,4h-2l-3,-2l1,1l-1,3l3,4l-1,1h-7ZM1236,535l1,1v1l-2,2l-1,-1v-1ZM1227,535v-1l1,-1h1l1,1l-2,2ZM1243,531l1,-1l1,1l-1,1ZM1229,531l1,-1l1,1l-1,1ZM1245,516l5,5l-7,8h-5l-1,-1l3,-2v-2l3,-5l-1,-1ZM1245,516l1,-1l1,1l-1,1ZM1228,514l1,-1l1,1l-1,1ZM1236,510l2,2h1l1,1v3l-2,2l-2,-2v-1l-1,-1v-1l-1,-1ZM1200,507l1,-1l1,1l-1,1ZM1263,505l1,-1l1,1l-1,1ZM1260,504l1,1v2l-1,1h-2l-1,-1ZM1264,503l1,-1l1,1l-1,1ZM1265,502l1,-1l1,1l-1,1ZM1174,502l1,-1h1l2,2v1l-1,1h-1l-1,-1v-1ZM1173,500l1,-1l1,1l-1,1ZM1176,499l1,-1l1,1l-1,1ZM1228,497l1,-1h1l1,1l-1,1h-1ZM1138,495l1,1v2l-1,1v1l-1,1l-1,-1v-4l1,-1ZM1083,494l1,1v1l-1,1h-1l-1,-1ZM1178,493l1,-1l1,1l-1,1ZM1240,492l1,-1l2,2l-1,1h-1l-1,-1ZM1233,492l1,-1h1l1,1v1l-1,1ZM1177,492l1,-1l1,1l-1,1ZM1232,488l2,-2h1l1,1h2l1,1h1l1,1l-2,2h-1l-1,-1l-1,1h-2l-1,-1v-1ZM1177,489v1l-2,2l-1,-1h-4l-2,2l-2,-2v-1l1,-1h1l3,-3h3ZM1171,483l1,-1l1,1v1l-1,1l-1,-1ZM1109,474l1,-1l1,1l-1,1ZM1104,471l1,1v1l-1,1h-1l-1,-1ZM1104,471l1,-1l1,1l-1,1ZM1256,465l1,-1h1l1,1l-1,1h-1ZM1247,462l1,1v1l-1,1h-1l-1,-1ZM1246,461l1,-1l1,1l-1,1ZM1195,460l1,-1l1,1v1l-1,1l-1,-1ZM1252,458l1,1v1h1l1,1v1l-1,1v1l-1,1l-1,-1h-1l-1,-1v-1l-1,-1l1,-1h1v-1ZM1234,459v-1l1,-1h1l1,1l-2,2ZM1090,458l1,-1h1l1,1h2l1,1v1h1l1,1v2l1,1l-1,1h-1l-1,1h-1l-1,-1v-1h-1l-2,-2l1,-1v-1ZM1076,458l1,-1h1l1,1l-1,1h-1ZM1262,457l1,-1l1,1l-1,1ZM1192,456l1,-1l1,1l-1,1ZM1190,450l1,-1l1,1v1l-1,1l-1,-1ZM1046,450l1,-1l1,1l-1,1ZM1075,448l1,-1l1,1l-1,1ZM1250,446l1,-1l1,1l-1,1ZM1076,446l1,-1l1,1v1l-1,1l-1,-1ZM1055,446l1,-1l1,1l-1,1ZM1045,445l1,3l-2,1l1,2l-2,3l2,3l-2,1l-1,3l-2,-3l1,-3l-2,-1l1,-3l-1,-1ZM1224,441l1,-1l1,1l-1,1ZM1175,440l1,-1l1,1v1l1,1l-1,1h-1l-1,-1ZM1243,438v2l-2,1l-1,9l2,-1l2,2l-2,2l-1,-1l-8,6v4h1l3,4l-1,2l-2,1l-2,-3l-3,1l-8,-1l-2,-3v-3h-2l-6,-4l-1,1l1,1l-2,1v3l-1,1l1,2l-1,1l-4,-2l-2,1l-2,-2l4,-5h3l-2,-4l-3,-1l-1,-2l1,-1l-2,-1l2,-4l4,1l3,-2l2,4l7,-2l6,2l2,-4l1,1l3,-4h4l1,-1v-4l1,-1l1,2l2,1l2,-1ZM1156,436l1,-1h1l1,1h1l1,1v1l-2,2l-2,-2v-1ZM1066,435l4,2l1,4l-2,1v1l2,2v-3l4,-3l2,1v5l-3,2l1,3l-2,2l-5,-3l1,-1l-4,-6l-2,-1ZM1212,434l3,1l2,3v3l-3,2h-2l-1,-1l1,-2l-3,-1ZM1169,435l1,-1l1,1h4l1,1v3l-1,1h-2l-1,-1v-1l-1,-1h-1l-1,-1ZM1066,435l1,-1l1,1l-1,1ZM1164,433l1,-1h1l2,2v1l-1,1ZM1099,433l1,-1l1,1l-1,1ZM1100,432l1,-1l1,1l-1,1ZM1172,431l1,-1h1l1,1l-1,1h-1ZM1037,431l1,-1h1l1,1l-1,1h-1ZM1171,430l1,-1l1,1l-1,1ZM1114,430l1,-1l1,1l-1,1ZM1050,431l-2,3l-3,-2h-2l1,2l-2,2l-3,1l-2,-1l6,-7l2,1l3,-1ZM1158,427l1,1v1l1,1v1l-2,2h-1l-2,-2l1,-1v-1ZM1126,428l1,-1h1l1,1l-1,1h-1ZM1054,428l1,-1l1,1l-1,1ZM1041,427l1,-1l1,1l-1,1ZM1101,425l1,-1l1,1l-1,1ZM1125,424l1,-1l1,1l-1,1ZM1134,421l1,-1h2l1,1v1l-1,1h-2l-1,-1ZM1087,420l1,-1l1,1l-1,1ZM1056,416l2,2v2l-1,1l-2,-2v-2ZM1079,416l1,-1h2l1,1v2l-1,1h-2l-1,-1ZM1052,415l1,-1l1,1l-1,1ZM1086,407l1,1v5l-1,1h-3l-1,-1v-1l1,-1v-1ZM531,399l2,2l-1,-1v-1ZM1398,396v1M1149,396l-3,3h-1v2h2v-1l2,-2ZM513,401l2,-1l2,2h2l2,-2l4,3v2l4,-2l-4,-5l1,-1l3,1l1,-1l-4,-1l-1,-2l-1,2l-3,-2h-2l-2,4ZM522,397l1,-1l1,1l-1,1ZM1066,391h-1v1ZM1134,388l1,3l-1,4l1,1l2,-4h3l3,-2l2,1l-1,1l1,5v-1l3,-2v-1l-1,1l-2,-2l2,-1l-4,-1l-4,-3h-4ZM505,385v3l2,3l-5,4l1,2l-1,1l1,1l2,-1l2,2l-1,-1l1,-1l4,1l-1,-6l6,-4h-3l-1,-1l-1,1h-3ZM506,394l2,2l-1,1v1l-1,1l-1,-1h-1l-1,-1v-1l1,-1h1ZM493,361h0M488,353v1h1l2,2v-1h-1ZM480,353l-3,6l-2,1l1,2v4l-1,1l1,3l-2,1l2,2l3,-1l3,4l1,-3l1,2v-1l2,-1l1,3l-3,1l-1,2l9,-1v-2l2,-1l1,1v4h2l2,-5l-3,-2v-4l-1,-1l1,-5l-3,1l-2,-2l-2,-5l-2,-1l-2,1l-1,-1v-3ZM478,352h0M441,323h0M410,323v1M458,304v1h1ZM417,303v1M470,297h-1l-2,-2v1l-1,1h-4h1l2,2v2h1l1,-1h1v-2l1,-1ZM445,282h0M439,281h0M462,294l-1,-1l-3,3l-1,-3l-4,3l-2,-1l-2,1h-4l-1,-1l-3,1l-2,-1l-1,1l-2,-4l1,-2l-1,-3l-3,-3l2,-1l1,-2l-6,4l2,1l-1,3v4l1,1l-2,1l-2,3h-3l-3,-2l-2,1l-1,-3l-3,1l1,1l-2,3l-3,-1l-1,3l6,-1l3,2l1,3l-2,3l1,1l-1,4l-5,4l1,5h2l2,-2l1,1v3l-1,1l2,-2l5,1l3,-4h2l6,5v-3l5,-3l-2,-4v-4l2,-2h3l-6,-2l-2,-3l1,-1l-5,1l-1,-1l1,-4l2,-2l3,1l1,-2l2,2h3l1,1v2l-2,1l1,1l2,-1l3,3v2h1l1,-2l4,2v-2l-3,-4l3,-4l2,3v-2ZM419,320l1,-1l1,1l-1,1ZM421,299l1,-1l1,1v1l-1,1l-1,-1ZM421,297l1,-1l1,1l-1,1ZM434,293l2,2l-2,2l-2,-2ZM444,280h1M430,275v3l1,1v1h1v-1l1,-1v-1l-1,-1h-1ZM431,278l1,-1l1,1l-1,1ZM423,275v1l1,1v1v-3ZM444,272v4l1,1l2,-2l1,1v1h2l1,1v1v-1l-1,-1h-1l-1,-1v-1l1,-1h-1l-1,1h-1l-1,1l-1,-1ZM456,271v3M419,271l-1,1l-1,-1h-1l-1,1l1,1l-1,1l1,-1h1l1,-1h1ZM415,272l1,-1h1l1,1l-1,1h-1ZM456,269h0M445,268v2h1v-1ZM420,268l-1,1h1ZM451,266l1,1ZM430,265v1M449,264h-1l-2,2l2,-2ZM456,263l-1,1l1,1v1ZM453,263h0M409,263h0M411,262h0M448,260l1,1h1h-1ZM414,260h0M447,258h0M423,253h0M418,253l-1,2h2l1,2l-4,5h2l2,-2l2,1l1,3l-2,2l2,-1l3,4l3,2h3l2,2v2l2,1v-3l-2,-3l-2,-1l-3,1l-2,-2l1,-1l-3,-5l1,3l-1,1l-2,-2l-1,-5l2,-3l-3,2ZM412,253l2,2h1h-1ZM457,252h0M446,252l-1,1v1v-1ZM420,252h1M456,247l1,1ZM452,247l2,2v-2ZM445,247h3l1,1v2l-1,1h1v-4ZM438,243l2,2h2h-2ZM421,241h-1v1l-1,1h2ZM436,239l-1,1v1l1,1l-1,-1v-1ZM432,239h0"/>
<path fill="#b52b17" stroke="#b52b17" stroke-width="1" stroke-linecap="square" fill-rule="evenodd" d="M712,670h-1l-1,1h1ZM684,666v1M481,661l-1,1ZM742,660h0M728,660v1l2,2h1l1,-1v-1h-1l-1,-1ZM677,660l-1,1l1,1v2h2v-3l-1,-1ZM673,658v1h1v-1ZM651,653v1l1,1v2l2,2v2l1,1l-1,1v9v-8l2,-2v-1l-1,-1v-2l-1,-1h-1l-1,-1v-1l-1,-1ZM676,655l3,3l6,-2l1,1v5h3l4,4l1,5l1,1h3l1,-1l1,-5h-1v3l-2,2l-2,-2l2,-3v-2h-3l-1,1l-7,-5l1,-3l-1,-2l1,-1l4,1l3,-2l2,3l2,1v-2l-3,-4l-4,3l-2,-2h-2l-2,2h-3l-1,-1ZM637,648l-1,1v1h1ZM493,646v1l1,1v2l-1,1v1l1,1h2h-1l-1,-1v-4l-1,-1ZM480,645l-2,2v3l1,1v3l1,1l1,-2l3,3l-2,3l4,-3l2,4l3,-2l1,3v-3h-3l-5,-3v-4l3,-2l-1,-2ZM478,648l1,-1l1,1h4l1,1v1l-1,1h-4l-2,-2ZM461,638v1l-1,1l1,-1ZM486,636v4l-1,1v2l1,1v-2l1,-1h1l1,-1l2,2v1l1,1l-1,-1v-1l-1,-1v-2l1,-1v-1h-1l-1,1h-2l-1,-1ZM646,635v1l-1,1v1h1l1,-1v-1ZM666,632h0M458,632v1l1,1h2l1,1l-1,-1v-1l-1,-1l-1,1ZM601,631l-1,3l2,-1l8,5v2l-3,3h-2l-2,-2v-3l-3,-1l1,2l-1,4l3,2v3l1,-1l2,2l2,-3h3l1,-1l-2,-4l3,-2l1,-2l-2,-4h-5l-2,-2ZM488,631v1l-1,1v1v-1l1,-1ZM484,626h0M465,626v1l2,2v2l-1,1v1l-1,1v1l2,2l-2,2h-2v1h1l2,2l-2,-2l2,-2h1v-5l2,-2v-1l-1,-1h-1l-1,-1v-2ZM661,626l-1,-1h-2l-2,2h-1l-1,1h-2l-1,1v1h4l1,-1v-1l3,-3h1ZM477,622l-2,2v2l1,1v2l1,1v1l1,1v3l-1,1h-1l-1,1h-1l-1,-1v-3h-1v2l-1,1v3l-1,1v1l-1,1h-1h2l1,-1v-2l2,-2l1,1h4l1,1v-1l1,-1l-2,-2v-4l-2,-2v-2l-1,-1v-2ZM1175,620h0M479,620v1M432,617h-3v4v-3l1,-1ZM675,616v4l4,6v6l7,-5l5,4l-1,2l-4,1l4,3l1,6l-3,5l-3,-4l-3,1h-4l-1,-1l-1,1l-6,-1l-2,2l-1,5l-2,1l-2,3l1,4l-1,1h-3l1,1h3l3,3v4l-5,2v4h2v-2l4,-4v-3l-4,-6v-3l1,-2l3,-2v-4l2,-2l3,4l2,-4l1,1h3l4,-3l6,5h1l1,-3l5,3l1,-4h-4l-2,-2l1,-1l-1,-9l1,-1h3v-3h-5l-2,-2l-7,-1l-3,-2l-3,-4ZM415,614v1M413,614v1M658,611v3h1v-3ZM608,610l-1,-1l-1,1ZM719,608v1l1,1v-1ZM1183,606v2l-1,1v1l1,1l3,-3l-1,-1h-1ZM407,606l2,2l-1,1v1l1,1v1l1,1v-1l-1,-1v-3ZM673,603v2h1l2,2v1v-1l-1,-1v-2h-1ZM425,603h0M517,602l-2,2l-1,-1v1h1ZM502,602h0M429,602h1l2,3l-4,6l-2,-1l2,2l-1,3h1l1,-2l4,2h-1l-3,-4l2,-1l3,-5h2l2,2l2,-2h3l1,1l-1,2h3l1,1v3l-1,1l-4,-2l2,3l-2,2l-1,6l-1,1l-1,-1l-4,5l4,-3l1,1v4h3l4,-2h3v-3l1,-1l3,3l2,-1l1,3l1,-2l-3,-2v-2l2,-1l1,-2l-2,-2l2,-2h1l1,3l4,3l-1,2l1,1l-1,-1l1,-2l-3,-4l3,-1v-4l1,-1l2,1v3l1,-1v-3l-1,1l-3,-1l-1,-2h-3l-2,2h-2l-2,-3l4,-3l2,1l-3,-1l-4,2l-3,-2l2,2l-1,2l-5,-2l2,-2l-3,1l-4,-3h-3l1,2l-2,1l-1,-1h-3l-1,-2ZM448,626l1,-1l1,1l-1,1ZM440,628v-2l1,-1h1l1,1v1l-2,2ZM444,625l1,-1h1l1,1l-1,1h-1ZM454,619l1,1v1l-1,1h-1l-1,-1ZM450,617h1l1,1v4l-1,1h-1l-1,-1v-4ZM453,617l1,-1h1l1,1l-1,1h-1ZM461,609l1,1h1l1,1v1l-1,1h-1l-1,1l-1,-1v-1l-1,-1ZM458,614l-1,2l-7,1l-2,2l1,3l-2,2h-4l-2,-2l1,-6l3,-3l1,1l1,-1v-4l1,-1l3,5l4,-1l1,2l1,-1ZM671,601h0M1175,600v3h1l1,-1v-1l-1,-1ZM747,600h1l1,1l-1,-1ZM741,600v5l-1,1l-2,-1v-2l-3,-3l2,2v2l-1,1l-4,-1l-1,5l2,2v2l3,-1v-3l2,-2h3l1,-1ZM426,600h0M706,599v2l1,-1ZM511,599v1h1v-1ZM495,597h-1v1l-1,1h1l1,-1ZM606,595h0M500,595v3l-1,1v1v-1l1,-1l1,1v-3ZM718,594l-1,3l-2,1l-1,6l-2,3l1,13l-3,2l-1,-1l-4,1l1,5l-3,2v6l5,6h5l1,-3l2,-1l8,6l1,-1l2,3l1,-1l2,2l2,-3l1,1v4l-1,1l-2,-1l-2,3h-7l-2,2v5h3l2,-2l2,1l-3,4l-2,1l1,3l-1,-1l2,-1l1,-3l3,-2l-2,-5l5,-4l4,3l2,-1l4,-5l2,-9l-2,-1l-2,4l-1,-1v-4l1,-1l6,1l1,-3l-1,1l-2,-1l-1,-4l1,-1l1,1l2,-2l3,1v-1h-4l-1,1l-3,-5l-6,-6l-4,-1l-4,-3l1,-1h3l-1,-1h-3v1l-2,1l3,4l2,1l4,-1l3,3l-1,2h-8l-3,2l1,7h3l1,1l-2,8l-2,2h-3l-6,-5h-2l-4,3l-3,-2l3,-2l3,-4v-7l1,-1l-1,-9l3,-3l-2,-1l-1,-2l3,-3l-1,-5l3,-2ZM721,651h2l2,2v1l-3,3l-1,-1h-1l-1,-1l1,-1l-1,-1ZM733,648l1,-1l1,1l-1,1ZM729,645l1,-1l1,1l-1,1ZM737,639l1,1v1l1,1v1l1,1v1l-1,1v1l-1,1v1l-1,1h-1l-1,-1v-1l-1,-1v-1l1,-1l-1,-1v-3l1,-1h1ZM731,638l1,1v3l-1,1h-1l-1,1l-3,-3l3,-3ZM739,633l1,-1l1,1l-1,1ZM740,631l1,-1l1,1l-1,1ZM736,630l2,2v1l-2,2v1l-2,2h-1l-2,-2v-2l-1,-1l2,-2h1l1,-1ZM710,629l1,1v1l-3,3v1l-1,1h-1l-2,-2v-3l2,-2ZM724,624l1,-1l8,1l2,2v2l-3,2l-4,-1ZM712,623l1,-1l1,1l-1,1ZM735,622l1,-1h1l1,1v2l-1,1h-1l-1,-1ZM498,594h0M600,593v1M507,593h3M735,592v3l1,1l1,-1v-2l-1,-1ZM497,592h0M501,591v1M493,590h1l1,1l-1,-1ZM490,590h0M619,589v1l-1,1v2l1,-1h1v-2ZM1199,588h0M1193,587h-1l-1,1h-1l-1,1h-1l-1,1v1h2l1,1l-1,1l1,1l1,-1l1,1v1l-2,2l1,1v1l-1,1v1h1l1,-1v-1l-2,-2l1,-1h1l1,-1h1v-3l1,-1v-3h-1ZM1192,593l1,-1l1,1l-1,1ZM774,587h-3l-4,4h-3l-2,2l1,3l-2,1v2l3,1l-8,9l-3,2h-2l1,2l4,3v-2l-2,-3l2,-2l2,1v-3l6,-6v-2l2,-1v-2l3,-3l2,1l-1,5l-6,8l-4,3v3l-2,1v5l3,3l-4,5l1,5h2l-2,-2v-3l4,-3v-3l-2,-1l-1,-2l1,-1h3l3,2l1,2l4,-5l-1,-1l2,-3l2,-1l-1,-1l1,-1l-1,-2l-5,-2v-2l4,-5l-1,-9ZM759,614l1,-1l1,1l-1,1ZM767,612l1,-1l1,1l-1,1ZM766,611l1,-1l1,1l-1,1ZM764,609h2l1,1l-1,1v2l1,1l2,-2l1,1v2l-3,3l-2,-2h-3l-1,-1v-1l1,-1v-1l1,-1v-1ZM763,608l1,-1h1l1,1l-1,1h-1ZM731,585l-1,1h-1h2ZM396,586h2l2,2v2l-2,2h2l2,3l3,2l-1,2l3,2v2h3l1,1v3l1,1h2l4,5h2l-1,-2l1,-1l4,1l-7,-2v-2l3,-1l2,-3l-4,-2l-2,1l-3,-4v-4l-6,5l-1,-1l1,-3l-7,-4v-5l-1,-1ZM412,603l1,-1l1,1v1l-1,1l-1,-1ZM408,601v-1l1,-1h1l1,1l-2,2ZM410,598l1,-1l1,1v1l-1,1l-1,-1ZM733,584h0M485,584h0M489,588h-3l-1,1h-2l-1,-1v-3l1,-1l-2,2h-3l-1,-1l1,1h2l1,1l-1,1h-1v1l2,2l2,-2h2l1,-1ZM480,590l1,-1l1,1l-1,1ZM479,589l1,-1l1,1l-1,1ZM474,584h1M487,583h0M470,583h1l1,1l-1,-1ZM592,582h-2v2l1,1l1,-1ZM792,580h0M766,580l-1,1h-2l-1,1l-1,-1v1h2l1,1l-1,1v1h3v-1l1,-1v-2ZM764,584l1,-1l1,1l-1,1ZM465,580h1M748,579h0M594,579l1,1h1l-1,-1ZM1218,578h0M1212,578h0M702,578l1,1h2l1,1h2l1,1h1l1,1v2l1,1v1l-1,1v1l1,-1v-2l1,-1h1l1,-1h2v-1l-2,-2h-6l-1,-1h-5ZM699,578h-1v2l-2,2h-4v6l4,3l-1,3l-2,1l-3,-3h-4l-2,2l2,3l-3,3h-3h5l2,-3v-3l2,-2l2,1l1,3h2l5,-4l-2,-3l-4,-2v-4l1,-1h3ZM756,583l-4,-6h-1v3l3,2v2l-3,1l-2,4l-3,-1l-1,-6h-3l-1,1l-4,-1l-2,1l2,2v2l4,4h4l3,-2h2v-1ZM791,574l1,1l-1,1v1h1l1,-1l-1,-1v-1ZM461,574v2M407,574v1M1211,572l-1,2l-4,1l-7,8l2,-1l2,2l-2,3l3,1l4,-5v-3l-2,-2l6,-4ZM460,572h0M790,570l1,1v-1ZM562,570h0M760,569v5h1l1,1l2,-2h1l-1,-1h-1l-2,-2v-1ZM644,570h2l1,-1h-3ZM564,569v1h1v-1ZM437,566h0M598,563v1h1v-1ZM681,563l-4,-1l-4,5l-5,3l-3,-1v-4l-1,-1l-11,7v3l1,2h1l2,-3l2,-1l8,8v3h7l2,-3l-2,-2v-3l-2,-1v-2l6,-6l2,-1l1,1ZM598,560h0M443,560v1l-1,1v1l-1,1v1l-1,1v1l1,1h1v-2l-1,-1v-1l1,-1v-1l1,-1ZM662,559v2h1v-2ZM602,558h-1l-1,1h1ZM439,557h1M602,555l-1,1ZM1242,554h-1v1l-1,1l1,-1l1,1ZM634,553v3l1,1h1l2,2v1l1,1h2l1,-1l-1,-1v-4h-3l-1,1ZM599,555l-1,-1v-1l-2,2l-1,-1h-2l-1,1v1l1,1l1,-1h1l1,1h2l1,-1ZM572,553h-8l-3,2v2l-2,2l-4,-1l-2,-2v-3l-2,1l-1,2l1,1l-1,3l1,4l-1,1l-3,-2l1,-1v-4h-1l-1,6l5,2l2,2v5l-3,5l1,2l3,2v2l1,-1h4l1,1l-1,2l-2,1l1,1h3l1,1l2,-1l-1,-3l2,-3l-2,-3l-3,-1l4,-2v-2l-3,1l-1,-2h-2l-4,-3v-4l1,-1h2l1,2l2,1l2,-4l-1,1h-4l-2,-1l-1,-2l6,-2l5,-7h1l1,2h2l3,2ZM551,579v-2l1,-1h1l1,1v1l-2,2ZM435,553l1,1v2l1,-1h1l-1,-1v-1ZM622,552h-2v3l1,1l1,-1ZM604,553l1,6l-2,1l-1,4l-3,5l-3,1l-4,-3l-3,5h-3l-5,6l3,6l-1,2h-3v6l1,2l2,1v5l-3,1l-2,-2v-2l-6,2l1,1l-1,1l4,-1l2,2v2l3,2l-5,2l-3,-3v-2l-8,1l-2,2l2,2l-3,2l-3,-7v4l1,1l-1,3l3,2l1,-2l9,-3l2,2l1,-1h3l2,2l-3,4l6,-1l7,-5l4,2l-1,2l1,2l4,-3h4l2,2h4l3,-2l3,1l1,-1l2,2h2l1,1v6l-1,2l1,1l4,-1l2,2v3l-2,3l1,2v5l-2,1v3l-1,1l1,6h3l-1,-6l3,-2l1,-6l1,-1h4l3,-2l1,1l1,-1l1,1l2,-1l-3,-7v-3l3,-3l3,1v5l-1,1l1,4h3l1,1l-2,-3l2,-1l-2,-7l-7,-5l5,-11l-1,-1l-2,1l-6,-1l-2,2h-2l-2,-4l9,-6l7,4l3,3v-3l-2,-1l2,-1v-2l-6,1l-4,-4v-3l1,-1l-2,-3v-5l1,-2l-3,-3l-5,-9l1,-6l-4,-5l-2,1l3,2v3l-2,2l-2,-1l2,3v2l-7,6l-2,-3l-2,-9l-6,-6l1,-3h1l3,4l2,-1h-2l-3,-3h-3l-1,3l-1,-2l-1,2l-1,-2ZM646,624l1,-1l1,1l-1,1ZM637,623l1,-1l1,1l-1,1ZM636,612l2,2l-1,1v1l-2,2l-2,-2v-2l1,-1h1ZM626,611l4,2l1,7l6,2l-1,3l2,3l-4,4l-3,-1l1,-5l-1,-1h-3l-6,-7v-3ZM613,612l1,-1l1,1l-1,1ZM610,611l1,-1h1l1,1l-1,1h-1ZM616,610v-2l1,-1h5l2,2l-2,2h-1l-2,2h-1l-1,-1v-1ZM594,607l1,1v2l-1,1l-1,-1v-2ZM615,606l1,1v3l-1,1l-1,-1v-3ZM587,607l1,-1l1,1l-1,1ZM585,607l1,-1l1,1l-1,1ZM567,607l1,-1l1,1l-1,1ZM583,606l1,-1h1l1,1l-1,1h-1ZM630,605l1,-1l1,1l-1,1ZM615,604l1,-1l1,1l-1,1ZM587,603l1,1v2l-1,1l-1,-1v-2ZM580,604l1,-1l1,1l-1,1ZM619,603l1,-1h2l1,1v1l-1,1h-2l-1,-1ZM616,603l1,-1l1,1l-1,1ZM587,603l1,-1h1l2,2h1l2,2v1l-1,1l-2,-2h-1ZM617,602l1,-1l1,1l-1,1ZM605,600l1,3l1,-1l7,5l-2,2h-2l1,1l-4,3l-7,-1l-4,-3l3,-5l4,2ZM618,600l1,-1l1,1v1l-1,1l-1,-1ZM616,597l1,-1l1,1l-1,1ZM636,592l1,-1l1,1l-1,1ZM630,584l5,1l2,2l-4,9h-4l-1,-1l-1,-5l1,-1v-3ZM588,574l1,-1h1l2,2v1l-1,1h-2l-1,-1ZM631,570l2,3l-1,5h4l1,2l-2,2l-2,-1l-5,3l-4,-5l-1,-5l1,-1h4ZM604,562l2,1l-1,3l1,1l2,-2l1,2l5,1l1,2l5,4l-1,1l1,2l-1,1v4l1,2l4,1l2,3l-1,2l1,6l-1,1h-7l-2,-1l1,3l-2,1v4l-1,1l-2,-3l-6,-1l-1,-3l-3,-2l3,-3h2l1,-2h-1l-1,-2l-3,3l-1,-1v-2l2,-1h-2l-2,-2l3,-1l-3,-2l3,-1v-2l-2,-1v-2h-1v4l1,1l-3,2v2l3,1l-1,3l3,2v2l-3,4l-3,-2l-1,1l2,3l-2,2l-2,-1v-4l-1,-1l2,-2l-3,-1l-3,2l-4,-5v-2l2,-1l1,-2l-2,-3v-2l2,-2h3l2,-2l-1,-1l3,-3h2l2,3l2,-1l2,2l2,-3l-3,-3v-4ZM608,558l1,-1h1l2,2v2l2,2l-1,1h-3l-3,-3l1,-1ZM606,555l1,-1l1,1l-1,1ZM1239,549v1M433,548l-1,1h-1v1l1,1v-1l1,-1l1,1v1v-1l-1,-1ZM1202,547h0M1223,546h-1l-1,1h2ZM622,544h0M613,544h1M1242,543v4l1,1v1l2,2l-1,1h1l1,-1h1v-3l-2,-2h-1l-1,-1v-1ZM1259,542l1,1v1l-1,1h1l1,-1h2l1,1l-1,1l2,-2h-1l-1,-1l1,-1ZM425,541h0M427,540h2M420,540v1l1,1l-1,-1l1,-1ZM1265,539h1M1237,539h0M1235,539l-1,1h1ZM421,538h0M1265,533l-1,1h-1l-1,1h2l1,-1ZM1228,532h0M1256,531l-10,8l1,3l2,1l5,-3h2l1,-2l-1,1l-1,-1ZM1254,537l2,2l-1,1h-1l-1,1l-1,-1v-1ZM592,529h0M1278,528l1,-1h1h-2ZM824,526h0M410,523h0M484,524v4l-2,2l-1,4l-2,1h2l1,-3l6,-6l2,1v3l1,1l2,-6l4,5v3l-2,4h-3l-1,4l4,3l4,-1l3,3h3l1,1v-3l-3,-2v-3h-3l-2,2l-2,-1v-2l2,-3v-9l-1,-3l-5,-1l-1,1l2,1l-2,2h-1l-1,-2l-3,1ZM491,541l1,-1h1l1,1l-1,1h-1ZM419,522v2h1l1,1v1v-1l-2,-2ZM416,522l-2,2v1h1l1,1v1h3l1,1h1l1,1v1l-2,2h-1l-1,1h-1l-1,-1h-1h1l1,1l-1,1h1l1,-1l1,1v1l1,1l-1,-1v-2l1,-1h2l1,-1v-1l-2,-2h-1l-1,-1h-2l-1,-1v-1h-1l-1,-1l1,-1h1ZM386,521v2h2h-1l-1,-1ZM1248,526h-1l-4,5l-2,-2l-1,1l-3,-2l2,-1l2,-6l-1,-1l1,-2h-3l-2,1l4,3l-4,4l-2,-2l-4,2l2,5l-2,2l1,2l-2,2l-3,-5l-2,1l-2,-1l-1,2h4l1,1v3h5l1,1l4,-4h2l1,1l-2,1h2l8,-6l-2,1l-2,-1l4,-3ZM503,518v1h1v-1ZM409,518l-1,1l1,1h1l1,1l-2,-2ZM1248,517l-1,1ZM540,527l-3,-1l-1,3l-5,4v2l-4,3l-1,-1l1,1l-2,2h-5l-2,1l-3,-8v-8l2,-2h5l2,3l2,1l1,-2l5,-4l-1,-1l-1,1h-3l-3,-4h-1l1,3l-2,2h-9l-1,2l1,8l-3,9h3l1,2l-3,1l-1,3l1,-2l3,2l2,-3h3l2,2h4l2,-2l3,2h3l1,-1l1,1h3l3,-2l-1,-3l3,-1v-7l-3,-3ZM530,539l1,-1h1l2,2l-1,1h-1ZM537,531l1,1v1l-1,1v1l-1,1l-2,-2v-1l2,-2ZM1177,516h0M602,516l-2,1l1,3l-4,2v4l-2,1h4l3,-3l-1,-1v-3l1,-1l3,1l2,3l-2,5l2,2v3l2,2l-1,2v5l-1,1l2,5v-4l1,-1l-2,-4l1,-4l-2,-2l1,-3l-2,-2l1,-5l2,-2l-2,-2l-4,-1ZM608,543l1,-1l1,1l-1,1ZM597,525l1,-1l1,1v1l-1,1l-1,-1ZM1188,515l2,2h5h-1l-1,-1h-1l-1,-1l-1,1h-1ZM824,515h-1v1l-1,1v2l-1,1v2l-1,1v1l1,-1l1,1h1l1,-1h2l1,-1v-2l1,-1h-1l-1,-1h-1l-1,-1ZM553,515v1h1v-1ZM464,515l-1,1l1,6l-4,2l-3,-1l5,5l8,1l2,-2l1,-7l-3,-1l-3,3l-3,-2v-3l1,-1ZM467,527l1,-1h1l1,1v1l-1,1ZM406,515h0M1129,512h1M1271,511h0M768,509v1M595,509h0M506,509l-1,1h-1v1l1,1v-2ZM357,509l2,2h3l5,2l3,-2h2l3,3l-2,2h-3l-1,-1v1l3,4v6l3,3v2l2,2l3,-1l4,2v2l-3,2l4,2l1,4l-5,3l-3,-3l-1,-3l1,3l3,3l3,1l-1,12l1,1l-1,-6l2,-5l3,-2h2l2,2l-3,4l2,4l-2,2v2l-3,6l1,2l4,3l-3,2v1l3,2h2l3,-3l4,1l1,-3l3,-1l-1,-2l-3,-2l-4,1l-1,-3l-1,2h1l4,5l-2,2h-2l-5,-4v-2l-3,-3v-1l4,-3v-6l2,-1l-1,-7l2,-2l-1,-2h-1v2l-3,1l-1,-1l2,-3v-2l-4,-3v-3l2,-2l5,1l-2,-1v-4l-1,3l-2,-3v-2l-2,-1l-6,2l1,2l-2,1l-6,-5l-1,-8l4,-3l2,2h3l4,2l-3,-2h-2l-2,-2l3,-6l-2,2h-3l-1,1l-2,-1l-6,1l-3,-3l-1,1ZM392,573l2,2l-1,1v1l-1,1l-1,-1v-3ZM386,541l1,-1h1l1,1v2l-1,1h-1l-1,-1ZM382,529l1,-1l1,1v1l-1,1l-1,-1ZM1210,507h-1v1l1,1v2l-1,1l-1,-1v1h1l1,-1ZM411,507h0M648,506h-2v3l1,1l-2,4l1,3l-2,2l-2,-2l-4,3v4l2,2v2l-5,8v2l2,1v3l8,5l-7,-6l-1,-5l2,-4l2,-1l5,-6l3,1v-3l-2,1l-3,-1v-1l3,-2l2,1l-3,-3l2,-3v-7l1,-1ZM640,524l1,-1l1,1l-1,1ZM1204,505l1,1h2l-1,-1ZM766,505h-1v1ZM595,505v1M360,505h0M550,504h0M1276,503h0M764,503h0M603,503l-1,1h1l1,1v-1ZM1177,502h0M770,502v1M597,501l-1,1h1ZM1134,499h1M632,499h-1l-1,1h-1l-1,1l2,2h1l2,-2v-1ZM1312,498h0M1227,498h0M1083,498h-1l-1,1h2ZM770,498l-1,1v1l1,-1ZM682,498h1M1099,497h0M401,497v1l-1,1l1,1v1l1,1v5l1,1v1l1,1v1h2l-2,-2v-1h-1l-1,-1v-5l1,-1v-1l1,-1v-1l-1,-1ZM351,497v1M1357,496h0M1314,495l1,1v1v-1ZM675,495v2l-2,2l2,-2ZM657,497l1,1h1l2,2h1l-1,-1l4,-4h1l2,2v1l2,2l-1,1h1v-1l1,-1h-1l-4,-4h-2v1l-2,2h-1l-1,1l-1,-1h-1ZM656,495h0M785,494v1h1ZM678,494l2,2v1l-1,1v1l-1,1l3,3v1h1l1,1v2h1l-1,-1l1,-1h-1l-4,-4v-3l1,-1v-2h-1ZM590,494v1M1086,493v2h1l2,2v2h1v-3l-1,-1h-1ZM638,493l-1,1h1l1,1v2l-1,1v1l1,1v1l1,-1v-4l-1,-1v-1ZM403,493v1l-1,1h-1h1l1,-1ZM398,493h1M1177,494h-2l-2,-2l-2,2l-1,-1l-1,2h-3v2l-2,1l-2,3l2,1l2,-2l2,4l5,1l2,-1v-1l-2,-1l-1,-3l4,-2l-1,-2ZM673,492h0M1092,491l-1,1v2l1,1v2h3l1,-1v-1ZM1087,490v1M658,490v1l-1,1h-2v1l1,-1h1l1,-1ZM645,490l-1,1v1l1,1v3l1,1h2l1,1v-1l-2,-2l2,-2v-2l-1,-1ZM673,489h-1l-1,1v1l-1,1h-1v1h1l1,1h2h-1l-2,-2l1,-1v-1l1,-1ZM655,489l-1,1ZM435,490l-1,-1l-2,2v1h1l1,-1h1ZM1332,488h1l1,1v-1ZM782,488v1h1l1,1h1v-2l-1,1h-1ZM661,488h0M396,488l-1,1v1h1l1,1l-1,-1ZM1325,487h1M1313,486h-2v1l-2,2l2,2v1l1,-1v-1l1,-1ZM1072,486l-1,1ZM662,486l1,1h1l1,1l-1,1v2l-1,1l1,-1h1l1,1v-1l-1,-1v-2l-1,-1h-1ZM465,486v2l-2,2h-1l1,1v1v-2l2,-2ZM1333,485l1,1l1,-1ZM1026,485v1h1v-1ZM1316,484v1h1l2,2v-1l-2,-2ZM1268,484h0M370,484h0M880,483h1M1080,482l-1,1l1,2l-1,1v3l-2,2l-3,-1l-1,1l6,6h1l5,-7v-1l-2,1l-1,2l-3,-2l3,-4ZM875,482v2h3h-1ZM466,482h0M390,481h0M915,480v1l1,1v-1ZM911,480v3l1,-1h1ZM589,480v1M470,480v1l-1,1l-1,-1v-1v2h1l1,-1ZM919,479l1,1v1l-1,1h1v-1l1,-1l-1,-1ZM397,479v2l-1,1h-4h5ZM1317,478l-1,1l1,1h1v-2ZM1106,478l-1,1h1ZM603,478l-1,1ZM459,478v1M1018,477h0M838,476h-1v6l-6,3l1,1l-2,3l1,3l-5,3l-1,-1l-1,1l-2,-1v-2l3,-2v-1l-3,-1l1,-1l-1,-2l-2,2l-3,-2v1l-2,1v2h1l1,-2l2,3l-5,3l-8,-7l-2,4l-6,3l-3,-3l-5,12l-3,3l3,2l1,5l-2,2l-4,-1l-2,-3l3,-3l-3,1l-2,-2v-2l-6,2l-2,-1v6l1,1l-1,1v3l1,1l-1,3l-2,-1v-2l-3,-4l-2,3h-4l-3,-2l-1,1l1,1l-2,2l-6,-1l-2,4l-4,-6v-2l3,-5l-2,1l-3,-1l-4,2l-2,3l1,2l3,-4h2l2,2l-1,2l1,1l-3,3l1,11l2,4l3,2l3,-4h3l2,2l1,-1l3,2v-3l3,-1l1,2l3,2v2l-3,1v2l2,1l4,5h3l4,2l1,8l4,3l-2,6h3l1,-2l3,-1l1,2l2,-3l3,-2l-1,-4l-4,-4l1,-4l1,-1l3,3v-2l2,-1l1,2h1l-1,-9l-3,-4v-6l3,-2h3l1,1h4l4,3v-2l3,-1l1,3l5,-2v-1l2,-1l-3,-2l1,-2l-1,-1l3,-2h-1l-1,-2l3,-2v-2l3,-2l-3,-1v-5l5,-8l2,3l-1,6l1,1l3,-7l-1,-3l6,-2l1,-5l2,-1l-1,-3ZM782,536l1,-1l1,1l-1,1ZM814,528l1,-1l1,1l-1,1ZM811,525l1,-1l1,1l-1,1ZM797,523l1,-1h1l2,2v1l-1,1ZM757,522l2,-1l1,3l2,1l2,-3l4,-2l3,1l8,-1l1,2l6,1l2,2v2l2,3l-2,2l-6,1l-4,2l-1,-1h-8l-3,-1l-2,-3l-4,2l-3,-5ZM755,519l1,-1l1,1l-1,1ZM754,518l1,1v3l2,2l-2,2h-1l-1,-1h-1l-1,1l-1,-1v-1l1,-1v-1l1,-1h1v-2ZM803,516l6,-3h3l2,2v3l-4,4h-2l-3,-3v-2ZM773,509l1,-1l1,1v1l-1,1l-1,-1ZM815,507l1,-1l1,1l-1,1ZM814,506l1,-1l1,1l-1,1ZM816,496l1,-1h3l2,2v1l-1,1h-4l-1,-1ZM821,490l1,-1l1,1l-1,1ZM820,489l1,-1l1,1l-1,1ZM1303,475l-4,2l-1,2l2,2l-3,2l-1,2l-7,-1l-1,1v5l-3,3l-1,-1l1,-2h-1l-1,-2l-2,1v3l-2,2l1,-1l1,1l2,-2l2,1l-5,7l3,-2h3l1,1l-4,6v3l3,-2l2,2l-2,1l2,3l-2,2l-5,-1l-3,4h-2l-1,-1l5,-5l-3,-1l-1,2l-10,9l1,1l5,-4l9,-1l2,2l-1,2v4h1l10,-11l3,-1l3,-3l1,1v-2l2,-3l-3,-6l3,-3l1,-4h-3l-1,-1l-3,1l-1,-2l-3,3l-2,-1l4,-5h3l1,-2l-1,-2l1,-1h2l2,-3l3,-1ZM1294,502l-3,3h-2l-1,-1l1,-1h1l2,-2h1ZM1295,498l1,1v1l-2,2l-1,-1v-1ZM1287,496l1,-1l1,1l-1,1ZM1296,493l1,1v1l-1,1h-1l-1,-1ZM1290,493l1,1v1l-1,1h-1l-1,-1ZM1289,486l1,-1l1,1l-1,1ZM972,474v1h1ZM635,474h0M1297,473h1l1,1l-1,-1ZM912,473h0M592,473h-3v1l-1,1v1l-1,1h2v-1l-1,-1l1,-1h3ZM1107,472l-1,1v1l1,1l1,-1v-1ZM960,472l1,4l-1,1l-1,-1l-3,1h3l3,4l3,1l1,-3l-1,-2l2,-2v-2h-6ZM842,474h1l1,1l2,-2l1,1v2l2,-2h1v-1h-2l-1,-1h-2l-1,1h-1ZM811,472l1,1v1l-1,1h2l1,-1h1l1,1l-2,2v1l2,2v2l1,1h1v-1l-1,-1v-1l1,-1v-1l-1,-1v-2h-1l-1,-1v-1h-2l-1,-1ZM1262,471h0M979,474l6,8l3,-3l1,2l1,-1l3,1l-2,3l4,-3l-1,-2h-5l-2,-2l1,-2l5,2l-1,-3l-3,-3ZM865,471v2M1327,470l2,2l-2,2l-4,-1l-2,3l1,2l2,1l2,-1l1,2l2,-1l1,2l-2,2l2,1l2,-3l-3,-2l-1,-4l3,-3h-2ZM1329,482l1,-1l1,1l-1,1ZM1326,478l1,-1h1l1,1l-1,1h-1ZM823,470v2M350,472l1,4l-4,4v4l3,2v3l1,-1l1,1v2l-1,1l-1,-1l1,3l3,-5l2,-1l2,-3h4l3,3h3l1,1l-1,4l-4,5l5,1l-1,-2l3,-3h3l1,1l-2,-1l-2,-3l2,-1l-6,-4l1,-1l-3,2l-6,-4v-2l2,-1v-3h-4l-1,-1l-3,5l-2,-1v-6l1,-1l2,1l2,-1l3,1l2,-4l-2,4l-5,-2ZM369,491l1,-1l1,1v1l-1,1l-1,-1ZM351,486v-2l1,-1h2l1,1v1l-1,1h-1l-1,1ZM354,482l1,-1l1,1l-1,1ZM1023,469l-1,1v1l1,1l1,-1v-1ZM1000,469l-1,2l1,5l-3,2l3,1l2,6l4,-2l1,1l3,-2l6,5l1,-1v-4h-2l-3,-4l1,1l-1,2l-5,-1l-3,-4v-7ZM828,468l-1,1v2l-1,1v1l-1,1v1l-1,1v2l2,2h2l-1,-1v-4l2,-2h1l1,1v2l2,-2v-1l-1,-1h-1l-1,-1v-1ZM826,474l1,-1l1,1l-1,1ZM605,468v1M1005,467h0M820,467h-1l-1,1h-1l-1,1l2,2v1v-2l1,-1h1ZM730,466v2h1l1,-1h-1ZM606,466h0M1332,465l-1,1v1h1l1,1v1l1,1l1,-1l-1,1l-1,-1v-2l-1,-1ZM846,465h0M637,465h-1l-1,1v2l1,1v1l-1,1h1l1,-1v-3l-1,-1ZM628,465h-2l-1,2l-3,-1l-3,2l-5,-1l-1,1l1,2v4l-1,1l4,-5l3,-1l7,1l1,-1l-1,-1l2,-1ZM469,465l1,1h2v-1ZM1244,464h0M809,464h1M591,464v1l-2,2l-1,-1v-1l-1,1v3l1,1v1h1l1,-1h1l1,-1v-4ZM588,468l1,-1l1,1v1l-1,1l-1,-1ZM385,464h0M1334,463h0M965,466v2l-1,1h2l2,-2l1,1v3l1,-1l1,1v1l1,-1h3v-3h-1l-3,-3v-2h-1l-1,1h-1l-2,2ZM968,467l1,-1l1,1l-1,1ZM829,463h0M730,463v1M390,463l-1,1v1l-2,2v1l-1,1l1,1h4l1,-1l1,1v5l-1,1l-1,-1h-1l-1,1h-1l-1,-1l2,2v2v-2l1,-1h4v-1l-1,-1v-5h-1l-1,-1h-2l-1,-1v-1l2,-2l1,1l-1,-1ZM1303,462h0M826,461h0M589,461v1M1293,461h1l1,-1h-2ZM990,460h0M732,460h1M554,462l-4,4l-1,5l-1,1l-3,-1l-1,3l3,-1l1,1h4l1,1l-1,1l3,-1l2,1l-3,4v3l1,-2l3,1l-4,5v3l2,1v3l-3,2h2l3,3v2l-2,1v1l2,2l1,-1l2,1l-1,1l1,2l-1,3l3,-5h3l1,-1l3,3l-1,1l3,2h2l7,-5l1,-3l2,-1l-2,-3l4,-2l-2,-1l-5,3l-4,-5v-2l6,-7h3l1,-2l-2,1l-3,-4l-3,-2l1,-2l-2,-4l-2,1l-2,-1l-2,2l-2,-1l-1,-6l2,-3l-3,-1v3l-2,1l-1,-2l-2,-1l2,-3l-3,-1l-2,1l-1,2ZM574,507l1,1v1l-1,1h-1l-1,-1ZM577,505l1,-1l1,1v1l-1,1l-1,-1ZM565,505l1,-1l1,1l-1,1ZM576,499l1,-1l1,1l-1,1ZM556,494l1,-1h2l1,1l-2,2ZM581,484l1,-1l1,1l-1,1ZM566,476l1,-1l1,1l-1,1ZM556,475l1,-1l1,1l-1,1ZM553,466l1,-1l1,1l-1,1ZM552,464l1,-1l1,1v1l-1,1l-1,-1ZM360,460l1,1v2l1,1v2v-2l-1,-1v-3ZM1324,459h0M1317,459l-1,1l-1,-1l-2,1l-1,-1l-2,2l1,1l-1,3l2,4l-1,2l1,3l-1,1l5,-3v-1l-3,1l-1,-2l4,-2l5,-7ZM1311,472l1,-1l1,1l-1,1ZM737,459v2l4,4v1l1,1h1l1,-1l1,1v1h2h-1l-2,-2h-1l-2,-2v-2l-2,-2v-1ZM735,459h0M579,459h0M1070,458h0M996,458h-2v1l-1,1l1,1v1l-2,2h-2l-1,-1l-1,1h-1v2h2l2,-2l2,2v1h1l2,-2v-1l-1,-1v-1l1,-1ZM645,458l-4,3v3l4,-1l1,1l-1,1l1,2l-3,2l-2,-3v3l-2,1v2l2,2l-1,2l2,2l-3,1l-2,3l-8,2l-1,-1l2,-2h4l-2,-1h-3l-1,1l-4,-3l-1,1h-4l-2,3v2l2,1l-3,1l-1,-2l-2,-1l1,-1l-1,-1h-5l-2,-2v-3l-1,1v3l-3,2v4l5,-4l1,2l3,2v2l3,2l2,3l-6,2l1,10l-3,2v3l1,1l-1,1v3l1,-1l3,1l2,-1l5,1l1,-1l10,11l-3,2l-1,3l-3,3l3,4v11l1,-9l-2,-4v-3l4,-5l2,-1l2,1l3,-8l-6,-2l1,2l-3,1l-3,-2l-2,-3l-3,-1l-1,1l-5,-3v1l-2,1l-3,-3l4,-3l-2,-4l2,-1l-1,-5l4,-2l3,-4l4,2l2,-1l2,-3h2l2,-3h2l2,-4l6,1l8,-4l-3,-4l2,-1v-2l-2,-3l1,-11ZM618,486l1,-1l1,1l-1,1ZM621,483h2l1,1v1l-2,2l1,1h1l2,2v1l-2,2h-2l-4,-4l1,-1v-1l1,-1v-2ZM611,484l1,-1h1l1,1v1l1,1v1l-1,1l-3,-3ZM609,484l1,-1l1,1l-1,1ZM643,479l1,-1l1,1l-1,1ZM623,459l-1,-1h-1l-1,1v2h2l1,-1ZM470,458h0M381,458l-1,1ZM832,458l-1,-1l-2,2l-1,-1l-1,1l1,1h3l1,-1ZM821,457l1,1v1h1v-1h-1ZM1005,457l-1,-1l-1,1v1h1ZM632,460l1,-1h1l1,1h3l1,-1v-1h-1l-1,1l-3,-3l-1,1v2ZM551,456v4l1,-1v-2ZM614,455h0M382,455h0M995,454h1M987,454h0M372,454l1,1v1l1,1v1l1,1v2l-2,2l1,1l1,-1h1v-2l1,-1h1h-2l-2,-2v-1l-1,-1v-1ZM369,454l-1,1ZM1369,453v1h1v-1ZM790,454h5h-2l-1,-1l-1,1ZM382,452h-1v1ZM1338,451l1,1l-1,1h3l1,-1h1h-2l-1,-1l-1,1ZM974,451v1l1,1v-1ZM962,452h-1l-1,-1h-2v2l-2,2v1l-2,2v1h1v-2l1,-1l2,2h3l1,-1h2v-1l-3,-3ZM1397,453h-1l-2,-2v-1l-3,3ZM1063,450l-1,1v2l1,-1ZM994,450h-2v3l2,-2ZM552,450l1,1l-2,2v1l1,-1v-1l1,-1ZM344,463h2l1,1h2l1,1l3,-3h1l1,1h1v-2l1,-1l-2,-2v-1l3,-3l1,1h5h-5l-1,-1l-1,1h-4l-1,1h-1l-3,-3v-1h-2l-1,-1v-1l-1,1l2,2h1l3,3h3l2,2v2l-1,1h-1l-3,3l-1,-1ZM1067,449v1M956,449h0M1342,450l1,-1l3,3h1l-1,-1h-1l-1,-1v-2ZM1008,448l-1,1v3l1,1h1l1,1h1l-1,-1v-1l-1,-1v-1l-1,-1ZM1389,453l-3,-1l-1,-2l-2,-1v-2l-1,2h-3l-1,1l-4,-1l-2,2v2l4,3l1,9l-2,2l-4,1l-2,-2v-4l1,-1l-4,2l-4,5v3l4,3l-1,1l-7,-1v2l-3,2l-1,-1v-4l-1,1l-2,-1v-1l2,-1l-2,-2v-3l2,-2h2h-4l-2,2l-3,-2l-7,4l-6,7l1,-1l1,1h3l6,5l1,2v5l2,1v2h1l-2,-4l2,-1v-2l2,-2h4l1,2l2,-1l6,3l3,4l-2,4l-3,1l-3,-3l-1,3h2l1,1l-1,1h4l1,1l1,-1l2,2l4,-1l1,-2l4,-3l1,-3l5,-4l3,-5v-3l-5,-3v-3l-1,-1l3,-4l2,3v-3l7,-6ZM1363,496l1,-1l1,1l-1,1ZM1362,495l1,-1l1,1l-1,1ZM1361,494l1,-1l1,1l-1,1ZM1360,481v-2l1,-1h1l2,2l-2,2h-1ZM1380,478l1,-1l1,1l-1,1ZM1358,477l1,-1l1,1l-1,1ZM1351,477l1,-1l1,1l-1,1ZM1380,474l1,1v1l-2,2l-2,-2l2,-2ZM1361,474l1,1v1l-1,1h-1l-1,-1ZM1349,475l1,-1l1,1l-1,1ZM1344,468l1,-1h1l1,1l-1,1h-1ZM1347,447v2l2,2v1h2l2,-2h1h-1l-3,-3ZM1350,450l1,-1l1,1v1l-1,1l-1,-1ZM1006,447h-1v1ZM595,447l-1,1h-1v2h1l1,1l-1,-1v-2ZM560,447l1,1l-1,2l2,2v3l5,-1v-1l4,-3v-2l-1,1l-1,-2h-1l-1,2ZM1420,446h0M1418,446l-1,1v1l1,-1ZM1237,448l-2,-2v2l-1,1h-1v1h1l2,-2ZM432,446h0M437,445l-3,4l-3,1l1,5l-4,5l1,2l-2,2l-3,-1l-2,2v1l1,-1h4l4,4l-1,2l-4,-2l1,1l-3,3h-3v2l2,3l-1,6l2,2l2,-2v-2l2,-1l1,1l-1,1l1,3h2l3,-2l3,3h3l1,-1l2,3l-1,1l-2,-1l1,2l-4,5l5,1l6,5h2l2,-2v-8l-1,-1v-2l2,-2l-1,-1l1,-1h4l-2,-4l1,-1h-4l-1,1l-1,-2l-3,-2l1,-4l3,-2h2l1,2l2,1v2l4,-5h3l1,1h4l1,2l3,1l1,-1v-3l-1,2l-3,-2l-3,-5v-2l-2,-3l-3,-2l-1,-4l-3,-2v-2l-2,-1l-2,2l-1,-1v-3l1,-1l-5,-1l-3,5h-3l-3,-2l-2,-3l1,-1ZM445,485l1,-1l1,1l-1,1ZM437,483l1,-1h1l1,1v1l-1,1ZM445,481l1,-1l1,1v1l-1,1l-1,-1ZM431,479h1l1,1v3l-1,1h-1l-2,-2v-1ZM431,478l2,-2h3l1,1v1l-2,2h-2ZM430,471l1,-1l1,1l-1,1ZM380,445h1l1,1l-1,-1ZM978,448h3l1,1v2h2l3,-3h1l1,1h1v-1l2,-2h1l1,-1v-1h-2v1l-2,2h-2l-1,-1h-1v1l-1,1h-1l-1,1l-1,-1v-2l1,-1v-1h-3v3l-1,1ZM594,444h0M1429,443l-1,-1h-2l-3,3h-1v1l1,1h2l1,-1h2l1,-1ZM1315,442h1M1209,442l1,1v1l1,1v1l1,1l-1,-1v-1l1,-1l-2,-2ZM1064,442v4h2v-1l-1,-1v-1ZM592,442l-1,1h1ZM547,442v1l1,-1h2l1,1v-2h-3ZM1318,440h0M974,443l1,1v1h1v-2l1,-1h4v-1h-3l-1,-1h-1l-2,2ZM807,439l-3,2h-3v2l-2,1l-1,2h-4l1,2l-1,2l3,1v5l-2,2l1,3l-1,8l3,4l-5,6l-3,-4l-5,-2l-2,-2l-4,1v2l-2,1l2,1l4,5l-1,1h-6l1,1l-1,1l1,3l-4,5l1,3l7,-2l1,1l-1,-2h-3l-1,-1l5,-8l2,1l1,-1l9,-1l1,-1l7,1l3,-2l-3,-4v-6l2,-3l-2,-1l1,-5l-2,-2l1,-1v-4l3,-4l-1,-3l4,-2l1,-4ZM367,438h1l1,1h1l-1,-1ZM1322,437l1,1ZM1324,436h0M991,436v2h4l-1,-1v-1ZM797,439h2l1,-1h2v-1l1,-1h-5v1l-1,1ZM1348,437h-1l-1,-2l-4,5h-2l-2,-2v-2l-3,1l-3,6l-3,1l-2,-1l-4,4h1l1,2l2,-6l2,2l2,-1l1,3l-4,4h-2l-3,2l-2,-1v3h7l3,-3l1,1l2,-4l-1,-2l3,-3l4,1v-1ZM340,435h1h-1l-1,1v6l-1,1l1,1v2l-1,1l1,-1v-1l1,-1l1,1h3l1,1v1v-1l-2,-2h-4l-1,-1l1,-1v-3l1,-1l-1,-1v-1ZM966,434l-1,1v4h2l1,1l1,-1h1l1,-1v-1h-2ZM1421,432h3M442,431v1l1,1h1v-1l-1,-1ZM1380,430l1,1v2h1l1,-1h1l2,2h1v-3l-1,-1h-2v1l-1,1l-2,-2ZM952,453h-4l-3,-4h-2v3l-2,2l-3,-1l-3,-4l-2,3l-3,-1l-5,3l-2,-1l-6,-6l3,-3l2,3l2,-2l4,-1v-1l-3,-3l-3,-1l1,-5l-4,-4h-5l2,3v3l-3,1l-2,-2l1,1v4l-4,3h-4l-3,-4l-3,1l-1,-1l1,-3l-1,-2h-3l-1,1l-3,-1l-4,3l-5,-1v3l2,3l-1,1l-2,-1l-1,1l1,2l-2,1l2,2l-2,2l-3,1l-1,-3h-3l-2,-2l1,-3l-1,-2v2l-7,5l2,3l-3,4l-1,-1v-3h-4l-3,2l-3,5h1l5,6v2l3,-1l3,3l3,-1l2,2v2h3l1,1l2,-4h3l2,2l-1,4h2l2,2l1,4v-1l2,-1l1,1h7l3,2l2,-2l-5,-1l-2,-2l1,-2l6,1l4,-8l3,2l3,-2l5,1v-2l-1,1h-4l-3,-2h-2l-2,-4l3,-2l1,-2h3l2,-3h5l1,-1l2,2l-1,14l2,3h3l2,2l-2,-2v-2h-2l-2,-3l2,-3h3l4,-2l4,-6l2,-1l2,3v2h1l2,2v2l2,1v-2l-2,-1l2,-1l6,-7l3,2l2,-2h2ZM887,468l1,-1l1,1l-1,1ZM879,469l1,-1h1v-1l1,-1l1,1v1l1,1v1h1l1,-1h1l1,1v2l-2,2l-1,-1l-1,1l-1,-1h-2l-1,-1v-1l-1,-1ZM885,465l1,1v2l-1,1h-1l-1,-1l1,-1v-1ZM897,465l1,-1h1l2,2l-1,1h-1ZM895,465l1,-1l1,1l-1,1ZM887,466v-1l1,-1h1l1,-1h4l1,1l-4,4h-1l-1,-1h-1ZM885,464l1,-1l1,1l-1,1ZM875,453v-1l1,-1h1l1,1l-2,2ZM867,445l1,-1l1,1l-1,1ZM882,440l1,-1l1,1l-1,1ZM767,430l-1,1v1l1,-1ZM373,430v1l-3,3v1l2,2h2l1,1v1l-1,1h-2h4l1,1v1l1,1v1v-2l-1,-1v-1l-1,-1l1,-1v-1l-1,-1v-1l-1,-1l1,-1h1l1,-1l2,2l-2,-2l-1,1h-1l-2,-2v-1ZM373,431l2,2v2l-2,2l-2,-2v-2ZM343,439h1l1,-1h2l1,-1h4l1,1l1,-1h1l1,-1h3l1,1h4h-2l-2,-2h-1l-1,1h-2l-1,1h-5l-1,-1h-1l-1,-1l1,-1l-1,1h-1l-1,-1v-1l1,-1h1v-1l-1,-1l1,1l-2,2v1l-2,2l1,1v1ZM1436,429h0M1231,429h0M576,429l-1,3h3l3,3l-1,5l3,4l-3,4l3,7l3,1l1,3v-6l-1,-1l1,-2l-1,-6l2,-3l-2,-3l1,-5l-3,-4l-2,1l-1,-1l1,-1ZM364,428h0M333,428v1l-1,1h1ZM1229,426h0M1023,426h-3l-3,3l-4,-2h-2l-2,2h-4v1l3,2l-1,3l-2,2h-4l-3,4l1,1l2,-1l2,2l2,-1l2,-3l2,1l1,-4l3,-3l2,2l5,1l1,-3l-2,-3v-2ZM558,427l-2,1l-1,-2h-2l-2,3l-3,2l-2,8l2,-3v-2l3,-3l3,3l3,1ZM333,425h1M347,424h-1v2l1,-1ZM1036,423l-2,2l1,1v1h1l2,2h2v-4l-2,-2ZM373,423v1M339,422l1,1h1l1,1h1v-1l1,-1l-1,1h-2l-1,-1ZM337,422l-1,1ZM572,424h-3l-1,-1v-1l-1,-1l-1,1v1l-1,1h-2l-1,1h-1v1h1l1,1l-1,1h3l1,-1l1,1h2l2,-2h1ZM563,426l1,-1l1,1l-1,1ZM369,421v2l-1,1h-3v2l1,-1h1l1,-1h1ZM350,421v2l4,4h2l2,-2l3,3l-2,-2v-1h-1l-2,2h-2l-4,-4ZM737,420h0M345,420h0M1414,419h-1v3l-2,2h-2l-2,2h-3l-1,1l1,5l-2,1l2,5l2,1l7,-1l4,-3l-2,-3l1,3l-1,1l-4,-2l-1,-2l1,-1l2,1v-3h-3l-2,-2l1,-2l3,1l4,-3ZM1406,432l2,2v1l-3,3l-2,-2l1,-1v-1ZM1248,419v1M1196,419l-1,1v3h3l1,-1v-1l-1,-1h-1ZM352,419h0M339,419h0M1392,417h0M348,414h0M1168,412v2l-1,1v1l1,1h2h-1l-1,-1v-1l1,-1v-1l1,-1ZM1128,411v7l1,1h2l2,-2h1v-1h-1l-1,-1v-3h-1l-1,-1ZM1052,411h-1v1l-1,1h-1l1,1v2l1,1l-2,2l1,1l-1,1h-1l-1,1l1,1h2l3,-3h1v-1l-1,-1v-1l-1,-1ZM342,406h0M1389,404l1,1v-1ZM1013,462l3,1l2,-2l4,-1l1,1l-2,1l-1,3l5,-4l5,3l-1,1h3l6,3l6,-2l3,1l2,-3l2,2l1,-2l-3,-3l1,-2l3,-2v-2l4,-3v-1l-4,1l-1,-1l1,-1l-1,1l-2,-1v-1l2,-2l1,1l2,-3l-3,-2l1,-4l1,-1h4l3,2l2,-1l2,-5l2,-1l1,1h5l-1,-1l1,-2l3,2l-1,5h1v-3l1,-1l2,2l-2,6l1,6l-4,4h-2l-2,3h2l3,-2l1,3h3l1,1l-2,3h-3l6,8v2l-4,4l2,2v3l1,1l-1,-1l1,-2h7h-1l-1,-2l2,-1l3,-4l1,1v3l-2,3h1l1,2l1,-1l-1,-2l1,-1h2l3,-3l4,1l1,-2l-1,-1l1,-1h5l2,-1l3,4l-1,3l1,3l6,4l-1,4l2,4l-4,2l2,-1l5,5l3,1l3,-2l-3,1l-2,-2l2,-1v-3l1,-1l4,5l4,1l-1,-2l3,-3l2,1l-1,1h1l-2,-4l2,-1l4,3l-1,2l2,1l-1,2h-2l-1,6h3l2,2h4l1,-1l2,1l3,-6l4,-3l1,-2l6,-2l6,-4l-3,-4l2,-2l4,3v2l7,8v3l3,3h2v-1l3,-2l4,3v3h1l2,3l5,-2h8l1,-1l-2,-1l1,-2l-1,-4l1,-1l2,1l3,-4l3,-1l2,-4h2l2,2l-1,7l2,1l6,-1l3,3l-2,1v2l-2,3l-2,1v5l-2,2v3h1l1,-3l2,-1l1,2l5,3v-1l-3,-2l3,-4h5l2,1l1,2l1,-1l1,1h5l2,3l-1,1l1,3l-4,4v1h1l2,-2h2l1,-2l-1,-1v-3l3,-3h2v-1h-3l-1,-1l1,-1h3h-2l-1,-2l4,-4l6,2l1,-1l-1,-3l1,-1v-3l3,-3l-1,-3l-2,1l-6,-1l-1,1l-3,-2l-1,-2h-2l-3,-4l-6,-1l-2,-3l-2,-1l2,-2l-2,-3l1,-2l4,2l1,2l3,2l2,-1l3,1l2,-4l2,-1l1,2v-4l1,-1v-2l-2,-3h-3l-1,2h-1l-2,-3h-2l-3,2h-3l-2,-3l3,-3v-2l-2,-1l1,-1l6,1l1,-2l2,1l4,4l-1,2l5,1l3,5l3,2l1,2l-3,2h2l2,2h3l-1,-2l3,-7l-1,-2l2,-3l-4,-1l-2,-3h-5l-2,-2l2,-2h1l1,2l-1,-3l2,-2l4,1l2,-1l2,-3l-6,-4h-4l-1,3h-5l-1,-1v-3l-4,-3v-2l-3,-3v-4l-2,-3l1,-2l-1,-1l-1,1l-3,-1l-2,-4l2,-1h-2l-1,1l1,1l-1,3h-2l-3,-3l-3,1l1,6l2,3l2,1l-1,2l3,1l1,-1l-1,-1l1,-1l-2,-1l2,-4l3,1l-1,1l1,1l1,10l-3,2v3l-1,1h2l2,3l-3,4h-3l-1,2v4l-1,1l2,5l-5,3l-3,-1l1,-2l-3,1l-8,-1l-2,-2l-1,-4h-3l-2,-3h-1l-1,3h-2l1,3l-2,2l-3,-1l-2,1l-3,-1l-1,-2l-4,1l-1,-1v-5l-3,-1l-1,-2l2,-2l1,1l1,-1l2,2l-1,1l1,2l6,1l1,-3l-2,-1v-3l-3,-5l5,-3l1,-2l3,2l-2,1v1l2,-2v-5l2,-1l-3,-3l2,-3l3,1l2,-1l4,4v2l2,3l-2,3l1,1l-1,1l3,-2l2,3h2v-2l3,-2v-5l2,-2l2,4h3v-4l-1,-1l-6,2l-1,-1v-3h-3l-1,-1l2,-1l-1,-2l-1,1h-4l-6,2h-5l-8,-3l-3,1l-4,-3l-4,3l-1,-1l-2,3l2,6l3,2l-1,2l-5,-2v-4l-2,1l-7,-5v2l2,3h3l1,1l-2,3v3h3l1,1l-3,2l-2,-1l-3,1l-2,-3l1,-3l-4,-2l-1,-2h-3l-4,-3l3,-4l4,4l2,-1l-1,-2l1,-3l5,2l2,-1l1,-3l-6,-4h-4l-1,-2l-3,2l-3,-2v-2l-9,-1h3l1,1l-1,2l1,2l-1,7l1,-2h2l4,9l-1,1l1,1l-5,4l-2,-2l1,-1l-2,-3l1,-3l-3,-3v-2l-8,-1l-1,-1v-3l-1,1h-3l1,2l-1,3l-3,-2l1,-2l-4,-2l-1,-2l-3,2l-2,-1l-2,1l-1,-2h-1l1,1v3l3,1l1,-2l1,1v3l-2,2h-3l-2,-4l-7,1l-2,3l-4,-3h-4l-2,-2l-3,2l-4,-4l1,-2l1,1h2v-1l-2,-2l-1,-13l-2,-1h-5v3l-3,1l-1,3l1,3l-1,1l-1,-1l-3,4h-4l-1,-3l2,-2h2l-2,-2l5,-6l-1,-1l-1,2l-7,1v3l-2,1l-1,-1l1,-1v-3l-3,-1l3,-4l-4,-2l-1,1v3l-1,1l-1,-1l1,5l-2,4l-2,1l-3,-3h-3v1l3,2l-1,1l1,1l-1,3l2,1v2l-7,2v2l2,1l-1,5l-1,1l-1,-1h-4l-1,2h-2l-2,2l-4,1v3l-1,1l-4,-4v-2l-2,-3l-2,3l2,3l-1,1l-3,-1l-1,2l2,3l-2,1v2l-4,5l-6,2l2,6l-1,1h-6ZM1250,512l1,-1l1,1l-1,1ZM1263,505l1,-1l1,1l-1,1ZM1264,503l1,-1l1,1l-1,1ZM1199,503l1,-1l1,1l-1,1ZM1233,497l1,-1h1l1,-1l1,1v1l-1,1h-2ZM1187,494l1,-1l1,1v1l-1,1l-1,-1ZM1143,492l1,-1l1,1l-1,1ZM1215,490l1,-1l1,1l-1,1ZM1231,487l2,-2h2l2,2l3,-1l2,3v2l2,-2l3,2l-3,2l1,3l-1,1l-2,-1l1,1l-3,1l-2,-3l-2,-1l-2,1l-4,-5ZM1127,484l1,1v1l-1,1v1l-1,1h-1v1l-1,1l-1,-1v-1l-1,-1v-1l2,-2h2ZM1227,483l2,2l-1,1h-1l-2,2h-1l-1,-1ZM1122,478l2,2v2l-1,1h-1l-2,-2v-1ZM1123,478l1,-1l2,2l-1,1h-1l-1,-1ZM1122,477l1,-1l1,1l-1,1ZM1241,466h1l1,1v4l-1,1h-1l-1,-1v-4ZM1089,467l1,-1l1,1v1l-1,1l-1,-1ZM1193,465l1,-1l1,1l-1,1ZM1091,456l4,1l2,3l2,1v4l-4,2l-4,-4v-3l-2,-2ZM1246,456l1,-1l1,1l-1,1ZM1160,456l1,-1l1,1v1l1,1l-1,1h-1l-1,-1ZM1148,449l2,2v1l-1,1l1,1v2l-1,1l-1,-1h-1l-1,-1v-1l1,-1v-3ZM1192,448l1,1v2l-2,2h-1l-1,-1v-1ZM1148,449l1,-1h2l1,1l-1,1h-2ZM1184,446l2,2v2l1,1v1l-1,1h-1l-1,-1h-1l-1,-1v-2l1,-1v-1ZM1244,445l1,-1h1l2,2l-1,1h-2l-1,-1ZM1043,444l1,1l2,-1l1,1v3l4,3l-2,1l1,1l-4,2l-2,-1l1,1v5l1,2l2,1l-1,1l-7,-1l-1,-1l1,-1l-2,-3l1,-9l3,-2ZM1196,444l1,-1h1l1,1l-1,1h-1ZM1031,442l1,-1l1,1l-1,1ZM1224,442v-1l1,-1h1l1,1l-2,2ZM1040,441l1,-1l1,1l-1,1ZM1181,440l1,-1h1l1,1l-1,1h-1ZM1248,438l4,6l3,2v1l-3,2l-3,-2l1,-2h-3l-1,-1l1,-2l1,1l-2,-2ZM1203,435l1,1v2l-1,1l-2,-2ZM1094,434l1,1v1l-2,2l-1,-1v-1ZM1100,430h1l2,2l-1,1v1l-1,1h-1l-1,-1v-3ZM1114,430l1,-1l1,1l-1,1ZM1099,428l1,-1l1,1l-1,1ZM1170,427l1,-1l1,1l-1,1ZM1171,426l1,-1h1l1,1l-1,1h-1ZM1130,425l1,-1h2l1,1v2l1,-1h1l2,2l-2,2h-1l-1,-1l-1,1h-2l-1,-1l1,-1v-2ZM1125,424l1,-1l1,1l-1,1ZM1071,424l1,-1h3l1,1h2l1,1l-1,1v1l-1,1v1l-1,1l-2,-2v-2l-1,-1l-1,1l-1,-1ZM1061,424l1,-1h1l1,1v2l-1,1h-1l-1,-1ZM1086,419l1,-1h1l4,4l-1,1h-1l-1,1l-1,-1v-1l-2,-2ZM1075,418l1,-1h1l1,1l-1,1h-1ZM1076,415l1,-1l1,1l-1,1ZM1061,414l1,-1l1,1l-1,1ZM1090,411l1,1h1l2,2v1l-1,1h-3v1l-1,1l-2,-2l2,-2v-2ZM1077,412l1,-1h1l2,2l-1,1h-1ZM1061,400l-1,1v2v-2ZM502,398l1,1ZM515,400l1,1l2,-1l2,1l1,-1l4,3v2l3,-1l-3,-6l1,-1h4l-4,-1l-1,-2l-1,2l-3,-2l-2,1l1,1l-2,3ZM521,395l1,1h1l1,1l-2,2h-1l-2,-2ZM504,394v1M510,391h-1l-1,1h1ZM512,388l1,1v1l1,-1h-1ZM1134,388l1,1l-1,1l1,1l2,-2l2,2h1l1,-1h1v-1l-1,-1h-1l-1,-1l-2,2l-1,-1v-1h-1ZM506,387l1,1ZM475,371v1l1,1v-2ZM488,354h1l2,2v-1h-1l-1,-1ZM481,353l-3,5v2l-2,2v2l2,2l-1,1l1,4l3,1l1,-1l-1,-2l1,-2l5,1l1,1l-1,3l2,1l-1,1l1,-1l1,1v3h2l-1,-2l1,-1h3l2,2l-2,3l1,1l1,-1v-3l2,-1l-3,-2v-4l-1,-1l1,-5l-4,2l-3,-8l-2,-1l-2,1l-1,-1v-3ZM495,374l1,-1l1,1l-1,1ZM490,369l1,-1h1l1,1h1l1,1v1l-2,2l-1,-1v-1h-1l-1,-1ZM421,300l1,6l-2,2l1,1v2l-2,2l1,2l-1,1l-2,-1l-1,1l3,1l1,-2l1,2h3l1,3l-1,1h-3l1,1l1,-1l2,2h1v-3l1,-1l1,1l3,-1l3,3h2v-1l5,-4l-1,-4l-2,-1l5,-3h-3v1l-2,1l-2,-3l1,-3h-4l-5,-3h-2l-2,-2l-2,1ZM433,312l1,-1h1l1,1l-1,1h-1ZM413,299h0M466,298l1,1v1v-1ZM416,297h0M431,296v3h1v-3ZM421,296l-1,1h-2v1l1,1v-1ZM439,295h1l2,2h3l1,1v1l1,1v1l1,1v1l2,2l1,-1v-4h-1l-1,-1l2,-2l1,1v-1l-1,-1v-1h-1l-1,1h-4l-1,-1h-1l-1,1h-1l-1,-1ZM448,303l1,-1l1,1l-1,1ZM416,295h0M462,294h0M434,287v1l-2,2v2l1,1h2l2,2v-2l-1,-1v-1l1,-1l-1,-1v-2ZM445,282h0M439,281h0M436,281h0M444,280h1M444,272v4l1,1l2,-2l1,1v1h2l1,1v1v-1l-1,-1h-1l-1,-1v-2l-1,1h-1l-1,1l-1,-1ZM456,271v2M419,271l-2,2h-1l-1,-1l1,-1l-1,1l1,1l-1,1l1,-1h1l1,-1h1ZM456,269h0M445,268v2l1,-1ZM420,268h0M451,266l1,1ZM430,265v1M449,264h-1l-2,2l2,-2ZM456,263l-1,1l1,1v1ZM453,263h0M409,263h0M421,266l1,-1h2l1,1v2l1,1h1l1,1h3l1,1h1l1,1h1l1,1v2v-2l-2,-2v-1h-1l-1,-1h-1l-1,1h-1l-2,-2l1,-1l-2,-2l1,-1l-2,-2l1,1v2l-1,1l-2,-2ZM411,262h0M448,260l1,1h1h-1ZM414,260h0M447,258h0M423,253h0M424,256l-2,2h-1l-1,-1v-1l-2,-2v-1l-1,1v1h2l1,1v1l-2,2v1l-1,1h-1v1h1l2,-2h2l1,1v-2l2,-2ZM412,253l2,2h1h-1ZM457,252h0M446,252l-1,1v1v-1ZM421,252h0M454,249h0M456,247l1,1ZM453,247h1M445,247h3l1,1v3v-3l-1,-1ZM438,243l2,2h2h-2ZM435,241l1,1ZM421,241h-1v2l1,-1ZM432,239h0"/>
<path fill="#8b1a1a" stroke="#8b1a1a" stroke-width="1" stroke-linecap="square" fill-rule="evenodd" d="M699,667v1M684,666v1M692,665l1,1v1l1,1v3l1,1h3l-3,-3v-1l2,-2v-2h-2l-1,1ZM679,664h0M492,661h0M481,661l-1,1ZM742,660h0M728,660h2M686,660v2h1l-1,-1ZM677,660l-1,1ZM482,659h0M673,658v1h1ZM698,657h0M651,653v1l1,1v2l2,2v2l1,1l-1,1v9v-8l2,-2v-1l-1,-1v-2l-1,-1h-1l-1,-1v-1l-1,-1ZM495,653h1M479,653v1M665,652l-1,1v1l-1,1v2l1,1v1l-1,1h-3l1,1h3l3,3v4l-1,1h-2l1,1l-1,1h-1l-1,-1v4h2v-2l4,-4v-3l-1,-1v-1l-2,-2v-1l-1,-1v-2l-1,-1v-1l1,-1v-1ZM482,651h1M478,650h0M636,649h0M494,648h0M486,647l-1,-1l-1,1h-2l-1,1h3l1,1v-1ZM678,645l-1,-1l-1,1h-3l-1,-1h-2l-2,2v6l-1,1l1,-1v-4l2,-2l2,2v1l1,1l1,-1v-2l1,-1l1,1h3l-1,-1ZM628,639h-4l-1,1v2l-1,1l1,1v1h1l2,2v-1l-1,-1v-2l2,-2h1ZM486,636v4l-1,1v2l1,1v-2l1,-1h1l1,-1l2,2l-1,-1v-2l-1,-1h-2l-1,-1ZM646,635v1l-1,1v1h1l1,-1v-1ZM487,634h0M473,633h-1v2l-1,1v3l-1,1v1l-1,1h-1h2l1,-1v-2l2,-2l1,1v-1l-1,-1ZM666,632h0M680,631l-1,1h1ZM600,633h3l1,1v1h1l1,1h2l1,1h3l1,1v1l1,-1v-1l-1,-1v-2l-1,-1h-5l-2,-2h-4v1ZM477,631l1,1v3v-4ZM476,628v1M746,626h1l1,1v-1ZM631,626l1,1v-1ZM484,626h0M465,626v1l2,2v2l-1,1v4l1,1l-2,2h-2l3,3l-2,-2l2,-2h1v-5l2,-2v-1l-1,-1h-1l-1,-1v-2ZM745,632l-4,2l-3,-2l-2,4l-3,2l-3,-5l3,-2v-2l-3,1l-6,-5l1,5h3l1,1l-1,6l-4,5h1l2,3l1,-1l2,2l2,-3l1,1v4l-1,1l-2,-1l-2,3h-7l-1,1l3,-1l2,2l-3,4l-1,-1l1,1l-1,1l3,-2l2,1l-4,5l1,1l1,-3l3,-2l-2,-5l5,-4l3,2l2,-2l-1,-2l1,-2l-1,-1v-3l3,-2l3,5l-3,6l3,-4l2,-9l-2,-1l-2,4l-1,-1v-4l1,-1h6ZM733,648l1,-1l1,1l-1,1ZM729,645l1,-1l1,1l-1,1ZM731,638l1,1v3l-1,1h-1l-1,1l-3,-3l3,-3ZM661,626l-1,-1h-2l-2,2h-1l-1,1h-2l-1,1v1h4l1,-1v-1l3,-3h1ZM734,622l-1,1h-1l-1,1h2l1,-1ZM677,622l2,4v3h4l4,-2l4,4l-1,2l-4,1l4,3l1,3l1,-1l-1,-1v-5l1,-1h3v-3h-5l-2,-2l-7,-1l-3,-2ZM708,621h0M675,620h0M479,620v1M463,620l1,1v1l-1,1l1,1l-1,-1l1,-1v-1ZM737,619h0M461,619h0M758,618v1l3,3v1l-4,4v3l1,1v1h2l-2,-2v-3l3,-3h1v-3l-1,-1h-1ZM770,617l-1,1h-2l-1,1l1,1v1l2,-2v-1ZM432,617h-3v4v-3l1,-1ZM457,616l-7,1l-2,2l1,3l-2,2h-4l-2,-2l1,-3h-1v3l-1,1l-1,-1l-4,5l4,-3l4,2l-2,3l-1,-1v1h2l4,-3l4,1v-3l1,-1l3,3l2,-1l1,3l1,-2l-3,-2v-2l2,-1l1,-2l-1,-1l-3,4l-2,-1l2,-3l-1,-1l1,-1ZM448,626l1,-1l1,1l-1,1ZM444,625l1,-1h1l1,1l-1,1h-1ZM450,617h1l1,1v4l-1,1h-1l-1,-1v-4ZM415,614h0M613,611l-1,1h1ZM468,611h0M726,610v1l-1,1h-1h1l1,-1ZM719,608v1l1,1v-1ZM739,607h0M676,607v1M433,607h0M430,607v1l-1,1v1l-1,1l-1,-1v1l1,1v1h1v-2l1,-1h1v-2ZM407,606l2,2l-1,1v1l1,1v1l1,1v-1l-1,-1v-3ZM450,605l1,1v-1ZM732,604l1,1l-2,2v2l1,1h2v-1l1,-1l-1,-1v-1l-1,-1v-1ZM761,603l-3,3v1l-2,2h-1l-2,2h-2l1,1v1l3,3h1v-2l-2,-2v-1l2,-2h1l1,-1v-1l3,-3ZM641,604v2h1l1,1h1v-2l1,-1l-1,-1h-1l-1,1ZM559,603v4l1,1v2l-1,1l2,-2v-3l-2,-2ZM438,603l1,1l-1,2l5,-1l1,1l-1,2h3l1,1v3l-1,1l-4,-2l2,2l-1,2l2,-2l1,1l1,-1v-4l1,-1l3,5l4,-1l1,2l1,-1l2,2l1,-1l-1,-3l2,-2l1,1l1,-1h-3l-2,2h-2l-2,-3l4,-3l2,1l-2,-1l-4,1l-1,1l1,2l-2,1l-2,-2h-3l-1,-1l2,-2l-3,1l-4,-3ZM502,602h0M608,601l1,1h1v-1ZM770,600h-1l-5,6l-2,5l-2,2l1,1l-2,1l3,2h3v-1h-3l-1,-1l3,-6l3,1l-1,1l1,3l2,-2l1,2h1l1,-2l2,-1l-1,-1l1,-1l-1,-2l-5,-2v-2ZM767,612l1,-1l1,1l-1,1ZM766,611l1,-1l1,1l-1,1ZM763,608l1,-1h1l1,1l-1,1h-1ZM735,600h0M715,600l-3,7l1,13l-2,4v3l-2,2h-6v6l5,6h4l1,-1v-3l-3,2l-3,-2l3,-2l3,-4v-7l1,-1l-1,-9l3,-3l-3,-2l3,-4ZM710,629l1,1v1l-3,3v1l-1,1h-1l-2,-2v-3l2,-2ZM712,623l1,-1l1,1l-1,1ZM682,600h2M615,600v1h1v-1ZM706,599v2l1,-1ZM647,599v1l2,2v-1l-1,-1v-1ZM623,600l-1,2l1,2l-2,2h-3v1h4l5,3l-4,2l-2,-1l-2,2h-3l4,2v6l-1,2l1,1l2,-1l4,1v-2l-4,-4v-3l5,-4l3,2l1,7l6,2l-1,3l2,3l-3,3l1,2l1,-1l1,1l1,-1l1,1l2,-1l-3,-7v-3l3,-3l3,1v5l-1,1l1,4h3l1,1l-2,-3l2,-1l-2,-7l-4,-2l-9,-9l2,-2l2,1l1,-5h-3l-2,2h-2l-2,-4l4,-2l-5,1l-1,2h2l2,3l-3,2l-4,-4v-3ZM646,623l1,-1l1,1v1l-1,1l-1,-1ZM637,623l1,-1l1,1l-1,1ZM636,612l2,2l-1,1v1l-2,2l-2,-2v-2l1,-1h1ZM511,599v1M772,598h0M596,598l1,1ZM648,597h0M616,597l1,1ZM495,597h-1v1l-1,1h1l1,-1ZM736,596h0M642,596v1h1v-1ZM637,596h1M1192,595h0M718,595h-1v2l-1,1h-1h3ZM640,595v1M500,595v3l-1,1v1v-1l1,-1l1,1v-3ZM604,594h-1l-1,1v1ZM498,594h0M762,593v1M685,593h0M600,593v1M508,593h2M1190,592l1,1v-1ZM688,592h2l1,1v1l1,1h2h-1l-3,-3ZM606,592v1h1v-1ZM497,592h0M402,592v3l3,2l-1,2l3,2v2h3l1,1v3l3,1l1,2l1,-4l3,-2v-2l-1,-1l-2,1l-2,-2l-1,-5h-2l-1,2l-3,2l-1,-1l1,-3ZM412,603l1,-1l1,1v1l-1,1l-1,-1ZM408,601v-1l1,-1h1l1,1l-2,2ZM410,598l1,-1l1,1v1l-1,1l-1,-1ZM403,594l1,-1l1,1v1l-1,1l-1,-1ZM1192,588l-1,1h-1v1h1l1,-1ZM772,587h-1l-4,4h-3v1l2,2h1l1,-1v-1l3,-3v-1ZM564,587h0M692,586v2l1,1h4l1,1v1v-1l-1,-1h-1l-1,-1h-1l-1,-1v-1ZM737,585h0M731,585l-1,1h-1h2ZM396,586h2l2,2v-2l-1,-1h-1l-1,1ZM474,584h1M717,583h0M470,583h1l1,1l-1,-1ZM1206,582v1l-1,1l1,1l1,-1v-1ZM713,582v2l-1,1v1l-1,1v1l1,-1v-2l1,-1h1v-1ZM623,584h6l1,-1l-1,1h-1l-2,-2h-1l-1,1h-1ZM592,582h-2v2l1,1l1,-1ZM563,606l2,2l-1,2l9,-2l1,2l1,-1h3l2,2l-3,4l1,-1l2,1v-1l2,-1l-2,-3l3,-1v-1l3,-2l3,1v2l-2,1l4,-1l3,2l-1,2l1,2l4,-3h4l2,2v-2h-4l-4,-3l1,-3l3,-2v-3h-3l-1,1l-2,-1v-4l-1,-1l2,-2l-1,-1l-1,2l-1,-1l-3,1l-4,-5v-2l2,-1l1,-2h-2l-3,-3l1,3l-1,1h-3v6h3l6,7l-2,2h-7l-2,-2v-2l-5,1l-1,3l4,-1l2,2v2l3,2l-4,2l-4,-2v-3l-8,1ZM594,607l1,1v2l-1,1l-1,-1v-2ZM567,607l1,-1l1,1l-1,1ZM583,606l1,-1h1l1,1l-1,1h-1ZM587,603l1,1v2l-1,1l-1,-1v-2ZM580,604l1,-1l1,1l-1,1ZM587,603l1,-1h1l2,2h1l2,2v1l-1,1l-2,-2h-1ZM712,580h0M465,580h1M1203,579v1h1v-1ZM703,579h2l1,1h1v-1ZM637,579v1l-1,1v1l2,2v1l1,1l-1,-1v-2l-1,-1v-2l1,-1ZM594,579l1,1v-1ZM638,577h0M663,576h0M634,576l-1,1v1h1ZM1208,574h1M461,574v2M407,574v1M666,573l-1,2l2,2l-1,2l1,1v3h7l2,-3l-2,1l-2,-2l2,-2v-2h-1l-1,-2l-2,2ZM460,572h0M404,571l-1,1h-1h2ZM656,570h-1l-1,1h-1v3l1,1v1h1l2,-2v-3ZM633,570l1,1v1l-1,1l1,1h1v-2l-1,-1v-1ZM387,570l1,1h1l2,2l-2,2h-1v1l1,1h1l1,1h2l3,-3h1l1,1h2l1,-1l-1,1l-1,-1v-1h-1l-1,1h-3l-1,-1v-1h-1l-3,-3ZM392,573l2,2l-1,1v1l-1,1l-1,-1v-3ZM645,569h1M564,569v1h1ZM669,569h1l1,1v-1l1,-1h1l1,1h1l1,-1l-1,-1h-1l-1,1l-1,-1v1l-1,1l-1,-1ZM597,570h-1l-2,-2h-1l-1,-1v1l-2,2v1l-1,1h-3l-1,1l1,1v1h2v-1l1,-1h1l2,2v2l1,-1l-1,-1l3,-3h1v-1ZM442,566v1M395,566l-1,1v1h1ZM680,565l1,1v-1ZM630,564v1h1v-1ZM598,563v1h1v-1ZM625,562h0M391,561v1M598,560h0M389,560v2M662,559h0M602,558h-1l-1,1h1ZM548,559l-2,2l1,3l6,4v5l-3,5l1,2l3,2v2l1,-2l2,-1l1,2l2,1v2h2v-3l2,-3l-4,-2l4,-2v-2l-3,1l-1,-2h-2l-4,-3v-4l1,-1h2l2,3h1l1,-3l-6,-1l-1,-1l1,-2l-1,-3h-1l-1,2l-1,-1l-1,1l1,4l-2,1l-2,-2l1,-1ZM557,581l1,-1l-1,-1l1,-1h2l1,1h2l1,1l-1,1h-3l-1,1h-1ZM551,579v-2l1,-1h1l1,1v1l-2,2ZM439,557h0M627,555l-1,1h1l2,2v2l2,2l1,-1v-1l-2,-2v-1l-2,-2ZM602,555l-1,1ZM570,554l-1,1l1,1h1l1,1v-3ZM634,553v3l1,1h1l2,-2l-1,1ZM604,553l1,6l-2,1l-1,4l-3,5h3v-3l2,-4l2,1l-1,3l1,1l3,-3l-2,-3l1,-3l2,-1l2,2v2l1,-1l2,1l-2,3l1,2l-2,1v1h2l1,2l5,4l-1,2l1,-1l1,2h2l2,3l-2,-3v-2l-3,-1l-2,-3v-4l-2,-6l-7,-8l-1,2l-1,-2l-1,2l-1,-2ZM606,555l1,-1l1,1l-1,1ZM599,555l-1,-1v-1l-2,2l-1,-1h-2l-1,1v1l1,1l1,-1h1l1,1h2l1,-1ZM435,553l1,1v2l1,-1h1l-1,-1v-1ZM622,552h0M626,548h0M433,548l-1,1h-1v1l1,1v-1l1,-1l1,1v1v-1l-1,-1ZM642,545l1,1ZM613,544h1M626,542v3h1v-2ZM425,541h0M377,541h0M609,540v1l-2,2l1,1v2l1,1v-3l1,-1v-1l-1,-1ZM608,543l1,-1l1,1l-1,1ZM427,540h2M420,540v1l1,1l-1,-1l1,-1ZM421,538h0M492,537v2l-1,1v1l1,1h1l2,2h1l1,-1h1v-1l-2,-2v-1h-1l-1,-1v-1ZM491,541l1,-1h1l1,1l-1,1h-1ZM1227,536l-1,1h1ZM746,535l1,1ZM1263,534h1M1222,534h0M1255,533h-2v2l-1,1h-1v1l1,1v1l-1,1h-2l1,1h1v-1l4,-4ZM623,533h0M625,532v1M532,532l-3,5l-2,1l-1,-1l1,1v4l-1,1l4,3h3l1,-1l1,1h3l3,-2l-4,-4v-2l-3,-5ZM534,541v-1l1,-1h1l1,1l-2,2ZM530,539l1,-1h1l2,2l-1,1h-1ZM482,532l-1,1v1l-1,1h-1h2v-1l1,-1ZM640,530h-1l-2,2v2l-2,2v2h1l1,1v3h2l-1,-1v-1l-1,-1v-3l1,-1v-2l2,-2ZM423,530h-1l-2,2h-1l-2,2l1,-1l1,1v1l1,1l-1,-1v-2l1,-1h2l1,-1ZM806,529l2,2ZM592,529h0M514,529v1l1,1v-2ZM1232,528h0M492,528l-2,2l1,1l1,-1ZM748,528l1,1v3l2,-2h1v-1l1,-1h1l1,1h1v-1h-4l-1,-1h-2ZM746,527l-2,2l1,1v1h2l-1,-1ZM595,527h1M1234,526l1,1v1l1,1v1l-1,1h-2v3l1,1l2,-2l1,1v1l1,-1h1l1,1h1l1,-1v-1l-1,-1l1,-1h-2l-1,-1h-1l-1,-1v-1l-1,-1h-1ZM1239,534l1,-1l1,1l-1,1ZM1240,533l1,-1l1,1l-1,1ZM488,526h1M516,524h0M521,523h1l2,2v1l1,1h1l-1,-1v-1h-1l-2,-2ZM1250,522h0M492,522l-1,1h1l1,1l-1,1h1l1,1l1,-1l-2,-2l1,-1ZM1270,520h0M815,520v1h1v-1ZM822,521h2l1,1h2v-1l-1,-1l-1,1h-1l-1,-1l1,-1ZM636,519h-1v1ZM464,519v5l-1,1h-3v1h1l1,2h6l-1,-1l2,-1l1,3l2,-2l1,-7l-3,-1l-3,3l-2,-1ZM503,518h0M409,518v1M1253,517v2l1,1l-2,2h1v-1l1,-1l-1,-1ZM630,517l1,1v1l1,-1h1l-1,-1ZM524,517v1l1,1v1h1l-2,-2ZM638,520h1l1,1l2,-2h1l1,1v2l-1,1v1l1,1h4l1,1v-3h-1l-1,1h-2l-1,-1v-1l1,-1h1l1,-1h1l1,1l-3,-3v-1l1,-1l-3,3l-1,-1h-3ZM609,521l-2,-2h-2l-1,-1h-1l-1,-1v-1l-1,1h-1l1,1v2l-1,1h-2l-1,1l1,1v1l1,1v1l-1,1h1l3,-3l-1,-1v-3l1,-1h2l1,1v1ZM465,516l-1,-1l-1,1ZM406,515h0M1281,514v1l-1,1h3l1,1v2l-1,1v1h4l1,-1v-1l-5,-5ZM1274,514h-1l-1,1l1,1v1l-1,1h1l2,-2v-1ZM1258,513h0M1256,513h-1l-1,1v1ZM1277,512h0M738,511v1l1,-1l1,1v-1ZM744,510l1,1v-1ZM506,509l-1,1h-1v1l1,1v-2ZM358,509l1,2h3l5,2l3,-2h2l3,3l-2,2h-3l-1,-1v1l3,4v6l3,3v2h2l1,2l2,-1l4,2v2l-3,2l4,2l1,4l-4,3l-2,-1l4,2v6l-1,1v5l1,1l-1,-6l2,-5l3,-2h2l2,2l-3,4l1,1l2,-3v-4l2,-2l-1,-2h-1v2l-3,1l-1,-1l2,-3v-2l-4,-3v-3l2,-2h2l1,-4l-1,3l-3,-4v-2l-7,2l1,2l-2,1l-6,-5l-1,-8l4,-3l2,2h3l4,2l-3,-2h-2l-2,-2l3,-6l-2,2h-3l-1,1l-2,-1l-6,1l-3,-3l-1,1ZM386,541l1,-1h1l1,1v2l-1,1h-1l-1,-1ZM382,529l1,-1l1,1v1l-1,1l-1,-1ZM608,507v3l1,1l-1,1v3l1,-1h2l1,1h1l1,-1v-2v1l-1,1h-2l-1,-1v-1l-1,-1l1,-1v-2l-1,-1ZM411,507h0M595,505h0M360,505h0M1264,504h1M828,504l-1,1v1h1ZM604,504v1M402,503v4l1,1v1l1,1v1h2l-2,-2v-1h-1l-1,-1ZM1196,502v1h1v-1ZM596,502h0M584,501h0M629,500v2l1,1h1l2,-2h-2l-1,-1ZM682,498h1M1194,497l1,1ZM585,497h-1l-2,2l1,-1h2ZM1293,495l-1,1h-1l-2,2h-1l-1,1v2l1,1l-4,4h2l4,-4h1l2,-2v-3l-1,-1ZM1185,495h0M675,495v2l-2,2l2,-2ZM657,497l1,1h1l2,2h1l-1,-1l4,-4h1l2,2v1l2,2l-1,1h1v-1l1,-1h-1l-4,-4h-2v1l-2,2h-1l-1,1l-1,-1h-1ZM834,494h-4v1l-2,2h-2v1l1,1h1l1,1v1h1v-2l-1,-1l1,-1h2l1,-1h1ZM678,494l2,2v1l-1,1v1l-1,1l3,3v1h1l1,1v2h1l-1,-1l1,-1h-1l-4,-4v-3l1,-1v-2h-1ZM1301,493l-4,2l-1,3l1,-1l1,2l-10,9l4,8l1,-2l3,-1v-1l-3,-2l1,-2l4,-1l2,4l-1,-1l3,-3l-1,-4l-1,1l-2,-1l1,-1l-1,-3l3,-1l2,-3h-1ZM1299,497l1,-1l1,1l-1,1ZM1297,497l1,-1l1,1l-1,1ZM1157,493h0M638,493l-1,1l1,-1l1,1v1l1,1v1l-1,1v1l1,1v-4l-1,-1v-1ZM1358,492h0M1287,492l-1,1h-1l-2,2v1l-2,2l1,1l2,-2h1l1,-1v-1l1,-1ZM1116,492h0M673,492h0M1291,491l-1,1ZM1122,494v-3l-1,1h-3l2,2ZM1079,491v1l1,1h1ZM820,491l-1,1h-2l1,1h1l1,-1ZM645,490l-1,1v1l1,1v3h1l1,1h1l1,1v-1l-2,-2l2,-2v-2l-1,-1ZM1284,491l-2,-2h-1v3l-1,1h2ZM808,489l-3,1l1,1l-1,3l-3,-2l-7,3l-3,4l-1,4l-3,3h1l2,3v3l-2,2l-4,-1l-2,-2l1,-2l-3,-1l-2,1l-1,-3l-1,2h1l1,2l-5,3l1,3l2,1l-1,3l-4,1l-2,-3l-3,-1h-7l-1,2l3,1l-1,3l7,-3l3,1l8,-1l1,2h4l3,2l3,-1l1,2l-3,2l2,2l-2,3l-6,1l-4,2l-1,-1h-6l-2,1l-1,-2h-2l-2,-3l4,5v2l-3,2l4,3l1,4h5l2,2l1,7l1,1h4l2,2l3,1l2,-1l2,1v-1l-1,1l-2,-3l1,-1l-3,-2l-1,-6l1,-1l1,2l-1,-3l2,-2l4,3l1,-2l-2,-3l1,-1l2,1l1,-1l-3,-5v-6l3,-2l7,1l1,-2l1,1l2,-1l2,1l1,-1l-3,-4l-5,-3l-1,-4l2,-2l2,1l2,-3l3,1l1,-1l6,5l2,-1v-5l-2,-2l-2,1l-2,-2v-3l2,-2l1,2l3,2v-2l2,-1v-1l-2,-1l1,-1l-2,1l1,1l-3,1l-1,-1l1,-1l-1,-5l-1,-1l-4,1l-1,-1l1,-4ZM783,533l2,2v1l1,1v1h1l1,1v2l-1,1h-1l-1,-1h-1l-3,-3v-1l-1,-1ZM799,520l1,-1h1l1,1l-1,1h-1ZM797,519l2,2h2l1,1v3l-2,2h-1l-1,-1v-1h-1l-1,-1v-4ZM799,512l1,1v1l-1,1h-1l-1,-1ZM816,512l1,-1l1,1l-1,1ZM795,512l1,-1l1,1v1l-1,1l-1,-1ZM797,504l2,2v1l-1,1l-1,-1l-1,1l-1,-1v-1ZM805,495v-1l1,-1h1l1,1l-2,2ZM673,489h-1l-1,1v1l-1,1h-1v1h1l1,1h2h-1l-2,-2l1,-1v-1l1,-1ZM1121,488v1M661,488h0M396,488l-1,1l1,1ZM366,488h1M664,487l1,1l-1,1v2l-1,1l1,-1h1l1,1v-1l-1,-1v-2ZM444,487l1,3l-3,1v2l-3,3l11,5l1,-1l-1,-3l2,-2l-1,-1v-3l-3,-1l-2,-3ZM444,498l1,-1l1,1l-1,1ZM1293,487l1,1h1l2,-2h-3ZM1119,486h1M465,486v2l-2,2v2v-2l2,-2ZM1266,495l-2,-2h-5l-2,3l-3,-6l-2,2l-4,-2l1,-2h2l-2,-3l-3,1l-2,-1l-2,3h3l3,3l-3,6l2,3l-1,1l-3,-2l-3,1l-2,-2l-3,2l-2,-1l-1,2l2,4l-2,2l-2,-3l-2,3h2l2,2l3,-2h4l3,2h2l1,2h4l2,-3l7,-5l4,1l-1,-1l2,-2l2,1l-1,-3l2,-2ZM1242,505l1,-1h1l1,1v1l-1,1ZM1241,504l1,-1l1,1l-1,1ZM1237,503l1,-1l1,1l-1,1ZM1243,487l1,-1l1,1l-1,1ZM437,485h0M1348,484h0M1291,484h0M1222,484v1h1v-1ZM1133,484v2h3l-1,-1v-1l-1,1ZM837,484l-1,1h-1l-2,2v2l-1,1l1,1h2l1,-1h1l1,-1v-1l-1,-1ZM609,484v1M1119,482v1h1v-1ZM451,483h1l1,1h2v-1l-1,-1h-2ZM1126,481v1M1010,482l2,2h1l2,2v1v-2l1,-1v-1h-1l-2,-2l-1,1ZM962,481h1M1358,480h1M644,480v1l-1,1v1l1,-1ZM631,480v1h3h-2ZM470,480v1l-1,1l-1,-1v-1v2h1l1,-1ZM448,480h1M1353,480h1l1,-1h-2ZM608,481l-1,-1h-1l-1,-1v1l-2,2h-1v4v-1l2,-2h1l2,-2ZM397,479v1M1002,478v3h1l1,1l-1,1v1h2l1,-1l1,1v-2l1,-1h-1l-1,-1h-1l-1,1h-1l-1,-1ZM816,478h0M641,484l-4,-2l-7,2l-2,-1l-3,1l-1,-1v-3l2,-1l-2,-1l-1,1h-4l-2,3v2l2,1l-3,1l-1,-2l-1,1l1,1l-1,2l-3,-3l1,-4h-2l1,1v5l5,6l-5,2l-1,2l1,1v3l1,1l1,-1l-1,-3l4,-2l3,-4l4,2l2,-1l2,-3h2l2,-3h2l2,-4ZM618,486l1,-1l1,1l-1,1ZM621,483h2l1,1v1l-2,2l1,1h1l2,2v1l-2,2h-2l-4,-4l1,-1v-1l1,-1v-2ZM621,482l1,-1l1,1l-1,1ZM603,478l-1,1ZM1299,479h2l1,-1h1h-1l-1,-1h-1l-1,1ZM984,477v1l1,1v1v-3ZM645,477h0M1363,476h1M796,476v1l-1,1l1,1v1h1l1,1h4v-1l1,-1l-1,1h-3l-1,-1v-1l-1,-1v-1ZM564,476l-2,2h2ZM1328,475l-1,1v1v-1ZM881,475l1,1v1h1l2,2h7l-1,-1h-1l-1,-1h-1l-1,-1h-2l-1,-1l-1,1h-1ZM988,474h1M964,474v2h1v-2ZM800,474v1M614,474l-1,1ZM573,474l-3,2v2l-3,4l-1,-2h-1l-1,2l1,1l-1,1h-2l-1,-2l-4,2v3l1,1l-1,3l5,2l-3,5l1,-1l1,1l2,6l2,-1h5l1,1l-1,3l2,1l-1,1l1,1l1,-3h3l1,1l-1,1h2l-1,-1l4,-2v-3h-3l-4,-3l1,-3l-1,-8l3,-2v-2l2,-1v-2h-3l-1,-1v-3l-1,-1l1,-2ZM577,505l1,-1l1,1v1l-1,1l-1,-1ZM421,474h0M1324,473h-1v1l-1,1l1,-1h1ZM1313,473h1M589,473h3M393,473v1M1094,473l-1,-1l-1,1ZM647,472v2M1003,470l-1,1h-1v2l1,1v1v-1l1,-1ZM361,470l-2,4l-5,-2h-4l1,4l-3,3l1,2l-1,3l2,2v3l1,-3l1,1l6,-2l6,1l-5,-3v-2l2,-1v-3h-4l-1,-1l-3,5l-2,-1v-6l1,-1l2,1l2,-1l3,1ZM351,486v-2l1,-1h2l1,1v1l-1,1h-1l-1,1ZM354,482l1,-1l1,1l-1,1ZM973,469h1M971,469h0M1336,471l-1,2l6,3l2,2h2l2,3h1l-1,-2l4,-2l1,-2l-4,3l-2,-1l4,-4l1,-2l-1,-1l-5,2l-3,-2l1,-1l-2,1l-1,-2ZM1345,478l1,-1l1,1l-1,1ZM889,470l1,1v1h1l1,1h1v-1l1,-1h1v-1l1,-1l2,2l1,-1v-1l-1,-1l-1,1l-1,-1h-3l-2,2ZM646,468v1M605,468v1M1342,467h0M550,468v2l1,1h2l1,1h1l1,1v1l1,-1h2v-1l1,-1h1l1,-1h-1l-1,-1h-2l-1,1h-2l-2,-2v-1h-2ZM555,471l1,-1h1l2,2l-1,1h-2l-1,-1ZM628,467l-1,-1h-1l-1,1h-5l-1,1h-2l-1,-1h-1l-1,1v1l1,1v2l2,-2h2l1,-1h4l1,1h2l1,-1l-1,-1ZM592,466h-2l1,1v1l-2,2v1l1,-1h1l1,-1ZM362,466h0M1033,465h1M1273,464h0M1036,465v2h1l1,1h2l1,-1h2l1,-1h1v-1h-2l-1,-1h-1l1,1v1l-1,1l-3,-3h-1ZM390,463l-1,1v1l-2,2v1l-1,1l1,1h4l1,-1l1,1v1v-2h-1l-1,-1h-2l-1,-1v-1l2,-2l1,1l-1,-1ZM1015,461h0M589,461v1M1311,460v2l1,1v3h1l2,2l1,-1l-1,-1l2,-2h2l-1,-1v-2h-5l-1,-1ZM1312,464l1,-1l1,1l-1,1ZM1258,462v1l4,-1l1,1l-1,2l2,1l2,3l1,-1l2,2l-2,1v3h4l1,-7l-3,-1v-2l-2,-3l-2,1l-2,-2h-2ZM733,460h0M360,460l1,1v-1ZM737,459v2l1,1v-3ZM735,459h0M643,460v1h2l1,1h1v-2h-2l-1,-1ZM380,459h0M1047,457h1l1,1l2,-2l-1,1l-1,-1h-1ZM633,457v1h1l1,1h1l1,1h1l1,-1v-1h-1l-1,1l-3,-3ZM614,455h0M457,455h0M959,454l-2,2h1l1,1h1v-3ZM372,454l1,1v1l1,1v1l1,1v2l-2,2l1,1l1,-1h1v-2l1,-1h1h-2l-2,-2v-1l-1,-1v-1ZM369,454l-1,1ZM1391,453h1M1339,452h0M946,452v1h5h-3l-1,-1ZM936,451l-1,1l1,1v1l1,1h2v-1ZM584,451l-1,1l1,1h1v-1ZM553,451l-2,2v1l1,-1v-1ZM1385,450l-3,1l-3,-1l-4,3l3,6v7l-2,1l-2,3l-5,-3l-1,1l-1,-2l-4,2v3h2l4,4l-1,2l-4,1l1,2l-1,2l3,5l-1,5l-3,2l2,2l3,1l1,-1h3v-1l2,-1l-1,-1l1,-1l-1,-1l2,-3l2,1l5,-4l3,-5v-2l-2,1v4l-1,1l-3,-5l-3,-2v-4l3,-2l-2,-1v-1l2,-1v-3l1,-1h5l6,-4l-2,-7h-2ZM1251,451v2l2,3l3,2h3l1,-1v-2l-2,-2l1,-3h-6ZM568,450h-1v1ZM344,463h2l1,1h2l1,1l3,-3h1l1,1h1v-2l1,-1l-2,-2v-1l3,-3l1,1h5h-5l-1,-1l-1,1h-4l-1,1h-1l-3,-3v-1h-2l-1,-1v-1l-1,1l2,2h1l3,3h3l2,2v2l-1,1h-1l-3,3l-1,-1ZM1265,449l-3,3h2l1,-1ZM1249,449h0M943,449h0M594,448v1l-1,1h1ZM1189,447h0M794,447l1,1l-1,1l2,-1l1,2l2,1v3l-3,6l3,2l-3,5l2,3l3,2v-11l-1,-1l1,-2v-10ZM799,463l1,-1l1,1l-1,1ZM1268,447v2h3l1,-1l1,1v-1h-1l-1,-1h-1l-1,-1ZM1223,446h0M452,447l-3,-1l1,2l-3,3l-5,1v2l-2,2l-3,-2l1,-2h2l-2,-3h-3l-4,2l2,2l-2,4v3l2,2l-1,1l1,2l-2,2l3,5l-2,2h-2l-1,-2l-4,2h2l2,2l-1,1h-3l-3,5v2h3v-4l1,-1h4v-3l-1,-1l1,-1l6,-1l3,4l4,-1l1,2l-2,2l-2,-1l-1,2l2,2h3l-1,-3l2,-2l1,-7l2,-1l1,-2l3,2h2l1,2l4,-1l5,-4l1,2h1v-1l-2,-1l1,-2h-4l-1,-1l1,-1l-1,-1l1,-2l-1,-2l-1,1l-2,-2l-1,1l-1,-1v-4l-1,-2l-1,1l-1,-1ZM594,444h0M1202,443h0M1185,443v2h1v-2ZM924,442v1h1v-1ZM592,442l-1,1h1ZM921,441h0M806,441v3h2v-1l-1,-1v-1ZM1001,440h-1v1ZM339,440v2l-1,1l1,1v2l-1,1l1,-1v-1l1,-1l1,1h1v-1h-3l-1,-1l1,-1ZM1250,439h0M1036,439l-2,1v3l-3,2v5l-1,1l1,1l-2,2l-2,-3l-6,2l1,5l6,4h6l2,-2l2,1l-2,-4l1,-5l-2,-1v-2l3,-1l3,-4h-2l-1,-1l1,-2ZM1033,444l1,-1l1,1l-1,1ZM1004,438v2h1v-1ZM367,438h1l1,1h1l-1,-1ZM1338,437h-3v4l-3,3l2,-2h1l1,1v1l-3,3h-1l2,2l-2,2l-1,-1h-1v2l-1,1l-2,-2l-2,2v1h3l2,-2h1l3,-3l-1,-1v-1l3,-3h3l2,-2l-2,-2v-1l-1,-1ZM1218,437v1M1207,437h-1v2l-1,1h1v-1l1,-1ZM582,437v4l1,1v1l1,1v4l1,1h2l-3,-3l1,-1h1v-1l1,-1v-1l-1,-1v-1l-1,-1v-2h-1l-1,1ZM1007,436h1M922,436v1M884,436v1l1,1h1ZM1238,435h0M585,435h0M852,458l5,7h3l2,2h3l1,-1l1,1l2,-1l1,1l1,-1l1,1l2,-1l1,1l1,-2l1,1h3l1,-2l4,-3l1,-3l3,2l-1,1l1,2l3,-2l4,2l3,-1l-1,-1l4,-5h2l5,-3h5l1,-2l3,2v3l2,2l-2,3l3,1l1,-2l3,1l1,-1l-1,-1l3,-2l3,-4l-2,-1l-1,2l-2,1v3l-3,3l-2,-3l1,-3l2,2l-1,-3l-3,-2l-1,-2h-4l-2,-2l3,-2v-3l-1,-1l3,-6h-1l-2,5l-2,-1l1,-2l-2,-1v3l-4,3h-4l-3,-4v6l-3,1l-1,-1l2,-2l-3,-4v-5l-3,1l-3,-1v1l-2,1l1,3l-5,4l-1,3l-2,1l2,-1l2,2v2l-1,1l-1,-2h-1l-2,2v2l2,3l-3,3h-3l-2,-3l-3,-2l2,-3l-1,-2l-5,-2h-3l2,3l-3,6h-2l-3,-4h-2v1l-3,2ZM869,465l1,-1l1,1l-1,1ZM884,455l1,-1h1l1,1v2l-1,1h-1l-1,-1ZM887,443l1,-1l2,2v1l-1,1l-2,-2ZM892,435l1,1v1l-1,1h-1l-1,-1ZM1222,433l-1,1v9l3,-3v-1l1,-1v-3h-1ZM1186,433v1h2l-1,-1ZM1009,432v2h1v-2ZM586,432h0M548,432h0M343,436l1,1h1l1,1h1l1,-1h4l1,1l1,-1h1l1,-1h3l1,1h1l-1,-1v-1h-1l-1,1h-2l-1,1h-5l-1,-1h-1l-1,-1h-1l-1,-1v-1l1,-1l-1,1v1ZM346,436l1,-1l1,1v1l-1,1l-1,-1ZM1385,431v1h1v-1ZM581,431v2h2l1,-1l-1,-1ZM1407,431h2l1,-1h-2ZM1248,430h-1v1l-1,1h-1v2h1l1,1l-2,2l1,1l1,-1h1v-1l1,-1v-2l-1,-1ZM915,430l1,1v1h1l1,1l-1,1h1v-1l1,-1h1v-1h-1l-1,-1ZM579,430h0M373,430v1l-3,3v1l2,2h2l2,2l1,-1v-1l-1,-1v-1l-1,-1l1,-1h1l1,-1l2,2l-2,-2l-1,1h-1l-2,-2v-1ZM373,431l2,2v2l-2,2l-2,-2v-2ZM1193,428l-2,1v2l2,2l-1,1l1,3l-2,2l-1,6l2,-1l2,2l1,6l3,2v2h2l-2,-4l-2,-1l1,-5l-2,-1v-2l1,-1h4l1,-3l-2,-5l1,-1l3,1l3,-2v-1h-3l-1,-1l-7,1ZM364,428h0M333,428v1l-1,1h1ZM1234,427l2,2v2l1,1h2v-1l-1,-1h-1l-1,-1v-1h-1ZM552,427v1l2,2v1l1,1l1,-1v-2h-1l-1,-1h-1ZM1405,426h0M359,425v1l2,2l-2,-2ZM352,425l2,2ZM346,425v1M333,425h1M1133,423h0M373,423v1M339,422l1,1h1l1,1h1v-1l1,-1l-1,1h-2l-1,-1ZM337,422l-1,1ZM1413,421h0M369,421v2l-1,1h-3v2l1,-1h1l1,-1h1ZM1157,420l2,3l-1,3h1l3,4l2,-3l2,2l1,-3h2l1,-2l3,-1v-1h-4l-1,-2l-2,1l-3,4l-4,-2l-1,-2l1,-1ZM1160,427l1,-1l1,1l-1,1ZM1085,420h-1l-1,1v1h1v-1ZM1080,420h-1l-2,2l1,1h1v-2ZM345,420h0M1079,428l1,1l-1,1h2l1,1l-1,2l3,2l-1,1h-3l-2,6l1,6l-4,5l4,1l2,2v3l-3,3l1,3h1l3,4l-1,2l2,1l-2,3l3,-1l1,-3h2v-4l2,-1l1,-2l-1,-1v-3h-1l-1,-2l3,-3l4,1l6,6l-1,4l-4,2l-1,3l1,1l5,-4l2,-3v-2l2,-1l4,3l4,6v6l2,2l2,-2l2,3l1,-1v-7l2,-2l1,1v4l5,4h7l2,3l4,2l-1,3l3,4l2,-2l2,3l-1,3l-5,2l2,2v2l2,1l2,-2l1,1l5,-3l1,-2l-1,-4l1,-1h6l8,-4l1,-2l-1,-2l-2,-1l2,-3l3,-2l2,4h3l2,2l-1,3l5,6h1l2,-3l1,2l1,-2l4,6l2,-1l1,1h3l1,1l-1,1l2,1l-1,2l1,1h5l1,1l3,-2l-1,-8l1,-1h3l2,-3h2l2,-2l-1,-2l3,-3h3l1,-1l2,2h4l1,-1l3,1l5,4l2,-2l1,1l1,-1l-3,-4l2,-3l-3,-4v-3l-6,1l-2,-2h-5l-1,-1h-3l-1,1l-3,-2v-3l-2,-1l-1,3l-2,-3h-1v3l-1,1h-3l-1,1l-1,-1l-3,2l-2,3l-1,-1l-2,1l-1,-1v-3l3,-2l-1,-2l-1,3l-3,2h-2l-2,-3l3,-5l-1,-1l-1,1l-4,-4l2,-2l-1,-1l-1,1l-3,-2h-2l-1,-1v-4h-4l-3,2l-2,-3l-3,-2v-1l2,-1v-2l-3,-3h-2l-3,2v1l2,1v2l-1,1l-2,-1l1,1l-2,1l-2,-3h-2l-4,-5l1,-3l-3,-2v-3l-2,-1l-2,1l-3,-1l-6,1l-3,3h-3l-1,-1l-2,1l-2,-1v1l-4,3v2l-3,1l-1,-2l3,-5l2,-1l-1,-2l-3,-2l-4,2l-1,2l-4,-1l-1,-2l-3,1l-1,-2l-2,-1l-1,4l3,2l-6,5l-2,-3v-7l-2,-3v-5h-1v3l-1,1h-2l-3,2h-7l-1,-1ZM1140,483l1,-1l1,1l-1,1ZM1182,477l2,2v2l-1,1l-1,-1v-1l-1,-1v-1ZM1135,476l1,1v1l-1,1h-1l-1,-1ZM1166,475v-2l1,-1l2,2l-2,2ZM1191,470l1,-1l1,1l-1,1ZM1179,469l1,1v1l-1,1h-1l-1,1l-1,-1v-1l1,-1h1ZM1173,468l1,-1l2,2v1l-1,1h-1l-1,-1ZM1172,469l-1,2h-4l-1,2h-4l-2,2l-3,-3l1,-3l5,1v-2l2,-2l2,2l1,-2l1,2ZM1151,461l1,-1h1l1,1l-1,1h-1ZM1159,459l-2,2h-3l-1,-1l3,-3h1ZM1179,453l1,-1h1l2,2v1l-1,1h-1l-1,1l-1,-1ZM1169,453l1,-1h3l1,1l-1,1v1l-1,1ZM1155,452l3,-2l1,3l6,1l1,1l-1,3l-3,2h-2l-2,-2l1,-1ZM1153,448l1,2l-3,3v5l-3,2l-3,-4l-2,1l2,3l-5,2l-1,-1l1,-5l5,-3l4,-6ZM1102,446l2,2l-3,3l-1,-1v-1l1,-1v-1ZM1095,444l1,-1h1l1,1h1l1,1v2l-1,1h-1l-3,-3ZM1116,443l1,-1l1,1l-1,1ZM1167,439l1,1v1l1,1v1l-1,1l-2,-2v-2ZM1121,440l1,-1h1l1,1l-1,1h-1ZM1098,440l1,-1l2,2v1l-1,1l-2,-2ZM1095,439l1,1v2l-1,1h-1l-1,-1l1,-1v-1ZM1124,436l1,-1h1l1,1v1l-1,1ZM1106,436l1,-1l1,1l-1,1ZM1144,433l1,-1h1l1,1l-1,1h-1ZM1127,433l1,-1l1,1l-1,1ZM1091,434l4,-2l2,2v2l2,1v2l-1,1l-1,-1h-3l-2,2l-1,-1ZM1084,430l1,1h1l1,-1l2,2v1l-3,3h-1l-1,-1v-2h-1l-1,-1ZM1108,431v-1l1,-1h1l1,1l-2,2ZM1104,430l1,-1h1l1,1l-1,1h-1ZM1091,419h0M339,419h0M1162,418v1l-1,1v2l1,-1ZM1159,417v1M1130,416l1,1ZM1167,415v1l1,1v-1ZM1072,414l-4,2l-3,-2l-4,3v1l2,-1l1,2l3,2l1,3l-5,4l-6,-3l2,3l-2,3v4l-1,1l-3,-4h-2l-3,4l-5,2v2l2,3l4,-1l1,1l-1,3l3,-1l-1,-4l2,-4l8,-1l3,-4l1,1l2,-2l4,2l1,-5l-2,-1l-3,2l-1,-2l3,-2l5,-6v-2l-2,-1ZM1061,433l1,-1l1,1l-1,1ZM1062,432l1,-1l1,1l-1,1ZM1130,413v1h1ZM1074,413h1M1168,412v1M1092,405v2l3,3l-1,1h-1v1h1l2,2v1h1l1,1v-1l-1,-1v-1l2,-2v-1l-1,-1v-3h-1l-1,-1ZM523,401h0M481,354l1,5l-2,2v4l1,1l7,1l2,-2l-1,-4l-2,-1l-1,-2l1,-1h-2l-1,-1v-3ZM423,301l-1,2l1,2l-1,5l1,1l-2,1l-1,2l5,3l1,-1l2,3h4l3,2l1,-1v-3l-1,-2l-3,-2v-4l-1,-1l2,-2l-2,-2h-2l-2,-2ZM423,309l1,-1l1,1v1l-1,1l-1,-1ZM428,307l1,-1l1,1l-1,1ZM445,282h0M439,281h0M436,281h0M444,280h1M415,274h0M444,273v3l1,1l2,-2l1,1v1h2l1,1v1v-1l-1,-1h-1l-1,-1v-2l-1,1h-1l-1,1l-1,-1ZM456,271v2M419,271l-2,2l1,-1h1ZM416,271h0M456,269h0M445,268v2l1,-1ZM420,268h0M451,266l1,1ZM425,266v2l1,1h1l1,1h1l-2,-2l1,-1l-1,-1ZM430,265v1M449,264h-1l-2,2l2,-2ZM456,263l-1,1h1ZM453,263h0M425,262h0M422,261h0M448,260l1,1h1h-1ZM414,260h0M447,258h0M423,253h0M418,253v1M457,252h0M446,252l-1,1v1v-1ZM421,252h0M453,247h0M445,247h3l1,1v3v-3l-1,-1ZM438,243l2,2h2h-2ZM435,241l1,1ZM421,241h-1v2l1,-1Z"/>
<path fill="#ffff00" stroke="#ffff00" stroke-width="1" stroke-linecap="square" fill-rule="evenodd" d="M741,730h-1l-1,1h1ZM736,724h1l1,1v3l1,-1v-1l-1,-1v-1ZM856,699v2M737,697l-1,1h-1v1h1l1,-1ZM1036,697v2h2l1,1h1l1,1h3v-2l-3,-3h-4ZM1220,695l-3,5l1,3l-3,4l1,1h6l2,6h3l-2,-4l-3,-2l2,-5l-1,-2v-6ZM1042,692l-1,1ZM1020,691v3l3,4h9l2,-2l-1,-2l1,-3h-3l-2,-3h-6l-2,1ZM846,688v1M727,688l1,1v3l-1,1v1l-1,1v1l1,1v2h1l1,1v3l1,1v3l1,1v-1l2,-2v-4l-2,-2v-1h-1l-1,-1h-2l-1,-1v-1l1,-1v-1l1,-1v-4ZM917,687l-6,5l1,4l3,3l1,-4l3,-4v-3ZM593,669v1l1,1l-1,1h-2l-1,1h-1v1l1,1v2l2,2v1l3,3v-1h-1l-2,-2v-1l-2,-2l1,-1v-1l1,-1v-1l1,-1h2v-2l-1,-1ZM1027,666h0M856,666h0M590,664v2M642,648h0M718,651l-7,2l-4,-5h-4l-1,-1v2l-2,2l-2,9l5,12l-1,1h-4l-3,3h-6l-1,1l-3,-4v-3l-3,1v6l-2,2l1,1l-2,4l1,-1l2,1l3,-1l3,-5h4l3,5v3l3,-3h5l2,3l2,-3h1l2,3h3l2,-3l2,1l-1,-2h-3l-2,-3l-2,1h-4l-1,-1l2,-2h4l3,-3h3v-4l2,-3v-4l2,-3l-3,-1l-4,1l-3,-3l2,-3h4l1,1ZM713,668l1,1v1l-2,2h-2l-1,-1l3,-3ZM712,662l1,1v2l-1,1l-1,-1v-2ZM615,638l1,5l3,2l-1,2h-3l-4,5h-4l-2,2v4l-6,3h-2l-3,-5l2,6l4,4l2,4h4l2,2l-3,2l-4,5v1l3,2l-1,2l1,5h3l1,-1l1,1l-1,4l-3,2l4,2h3l3,-2l2,3l1,-3l2,3v-3l1,-1l1,1h3v-2l2,-2l1,1v4l-5,2l2,-1l17,1l1,-2l-2,-2v-3h-2l-2,2l-2,-1l-1,-2v-5l2,-2l-5,-3l1,-2l4,-3l-3,-2l-1,-3l1,-2l-1,-3l2,-1l-1,-2l-10,-1l-2,3l-4,-1l1,1l-1,2l-6,-2l-2,2l-4,1l-2,-6l1,-1h7l1,2l1,-2h-1l-1,-2l-4,1l-2,-2v-2l2,-2l3,1l4,-5l3,-1l4,3l-1,2l1,2h2l2,2l7,3h5l4,3v2l-2,2h1l3,4v5l2,1l3,-3l-2,2l-2,-2l2,-3l-5,-4l3,-2l1,-3l-3,-4l2,-1l2,-3l-3,2l-3,-4l1,-2v1l-3,2v3l3,2l-1,3l-6,-1l-3,-3l-3,1l-2,-2v-2l1,-1l2,1v-4l-1,-1l-6,5l-1,-1v-3l-2,-2l2,-1l-2,-4l-2,-1l1,-2ZM607,694l1,-1h1l2,2l-2,2l-2,-2ZM623,691l1,-1l1,1l-1,1ZM629,690l1,-1h1l1,1v2l-1,1h-1l-1,-1ZM611,688l2,-1l1,-2l6,1l2,3v2l-2,3l-4,-4v3l-2,2h-2l-1,-1ZM621,683l1,-1l1,1v1l-1,1l-1,-1ZM634,684l-2,2h-2v1l-1,1h-2l-2,-2l1,-1h2v-1l1,-1v-1l1,-1l1,1h1ZM607,681l1,1v1l-2,2l-1,-1v-1ZM623,680l1,-1v-1l1,-1h3l1,1v3l-2,2h-2l-2,-2ZM612,676l3,3v1l-2,1v1l2,1l-2,2l-5,2l-1,-2l2,-2l1,-6ZM610,675v1l-3,3h-2l-1,1h-1l-1,-1v-1l1,-1h2l1,-1v-1l1,-1h2ZM602,662l1,1v2l-1,1l-1,-1v-2ZM633,673l-3,3l-1,-1l-4,1l-2,-1l-1,-2l-3,1l-1,-2l-8,1l-1,-1v-5l2,-2l3,2h3l7,-6h3l4,3l1,2l-1,3ZM599,662l1,-1l1,1l-1,1ZM588,637h1M619,635l1,1v3v-1l1,-1h1h-1ZM580,627v3h1l1,1v1l1,1h1h-1l-1,-1v-1l1,-1h1v-2l-1,1h-2l-1,-1ZM591,626v2l1,1l1,-1h1l-1,-1v-1ZM604,624h0M546,624h0M603,618l-1,1h1l1,1v-1ZM598,614l-1,1l1,1ZM587,613v2h3v-1l-1,1ZM478,613h3M575,611h2M573,611h-5l-2,2h-3l-1,1l-2,-1l-1,1v2l3,-2l1,3l3,2l-3,5l5,-3h2l-3,-3l1,-1l-1,-2l3,-4ZM1111,611v1h2l1,1v1l2,2v1l1,1l2,-2h1v-3l-1,-1v-1h-1l-1,-1h-3l-1,1ZM575,604v1h2l-1,-1ZM480,607v1l2,2h1l1,1v3l2,-2h1l1,1h1l1,1v1h1v-1l1,-1h1l-1,-1h-4l-1,-1l1,-1v-1h-1l-1,1l-1,-1v-1l1,-1v-1l-1,-1v-1h-1l-1,1h-1ZM462,604l-1,1v1l1,1h1l1,1v-1l-2,-2ZM566,603l1,-1h1h-2ZM473,602l-2,1v3l-2,1l3,1l-1,2l2,-1l1,2h2l2,-3v-2l-2,-4ZM474,604l1,-1l1,1l-1,1ZM500,600l-1,1v5l-1,1v1l-1,1v1l-1,1v5h1v-1l-1,-1l2,-2v-1l1,-1v-5l1,-1v-1l-1,-1v-1ZM499,598h0M482,592h-1l-1,1v4h2l1,-1v-1l-1,-1ZM488,584h0M887,584l-2,6h2l1,2h5l2,2l2,-4v-4l-6,-3ZM518,581h0M905,578v1h1ZM514,576v1l2,2h1v-2h-1l-1,-1ZM509,576l-1,1v3l2,1v2l-3,5l3,4l3,-8l-1,-1l1,-2l-1,-3ZM416,576v3l6,7l-2,1v3h2l2,2l1,4l4,5h7l2,-1l3,2v-1l3,-2l1,-2l-1,-1v-3h-5l-1,-3h-7l-1,-1v-4l-3,-2l-3,-4ZM511,572v1M1343,602h-5l-1,1l-3,-1l-1,1l-3,-4v-4l-1,-1l-1,1h-8l-6,8l1,1l-1,1v4l-3,3h-7l-5,-6l-5,-2l-2,-6l-5,-2h-5l-5,3l-1,7l-4,3v2l-3,3l-2,-1l-1,2l-3,1l-3,-2l-6,3h-8l-7,3l-2,-3l-2,1l-2,-1l-7,5l1,2l-1,5l-3,3l-4,2l-2,-1l-5,3l-5,-3h-4l-1,-1l-6,2l1,2l-2,3l-5,1l-2,2h-3l-4,5l-3,-1l2,-13l-3,-1l-2,2h-5l-1,1l-3,-1l-5,4v5l5,3h7l2,2l-3,4l-3,1l-4,5l-8,7l-6,-4h-2l-6,-5l-2,-4l2,-3v-4l-7,-1l-3,2l-4,-1l-3,-4h-1l-1,2l-3,-2v-3l-2,-1l-1,-2l-5,-2l-1,1l-2,-2h-3l-1,-1l-4,1l-3,3h-3l-1,-1v-5l-3,-1l1,-3l3,2v-3l-3,-6v-2l1,-1l3,1v-2l3,-2h2l1,-2l-5,-3h-4v2l-2,1l-4,-4l2,-3l-3,-4l1,-1l-4,-1l-1,5l-5,6h-5l-5,-4l-4,-1l-4,-4h-2l-5,-3h-4l-2,-3v-4h-2l-2,-4l3,-5l-1,-1v-3l-7,-5h-5l-2,2h-3l-7,6v2l-3,2v4l-6,6l-2,-2l-1,1l1,1l-1,3h-1l-1,-2h-3l-7,5h-3l-4,-2h-5l-6,-4l-7,1l-7,-5l-5,3l-4,1l-4,-2l-4,1l-3,-2l-5,1l-1,-1l1,-2l-1,-1h-5l-3,2l-2,-3h-1l-1,2h-5l-4,2h-3l-2,2l-10,1l1,2l-1,2l3,2v3l2,2v2l2,3l-3,2l-1,3l-4,3h-3l-1,-1l-1,1l-3,-2h-4l-1,-1l1,-3l-2,-1l-14,1l-7,-6l-3,-1l-4,1l-2,-2h-3l-1,1l-4,-1l-6,2l-5,-1l-1,2h-5l-4,2h-7l-1,-1l-2,1l1,5l-1,1l-1,-1l-1,5l3,5v7l-1,3l-4,4v2l-2,3v5l1,1l-15,10l-2,-1l-4,1l-1,-1h-3l-2,-2l-2,4l-14,4l-1,-1h-5l-3,-3h-6l-1,-2l-3,-1l-1,-2l-5,-1l-4,-3l-1,1v3l1,2l2,1l-1,12l1,1v3l3,4l1,6l3,-1l1,2h8l1,-1l1,1l-1,5l1,1h3l1,3l-1,1v3l-1,1h-4l-5,4v3l-1,1h-2l-3,-4h-2l-4,3l-2,-3l1,-5l-2,-3l1,-1h3v-6l-1,-2h-2l-2,3l2,3l-2,1l-2,3l3,2l-1,1l1,1v3l3,5v4l-2,2h-3l-1,1v6l-1,2l2,-7h4l1,-2l5,2l2,-1l1,-3l3,1v-1l-3,-2v-2l7,-2l2,2v4l-4,5l-2,-1l-2,4l-3,3v5l-1,2l-5,2v3l1,1l-1,3l3,3h1l1,-2l4,5l2,-1l2,1l2,-1l1,-2h3l2,-3h2l1,1l-1,3l-2,2h-3v1l-2,1v1l6,-3l3,1v-2l4,-4l3,-1l-3,-1v-2l2,-2h6l1,3l2,-3l2,-1l-5,-7l5,-6l-1,-2l1,-2l-4,2h-2l-2,-2l1,-6l-3,-1l4,-3l-1,1l-2,-1l-1,1h-3l1,1l-1,1l5,3v5l-1,1l-1,-1l-3,1l-1,-1l-3,5l-2,-2v-2l-1,7l-2,2l2,2v2l-5,6l-6,2l1,3l-2,2l-2,-3l-3,-1l3,-5l-1,-9l4,-3h2l3,-3l-1,-4l3,-2v-4l2,-2l-2,-1l-2,-3l2,-1l3,-4l5,1l2,-4v-2l-2,-1v-2h-4l-3,-2l1,-4l2,-1l2,-3h2l2,-2l1,3l5,3l2,3l6,1l3,-2h3l2,-2l1,3h3l3,3v2l3,4l-1,8l3,2l1,3l4,3l1,3l-1,2l6,5v2l10,3l4,3h3l1,3h2l3,3h4l1,-1h3l1,1l2,-1l8,5l6,-4v-4l3,-8v-8l-3,-5v-2l-3,-3l-7,-2l-4,2l-3,-2h-4l-1,-1l-4,1l-1,-1l1,-3l-3,-6l-4,1l-2,-4l3,-2l-5,-4l2,-3h4l5,2l6,-1l10,8v4l1,1l14,-1l3,1l3,3l10,-1l6,-8v-5l2,-2l-1,-1v-4l-3,-4l-7,-5v-3l-1,-1l1,-2l-1,-1l1,-4l1,-1l5,4l4,-1l3,-8l10,-4l2,3h5l2,1l4,5v3l4,4h2l8,5l2,9l7,4l3,-2l4,5l6,1l3,6l3,1h5l1,-1l1,-6l3,-4v-2l-4,-5v-4l-1,-1v-2l4,-3l-1,-2v-5l1,-1l-1,-2l1,-1l3,4l7,1l3,4l-2,3l4,2l1,3l2,1h5l2,2l4,-1l3,-4v-5l-3,-2l1,-5l4,-3l2,1l3,-1h10l2,2h3l6,4v4l2,2v5l2,4l8,2l2,3l3,2v2h2l3,3v2l5,6v2l3,-1l1,1l2,-1l3,1l5,-2h4l1,1l-1,2l5,1l2,-3h1l2,3h6l1,-1l3,1l2,-2l1,1h3l3,4l3,1l4,4l5,-2l5,1l3,-2l4,-5h3l2,2l-1,2l3,2l3,5l-3,1v5h4l3,-2v-3l-2,-1v-2l6,-4l2,-4l3,2l8,-1l4,-2l1,-2l7,-6h5l8,9h7l1,-2l5,-3l3,-4l6,-2l1,-1l-1,-1l1,-3h13l1,-1l5,1l6,-5l1,-2l-1,-5l1,-1h3l1,1v4l6,4l2,-2l2,-6l9,-8l3,1l8,-6h6v-2l4,-2l4,-4l1,-6l2,-3l3,-2l3,-6l10,-2l4,-3l17,-8l2,-2l8,-4l5,-1l8,-10ZM756,740l1,-1h1l1,1v1l-1,1ZM763,736v-1l1,-1h1l1,1l-2,2ZM745,734l1,-1l1,1l-1,1ZM765,731l1,-1l1,1l-1,1ZM768,727l1,-1l1,1v1l-1,1l-1,-1ZM771,720h3l1,1l1,-1l2,2l-2,2l1,1v3l-1,1h-2l-4,-5v-3ZM745,712l1,-1h1l2,2l-1,1h-1ZM1078,693l1,-1l1,1v1l-1,1l-1,-1ZM741,686l1,-1l1,1l-1,1ZM842,682l1,-1l1,1l-1,1ZM772,677l1,-1l1,1l-1,1ZM856,670l1,-1l1,1l-1,1ZM859,667l-2,2l-1,-1l-6,1l-2,3h-5l-4,2l-1,-1h-3l-3,-5h-2l-2,-3l-2,-1v-4l4,-2l2,3l2,-2h4l1,-1h11l3,-1l1,1l-1,3l2,2h2ZM870,656l5,6l-6,7h-2l-3,2l-4,-3l-2,-8l2,-2l6,-1l1,1ZM1093,635l1,-1l1,1l-1,1ZM920,568l1,7l6,2l1,-1v-3l-2,-2v-2l-1,-1ZM486,567h0M426,557l-1,1h1ZM463,556l-1,-1l-1,1ZM462,552h0M616,548h0M618,547h0M536,547v1l1,1h1l1,1v2h1l1,-1v-1l2,-2h-1l-1,1l-1,-1h-3ZM527,546v1l1,1v-2ZM464,547v2l3,3v2l-2,1l1,7l-3,1l1,1l2,-1l2,3v2l-4,2l1,2l-3,2v1h2l2,-4l3,-2h4l2,3l-3,2l-1,4l-3,5h-3l-3,-3l-3,-6v4l3,4v1l-2,1l1,7l-1,1l-2,-2l-1,-4l-2,-1v-2v4l2,3v2l-2,3l1,1l-1,1v6l4,2l-4,-3l2,-3v-3l-1,-1l5,-4l5,2l-1,2h-2l4,2l2,-3l1,3l3,1v-3l3,-2l1,-5l-1,-1h-5l-1,-3l-2,-1l1,-1l3,1l2,-3l2,-1l1,-3h4l2,2v2l2,1l-5,-8l1,-5h-2l-3,-5v-3l1,-1l2,1l2,-2l3,2l2,5l1,-1l2,2l-1,2l1,2l7,6l1,3l6,-2l-1,-2l-3,-2l1,-2l5,-1l2,-2h3l1,-2h3l2,3h2l3,-4l2,4v6l-3,1l1,3l2,1v2l-2,2l3,2l-1,1v3l4,3l-3,1l-2,3l-3,-2l-8,2l-1,-1l1,-1l-1,1l-1,-2h-7l-2,-2v-2l3,-4l3,-1v-2h-2l-3,2l-1,3l-2,1l-3,-1l-1,1l2,2l-1,1l-3,-1l-2,-2v-2l-1,2h-3l-1,1v4l1,-1l2,1l-1,3h4l1,-2l3,-1l4,2v-1l2,-1l2,2l-1,3h3l2,-2h2l1,1l-1,1l1,4l-2,3l3,4l-1,1v3h3l-1,-1l2,-2h3l5,7v2l6,1l1,3h4l4,-2l3,1l-5,-3l1,-10l4,-3l4,2v2l-3,3l-1,3l4,-3l2,3l-1,1v3l1,-1l1,1h3l2,-2l1,-6l-2,-2h-6l-3,-4l3,-3v-3l-4,-3l2,-1l2,2v-2h-2l-1,-2l4,-3v-4l-3,-1l-2,3l-4,1l-1,-1v-4h-1l-3,-4l-1,2l-4,-3l2,-4l-1,-4l2,-1l1,1v3l3,-2l2,1v5l2,3l3,2l2,-1l2,1v-2l-2,-1l-2,1l-3,-3v-2l4,-3l3,1l1,-1h-2l-3,-4h-2l-2,-3l-3,-1l-1,3l-2,-2v-5l5,-4l3,3h5l2,-3v-6l-1,1h-4l-1,1l1,2l-1,1h-5l-2,1l-8,13l-2,-4l1,-3l2,-1l-1,-2l4,-3l-1,-1l1,-2l-1,-2l1,-1l1,1l1,-3l-7,4l-1,3l-2,1v2l-3,3l-3,-3v-4l-2,1l-2,-3v-3l3,-1l1,-3l-6,1l-1,-1h-5l-2,-2v2h1l2,3l-1,1h-3l-1,-1l-4,1l-1,-2l-2,-1l1,-3l-2,3l1,1l-1,3l-1,-2l-1,1l-2,-2l3,-4l-1,1h-3l-1,2h-2l-1,-3l-3,1l-8,-1l1,2l-2,2l-3,-2l1,-2ZM547,612l1,1h1l1,-1l1,1v2l1,1v2l-1,1h-3l-2,-2v-1l-1,-1v-1ZM510,604l1,-1l1,1h1l1,1v1l-1,1h-2l-1,-1ZM517,601l1,1l-3,3h-1l-1,-1v-1l2,-2ZM510,599l1,-1h1l1,1v1l-1,1h-1l-1,-1ZM523,597h1l2,2v3l1,1v1l-1,1h-3l-2,-2v-1l1,-1v-3ZM541,602l-2,4l-2,-1v3l-2,1l-1,4l-1,1l-3,-1l-1,3l-5,-3l-1,-4l-3,-1l-4,2l-1,-2l5,-4l6,4l2,-5l2,-2l2,2l3,-1v-5l1,-1ZM497,594l1,-1h1l1,1l-1,1h-1ZM536,593l1,-1l1,1l-1,1ZM530,592h1l1,1v3h1l1,1v2l-1,1h-2l-3,-3h-1l-1,-1ZM466,593l1,-1l1,1l-1,1ZM539,592l1,-1l1,1v1l-1,1l-1,-1ZM496,592l1,-1h1l1,1l-1,1h-1ZM489,590l1,-1l1,1l-1,1ZM530,585l2,2l-2,2h-1l-1,-1v-1ZM464,583l2,2v1l2,2v1l-2,2l-1,-1v-1l-2,-2v-3ZM535,572l1,-1h2l1,1l-2,2ZM505,566l1,-1h1l1,1l-1,1h-1ZM499,563l1,1v4l-1,1v1l-1,1h-1l-1,-1v-1l-2,-2v-2l1,-1h3ZM491,564l1,-1h1l1,1l-1,1h-1ZM511,561l1,-1l1,1l-1,1ZM505,559l1,1v3l-1,1l-1,-1v-1l-1,-1ZM486,560l1,-1l1,1l-1,1ZM523,559l1,-1l1,1l-1,1ZM475,559l1,-1l1,1l-1,1ZM543,559v-1l1,-1h1l1,1l-2,2ZM495,558l1,-1h1l1,1l-1,1h-1ZM543,555l1,-1h1l1,1l-1,1h-1ZM509,554l2,2l-2,2l-2,-2ZM491,556v-2l1,-1h1l2,2l-2,2h-1ZM502,553l1,-1h1l1,1v1l-1,1h-1l-1,-1ZM485,553l1,-1h1l1,1v1l-1,1ZM478,551l4,5l-2,2l-1,-1h-3l-2,6h1l2,3l-3,2h-4l-2,-2l1,-2l-1,-10l3,-1l3,-3ZM477,548l1,-1h2l1,1v1l-1,1h-2l-1,-1ZM610,546h4l1,-1l-1,1h-1l-1,-1h-1ZM618,543h2M615,543h0M606,542v1M623,537v2M621,529v2M609,524v1l1,1v1l1,1h2l1,-1h5l1,-1l1,1l1,-1l-1,-1l-2,2h-2l-1,-1v-2l-1,1h-1v2l-1,1h-2l-1,-1v-1l1,-1l-1,-1ZM620,526l1,-1l1,1l-1,1Z"/>
<path fill="#e6cf00" stroke="#e6cf00" stroke-width="1" stroke-linecap="square" fill-rule="evenodd" d="M759,746v1M766,741h1M770,740h0M754,739h0M863,737h0M840,736h0M781,736h0M760,736h0M743,737v1l3,3l2,-2l1,1v1l3,3h1l1,-1l1,1h1h-1l-1,-1v-1l-1,1l-1,-1v-1l-1,-1h-2l-1,-1h-2l-1,-1l1,-1h1h-2l-1,-1ZM744,739l1,-1l1,1l-1,1ZM763,735h0M765,734l1,1l-1,1v1l1,1l-1,-1v-1l1,-1ZM749,734h0M763,733h0M773,732h0M770,732l-1,-1l-1,1ZM741,730h-1l-1,1h1ZM768,728v1h1ZM866,727h0M771,727h0M738,724v4l1,-1v-1l-1,-1ZM750,723h-1v4l-1,1v1l-1,1h-2h2l1,1h2v-1l1,-1v-1l-1,-1ZM861,723h-2l-1,-2l-2,-1v-2l-2,1l-1,-1l2,2v4l-4,3l1,1l-1,3l-5,4l-1,-1l-3,2l2,-1h3l1,1l2,-1l2,2l2,-1l2,1l-1,-4l1,-1l3,1l2,-2l-2,-3l1,-1l-1,-2ZM852,728l1,-1l1,1l-1,1ZM866,716v1h1v-1ZM776,720h-1l-1,-1v-2l-1,-1l-1,1l-1,-1l-1,1v2l-2,2l-2,-2v-2v2l-1,1v3h4l1,1v-3l1,-1h3l1,1ZM772,719l1,-1l1,1l-1,1ZM785,715l-1,1h-2l1,1v2l-1,1v2l-1,1v1l1,-1v-1l3,-3v-1l-1,-1l1,-1ZM741,713h-3l-1,1v6l-1,1h1v-5l1,-1h4v-1ZM857,712h-1v1l-1,1h1v-1ZM760,712h-1l-2,2v1l-2,2v1l-1,1v3h2l3,-3v-1l-1,-1v-2l1,-1v-1ZM812,711v1h1v-1ZM748,711h0M1223,709v2l2,2h2l-3,-3v-1ZM1215,707h0M854,707h-1v2l1,-1ZM772,706l1,1l-1,1l1,1l1,-1l1,1h1l1,1h1v-1h-2l-1,-1l2,-2h1l1,-1l-1,1l-1,-1h-1l-1,1ZM741,704l1,1v1h1v-1l-1,-1ZM1108,703l1,1v1h4l1,1l1,-1v-1h-2l-2,-2h-2ZM805,700h0M740,699v3h1v-1l-1,-1ZM1221,698l-1,-1h-1v1l-2,2v1h3l1,-1ZM1153,700l1,1v-1l1,-1l2,2h1v-1l-3,-3l-1,1v1ZM1042,697l-1,1v2l1,1h2l-1,-1v-2ZM626,697h-1l-1,1h-1h1l1,-1ZM1117,696v1h2l1,1v1l-1,1h-1h1l1,1v-1l1,-1l-3,-3ZM726,696l1,1v2h1v-1ZM876,695l-2,2v1l1,1h1v-1l-1,-1l1,-1ZM873,695h0M1186,692h0M1169,692h0M1118,692h-1v1l-1,1h1v-1ZM1115,691v1M1173,690v1M1026,690h0M632,690l1,4l3,2l1,2l6,-1l-2,-3v-3h-2l-3,2l-1,-2ZM611,690l-1,1h-1l-1,1h2l1,-1ZM1090,689h-1v1ZM1079,689h0M1021,689h0M1199,688l-2,2h1l1,1ZM1023,688l1,1l1,-1h1ZM957,688l-1,1h1ZM727,688h0M1202,687h1M631,686h-1l-1,2l-3,-1v3l-2,2l-1,-2h-1l-1,3l-5,3l-1,-2l-1,1l-3,-1l-1,2l2,1l3,-2l2,3l1,-3l2,3v-3l1,-1l1,1h3v-2l2,-2l2,1ZM613,686h0M609,686h1M603,686l1,1v2h2v-1l-1,-1h-1ZM806,685h0M743,685h-2l-1,1v1l-1,1l2,2v1l-1,1h-1v1l-1,1h1l1,1v-1l1,-1h3l-1,-1v-2l1,-1v-2l-1,-1ZM741,686l1,-1l1,1l-1,1ZM634,685h0M789,683l2,2l1,-1h1h-2l-1,-1ZM594,682l1,1v-1ZM1222,681h0M1224,680v1M1171,680h-2v3l-4,3l1,4l-3,3l-1,-1l-2,1l-2,-1l-2,3l5,4l6,-5l-2,-1l1,-2l2,-1l1,-5l3,-2ZM780,679h0M773,678v1l-1,1l1,-1ZM1222,676l1,1ZM1216,676l1,1l1,-1ZM1166,676h0M746,676h0M1231,675v1h1ZM1164,676l-1,-1l-2,2h1l1,-1ZM646,676l-1,-1l-1,1h-1l1,1h1ZM636,675l-1,1h-1h1ZM614,681l1,2h3l5,-2l2,2l-2,2v1l2,-1h3l1,-3l-4,1l-2,-2l2,-4h3l1,3l2,1v-1l-2,-2v-3l-2,1l-5,-1v2l-2,2l-1,-1l-1,1h-3ZM933,674h0M648,674h0M607,674h0M605,674l-3,3v1l-1,1v1h1l2,2v1l-1,1h1l1,1v-2l2,-2l1,1v1l-1,1h1l1,-1v-2l1,-1v-1h-1l-1,-1l-1,1h-2l-1,1h-1l-1,-1v-1l2,-2l1,1l1,-1h-1l-1,-1ZM589,673v1l1,1h1l1,-1v-1ZM987,672h1M819,674v4l2,-1l2,2l-1,2l-1,-1l1,1l-1,4l-3,2l-4,-3l-3,4h-2l-3,3l2,6l-1,4l3,3l7,2l1,2l3,2l-1,2l1,3l-2,1l1,2l2,1h6l2,2h4l1,-3l3,-3l6,-2l2,1l1,2l-1,1l-3,-1l-1,3l3,1v-2l3,-2l2,-3l-1,-1l2,-2l-1,-3l2,-2l-3,1l-2,-2h-4l-1,-1l-4,1l-1,-1l1,-3l-1,-3l-1,1l-2,-1l-5,1l-4,-3v-3l1,-1l2,1v-2l-2,-1v-2l3,-5l12,2l3,-1l-2,-1v-3l-5,-3l1,2l-2,2l-3,-2l-2,1l-3,-7h-1l-1,2l-2,-1l-1,3l-2,-2ZM817,706l1,-1l1,1l-1,1ZM825,680l1,-1h2l1,1v1l-1,1h-1ZM633,672h0M617,672h-2l-1,1h-2l1,1v1h2v-1l1,-1h1ZM1238,672l-1,-1v1l-1,1h1ZM833,671v1h1v-1ZM1163,670h0M950,671l-1,-1l-1,1ZM883,670h0M714,670l-1,1v1l1,-1l1,1v1h1v-2l-1,-1ZM593,669l1,1v1l1,-1l-1,-1ZM883,672h-4l1,3l-2,2l-4,-3v-2l3,-2l-1,1l-1,-2h-3l-1,-1l-1,1h-3l-1,2h-5l-1,3l-1,-1l-2,1l-1,-1v-4l-1,1l-1,-1h-4l-2,3h-4l3,2l-2,2l1,3l-2,1h5l3,2l-1,2l-3,-1l-1,2l7,6l1,2l-1,2l2,-5h4l4,2l1,2l5,1l-3,-1v-3l2,-2h4l4,-2l1,-3l2,1l1,-1l-1,-5l2,-1ZM868,688l1,-1l1,1l-1,1ZM846,675l1,-1l1,1l-1,1ZM847,674l1,-1l1,1l-1,1ZM712,668h0M1044,667l-1,1h1ZM713,686l-2,-3l1,-1l-1,-3l-2,1h-4l-1,-1l2,-2h2v-2l-2,-1l4,-2l-1,-1l1,-1h-2l-3,-2l-1,-2h-1v4l2,1l1,3l-1,1h-2l-1,-2h-3l-1,2l-9,1l-1,1l-3,-4v-3v4l-1,1l2,2l-1,4l-1,1h-3l-1,-1v2l2,1l3,-1l3,-5h4l3,5v3l2,-2l-2,-3v-4l4,-2l4,3v5l1,-1l2,2l-1,2l2,-3h1l2,3ZM613,666h0M615,665h0M778,664l-1,1v1h1ZM641,664v1l-2,2h1l1,1v1l2,2v2v-1l1,-1l1,1l1,-1l-1,-1h-1l-3,-3l1,-1h1l1,-1v-1l-1,1l-1,-1ZM751,663h1M645,662h0M640,662h0M764,661l-3,2v2l-2,1l1,1l-3,2l-3,-1v3l-2,4l1,3l-3,2l2,4h2l4,-4l4,2l-1,6l1,2h3l1,1l-2,7l5,1l2,-4l-2,-1l-1,-3l1,-1l-6,-1l-1,-3l1,-2l2,-1v-2l2,-2l2,1l3,-4l2,-1l2,1l1,-1l1,2h1l-2,-2v-2l-3,-2v-5h-1l-3,-4h-5ZM616,667h1l2,-2h1l4,-4h3l2,2h1l2,2l2,-2l-1,-1v1l-1,1h-1l-1,-1v-1h-1l-1,-1h-5l-1,1v1l-1,1h-2l-1,-1h-1l1,1v1ZM712,666h1l2,-2h1v-1l1,-1l1,1l2,-2v-1h-2l-1,-1h-2l-1,1h-1l-1,-1v3l1,1v2ZM999,658h0M983,658v1l-2,2v1l1,1v1l1,1h1l1,-1l1,1v1h1l1,1v1l-1,1v1h1l1,-1v-3l-5,-5v-1l-1,-1ZM834,659h1l1,-1h-2ZM698,658h0M629,658v1h2l1,1h3h-1l-3,-3h-1ZM594,656l2,6l4,4l2,4l1,-1l6,2v-5l-4,1l-1,-2l2,3l-2,2l-1,-2l-3,-2l1,-1v-3l1,-1l1,2v-2l2,-1l1,-2l-1,-2l-1,3h-2l-3,2h-2ZM599,662l1,-1l1,1l-1,1ZM642,654v1l2,2l1,-1v-1l-1,1h-1l-1,-1ZM748,653h1l1,1l-1,-1ZM886,653v1h2l1,-1h1l1,1v1l-1,1h1v-1l1,-1h-1l-2,-2h-2ZM887,653l1,-1l1,1l-1,1ZM717,652l-2,2h-2l-1,-1v1h4l1,1ZM609,652l-1,1l1,1h1v-2ZM641,650v1M1001,649l-1,1l-1,-1h-1v3l-2,2v1l-1,1h-1v1h2l1,-1h2l1,-1l-1,-1v-2l1,-1v-1ZM628,649l-1,1v2l2,2v-4ZM1026,648h0M841,648h0M703,648h0M1226,646l-1,1h1ZM978,648v4l1,-1h1l1,1h2l1,-1h1l1,-1h-2l-1,-1v-1l1,-1h-4l-1,-1v1ZM980,650l1,-1l1,1l-1,1ZM1174,645h1M976,645v1M851,645v1l-1,1l1,1h1l2,2v2l1,1h2l1,-1v-3l-2,-2h-2l-1,-1v-1ZM856,652l1,-1l1,1l-1,1ZM853,649l1,-1l1,1l-1,1ZM973,643h1M1276,642h1M1186,642v1h1v-1ZM1236,641h0M1222,641h-1v1l-1,1h1l1,-1ZM1126,641h-1v3l2,-2ZM615,638v2l1,-1ZM1216,637h-2l1,1v2l2,-2ZM989,636h1M973,636l-1,1h-1v1h1v-1ZM1113,636l1,1h1l1,1h1l1,-1v-2h-4ZM1232,633l-1,1l1,1v3h4l1,-1l-2,-2h-2l-1,-1ZM582,632h0M1299,629v1l1,1h1l1,-1l-1,-1ZM1235,627v1M593,626h-1l-1,1v1l1,1l1,-1h1l-1,-1ZM1235,624h-1l-1,1h-1h3ZM546,624h0M540,623h0M1238,622v1l-1,1l1,-1ZM1228,621v1M1263,620h0M527,621h3h-1l-1,-1l1,-1h-1v1ZM1269,627h-3l1,2l-2,2h-3l-1,-3l1,-1l2,1l-2,-6h-2v2l-2,1l-3,-2l-2,-5v1l-4,3l-1,-2l-4,2l-3,7l-2,2v2l3,2l1,2l4,2v4l-1,1h-3l-1,-1h-5l-2,1l-2,-2h-3h1l3,4l-1,1l1,5l-1,1l-3,-1l-1,3l-2,-1v-2l-2,3v3l-3,1l-1,2l-3,-1v-2l-2,-2l1,-2l-3,-2v-2l5,-2l1,-2l-6,2l-2,-1l-1,2l-2,-1l-1,1l-2,-4l1,-4l-4,-6h-2l-2,5l1,3l-1,6l-1,1l-2,-1l2,1v2l-2,2h-3l-3,-2h-2l-1,-1l3,-2v-4h-4l-2,1h2l2,3l-3,1l3,2l-1,1h-4l-1,-1l1,-3h-4l-1,-1l-1,2l1,1v3l-2,2h-1l-2,-3h-1l-1,2l-1,-1l-11,9v3l5,-1l3,5l-2,1l3,-1l3,1l3,3v2l3,3l-2,2l3,3v2l-2,3l4,3v3h4v-3l-1,-1v-3l2,-2l-1,-1l1,-1h5l1,-11l3,-2h3l1,1l-1,4l2,-2l2,1l-4,3v2l6,3l2,-1l4,2h3v-2l2,-2l1,1l-2,-2v-5l-3,-2v-3l2,-2h4l1,1l-1,3l2,-1l-1,-2l1,-1h5l2,-3h5l3,-4l3,4l3,-1l2,4h1v-3l2,-2l7,6l4,-4l2,1l1,-1v-3l2,-1l1,-2l1,1v3h1l3,-3h2l1,-3l1,1l4,-1l1,-2l-1,-2v-5l1,-1l-1,-5l-3,2l-3,-1l-2,-4l1,-3h3l-3,-4v-3ZM1179,689l1,-1l1,1l-1,1ZM1198,678l1,-1l1,1l-1,1ZM1204,677l1,-1l1,1v1l-1,1l-1,-1ZM1207,666v-2l1,-1h1l1,1v1l-2,2ZM1223,660l1,-1l1,1l-1,1ZM1206,658l2,-2l2,2l-1,1h-2ZM1207,655l1,-1l1,1l-1,1ZM1206,651l1,-1h1l1,1h1l1,1v1l-1,1h-2l-2,-2ZM1262,650l1,-1h1l1,1l-1,1h-1ZM1201,650l1,-1h1l1,1v1l-1,1h-1l-1,-1ZM1265,646l1,-1l1,1l-1,1ZM1266,645l1,-1h1l1,1l-1,1h-1ZM1234,645l1,-1l1,1l-1,1ZM1203,645l1,-1l1,1l-1,1ZM1252,642l1,1v1l-2,2l-1,-1v-1ZM1199,641l1,-1l1,1l-1,1ZM1247,642v-2l1,-1h1l1,1v1l-2,2ZM1264,640v-1l1,-1h1l1,1l-2,2ZM1261,638l1,-1h1l1,1l-1,1h-1ZM1255,635l-2,2h-1l-1,1h-1l-1,-1l3,-3h2ZM1264,632l1,1v3l-1,1h-1l-1,-1v-2ZM1257,633l1,-1h1l1,1l-1,1h-1ZM1253,629l1,-1h1l1,1l-1,1h-1ZM1250,628l1,-1h1l1,1l-1,1h-1ZM842,618h0M958,617v1M844,617v1h2v-1ZM1086,616h-1v1ZM529,616v1h1ZM527,616v1M1119,616l-1,-1l-1,1h-1v1h2ZM983,615l-1,1l3,3l1,-1l-1,-1v-1h-1ZM561,615h0M1089,614l1,1ZM964,614v1h2l-1,-1ZM840,614h0M598,614l-1,1l1,1ZM837,613h-1l-3,4l-3,-4l-2,3h-1l-1,-2h-3l-1,-1l-4,1l-1,4l1,2h2l2,2l-2,3v5l-1,1l2,1l-2,2v2l-2,2l-1,4l-3,2v3l1,1l-4,2l-1,2h-2l-6,4v2l-2,2h-2l-1,2h-3l-1,-3l-3,3l-2,-2h-3l1,2l-2,1l2,1l-1,1l2,3l-2,4h2l2,2l-1,3h6l3,2l1,3l3,-2l-4,-5l2,-4l3,2h4l3,6l-1,2l1,2h1v-2l3,-5l3,1l1,-3h-3l-1,-2h-1l1,3l-1,1h-3l-1,-1l1,-3l-1,-2l2,-2h3v-2l2,-2l5,1l2,-2l1,1l2,-2v-2l3,-2l1,-6l3,-2l3,-5l-1,-7l1,-1l3,5l1,-3l-3,-2l2,-3l-1,-2l-3,-2l-1,-6l-3,-2l1,-1h3l3,6l5,1l-2,-3l-3,-1l1,-1v-3l3,-1l-1,-2l-2,1l-1,-1v-3ZM796,677l1,-1l1,1l-1,1ZM804,661l1,-1l1,1l-1,1ZM587,613v2h3v-1l-1,1ZM478,613h3M488,612v1h1l1,1v1h1v-1l1,-1h1l-1,-1l-1,1h-1l-1,-1ZM486,612h-2v2ZM956,611l-1,1ZM941,611h0M573,611h-5l-2,2l1,1v1l-1,1v1l-1,1l1,1v1l-2,2v1l-1,1h1l1,-1h1l2,-2h2l-3,-3l1,-1v-1l-1,-1l2,-2v-1l1,-1ZM966,608v1l1,1v1l1,-1h-1l-1,-1ZM850,608v1h2v-1ZM1082,610l1,-1h1l1,-1l-1,-1h-2ZM1283,609l-1,5l4,3l-1,1l4,1l4,6h7l-1,-2l1,-1l-2,-2l2,-2l2,2h3l1,-1l2,2l2,-2h2l6,3l-1,-5l-2,-2l-1,1l-3,-1l2,-1l-1,-2h-5v1l2,-1l3,2l-2,2l-6,2l-2,-2l1,-5l-2,-3h-1l-3,4h-1l-3,-4l1,3l-1,1l-2,-1l-2,-3l-3,-1l1,-1h-2l-1,1l1,1ZM1286,617l1,-1l1,1l-1,1ZM1287,616l1,-1l1,1l-1,1ZM1289,614l1,-1h6l2,2l-2,2l-1,-1h-4ZM1300,611l1,-1l1,1l-1,1ZM1002,606h0M965,604h0M500,604h-1v2l-1,1v1l-1,1v1l-1,1v5h1v-1l-1,-1l2,-2v-2l1,-1v-4ZM485,604h-1l-1,1h-1l-2,2v1l1,1h1l2,-2h2v-1l-1,-1ZM462,604v1M962,603l-1,1v2l1,-1ZM848,618v2l4,2l-2,2l1,1l2,-2l-1,-2l2,-4h4l2,2l-3,4l2,1l1,3l2,-1l6,1l6,-2l2,5l6,-1l2,2l-2,2l-1,4l2,1l3,4h3l1,1l6,-1l1,1l-1,3h3v-1l3,-2l5,4l-1,1l1,-1l2,2v2h3l2,1l1,2l12,1l2,2v2l-4,2l-1,-2l-1,1l2,2l-2,1v1l8,4l-1,-1l3,-4l1,2l2,1l1,-1l1,1l-1,3l1,1l-2,1l3,1l1,-2l1,1l2,-1l1,-2l-1,-2l1,-1l3,1l-1,2l6,-2l3,2l-1,-2l1,-1h3l2,-3l4,-1l1,-3l-2,-3l3,-2l3,-4l2,1v-1l2,-1l1,2l-1,-2l1,-2l-3,-1l-2,-3v-2l-2,1l-2,-2v-2l-3,-1l1,-3l-3,-1l1,-1l-2,-3l1,-3l-4,2h-5l-2,2h-4l-1,-1l4,-3v-2l2,-2h2l-1,-4h-1v4l-1,1l-4,-2l2,5l-2,2h-3l-3,-5l1,-2l1,1l2,-3l-1,-1l-1,2h-2l-2,2l-1,-1v-4h-2l2,3l-2,2l1,3l-2,1l-2,-2l1,-6l-2,-3h-2l-6,3l-6,-1l-1,-2h-4v1l-2,1l2,1l-2,4h-1l-1,-2l-1,1h-5l-3,-3l-3,2l-2,-1v1l2,1l-3,3v4l-2,1l-3,-5l-6,-1l-2,-3l1,-1h4l1,1l2,-1l1,2h2l1,-5l-3,3h-2l-3,-2l-4,1l1,1l-2,2l1,2l-3,1l-2,-5l2,-3l5,-1l1,-3h-4l-6,4l-2,-2h-2l-1,-3l-2,1l-1,-3l-7,-5v1l-2,1h3l1,2l3,2l-3,3l-3,-1l-3,4l1,1l-2,3h-1l-1,-2ZM938,668l1,-1l1,1l-1,1ZM942,665l1,-1l1,1l-1,1ZM935,658l1,-1h1l1,1l-1,1h-1ZM931,656l1,-1h1l2,2l-1,1h-2l-1,-1ZM924,651l1,-1l1,1l-1,1ZM928,649h1l1,1v2l-1,1l-1,-1h-1l-1,-1ZM932,645l1,-1l1,1v1l-1,1l-1,-1ZM962,643l1,-1l1,1l-1,1ZM935,641h2l1,1v2l-2,2h-1l-1,-1v-1l-1,-1ZM937,636l1,1v1l1,1v1l-1,1h-1l-1,-1l-1,1l-2,-2l1,-1h1ZM936,630l1,-1v-1l1,-1h1l1,1v1l-2,2h-1ZM931,627l1,-1l1,1l-1,1ZM893,623l1,-1h1l1,1l-1,1h-1ZM1283,602v1M967,602h0M473,602l-1,1h-1v1l1,1v1l-1,1l1,1v1l-1,1h1l1,-1l1,1v1h2l1,-1v-1l1,-1v-2l-1,-1v-1v1l-1,1h-2l-1,-1l1,-1v-1ZM1332,601h0M1062,601v2l-1,1v3h1l1,-1v-3l-1,-1ZM1053,601h0M1058,600h-1l-1,1l1,1l1,-1ZM964,600h0M951,605h2l1,-1v-1l1,-1h2l1,-1h2h-1l-1,-1h-4l-2,2h-1l1,1l-1,1ZM509,600l1,3l-2,2h1l1,2l4,1l2,3l5,4l2,3l-1,1h1l2,-4l-2,-6l-4,-1l-3,2l-1,-2l5,-4l6,4v-2h-4l-3,-3l-5,2l-1,-1l1,-2h-3ZM517,604l1,-1l1,1l-1,1ZM510,603l1,-1h1l1,1l-1,1h1l1,1v1l-1,1h-2l-1,-1ZM542,599v1l-2,1l1,1l-2,4l-2,-1l1,2l-3,2v2l-2,3l2,3l1,-2v-5l4,-3l3,1l1,3l-3,3l-1,3l4,-3l2,3l-1,1v3l1,-1l-1,-6l2,-2l1,1l2,-1l2,5l1,-4l-2,-2h-6l-3,-4l3,-3v-3ZM928,598v1M455,598v5h1l-1,-1ZM973,597h0M906,597v5l2,2v1h3l1,1v1l-1,1v1l1,-1l1,1l-1,-1v-1l1,-1h-1l-2,-2v-3h-1l-1,-1v-2l-1,-1ZM1330,596v1M1008,596v1l-1,1h-4l-1,1v1l-1,1v1l1,1l2,-2h1l2,-2h1ZM1320,595h0M534,595h0M968,594v1l1,1v2h1l-1,-1v-1l1,-1v-1ZM470,594v3l1,1h2v-1h-1l-2,-2ZM894,592h0M481,592l-1,1v1h2l1,1l-1,-1v-2ZM499,588h0M497,589l-2,-1l1,3l-1,1l-2,-1l-2,1l-2,-2l1,-2l-5,2l2,-1l1,2l-3,1v2l2,-1l1,1l-1,3h4l1,-2l6,-2l-2,-1ZM488,595l1,-1h1l1,1l-1,1h-1ZM490,594l1,-1l1,1l-1,1ZM491,593l1,-1h1l1,1l-1,1h-1ZM488,591l1,-1l1,1l-1,1ZM426,588v1l1,1h2v-2ZM511,587v1M895,585h-1l-1,-1h-1l-1,-1h-1l-1,1h-2v1l1,1h1l1,-1h2l1,1l-2,2h-1v1l-2,2l-1,-1h-2h2l1,1v1l1,-1v-1l1,-1h1l1,1v1v-3l1,-1h1v-1ZM505,583h-1l-2,2h-1v1l1,1l1,-1h1l1,-1ZM978,633l1,3l3,2v2h1v-3l4,-3l6,-1l1,1l-1,3l3,1l-1,2l2,1l1,-1l4,5l6,3h3l1,-1l1,1l1,-2l5,-1v-3l1,-1l1,1l3,-1l3,1l4,5l4,-1l1,1l-1,2l2,2h7l3,2l3,5l-3,5l1,2l-1,1l3,3v2l-3,2l2,2v2h2l2,3l-1,10l3,-2h2l2,3l-1,3l2,1l-1,-2l3,-2l1,-2h2l1,-2l4,1l3,3l1,-1l3,1v-3l-2,-5l2,-2h3l3,4h1l3,-6l3,2v3l-3,1v1h3l3,-3l1,1l2,-1l6,2l3,-1l4,3l1,-1l2,2h2l1,-2h4l2,2l3,-2h2l4,3l6,-1l2,2l-1,1h2l1,-2l2,2l-1,2l4,-4l-1,-2l1,-2h4l2,-2h2v-3l2,-2h2l-2,-4l3,-3l1,2h1l-3,-5l-1,1l-2,-1v-3l1,-1l-9,-5l-4,-4l-1,-3h-2l-2,3l-6,2l-2,-1v-3h-3l-1,-1l-4,1l-1,-3l1,-1l2,1l2,-1l2,-3l-1,1h-3l-1,-2l-3,-1l-2,-3l-2,1l1,1l-2,2l-1,-1v-3l-2,1l-2,-2l1,-1h-3l-3,3l-2,5l-4,3l-4,-3l1,-2h-1l-1,2l2,2l-5,2l-1,-2l-2,1l-4,-4h-2l-1,-1l4,-3v-3l-3,-2h-2l-1,3h-3l-2,-2l1,-2l-1,-4l2,-3l1,2l3,2l4,-2l2,-4l-1,-1l-3,1l-9,-8l1,-1l-1,-1l1,-3l3,-3l4,-1v-2l-2,1l-3,-1l-2,1l-6,-5l3,4l-1,3l2,1l-1,3l-3,1l-2,-2l2,-3l-3,-1l-1,1l2,1l-1,1l1,3l-2,1l-1,-2h-3l-1,5l-2,1l-2,-2l1,-5l-1,2l-2,-3l-1,2l-4,-1l-3,-2l-6,-7v-3l-1,-1l1,-2l1,1l3,-1l1,1l-1,2l3,2l-1,-3l3,-2l3,2l1,-2l-1,-1l1,-1l-1,1l-1,-1l-3,1l-2,-2l1,-3l-3,-2v-3l-2,-1l1,-2l-8,-4l-2,2l1,3l-2,1l1,2l-1,1v4l-4,2l-1,-1h-3l-1,-2l5,-4l2,1l-1,-4h-2l-2,-2l-2,2h-2v4l-2,2l-2,-2l-2,2l-1,4l2,3l-3,2l-1,-1l1,2l-3,5l-3,2l-1,-1l-2,1l1,2l-2,1v2l-2,2l-1,-1l-3,1l-4,-2l1,-2l-1,-2l-2,4l1,3l2,-1l2,3l-1,1l-3,-1l-4,3l-1,-1l-2,1l1,2l-1,1v3l-2,1v1l3,-2l3,1l-4,4ZM1065,685l1,-1l1,1l-1,1ZM1085,672h2l1,1v1l-1,1l1,1v1l-1,1v1l-1,1h-2l-2,-2v-1l-1,-1v-1l1,-1h2v-1ZM1120,666l1,-1l1,1l-1,1ZM1081,661l1,1h3l1,3l-4,5h-2l2,4l-2,4l-3,1l-1,-1l1,-3l-1,-2l1,-2l-2,-2l-1,-4l1,-1l3,1l1,-2l-1,-1ZM1109,650l1,-1l1,1v1l-1,1l-1,-1ZM1110,647l1,-1l1,1l-1,1ZM1039,645l1,-1l1,1l-1,1ZM1080,631l1,-1l1,1l-1,1ZM1038,631l1,-1l2,2l-1,1h-1l-1,-1ZM991,631l1,-1l1,1v1l-1,1l-1,-1ZM1071,630l1,-1l1,1v1l-1,1l-1,-1ZM1064,626l1,-1h3l1,-1h1l1,1v2l1,1l-2,2l-1,-1h-2ZM1005,625l2,-2l1,1h2l1,1l-1,1h-4ZM999,626v-1l1,-1v-1l1,-1h1l3,3l-1,1h-1l-1,1h-2ZM991,623v-1l2,-2h6l1,1v1l-1,1h-3v2l-2,2l-1,-1v-1ZM1061,618l1,-1l1,1l-1,1ZM1006,610l1,-1l1,1l-1,1ZM1014,600l1,-1l1,1v1l-1,1l-1,-1ZM460,579l3,6l1,-2l4,5l-2,3l-1,-2l-2,-1l3,5l3,-2l-1,-3l2,-2l6,5l-1,-4h-4l-1,-3l-5,-1l-3,-4ZM473,589l1,-1h1l1,1l-1,1h-1ZM520,576l3,4v2l-2,2h1l2,2l-1,1l2,1v2l2,3l-1,2l5,-3l3,-5l1,1v3l2,1l-1,2l1,1h4l1,2l3,2v-2l-3,-1v-1l4,-3v-4l-1,-1h-2l-2,3l-4,2l-1,-1v-5l-1,2l-1,-1v-3h-4l-3,4l-2,-2l1,-1l-1,-2l1,-3l-3,-1l-1,-3ZM536,593l1,-1l1,1l-1,1ZM539,592l1,-1l1,1v1l-1,1l-1,-1ZM530,585l2,2l-2,2h-1l-1,-1v-1ZM510,577l-1,-1l-1,1v1h1ZM495,575l1,1v2l1,1l1,-1h2h-2l-1,-1v-2ZM1041,573h0M537,568l-1,1h-2l-1,1l-1,-1l-1,1h-2l1,1l-1,1h1l1,1l1,-1h3l2,-2ZM531,570l1,-1l1,1v1l-1,1l-1,-1ZM508,567l-1,1h-1h1ZM519,563h0M516,562v2h1v-1ZM545,560h-1v2l1,-1ZM500,566h4l2,-2l1,1l1,-1l-1,-1h-1l-1,1l-1,-1v-1l-1,-1l1,-1h-2v1l-1,1l1,1v1l-1,1h-1ZM515,559h0M506,559h1M465,557l1,1v4l-1,1l2,1l1,4l-3,1l-1,2l2,1v-1l3,-2h3l1,-1l1,1l1,-1l3,1l1,-1l-3,-5l1,-5h-2l1,3l-1,2l2,3l-3,2h-4l-2,-2l1,-2l-1,-7ZM475,559l1,-1l1,1l-1,1ZM546,553l-1,1h-4l-1,1v1l1,1l-1,1h-5l-1,1h-1l-1,1v2l2,-2h1v-1l1,-1l1,1v1h1l1,1h1l1,1l1,-1h-1l-1,-1l1,-1v-2l1,-1l1,1v1l1,-1h1l1,1v-3l-1,-1ZM543,555l1,-1h1l1,1l-1,1h-1ZM531,551h-1l-1,1h-1l-3,3h-1v1l-1,1h1l1,1v2l1,1l-2,2v1l-2,2v1l1,1l1,-1v-2l1,-1h1v-1l-1,-1l2,-2h1l1,-1l-1,-1v-1l1,-1l-1,-1v-1l1,-1l1,1l1,-1ZM506,548l2,2v-1l-1,-1ZM501,548h1M536,547v1h1l2,2v2h1l1,-1v-1l2,-2h-1l-2,2h-1l-1,-1v-1h-1ZM464,547l1,3l3,3h3l3,-3l8,1l2,3l2,1l-1,1v7l4,3l-1,2l1,1l1,-1l1,1l2,-1l2,-4h3l1,-3l-1,1l-3,-1v-8l-1,-1l-3,1l-1,-2l-1,1l-2,-2l1,-3h-2l-1,2h-2l-1,-3l-3,1l-8,-1l1,2l-2,2l-3,-1l1,-3h-1l-1,2ZM491,564l1,-1h1l1,1l-1,1h-1ZM486,560l1,-1l1,1l-1,1ZM491,556v-2l1,-1h1l2,2l-2,2h-1ZM485,553l1,-1h1l1,1v1l-1,1ZM477,548l1,-1h2l1,1v1l-1,1h-2l-1,-1ZM606,542h0M618,527h-1l-1,-1v-2l-1,1h-1v2l-1,1l1,-1Z"/>
<path fill="#cdad00" stroke="#cdad00" stroke-width="1" stroke-linecap="square" fill-rule="evenodd" d="M759,746v1M766,741h1M770,740h0M754,739h0M851,736h0M781,736h0M760,736h0M743,737v1l3,3l2,-2l1,1v1l3,3h1l1,-1l1,1h1h-1l-1,-1v-1l-1,1l-1,-1v-1l-1,-1h-2l-1,-1h-2l-1,-1l1,-1h1h-2l-1,-1ZM744,739l1,-1l1,1l-1,1ZM847,735l1,1ZM763,735h0M765,734l1,1l-1,1v1l1,1l-1,-1v-1l1,-1ZM749,734h0M850,733h0M763,733h0M773,732h0M852,731l1,1v2h1l-1,-1v-2ZM770,732l-1,-1l-1,1ZM741,730h-1l-1,1h1ZM768,728v1h1ZM771,727h0M856,726l-1,1v3h3v-2l1,-1v-1ZM738,724v4l1,-1v-1l-1,-1ZM750,723h-1v4l-1,1v1l-1,1h-2h2l1,1h2v-1l1,-1v-1l-1,-1ZM867,716h0M776,720h-1l-1,-1v-2l-1,-1l-1,1l-1,-1l-1,1v2l-2,2l-2,-2v-2v2l-1,1v3h4l1,1v-3l1,-1h3l1,1ZM772,719l1,-1l1,1l-1,1ZM785,715l-1,1h-2l1,1v2l-1,1v2l-1,1v1l1,-1v-1l3,-3v-1l-1,-1l1,-1ZM741,713h-3l-1,1v6l-1,1h1v-5l1,-1h4v-1ZM760,712h-1l-2,2v1l-2,2v1l-1,1v3h2l3,-3v-1l-1,-1v-2l1,-1v-1ZM748,711h0M772,706l1,1l-1,1l1,1l1,-1l1,1h1l1,1h1v-1h-2l-1,-1l2,-2h1l1,-1l-1,1l-1,-1h-1l-1,1ZM741,704l1,1v1h1v-1l-1,-1ZM1110,703v1M1219,700h1M740,699v3h1v-1l-1,-1ZM1219,697v1M626,697h-1l-1,1h-1h1l1,-1ZM726,696l1,1v2h1v-1ZM1165,694l-1,1h1ZM1160,694h-1l-1,1l1,1v-1ZM1181,692v2h2v-1l-1,-1ZM632,690l1,4l3,2l1,2l6,-1l-2,-3v-3h-2l-3,2l-1,-2ZM611,690l-1,1h-1l-1,1h2l1,-1ZM1143,689v1M1076,689h1M1053,689h0M1073,688v2M1024,688h1M727,688h0M631,686h-1l-1,2l-3,-1v3l-2,2l-1,-2h-1l-1,3l-5,3l-1,-2l-1,1l-3,-1l-1,2l2,1l3,-2l2,3l1,-3l2,3v-3l1,-1l1,1h3v-2l2,-2l2,1ZM613,686h0M609,686h1M603,686l1,1v2h2v-1l-1,-1h-1ZM1168,685l-1,1v2l1,-1ZM762,685v1l-1,1v1l1,1v1h3l1,1v2l-1,1v3l-1,1h3l1,1h1v-1l1,-1v-1l1,-1h-1l-1,-1v-2l-1,-1l1,-1h-4l-1,-1h-1l-1,-1v-2l1,-1ZM743,685h-2l-1,1v1l-1,1l2,2v1l-1,1h-1v1l-1,1h1l1,1v-1l1,-1h3l-1,-1v-2l1,-1v-2l-1,-1ZM741,686l1,-1l1,1l-1,1ZM634,685h0M1210,684h1M594,682l1,1v-1ZM1169,681v2h2v-2ZM807,691v3l2,2v4l2,2l-1,1l5,-1l1,3l2,-1l2,4l4,2v1l-2,1l1,6l9,1l6,-5l4,-1l1,-2l2,2l2,-1l1,2l1,-3l-1,-1l2,-4l-3,-2h-4l-1,-1l-4,1l-1,-1l1,-3l-1,-1h-3l-4,2l-1,-2l-5,-4l1,-9l1,-1l-2,-4l-2,2l1,2l-2,1l-3,4l-1,-3l-3,-2l-1,1l1,1l-3,3l-2,-1ZM823,712l1,-1h1l1,1h1l1,1l-2,2ZM846,706l1,1v1l1,1v1l-1,1l-1,-1h-1l-1,-1v-1ZM846,706l1,-1l1,1l-1,1ZM832,704l1,-1h1l1,1l-1,1h-1ZM816,702l1,-1l1,1v1l-1,1l-1,-1ZM816,694l1,1v2l-1,1h-1l-1,1h-1l-1,-1v-1l1,-1h1ZM818,692l1,-1l1,1l-1,1ZM1082,680v1l1,1h1v-1h-1ZM1078,680h0M797,679h0M840,679l-1,-1l-1,1v1l-1,1h-4l-1,-1h-1v1l1,1l1,-1h1l1,1h3l1,-1h1ZM823,677h0M808,677v2h2v-2ZM826,676v1l1,1h1v-1h-1ZM881,675h0M819,675l1,1h1v-1ZM813,675v1h2v-1ZM646,676l-1,-1l-1,1h-1l1,1h1ZM636,675l-1,1h-1h1ZM614,681l1,2h3l5,-2l2,2l-2,2v1l2,-1h3l1,-3l-4,1l-2,-2l2,-4h3l1,3l2,1v-1l-2,-2v-3l-2,1l-5,-1v2l-2,2l-1,-1l-1,1h-3ZM648,674h0M607,674h0M605,674l-3,3v1l-1,1v1h1l2,2v1l-1,1h1l1,1v-2l2,-2l1,1v1l-1,1h1l1,-1v-2l1,-1v-1h-1l-1,-1l-1,1h-2l-1,1h-1l-1,-1v-1l2,-2l1,1l1,-1h-1l-1,-1ZM828,673v1M589,673v1l1,1h1l1,-1v-1ZM633,672h0M617,672h-2l-1,1h-2l1,1v1h2v-1l1,-1h1ZM714,670l-1,1v1l1,-1l1,1v1h1v-2l-1,-1ZM680,681v2l2,1l3,-1l3,-5h4l3,5v3l2,-2l-2,-3v-4l4,-2l4,3v5l1,-1l2,2l-1,2l2,-3h1l2,3h3l-2,-3l1,-1l-1,-3l-2,1h-4l-1,-1l2,-2h2v-2h-5l-1,-2h-3l-1,2l-9,1l-1,1l-3,-4v-3v4l-1,1l2,2l-1,4l-1,1h-3ZM846,676l1,3h2l3,2v3l-2,2l-2,-1v1l4,1l2,4l4,-4l4,2l1,2l3,2l1,-3l-2,-2l4,-4l2,2l-1,2h3l1,-1l-1,-1l1,-3h4l1,1l-2,-3l1,-2l-5,-4l-4,1l-1,-2l2,-1l-1,-1l1,-1l4,1v-1l-3,-2h-3l-1,2l-3,2l-1,-1l1,1l-2,2h-3l-1,2l-1,-2l-3,-1l1,-3h-1l-1,-2l-2,4v3l-1,1l-1,-1ZM861,678l1,-1l1,1l-1,1ZM850,669l-1,1v1l-1,1h-1h2v-2ZM593,669l1,1v1l1,-1l-1,-1ZM989,668h0M941,668v1M712,668h0M704,668l1,1v1l1,1v1l1,1h1l1,-1h1l-1,-1h-2l-1,-1v-1h-1ZM613,666h0M1241,665h0M1160,665h0M615,665h0M925,664v1h1ZM641,664v1l-2,2h1l1,1v1l2,2v2v-1l1,-1l1,1l1,-1l-1,-1h-1l-3,-3l1,-1h1l1,-1v-1l-1,1l-1,-1ZM983,663v1M773,667l-3,-3h-2l-1,-2h-3l-3,2v3l-4,3l-2,-2v9l-2,2v3l1,1l2,-3h5l1,2l2,1v-2l3,-3l3,1v-2l4,-3l2,1l-3,-4l1,-1l-2,-2ZM770,667l1,-1l1,1l-1,1ZM645,662h0M640,662h0M616,667h1l2,-2h1l4,-4h3l2,2h1l2,2l2,-2l-1,-1v1l-1,1h-1l-1,-1v-1h-1l-1,-1h-5l-1,1v1l-1,1h-2l-1,-1h-1l1,1v1ZM712,666h1l2,-2h1v-1l1,-1l1,1l2,-2v-1h-2l-1,-1h-2l-1,1h-1l-1,-1v3l1,1v2ZM629,658v1h2l1,1h3h-1l-3,-3h-1ZM594,656l2,6l4,4l2,4l1,-1l6,2v-5l-4,1l-1,-2l2,3l-2,2l-1,-2l-3,-2l1,-1v-3l1,-1l1,2v-2l2,-1l1,-2l-1,-2l-1,3h-2l-3,2h-2ZM599,662l1,-1l1,1l-1,1ZM997,654v1h1v-1ZM642,654v1l2,2l1,-1v-1l-1,1h-1l-1,-1ZM717,652l-2,2h-2l-1,-1v1h4l1,1ZM609,652l-1,1l1,1h1v-2ZM641,650v1M1212,649h1M857,649h-1l-2,2l1,1l2,-2ZM855,650l1,-1l1,1l-1,1ZM628,649l-1,1v2l2,2v-4ZM1215,648h1M1200,648h0M980,648v1M703,648h0M1213,680l-4,-8v-3l1,-1h-2l-3,-2l3,-6l-4,-3v-1l2,-1l-1,-3l1,-5l-2,1l1,3l-2,2h-5l-3,3l-3,-2h-2l1,3l-2,1l-2,-3l-4,-1l-2,-2v-2l-2,-1l-1,2l2,2l-3,4l1,1l-2,2l-1,-2l-3,-2h-2l-4,5l-2,-1l-3,2l7,5l1,2h2l1,2l1,-1l2,2v4l2,1l1,7l1,2l2,1l3,-1l2,-3l2,1l1,-1v-3l-1,-1l2,-3v-4l4,-2l7,1l1,1l-1,5l-2,3l2,1l4,-7l4,2l-1,1v2l2,1l-1,2ZM1186,676l1,-1l1,1l-1,1ZM1192,670l1,-1l1,1l-1,1ZM1202,668l1,-1l1,1v1l-1,1l-1,-1ZM1174,667l1,-1l1,1l-1,1ZM1204,663l1,-1l1,1v1l-1,1l-1,-1ZM1173,660l1,-1h1l1,1l-1,1h-1ZM1189,646h-2l1,1v1l1,-1ZM898,645h0M1104,644v1l-1,1v1l-1,1h2l1,-1h1l-1,-1v-1ZM1263,641l2,2h1v-1h-2ZM1261,640h0M1105,642l1,1h1l1,-1l2,2l-1,1h2l1,-1h-2l-1,-1v-1h-2l-1,-1l1,-1ZM836,640h1M1250,639h0M885,638h0M615,638v2l1,-1ZM1202,636v2l1,1l-1,1v2l1,1l-1,1v1l2,-2h1l1,-1h-1l-1,-1v-3ZM1233,635l2,2v-1h-1ZM1117,637v-2l-1,1h-1l1,1ZM1066,635h0M982,634l-1,1h-1l2,2ZM1266,632h1M582,632h0M988,631h-2v1l-1,1h-1v1h2l1,-1h1ZM1083,630h0M593,626h-1l-1,1v1l1,1l1,-1h1l-1,-1ZM1073,625v1h4l2,2v1h1l1,-1h-1l-1,-1v-1h-2l-1,-1ZM546,624h0M835,623h0M540,623h0M1274,642l-3,2l-2,-1v1l1,-1l1,1v2l-5,3l-3,-2v-3l-3,2l-1,-1l1,-3l-3,-4l2,-2h2v-1h-3l-3,-2l3,-2h3l-1,-1l1,-4l-1,-1l-3,2l-5,-6l-1,2h-7l1,1l-1,3l-2,1v2l-2,1v2l5,4l1,-1l2,1l4,-5l-3,-5l1,-1h4l3,2l-1,1l1,2l-2,1l1,4l-2,1l-2,3l2,3v2l-4,3l-2,-5l-2,3l-4,-2h-5l1,4l-3,1l-1,3l1,1l-1,1l-3,-1v3l-3,5l-2,-2l1,-1v-3h-1l-1,3l1,2l-2,2h-2l-1,2l-6,-4l1,-1v-3l-3,-2l1,-1l-2,-1l-2,3l1,2v9l5,-2l5,1l4,-2h4l1,-2l3,-2l3,3l10,-1l1,2h2l2,2v2h1l3,-3l1,1l1,-1l1,-4l3,-4h1l2,3l-2,2l1,1l4,-3v-3l1,-1l1,1h3l2,-3l-2,-4l3,-4ZM1214,661l1,-1l1,1l-1,1ZM1242,661v-1l1,-1h1l1,1l-2,2ZM1236,651l1,-1h2l1,1h1l2,2l-2,2l-1,-1l-1,1h-2l-1,-1ZM1242,650l1,-1l1,1l-1,1ZM1261,650l2,-2h1l2,2v1l-1,1h-2ZM1259,649l1,-1h1l1,1l-1,1h-1ZM1255,639l1,-1l1,1l-1,1ZM989,621h-1l-1,1h-2l-1,1l1,1v1l-1,1v1h1l1,1h4l-1,-1v-2l1,-1l-1,-1ZM527,621h3h-1l-1,-1l1,-1h-1v1ZM834,618v2h2l1,-1v-1ZM883,617h0M1317,621v-4h-1l-1,-1l-1,1h-1l-1,1l-1,-1h-3l-1,1v1h2l1,-1h1l1,1h1l1,-1h1l2,2ZM529,616v1h1ZM527,616v1M877,627l2,1l3,-1l3,3v2l-2,1l-1,2l2,1l2,-2l3,2v1l-4,3l2,2l2,-1l1,2l9,-2l2,2l5,1l4,4l-1,1l2,2h4l1,2l5,1l-1,-1l1,-1h2l1,2h3l-3,-1l-1,-2l-2,-1l2,-3l1,2l2,1l3,-2l2,2v4l3,1l3,-1l2,4l-1,2l2,1l-2,1l-1,2l-2,-2l1,-1l-2,1l-1,-3h-3l-1,3l-2,1l2,3l2,-1l1,-3l3,2h4l2,-3h2l2,3h2l1,2l2,1l5,-3h3l1,-2l4,-1l1,-4l-2,-2v-3l3,-1l3,-4h4l-2,-1l-3,1l-2,-2l1,-3l-3,-1l1,-1v-3l-1,1l-2,-2v-2l-7,-5h-4v1l3,1l-2,2h-2l-2,-3l-6,-1l-2,5l-1,-2h-2l-1,-1l1,-3l3,-2l1,1v-3l-2,-2h-2l-1,2v5l-3,1l-1,-2h-1l-1,3l-1,-1v-3l3,-3l-2,-1v-3l1,-1l-1,-3l1,-1l-1,1h-4l-6,3l-5,-3l-2,1v2l-3,3l-2,-1l-1,1l-6,-1l-2,-3v2l-2,1l1,2l-1,2l-2,1l1,2l-2,1l-1,-2l1,2l-2,1l-5,-6l-1,3l-2,-3l-3,-2l-2,1ZM929,664l1,-1l1,1l-1,1ZM941,659l1,-1h1l1,1v1l-1,1ZM939,658l1,-1l1,1v1l-1,1l-1,-1ZM940,654l1,-1l1,1v1l-1,1l-1,-1ZM956,653l1,-1l1,1v1l-1,1l-1,-1ZM958,652l1,-1h1l1,1l-1,1h-1ZM934,649h2l2,2l-1,1h-1v2l-1,1h-1l-1,-1v-1l-1,-1l1,-1v-1ZM958,649l1,-1l1,1l-1,1ZM942,648h2l2,2l-2,2l1,1v2l-1,1l-1,-1v-1l-3,-3l1,-1v-1ZM938,649l1,-1h1l1,1l-1,1h-1ZM957,648l1,-1l1,1l-1,1ZM918,648l1,-1h1l1,1v1l-1,1ZM964,642l1,1v1l-1,1v2l-2,2l-1,-1v-5l1,-1ZM934,633l3,1l-2,3v-1l2,-1l3,5l-3,8l-1,1l-2,-1l-3,1l-1,-2l3,-5l-1,-6ZM898,629l1,-1l1,1l-1,1ZM885,628l1,-1h1l1,1v2l-1,1l-2,-2ZM882,626l1,-1l1,1v1l-1,1l-1,-1ZM880,624l1,-1l1,1v1l-1,1l-1,-1ZM898,622l2,2v2l-3,3h-1l-1,-1l1,-1v-3ZM919,619l1,-1l1,1l-1,1ZM831,616l-3,2l-5,-3h-4l-2,3l1,2l2,-1l3,3v3l-2,1l4,3l-1,2l-1,-1v2l-2,2v1l2,1l-1,1h-3l-1,4l-5,4l1,3l-2,1l-3,4l-2,-1l-5,4v3l-3,1v4l-2,1l-1,-2l-5,-2l-2,3l-3,-1l2,3l-1,1l1,2l-3,2l2,-1l1,1l1,-1l1,1v3l-1,1l1,-1l1,2h1v-1l4,-2l3,-4h1l2,3l2,-1l2,3l2,-7l4,-3l8,-1l3,-2l3,-4l2,-6l5,-7l-2,-4l1,-2l-2,-1l5,-2l1,-2h-1l-4,-5v-4l-3,-1v-2l2,-1v-3ZM805,667l1,1v1l-1,1h-1l-1,-1ZM805,666l1,-1l1,1l-1,1ZM806,659l1,1v3l-1,1h-2l-1,1v1l-1,1l-2,-2v-1l1,-1h1l1,-1v-2l1,-1ZM802,657l1,-1l1,1l-1,1ZM810,652l2,2l-1,1h-1v3l-2,2h-1l-1,-1v-2l-1,-1l2,-2h1ZM561,615h0M598,614l-1,1l1,1ZM1300,613l-2,1l1,1l-2,3h-2l-1,-2h-1l-2,4l2,4h5v-1l-3,-2l5,-4l3,2l-2,-2l1,-1ZM1294,620l1,-1l1,1l-1,1ZM855,616h3l3,2l1,2l-4,2l2,3l3,-1l4,3l7,-5l-2,-7h-3l-2,-2l-1,2l-3,-2h-4ZM587,613v2h3v-1l-1,1ZM478,613h3M878,612l-2,2h-1h1l1,-1l1,1ZM488,612v1h1l1,1v1h1v-1l1,-1h1l-1,-1l-1,1h-1l-1,-1ZM486,612h-2v2ZM573,611h-5l-2,2l1,1v1l-1,1v1l-1,1l1,1v1l-2,2v1l-1,1h1l1,-1h1l2,-2h2l-3,-3l1,-1v-1l-1,-1l2,-2v-1l1,-1ZM863,610h0M1301,609h0M1285,609l-1,1v3l-1,1h1l1,1h2v-1l1,-1v-4ZM1079,609h0M1075,609v1M1072,610l-1,-1l-1,1ZM1285,607h0M861,607h0M952,604h1M500,604h-1v2l-1,1v1l-1,1v1l-1,1v5h1v-1l-1,-1l2,-2v-2l1,-1v-4ZM485,604h-1l-1,1h-1l-2,2v1l1,1h1l2,-2h2v-1l-1,-1ZM462,604v1M1043,602h0M473,602l-1,1h-1v1l1,1v1l-1,1l1,1v1l-1,1h1l1,-1l1,1v1h2l1,-1v-1l1,-1v-2l-1,-1v-1v1l-1,1h-2l-1,-1l1,-1v-1ZM1057,601h0M509,600l1,3l-2,2h1l1,2l4,1l2,3l5,4l2,3l-1,1h1l2,-4l-2,-6l-4,-1l-3,2l-1,-2l5,-4l6,4v-2h-4l-3,-3l-5,2l-1,-1l1,-2h-3ZM517,604l1,-1l1,1l-1,1ZM510,603l1,-1h1l1,1l-1,1h1l1,1v1l-1,1h-2l-1,-1ZM1005,599h-1l-1,1h1ZM542,599v1l-2,1l1,1l-2,4l-2,-1l1,2l-3,2v2l-2,3l2,3l1,-2v-5l4,-3l3,1l1,3l-3,3l-1,3l4,-3l2,3l-1,1v3l1,-1l-1,-6l2,-2l1,1l2,-1l2,5l1,-4l-2,-2h-6l-3,-4l3,-3v-3ZM1047,598l-1,1ZM1039,598h0M455,598v5h1l-1,-1ZM534,595h0M470,594v3l1,1h2v-1h-1l-2,-2ZM481,592l-1,1v1h2l1,1l-1,-1v-2ZM1014,591v1M427,589h1M1024,590h-1l-1,-1v-1h-1l-2,2v1h4ZM499,588h0M497,589l-2,-1l1,3l-1,1l-2,-1l-2,1l-2,-2l1,-2l-5,2l2,-1l1,2l-3,1v2l2,-1l1,1l-1,3h4l1,-2l6,-2l-2,-1ZM488,595l1,-1h1l1,1l-1,1h-1ZM490,594l1,-1l1,1l-1,1ZM491,593l1,-1h1l1,1l-1,1h-1ZM488,591l1,-1l1,1l-1,1ZM511,587v1M894,585l-1,-1h-1l-1,-1l-1,1h-2v1h1l1,-1h3ZM505,583h-1l-2,2h-1v1l1,1l1,-1h1l1,-1ZM994,617l3,2h3l1,2l3,2l2,-1l4,1l3,-2l1,1v2l-2,1l1,1l-1,1h-5l-2,-1l-2,3l-1,-1h-3l-1,-1v-4h-1v3l-3,3l-1,-1l2,4l-1,1l1,1l-1,2l1,-1l2,1l1,3l2,1l1,2l1,-2l2,4h3l2,4l5,-4h4v-3l4,-2l1,1h4l3,4h5l1,-1l1,1v6l1,1l7,-1l1,2l5,4v4l-2,1l-1,2l1,2l-1,1l2,1v5l-1,1l5,6l1,-1l1,1v2l-2,1v5h3l2,2l2,-2h2v-2l2,-2h2l1,2l2,1h4l1,-3l-1,-6l1,-2l-2,-3l1,-1l2,1v-1l-2,-1l-3,-4l3,-3l3,-1l2,-3l3,2l3,-1l3,2l1,5l-1,1l-1,-1l-1,3h-4l-1,2l1,1l6,-1l2,3l-1,4l4,3h7l1,1l1,-1h3l1,2l3,1l1,-1l1,1h6l1,-1l3,2l6,-2l1,3l2,-2l1,1l1,-2l3,2v2l4,-1l2,2v-3l2,-2h5l4,-2v-2l3,-4l-1,-2l2,-2v-2l-4,-2l1,-1l-1,-2l2,-2l-9,-5h-4l-1,-2l2,-3h-3l-1,3l-7,2l-3,-1l-1,-3l-2,-1l-2,1h-4l-1,-1l1,-1l-3,1l-2,-6l2,-2l3,3l2,-2l-4,-3l-1,2l-4,3v4l-1,1l-4,-3l-3,2l-3,-2h-5l-2,2l-1,-1l-3,3h-1l-1,-2l-1,1v4l-2,2l-1,-1l-2,1l-1,-1l1,-1l-1,-3l1,-1h3l1,-3h-1l-2,-3h-2l-2,-3l3,-1l-1,-1l1,-2l-2,-1l-2,2h-5l-3,-3l3,-2v-2l-6,-5l-3,1l-2,-3l4,-3h3l4,-2l-1,-1l-2,1l-2,-2l3,-2l1,-3h-1l-1,2h-4l-2,3l-3,-1l-5,3l-1,-1l-4,3h-4l-1,-1l6,-3h-2l-1,-1l1,-1l-1,-2l-2,1l-1,-3l-6,-4l1,-1l-4,-3v-3l-1,-1h-3l-1,-1l2,-1l3,-4h3l1,-1l2,3v-4l1,-1h-1l-2,-3l-3,-1l2,-3l-6,-4l-2,1l1,1l-1,1l2,1l-1,1v6l-6,4l-4,-2l-2,2h-2l-4,-3l-1,1l1,4l5,3l1,2l3,2l-1,2l-4,-3l-4,1l-1,-1l2,-1v-1l-4,-2l-1,3l1,1l-2,1l-1,2l-2,-1v1l3,2l-4,4l-2,-1l1,-1v-2h-1l1,2l-4,2l-1,3l-3,-1ZM1132,682l1,-1l1,1l-1,1ZM1128,681l1,-1l1,1l-1,1ZM1059,680l3,3v3l-3,3l-1,-1v-1l-1,-1l1,-1v-2h-1l-1,1l-1,-1v-1l1,-1h2ZM1131,678l1,-1l1,1l-1,1ZM1061,675l2,2v1l1,1v1l-1,1l-1,-1h-1l-1,-1v-3ZM1061,672l1,-1h1l1,1v1l-1,1h-1l-1,-1ZM1141,670l1,-1l1,1l-1,1ZM1065,669l1,-1l1,1v1l-1,1l-1,-1ZM1141,667l1,-1h1l2,2h1l1,-1l2,2l-1,1h-1v1l-1,1h-1l-1,-1v-1l-1,-1h-1l-1,-1ZM1100,667l1,-1l1,1l-1,1ZM1140,665l1,-1l1,1v1l-1,1l-1,-1ZM1063,665l1,-1l1,1l-1,1ZM1112,663l1,-1l1,1l-1,1ZM1147,660l1,1v1l-1,1h-1l-1,1l-1,-1v-1l2,-2ZM1126,660l1,1v2l-1,1v1l-1,1v1l-1,1h-3l-2,-2v-1l1,-1v-1l1,-1l1,1v1ZM1099,659l1,-1l1,1l-1,1ZM1075,659l1,-1l1,1v1l-1,1l-1,-1ZM1089,659l1,-1h1l1,-1v-1l1,-1h1l3,3h1l1,1v2l-1,1h-1l-1,-1h-6l-1,-1ZM1083,652l1,-1l1,1l-1,1ZM1112,649l1,-1l1,1v1l-1,1l-1,-1ZM1038,644l1,-1h1l1,1v2l-1,1h-1l-1,-1ZM1078,641l1,-1l1,1l-1,1ZM1040,640l1,-1l2,2l-1,1h-1l-1,-1ZM1007,637l1,1v2l-1,1l-2,-2ZM1059,635l1,-1h1l1,1l-1,1h-1ZM1010,633l1,1v4l1,1v1l-1,1l-2,-2v-5ZM1010,633l1,-1l1,1l-1,1ZM1061,632l1,-1l4,2l2,-1l2,4l-2,2l-6,1l-1,-1l1,-2ZM1022,632l1,-1l1,1l-1,1ZM1009,632l1,-1l1,1l-1,1ZM1008,631l1,-1l1,1l-1,1ZM1054,630l1,-1l1,1v1l-1,1l-1,-1ZM1018,629l1,-1l1,1l-1,1ZM1038,627h1l1,1v1h1l1,-1l1,1v2l-1,1l-1,-1v2l-1,1l1,1v1l-1,1l-2,-2v-1h-1l-1,-1l1,-1l-2,-2l1,-1h1v-1ZM1040,627l1,-1l1,1v1l-1,1l-1,-1ZM1036,627l1,-1l1,1l-1,1ZM1017,626l1,1v2l-1,1h-1l-1,-1v1l-1,1h-1l-1,-1v-1l2,-2h2ZM1041,621l1,1l-1,1v1l-1,1h-2l-1,-1l3,-3ZM1037,620l1,-1l1,1l-1,1ZM1067,619l1,-1l1,1l-1,1ZM1028,617l3,-3l2,2v2h1l1,1l1,-1l1,1v2l-1,1h-2l-3,-3l-1,1h-1l-1,-1ZM1035,616v-2l1,-1h2l2,2l-1,1h-1l-1,1h-1ZM1003,614l1,-1l1,1l-1,1ZM1024,609h1l2,2l-1,1v1l-1,1l-2,-2v-2ZM1030,604l1,1l-1,1v1l1,1l-2,2l-2,-2l1,-1v-2l1,-1ZM1029,597l1,-1l1,1l-1,1ZM1034,596l1,-1l1,1l-1,1ZM1039,591l1,-1l1,1l-1,1ZM1035,588l1,-1l1,1l-1,1ZM1033,585l1,-1l1,1l-1,1ZM460,579l3,6l1,-2l4,5l-2,3l-1,-2l-2,-1l3,5l3,-2l-1,-3l2,-2l6,5l-1,-4h-4l-1,-3l-5,-1l-3,-4ZM473,589l1,-1h1l1,1l-1,1h-1ZM520,576l3,4v2l-2,2h1l2,2l-1,1l2,1v2l2,3l-1,2l5,-3l3,-5l1,1v3l2,1l-1,2l1,1h4l1,2l3,2v-2l-3,-1v-1l4,-3v-4l-1,-1h-2l-2,3l-4,2l-1,-1v-5l-1,2l-1,-1v-3h-4l-3,4l-2,-2l1,-1l-1,-2l1,-3l-3,-1l-1,-3ZM536,593l1,-1l1,1l-1,1ZM539,592l1,-1l1,1v1l-1,1l-1,-1ZM530,585l2,2l-2,2h-1l-1,-1v-1ZM510,577l-1,-1l-1,1v1h1ZM495,575l1,1v2l1,1l1,-1h2h-2l-1,-1v-2ZM537,568l-1,1h-2l-1,1l-1,-1l-1,1h-2l1,1l-1,1h1l1,1l1,-1h3l2,-2ZM531,570l1,-1l1,1v1l-1,1l-1,-1ZM508,567l-1,1h-1h1ZM519,563h0M516,562v2h1v-1ZM545,560h-1v2l1,-1ZM500,566h4l2,-2l1,1l1,-1l-1,-1h-1l-1,1l-1,-1v-1l-1,-1l1,-1h-2v1l-1,1l1,1v1l-1,1h-1ZM515,559h0M506,559h1M465,557l1,1v4l-1,1l2,1l1,4l-3,1l-1,2l2,1v-1l3,-2h3l1,-1l1,1l1,-1l3,1l1,-1l-3,-5l1,-5h-2l1,3l-1,2l2,3l-3,2h-4l-2,-2l1,-2l-1,-7ZM475,559l1,-1l1,1l-1,1ZM546,553l-1,1h-4l-1,1v1l1,1l-1,1h-5l-1,1h-1l-1,1v2l2,-2h1v-1l1,-1l1,1v1h1l1,1h1l1,1l1,-1h-1l-1,-1l1,-1v-2l1,-1l1,1v1l1,-1h1l1,1v-3l-1,-1ZM543,555l1,-1h1l1,1l-1,1h-1ZM531,551h-1l-1,1h-1l-3,3h-1v1l-1,1h1l1,1v2l1,1l-2,2v1l-2,2v1l1,1l1,-1v-2l1,-1h1v-1l-1,-1l2,-2h1l1,-1l-1,-1v-1l1,-1l-1,-1v-1l1,-1l1,1l1,-1ZM506,548l2,2v-1l-1,-1ZM501,548h1M536,547v1h1l2,2v2h1l1,-1v-1l2,-2h-1l-2,2h-1l-1,-1v-1h-1ZM464,547l1,3l3,3h3l3,-3l8,1l2,3l2,1l-1,1v7l4,3l-1,2l1,1l1,-1l1,1l2,-1l2,-4h3l1,-3l-1,1l-3,-1v-8l-1,-1l-3,1l-1,-2l-1,1l-2,-2l1,-3h-2l-1,2h-2l-1,-3l-3,1l-8,-1l1,2l-2,2l-3,-1l1,-3h-1l-1,2ZM491,564l1,-1h1l1,1l-1,1h-1ZM486,560l1,-1l1,1l-1,1ZM491,556v-2l1,-1h1l2,2l-2,2h-1ZM485,553l1,-1h1l1,1v1l-1,1ZM477,548l1,-1h2l1,1v1l-1,1h-2l-1,-1ZM606,542h0M618,527h-1l-1,-1v-2l-1,1h-1v2l-1,1l1,-1Z"/>
<path fill="#90ee90" stroke="#90ee90" stroke-width="1" stroke-linecap="square" fill-rule="evenodd" d="M1247,784l-1,1h-1v1l1,1v2l1,1v3l1,1h1l1,-1v-1l1,-1h1v-1l-1,-1v-1l-1,-1v-1l-2,-2ZM1210,784l-2,3v4l2,4v4l1,-1l1,2l-1,1v3l-2,2l1,2l-1,3h3l1,1l-2,3l4,5l6,14l3,2v4l2,2l7,3l2,5v4l2,2l1,7l1,1l5,-1l5,-3h5l2,-5l-1,-3l1,-13l6,-2v-16l-3,-3v-4l-1,-1l1,-3l-5,-6v-5l-4,-1l-1,3l4,3v2l-2,2h-3l-1,1l-3,-2v-2l-5,1l-6,-6l1,-1v-3l-10,-8l-3,-4l-2,-1ZM1243,808l1,-1l1,1v1l-1,1l-1,-1ZM1228,770l-3,3h-2v6l1,2l8,1l1,1l3,-1l2,-3v-2l-2,-4l1,-2l-3,-2ZM903,763l2,2v2l1,1h2l1,1h1v-2l1,-1l-1,-1h-1l-1,-1v-1h-1l-1,1l-1,-1ZM822,754h0M823,756l-1,2l5,11l3,3v3l5,8h3l1,2h3l1,1l-1,3l3,4l2,1h5l2,-1l2,1l1,2l3,1v1l-3,2l-1,4l2,2v4l2,2v5l3,4l1,4l6,3l1,-1l7,1l4,4l2,5l7,5l4,-2l1,1l3,-1l-2,-5l-1,-13l-3,-3l-1,-5l1,-1v-6l2,-3l-1,-2l1,-1v-7l3,-2v-2l4,-6l-10,-7l1,-1l-2,-2v-3l-3,-3l1,-5l-3,-2l-7,1l-1,-1l1,-3l-3,-5l-3,-2h-3l-1,5l-2,2h-2l-5,-3l-9,-1l-10,5l-7,1l-3,-1l-4,-4ZM819,747l-1,1v2l2,2h1v-2l-1,-1v-1ZM816,746h1M934,734l-2,1l-1,3l2,3v2l2,2h2l5,-3v-4l-3,-3ZM491,635l2,3l-1,2l2,2l1,10h2l2,3v4l1,1l-1,3l2,3l4,1l4,-3l2,1l3,-1l3,1h11l6,7l8,4l2,-1l1,1l2,-1l3,1l2,2l5,1l5,4l6,-1l4,-3v-3l-2,-3v-4l2,-2h3v-2l2,-2l5,1v-1l4,-2l3,-4l2,1l2,-3h3l6,-5v-3l-4,-4l1,-1l-2,-1l-1,-2h-2l-2,-2l-2,1h-5l-5,-3h-6l-3,1l-3,4l-4,3v3l-2,3v3l1,1l-2,2l-9,4h-3l-3,-5l-3,1l-5,5h-2l-3,-2l-1,-4l-3,-1l2,-3l-2,-3v-2l5,-4l1,-4l4,-4h2l4,-3v-6l1,-2l-5,1l-5,3l-5,6h-3l-1,-2l-4,-3l-1,-6l-2,-1l-2,-6l-9,1l-4,2l1,5l3,2v6l2,3v2l6,10l-1,1v4l-2,3l-4,2l-2,-2v-2l-2,-2l1,-1v-6h-1l-2,-3h-4l-3,-3v-2l-2,-1ZM527,661l1,-1l1,1l-1,1ZM528,660l1,-1l1,1l-1,1ZM517,643l1,-1l1,1l-1,1Z"/>
<path fill="#3f9f3f" stroke="#3f9f3f" stroke-width="1" stroke-linecap="square" fill-rule="evenodd" d="M1247,809l-6,2l-8,7l-6,2l1,4l-3,4v5l-2,2l1,1v4l3,2l3,-1l4,5v3l2,3l2,1l-1,3l3,-1l1,2h2l2,2l7,-5l-4,-6v-4l5,-6l-1,-6l3,-3v-3l2,-1l1,-2v-5l-8,-5ZM1247,791v2l1,1h1l-1,-1v-1ZM884,784h1M828,760l2,4l-1,4l1,1l3,-1l2,2l-1,5l2,3l6,1l8,-3l2,1l3,4h3l1,-1l5,4l-1,1l3,3l1,8l-7,4v10l1,-1h3l2,2l-2,3v3l3,4h2l7,4h5l3,-4l2,-1l4,1l1,-1v-5l2,-2v-6l-1,-1v-4l1,-1l-1,-1v-4l-1,2l-2,-3v-3l-7,-5v-2l-3,-4v-6l-4,-6l-3,-1l-3,-3l-6,-1l-3,2l-4,-3l-4,-5h-9l-4,4l-3,1l-2,-1l-2,2l-2,-1l1,-1v-3ZM514,653h0M564,648h0M496,640l-1,3l3,10l6,6l3,1v-5l-1,-1l1,-8l-1,-3h-2l-4,-4ZM597,642l-5,-4l-1,1l-8,-1l-5,2l-2,-1l-3,5v2l-2,2l-5,1l-4,3l1,1l-5,4h-3l-4,3l-3,-2l-6,2v2l-2,1l1,6l5,5l1,-2l5,1l3,3l1,3h3l4,-2h3l1,1v-3l3,-2v-4l2,-2v-1l-2,-1l5,-4h4l1,1l3,-1v-1l2,-1l1,-2h2l2,-3h2l6,-4v-5l-2,-2ZM509,615l-1,5l-2,2l3,2v6l3,1l1,6l3,3v4l1,1l-2,6l1,1v6l-2,4l5,2h7l1,-3l3,-3v-4l-1,-1l1,-5l-2,-4v-4l3,-4v-4h-3l-1,-2l-4,-3l-1,-6l-2,-1l-1,-3l-2,2l-3,-3ZM517,643l1,-1l1,1l-1,1Z"/>
<path fill="#006400" stroke="#006400" stroke-width="1" stroke-linecap="square" fill-rule="evenodd" d="M1249,834v1M1227,832l-1,2l4,4l-1,1l6,8l-1,1l2,4l2,1v2h2l1,2h1l1,-2l4,-3v-3l1,-1v-10l-3,-2l1,-2l-1,-1l-15,1ZM888,812v1M890,802l1,1v-1ZM838,763l-2,5l3,4h4l5,-4l2,3h3l8,4v3l3,-1l3,2l1,2l-1,4l3,2l2,4v6l-1,1l-2,-1l-4,3l-5,1v9l1,-1h4l5,4l4,5h3l3,2l2,-1l-1,-3l3,-4v-4l2,-2v-2l-4,-11l1,-5l-2,-5l-4,-3l-4,2l-6,-5l-1,-5l-2,-2l2,-1v-1h-2l-3,-2l-1,2l-4,-5h-3l-1,-2h-3l-2,2h-5l-1,1ZM514,653h0M564,648h0M496,640l-1,3l3,10l6,6l3,1v-5l-1,-1v-3l1,-1l-1,-1l1,-2h-4l-1,-1v-4l-2,-2ZM597,642l-5,-4l-5,5l-4,1l-7,-5l-3,5v2l-2,2l-5,1l-4,3l1,1l-5,4l-5,1l-5,5l-1,7l5,3l3,3l1,3l6,-1l2,-2l3,2v-3l3,-2v-4l2,-2l-2,-3l5,-3h3l2,-3l8,-1v-4l1,-2l3,-2h2l3,2l1,-1v-5l-2,-2ZM508,618l-1,4l2,2v2l6,7v2l6,4l1,3l-1,3h-4l-1,1v4l-1,1l2,4l-3,7l1,1h3l2,-2l2,1h5l3,-4v-4l-1,-1l1,-5l-1,-3l-4,-2l-1,-7l3,-2l1,-2l-1,-2l-4,-3l-1,-5h-2l-6,-5Z"/>
<path fill="none" stroke="#00bfff" stroke-width="1" d="M389,235.5h2M389,236.5h1M383,238.5h2m135,0h2M382,239.5h2m134,0h4M516,240.5h5M516,241.5h3M516,242.5h1m5,0h1m6,0h1m1,0h1M520,243.5h1M521,245.5h1M526,246.5h2m5,0h1M489,247.5h2m35,0h5m10,0h2M493,248.5h5m27,0h10m5,0h3M494,249.5h4m4,0h1m21,0h11m5,0h3M495,250.5h3m23,0h1m2,0h5m10,0h4m2,0h1M495,251.5h4m11,0h2m9,0h8m6,0h2m3,0h3m2,0h1M510,252.5h2m6,0h1m2,0h9m3,0h1m1,0h3m3,0h3m1,0h1M498,253.5h1m1,0h3m11,0h1m2,0h2m1,0h4m3,0h2m4,0h1m2,0h3m2,0h3M498,254.5h7m3,0h2m3,0h6m1,0h2m5,0h1m7,0h4m3,0h2M499,255.5h1m3,0h2m3,0h2m3,0h1m2,0h3m2,0h4m1,0h2m7,0h3M513,256.5h1m2,0h3m2,0h7m10,0h3M491,257.5h3m23,0h3m1,0h6m11,0h3M510,258.5h2m6,0h7m8,0h2M324,259.5h2m183,0h2m9,0h5m7,0h3m2,0h1M325,260.5h2m182,0h2m10,0h3m9,0h2m2,0h2M489,261.5h1m19,0h2m11,0h2m3,0h1M489,262.5h2m13,0h2M322,263.5h6m2,0h6m153,0h3m12,0h2m26,0h3M323,264.5h6m1,0h8m64,0h1m86,0h4m32,0h1m6,0h3M325,265.5h13m65,0h1m85,0h4m32,0h10M330,266.5h8m4,0h5m56,0h1m85,0h4m33,0h8M330,267.5h9m1,0h7m140,0h6m33,0h8M329,268.5h18m27,0h2m4,0h2m17,0h2m86,0h7m32,0h8M328,269.5h19m26,0h9m16,0h3m86,0h7m29,0h2m1,0h8M327,270.5h20m26,0h11m15,0h2m83,0h1m4,0h4m10,0h1m18,0h2m6,0h4m6,0h1M326,271.5h20m28,0h1m1,0h2m1,0h5m15,0h2m84,0h2m3,0h3m16,0h1m12,0h3m6,0h3M327,272.5h19m28,0h1m1,0h2m2,0h5m102,0h6m12,0h1m16,0h4m6,0h1M327,273.5h1m3,0h15m30,0h3m108,0h6m12,0h1m18,0h4m4,0h1M333,274.5h14m11,0h1m16,0h5m108,0h2m8,0h2m25,0h4m6,0h1M335,275.5h14m8,0h2m16,0h9m114,0h2m25,0h5m4,0h2M334,276.5h18m3,0h3m18,0h8m125,0h3m14,0h4m3,0h4M334,277.5h24m21,0h6m124,0h5m12,0h3m2,0h1m3,0h3m10,0h2M329,278.5h1m4,0h24m21,0h6m16,0h1m107,0h5m13,0h1m3,0h1m4,0h3m9,0h2M334,279.5h23m22,0h6m94,0h2m4,0h1m1,0h2m18,0h2m1,0h2m1,0h2m16,0h2M334,280.5h11m1,0h10m23,0h5m95,0h3m2,0h6m24,0h1m5,0h2M334,281.5h24m17,0h7m11,0h3m83,0h4m2,0h5m24,0h3m1,0h3M334,282.5h6m2,0h15m19,0h5m11,0h3m85,0h4m2,0h4m19,0h1m3,0h8M334,283.5h6m2,0h12m1,0h2m19,0h4m10,0h4m87,0h1m1,0h8m4,0h2m12,0h1m1,0h10m3,0h1M334,284.5h7m8,0h4m21,0h5m11,0h3m90,0h7m2,0h2m3,0h1m13,0h13m6,0h1M334,285.5h7m8,0h4m21,0h5m8,0h1m8,0h1m86,0h6m3,0h2m3,0h2m13,0h8m1,0h2M334,286.5h6m8,0h6m25,0h3m5,0h2m6,0h2m89,0h3m2,0h3m2,0h3m9,0h1m2,0h11M349,287.5h3m27,0h3m5,0h3m5,0h5m88,0h2m1,0h3m2,0h3m12,0h10M349,288.5h3m27,0h3m5,0h3m8,0h2m87,0h2m7,0h2m7,0h1m4,0h10M350,289.5h2m30,0h1m3,0h2m3,0h2m6,0h1m97,0h2m5,0h3m2,0h4m1,0h6m24,0h2m7,0h1M350,290.5h3m24,0h1m8,0h2m4,0h1m101,0h1m9,0h8m3,0h4m24,0h4m6,0h1M350,291.5h2m24,0h3m123,0h10m5,0h2m24,0h4M350,292.5h1m26,0h3m10,0h2m107,0h1m1,0h11m5,0h2m26,0h3M378,293.5h2m104,0h2m13,0h14m3,0h3m26,0h3M484,294.5h2m15,0h11m1,0h1m2,0h3m26,0h4M485,295.5h1m11,0h13m3,0h1m2,0h2m23,0h3m2,0h2M486,296.5h3m5,0h1m2,0h4m1,0h2m1,0h4m7,0h1m24,0h3m1,0h4M486,297.5h10m1,0h1m1,0h5m2,0h2m33,0h2m1,0h3m28,0h1M488,298.5h8m2,0h1m1,0h8m33,0h2m1,0h3m20,0h1m3,0h1m3,0h2M488,299.5h6m1,0h5m1,0h1m1,0h4m3,0h1m33,0h2m21,0h1m3,0h2m3,0h1M488,300.5h6m1,0h7m1,0h4m3,0h2m32,0h2m15,0h1m9,0h2m4,0h2M488,301.5h6m2,0h12m2,0h1m34,0h1m19,0h2m5,0h1m3,0h3M489,302.5h3m4,0h1m5,0h6m57,0h2m6,0h5M490,303.5h2m4,0h1m6,0h3m67,0h5m2,0h1M491,304.5h1m81,0h6m1,0h1M381,305.5h4m110,0h1m78,0h1M380,306.5h6m108,0h1m79,0h2M380,307.5h7m2,0h1m100,0h2m1,0h1m80,0h3M380,308.5h7m3,0h2m97,0h4m82,0h2M382,309.5h4m4,0h3M385,310.5h2M578,311.5h3M565,312.5h2m10,0h4M565,313.5h1m11,0h4M498,314.5h2m64,0h1m11,0h4m4,0h2M576,315.5h1m7,0h3M564,316.5h1m19,0h2M496,317.5h1m66,0h2m20,0h1M335,318.5h1m156,0h1m68,0h4m20,0h2M335,319.5h2m4,0h1m150,0h1m68,0h4m11,0h1m8,0h2M334,320.5h5m164,0h2m16,0h1m40,0h6m8,0h1m8,0h2M334,321.5h5m163,0h3m29,0h1m28,0h5M334,322.5h5m163,0h3m14,0h1m3,0h2m8,0h2m28,0h5M334,323.5h3m153,0h2m6,0h2m2,0h3m14,0h1m2,0h3m8,0h2m22,0h4m3,0h2M334,324.5h2m162,0h7m14,0h1m2,0h3m8,0h1m23,0h7M334,325.5h1m163,0h6m19,0h2m3,0h2m3,0h2m22,0h8M382,326.5h1m84,0h1m32,0h3m15,0h2m2,0h3m8,0h2m3,0h4m19,0h5M380,327.5h1m84,0h1m34,0h2m15,0h8m2,0h2m3,0h4m3,0h3m18,0h6M465,328.5h1m30,0h2m2,0h1m15,0h13m4,0h4m2,0h3m18,0h9M460,329.5h2m2,0h2m30,0h2m2,0h1m14,0h2m2,0h3m1,0h6m4,0h4m23,0h10m3,0h1M443,330.5h3m14,0h7m30,0h1m1,0h2m23,0h8m28,0h11m2,0h4m30,0h2M443,331.5h3m13,0h8m57,0h6m25,0h1m6,0h6m1,0h2m2,0h3M444,332.5h1m17,0h5m54,0h1m3,0h3m32,0h1m1,0h5m1,0h4m1,0h1m25,0h1M463,333.5h1m56,0h3m3,0h1m33,0h1m5,0h8m25,0h2m1,0h2M520,334.5h1m45,0h10m26,0h4M383,335.5h6m54,0h1m120,0h1m2,0h9m27,0h3M385,336.5h3m2,0h1m50,0h1m1,0h1m82,0h2m35,0h13M385,337.5h3m54,0h2m2,0h1m72,0h1m6,0h2m35,0h9m1,0h3M384,338.5h2m55,0h2m3,0h2m70,0h2m6,0h3m34,0h14M384,339.5h1m3,0h2m51,0h1m76,0h1m9,0h3m32,0h15m31,0h1M388,340.5h2m138,0h3m32,0h11m1,0h3M388,341.5h1m175,0h10m1,0h2m2,0h1M383,342.5h7m174,0h12M376,343.5h1m2,0h1m3,0h8m173,0h11M346,344.5h1m32,0h1m3,0h8m172,0h11M339,345.5h1m6,0h1m34,0h9m111,0h1m61,0h7m2,0h2m27,0h1M340,346.5h1m1,0h3m32,0h2m3,0h8m113,0h1m60,0h6m3,0h1m26,0h2M343,347.5h4m30,0h3m4,0h7m113,0h1m57,0h8M344,348.5h1m31,0h4m5,0h4m147,0h2m23,0h8M376,349.5h7m1,0h3m118,0h1m43,0h1m12,0h5m1,0h1m35,0h4M334,350.5h2m6,0h1m33,0h10m119,0h1m55,0h8m2,0h1m3,0h3m20,0h1m2,0h7m910,0h3M335,351.5h2m2,0h1m1,0h2m34,0h2m2,0h5m33,0h1m13,0h1m36,0h2m33,0h1m32,0h2m9,0h2m11,0h2m3,0h2m2,0h3m3,0h1m1,0h2m16,0h2m2,0h4m2,0h1m910,0h2M336,352.5h3m2,0h2m193,0h1m15,0h1m24,0h5m16,0h6m3,0h1M342,353.5h1m67,0h3m115,0h1m7,0h1m42,0h2m20,0h3m1,0h3M411,354.5h1m8,0h2m80,0h1m23,0h4m5,0h3m67,0h2M373,355.5h1m32,0h1m13,0h2m79,0h3m22,0h4m75,0h2M406,356.5h3m92,0h2m24,0h2m67,0h1m3,0h2m3,0h4M407,357.5h2m31,0h1m87,0h1m64,0h1m5,0h3m3,0h4M407,358.5h1m98,0h7m80,0h1m5,0h1m2,0h1m5,0h2m898,0h1M407,359.5h1m42,0h2m4,0h2m49,0h4m31,0h1m52,0h3m4,0h2m903,0h2M408,360.5h7m33,0h4m57,0h2m84,0h2M404,361.5h1m4,0h3m2,0h2m34,0h2m1,0h1m53,0h1m2,0h2M405,362.5h1m3,0h2m4,0h1m94,0h3M405,363.5h2m4,0h1m46,0h1m80,0h2M407,364.5h3m1,0h2m44,0h5m77,0h2M408,365.5h6m44,0h4M331,366.5h1m76,0h2m1,0h4m44,0h1m74,0h2M332,367.5h2m35,0h3m33,0h1m6,0h2m37,0h2M332,368.5h5m32,0h3m32,0h3m4,0h2m38,0h2M332,369.5h6m31,0h2m3,0h1m29,0h1m5,0h7m28,0h3M333,370.5h4m33,0h2m32,0h2m6,0h5m27,0h3m6,0h1M334,371.5h3m33,0h2m3,0h3m26,0h2m6,0h6m26,0h2m7,0h1m80,0h1M334,372.5h3m38,0h3m26,0h2m6,0h3m1,0h2m6,0h4m25,0h1m80,0h1m11,0h1m3,0h2M375,373.5h2m36,0h1m2,0h2m6,0h4m4,0h2m17,0h2m3,0h1m89,0h1m3,0h3m48,0h1M345,374.5h1m28,0h1m1,0h2m31,0h1m7,0h1m7,0h2m5,0h2m18,0h2m2,0h1m81,0h2m6,0h2m2,0h3m48,0h2M345,375.5h1m29,0h3m5,0h3m5,0h1m40,0h2m18,0h2m92,0h2m2,0h3m48,0h2M368,376.5h1m3,0h5m4,0h5m34,0h1m126,0h2m2,0h1M368,377.5h1m2,0h3m1,0h2m3,0h6m41,0h2m123,0h1M339,378.5h1m32,0h1m2,0h2m3,0h6m22,0h2m17,0h2M339,379.5h1m30,0h2m4,0h2m2,0h6m41,0h3M368,380.5h3m6,0h11m2,0h2m35,0h3m113,0h2M344,381.5h1m24,0h1m7,0h3m1,0h11m142,0h1m8,0h5m56,0h2M341,382.5h1m1,0h3m28,0h14m1,0h5m150,0h3m57,0h3M330,383.5h1m3,0h1m9,0h2m29,0h13m1,0h5m151,0h1M330,384.5h1m2,0h2m43,0h6m4,0h6M332,385.5h3m54,0h5m208,0h2M332,386.5h2m10,0h1m45,0h4m208,0h2M527,387.5h2m73,0h1M535,388.5h3m63,0h1M394,389.5h1m140,0h3m61,0h4M394,390.5h1m204,0h4m3,0h3M395,391.5h1m205,0h2m1,0h6M395,392.5h1m209,0h1M395,393.5h1M401,394.5h1M369,395.5h2M368,396.5h2m30,0h1M368,397.5h1m31,0h1M368,398.5h1m31,0h2M368,399.5h8M369,400.5h9M371,401.5h8M371,402.5h9m4,0h1m213,0h2M370,403.5h12m1,0h3m213,0h1M370,404.5h11m3,0h1M371,405.5h10M371,406.5h10M369,407.5h11M368,408.5h11M370,409.5h8M371,410.5h3M369,411.5h4m229,0h1M370,412.5h3M371,413.5h2M391,414.5h1M392,415.5h1M605,426.5h1M605,427.5h2M605,428.5h2M598,429.5h1m6,0h2M594,432.5h2m13,0h1M595,433.5h1M605,436.5h1M605,437.5h1M606,441.5h2M606,442.5h2M604,444.5h2M605,445.5h1M594,446.5h1m8,0h2M593,447.5h2m14,0h2M609,448.5h3M591,449.5h2m17,0h2M387,450.5h3m201,0h1m12,0h1M385,451.5h5m201,0h1m13,0h1M384,452.5h8m201,0h3m9,0h1m121,0h1M383,453.5h11m199,0h3m8,0h3m120,0h1M382,454.5h2m2,0h5m1,0h3m198,0h3m8,0h3M385,455.5h5m3,0h2m3,0h1m189,0h1m1,0h1m1,0h9M384,456.5h10m3,0h3m189,0h12m6,0h1M383,457.5h11m2,0h4m189,0h4m2,0h4m1,0h1m6,0h3M382,458.5h2m2,0h4m2,0h1m3,0h7m185,0h5m4,0h2m6,0h4M383,459.5h1m15,0h1m2,0h2m187,0h3m11,0h4m127,0h1M399,460.5h1m2,0h1m190,0h3m8,0h5m100,0h2m19,0h2m2,0h3M391,461.5h1m5,0h3m2,0h1m191,0h1m8,0h5m102,0h4m16,0h7M397,462.5h2m3,0h1m191,0h1m8,0h4m102,0h5m16,0h8M395,463.5h2m4,0h1m194,0h2m7,0h3m101,0h6m16,0h8M395,464.5h1m199,0h5m4,0h5m100,0h3m1,0h1m17,0h7M594,465.5h3m1,0h2m5,0h5m100,0h2m20,0h4M593,466.5h6m8,0h2m101,0h2m22,0h1m3,0h1M594,467.5h5m8,0h2m102,0h1m26,0h1M595,468.5h3m2,0h5M589,469.5h1m3,0h1m7,0h4M592,470.5h3m5,0h1M590,471.5h5M587,472.5h5m4,0h2M587,473.5h2M587,474.5h2M410,475.5h1m56,0h2m118,0h1M404,476.5h1m5,0h1m55,0h4M403,477.5h2m1,0h4m56,0h3m135,0h1M403,478.5h8m57,0h1m37,0h1m20,0h1m62,0h1m13,0h1m4,0h1M404,479.5h2m2,0h3m116,0h3m59,0h2m12,0h2m4,0h1M404,480.5h1m123,0h2m72,0h3M402,481.5h1m92,0h1m33,0h1m15,0h1m56,0h2M402,482.5h1m92,0h3m31,0h1M402,483.5h1m7,0h2m8,0h1m75,0h1m100,0h1M402,484.5h2m6,0h3m3,0h3m1,0h2M402,485.5h2m5,0h5m2,0h6m176,0h1m86,0h3M409,486.5h7m1,0h6m84,0h3m88,0h2m85,0h3M408,487.5h14m171,0h1m4,0h2M404,488.5h2m3,0h3m3,0h5M404,489.5h7m4,0h5M404,490.5h16m3,0h3M403,491.5h18m2,0h3M403,492.5h3m1,0h20m47,0h3m4,0h5M404,493.5h1m5,0h8m2,0h7m155,0h1M404,494.5h2m4,0h7m4,0h7m284,0h1M404,495.5h13m4,0h8m69,0h1M404,496.5h13m5,0h7m62,0h1m6,0h1m13,0h2M404,497.5h13m5,0h2m1,0h5m43,0h1m8,0h2m13,0h1m217,0h1M408,498.5h9m4,0h10m50,0h2m230,0h2M408,499.5h8m5,0h10m54,0h2m96,0h2m129,0h1M406,500.5h6m8,0h11m47,0h1m6,0h4m94,0h2M406,501.5h4m10,0h12m48,0h1m4,0h7M419,502.5h12m44,0h1m3,0h2m4,0h6M419,503.5h11m55,0h6M419,504.5h11m54,0h8m5,0h1M420,505.5h9m54,0h2m2,0h1m1,0h3m4,0h3m79,0h1m89,0h1M424,506.5h3m52,0h2m2,0h2m3,0h3m2,0h1m84,0h1M424,507.5h3m55,0h3m3,0h2m3,0h1M423,508.5h4m56,0h3m3,0h1m84,0h1m116,0h2M478,509.5h2m4,0h2m3,0h2m82,0h2M489,510.5h2M576,511.5h1m110,0h2M686,512.5h3M478,513.5h1M477,514.5h2M577,515.5h2m105,0h1M577,516.5h3m104,0h1M577,517.5h3M578,518.5h2m110,0h1m20,0h2M579,519.5h1m110,0h1m19,0h3M444,520.5h1m129,0h1m115,0h2m1,0h2m16,0h3M443,521.5h1m2,0h1m127,0h2m133,0h5M442,522.5h2m115,0h1m13,0h2m134,0h4M561,523.5h2m9,0h2m134,0h5M708,524.5h5M443,525.5h1m263,0h3m1,0h3M444,526.5h3m3,0h1m256,0h7M446,527.5h4m257,0h7M446,528.5h4M442,529.5h2m1,0h5M443,530.5h8m109,0h1M450,531.5h2m108,0h1M450,532.5h5m106,0h1M446,533.5h2m6,0h2m105,0h2m3,0h2M447,534.5h3m5,0h1m104,0h3M449,535.5h1m5,0h1m103,0h4M450,536.5h1m4,0h1m103,0h2M451,537.5h7m101,0h2m2,0h3M452,538.5h7m100,0h3m1,0h3M453,539.5h7m100,0h5M453,540.5h2m2,0h1m102,0h4M560,541.5h4M561,542.5h2M562,543.5h1M460,544.5h2M459,545.5h3m98,0h1M458,546.5h5m97,0h1M458,547.5h5M458,548.5h5M457,549.5h1m2,0h4M457,550.5h1m1,0h5M457,551.5h7m258,0h1m3,0h2M456,552.5h6m259,0h2m2,0h4M456,553.5h8m257,0h8M457,554.5h8m256,0h8m10,0h2M457,555.5h3m262,0h3m3,0h1m10,0h2M445,556.5h2m276,0h3m1,0h3m7,0h6M445,557.5h3m274,0h10m6,0h5M445,558.5h3m272,0h4m3,0h3m8,0h5M445,559.5h3m235,0h1m37,0h3m3,0h1m4,0h1m7,0h3M440,560.5h1m3,0h5m234,0h3m36,0h6m4,0h1M444,561.5h2m1,0h2m231,0h2m42,0h4m3,0h3M443,562.5h2m2,0h3m231,0h1m42,0h1m2,0h3m1,0h2M444,563.5h1m2,0h3m252,0h1m21,0h1m2,0h3M444,564.5h7m276,0h3M445,565.5h7m276,0h2M446,566.5h8m279,0h4m4,0h1M445,567.5h8m280,0h4M445,568.5h7m277,0h1m5,0h2M445,569.5h3m1,0h1m275,0h1m1,0h5M444,570.5h6m274,0h8m3,0h1M445,571.5h6m275,0h2m1,0h3m3,0h4M723,572.5h1m3,0h1m2,0h3m2,0h5M722,573.5h3m5,0h4m2,0h4M722,574.5h5m1,0h6m4,0h1M721,575.5h10m1,0h2m4,0h1M721,576.5h10m7,0h1m2,0h1M722,577.5h8M723,578.5h5M724,579.5h4M638,623.5h1"/>
<path fill="none" stroke="#0064f0" stroke-width="1" d="M391,235.5h1m3,0h5m126,0h1M390,236.5h2m1,0h1m1,0h6m4,0h1m111,0h1m5,0h6M389,237.5h9m1,0h3m3,0h1m110,0h3m4,0h3m2,0h2M389,238.5h7m5,0h1m115,0h2m10,0h1M384,239.5h1m3,0h6m103,0h2m13,0h6M383,240.5h1m4,0h4m122,0h2m15,0h1M387,241.5h4m123,0h2m14,0h5m15,0h1M382,242.5h2m2,0h3m122,0h1m3,0h1m34,0h1M379,243.5h1m3,0h1m127,0h2m27,0h1m8,0h2M511,244.5h4m33,0h3M507,245.5h2m3,0h4m27,0h2M498,246.5h2m12,0h4m27,0h1M512,247.5h4M490,248.5h1m21,0h1M378,249.5h2M376,250.5h1m3,0h1m104,0h2m59,0h2M377,251.5h1m107,0h2m59,0h2M416,252.5h1m66,0h3m60,0h1M326,253.5h2m1,0h5m150,0h3M331,254.5h7m73,0h1m72,0h3M335,255.5h4m2,0h1m68,0h2m78,0h3M322,256.5h1m14,0h4m2,0h3m144,0h3m55,0h1m2,0h1M322,257.5h3m1,0h1m11,0h3m2,0h3m53,0h4m83,0h3m26,0h2m31,0h1m2,0h1M324,258.5h6m8,0h4m1,0h2m53,0h5m83,0h2m24,0h1m1,0h4m31,0h1M326,259.5h6m6,0h7m52,0h7m81,0h2m24,0h2m1,0h6M327,260.5h6m4,0h7m51,0h9m81,0h2m24,0h1m4,0h5M329,261.5h3m3,0h8m51,0h10m82,0h3m28,0h2m1,0h2M329,262.5h3m2,0h10m33,0h2m12,0h1m2,0h11m80,0h3m32,0h3M336,263.5h13m28,0h4m10,0h1m3,0h6m1,0h3m77,0h5m30,0h1M338,264.5h11m27,0h6m8,0h2m11,0h2m77,0h2m21,0h1m5,0h1m5,0h6M338,265.5h11m26,0h4m1,0h4m6,0h3m11,0h2m91,0h1m18,0h2m2,0h2M338,266.5h4m5,0h2m26,0h3m1,0h6m19,0h1m110,0h3M339,267.5h1m7,0h2m26,0h1m4,0h6m2,0h2m105,0h1m14,0h1m6,0h1M347,268.5h3m23,0h1m11,0h5m3,0h2m3,0h1m95,0h3m11,0h3m7,0h1M347,269.5h3m35,0h4m105,0h3m11,0h3m6,0h3m23,0h1M347,270.5h3m8,0h1m25,0h1m1,0h2m16,0h2m77,0h1m25,0h1m7,0h5m19,0h3m9,0h1M346,271.5h3m8,0h1m26,0h4m16,0h2m77,0h2m25,0h1m6,0h5m18,0h4m8,0h3M346,272.5h3m8,0h1m27,0h3m11,0h2m3,0h1m75,0h1m3,0h1m25,0h2m8,0h2m18,0h2m11,0h1M346,273.5h4m5,0h4m25,0h4m11,0h2m79,0h2m28,0h2m28,0h2m2,0h2m9,0h1M331,274.5h2m14,0h9m1,0h1m26,0h4m7,0h3m89,0h1m52,0h7m8,0h1M349,275.5h8m27,0h4m8,0h1m4,0h1m79,0h1m5,0h2m50,0h4M333,276.5h1m18,0h3m20,0h1m8,0h5m12,0h2m77,0h2m4,0h3m2,0h2m46,0h3M330,277.5h4m41,0h4m6,0h6m88,0h3m4,0h4m24,0h1m25,0h2m4,0h2M330,278.5h4m42,0h3m6,0h2m1,0h2m89,0h3m4,0h4m4,0h1m19,0h1m6,0h1m24,0h2M330,279.5h4m43,0h2m6,0h3m3,0h2m88,0h1m7,0h1m2,0h3m20,0h2m3,0h3m14,0h1m9,0h2M330,280.5h4m41,0h4m6,0h3m2,0h5m97,0h3m20,0h2m2,0h1m18,0h1M331,281.5h3m48,0h1m1,0h4m2,0h3m145,0h3m8,0h1M331,282.5h2m48,0h2m2,0h2m2,0h3m108,0h2m6,0h1m30,0h2m17,0h1M331,283.5h2m47,0h1m4,0h2m113,0h2m6,0h1M332,284.5h2m9,0h4m32,0h1m5,0h1m114,0h1m23,0h2m7,0h2M332,285.5h2m9,0h4m34,0h2m116,0h1m23,0h4m6,0h2M340,286.5h5m154,0h1m22,0h9m9,0h1M334,287.5h8m4,0h3m51,0h1m100,0h4m16,0h1m3,0h5m19,0h2M334,288.5h6m7,0h2m51,0h1m100,0h1m2,0h1m15,0h2m3,0h4m20,0h2M335,289.5h4m8,0h3m50,0h1m119,0h2m2,0h3M336,290.5h3m8,0h3m153,0h1m15,0h3m2,0h1m22,0h1m3,0h2M347,291.5h3m169,0h4m24,0h1m2,0h4M348,292.5h2m25,0h2m7,0h1m134,0h4m25,0h7M348,293.5h3m24,0h3m141,0h3m26,0h7M349,294.5h1m26,0h9m11,0h2m121,0h3m27,0h5M377,295.5h11m7,0h3m120,0h3m29,0h5M377,296.5h2m2,0h9m127,0h4m28,0h9M381,297.5h4m1,0h3m128,0h3m29,0h8M380,298.5h3m2,0h4m128,0h6m26,0h2m2,0h2M381,299.5h2m2,0h5m2,0h1m124,0h6m23,0h1m8,0h2M380,300.5h10m129,0h6m21,0h1m9,0h1m3,0h1M379,301.5h11m2,0h2m130,0h1m21,0h1M378,302.5h7m5,0h4m103,0h5m44,0h2M377,303.5h9m4,0h5m102,0h3m1,0h2m42,0h3m9,0h1M376,304.5h10m1,0h8m101,0h1m48,0h3M376,305.5h5m4,0h1m2,0h2m2,0h2m102,0h4m2,0h1m57,0h1M365,306.5h1m11,0h3m6,0h1m2,0h2m104,0h4m3,0h2m39,0h1m3,0h2M365,307.5h2m5,0h3m1,0h4m10,0h2m102,0h1m53,0h2M365,308.5h2m2,0h11m12,0h1m1,0h1m92,0h2m59,0h2M365,309.5h1m3,0h3m2,0h2m2,0h4m12,0h1m92,0h6m55,0h1M367,310.5h1m7,0h2m1,0h7m123,0h1m73,0h3M366,311.5h1m8,0h3m2,0h8m104,0h3m12,0h3m73,0h2M366,312.5h1m9,0h2m2,0h8m1,0h1m103,0h2m3,0h1m86,0h1M366,313.5h1m9,0h2m2,0h1m5,0h1m110,0h3m60,0h1m23,0h3M372,314.5h1m3,0h3m118,0h1m88,0h2M376,315.5h2m116,0h1m23,0h1m68,0h2M375,316.5h3m110,0h1m5,0h2m21,0h3m3,0h4m15,0h1m44,0h2M376,317.5h2m117,0h1m21,0h3m1,0h6m1,0h1M507,318.5h2m8,0h6m1,0h3m1,0h2m37,0h1M504,319.5h1m1,0h3m8,0h5m2,0h3m1,0h2m6,0h2m10,0h1M341,320.5h1m163,0h4m8,0h2m5,0h3m6,0h2m13,0h1m19,0h2M505,321.5h4m8,0h3m4,0h10m14,0h1m19,0h1M505,322.5h3m9,0h2m9,0h5m15,0h1M337,323.5h1m167,0h4m8,0h2m9,0h3m17,0h1m17,0h1M336,324.5h1m169,0h1m4,0h3m2,0h3m9,0h3m25,0h1M335,325.5h1m168,0h3m5,0h7m36,0h2m8,0h1M336,326.5h1m46,0h2m118,0h3m5,0h7m14,0h1m23,0h1m23,0h1M336,327.5h2m45,0h3m116,0h4m4,0h3m2,0h2m52,0h1M373,328.5h1m3,0h4m2,0h3m115,0h3m7,0h1m3,0h1m53,0h4M372,329.5h1m3,0h6m1,0h3m115,0h3m10,0h1m25,0h1m29,0h3m34,0h2M372,330.5h6m1,0h7m115,0h3m10,0h2m20,0h1m43,0h1M373,331.5h4m7,0h4m111,0h3m10,0h5m37,0h1m24,0h4M371,332.5h1m12,0h1m1,0h3m82,0h1m41,0h5m19,0h2m40,0h5M371,333.5h2m13,0h6m72,0h1m1,0h1m2,0h2m44,0h2m20,0h3m19,0h1m20,0h5M371,334.5h1m11,0h2m1,0h6m50,0h2m10,0h1m7,0h3m1,0h4m70,0h2m11,0h1m4,0h3m20,0h3M377,335.5h1m12,0h2m50,0h1m17,0h5m64,0h4m7,0h2m16,0h3m17,0h2m2,0h2M391,336.5h1m50,0h1m17,0h4m64,0h5m7,0h1m19,0h1m17,0h3M378,337.5h1m82,0h5m62,0h4m11,0h1m9,0h2m3,0h1m3,0h1m16,0h2M378,338.5h1m85,0h1m64,0h1m8,0h2m18,0h1m3,0h1M378,339.5h1m68,0h2m108,0h2m3,0h1M556,340.5h3m23,0h1M464,341.5h1m116,0h3M468,342.5h3m73,0h1m37,0h1M374,343.5h2M374,344.5h5m123,0h2m7,0h1m26,0h1M334,345.5h1m2,0h2m36,0h2m1,0h1m123,0h4m7,0h1M334,346.5h6m109,0h2m18,0h2m33,0h1m29,0h2m55,0h1m941,0h1M335,347.5h5m34,0h3m91,0h3m41,0h2m20,0h4m53,0h3M335,348.5h4m36,0h1m93,0h1m39,0h1m2,0h2m77,0h3M335,349.5h4m36,0h1m131,0h3m98,0h2M336,350.5h3m36,0h1m94,0h3m34,0h3m84,0h1m13,0h1M337,351.5h2m40,0h2m91,0h1m33,0h3m3,0h1m95,0h1m911,0h2M376,352.5h2m4,0h5m117,0h5m18,0h2m53,0h2m10,0h3M376,353.5h3m1,0h6m121,0h1m12,0h1m4,0h3m55,0h1m10,0h2M377,354.5h6m39,0h1m80,0h1m19,0h3m68,0h2M376,355.5h6m40,0h1m90,0h1m10,0h2m65,0h5M376,356.5h5m44,0h1m87,0h2m11,0h1m64,0h3M375,357.5h6m42,0h3m89,0h2m10,0h1m64,0h1m16,0h2M374,358.5h3m46,0h3m89,0h2m9,0h3m13,0h1m953,0h1M374,359.5h1m49,0h1m92,0h2m13,0h2M374,360.5h1m6,0h1m41,0h3m89,0h1m1,0h2m13,0h2M374,361.5h1m7,0h1m40,0h2m91,0h2m13,0h1m1,0h1M334,362.5h1m39,0h1m7,0h4m121,0h1m8,0h1m977,0h1M334,363.5h1m48,0h3m119,0h3m3,0h2M382,364.5h3m122,0h2m2,0h2M381,365.5h2m39,0h1m184,0h1M422,366.5h1m184,0h1M510,367.5h1m44,0h1m10,0h1M388,368.5h2m33,0h1m86,0h1M381,369.5h3m39,0h1m82,0h1M331,370.5h1m48,0h4m40,0h2m126,0h1m2,0h2M378,371.5h1m2,0h3m40,0h3m124,0h2m50,0h1M378,372.5h3m1,0h3m1,0h2m142,0h2m20,0h2m47,0h2M378,373.5h3m1,0h2m3,0h1m143,0h1m21,0h3m46,0h1M373,374.5h1m4,0h3m2,0h1m169,0h3M372,375.5h3m3,0h2m2,0h1m170,0h1M377,376.5h3m172,0h3M377,377.5h3m173,0h2M377,378.5h3m175,0h1M378,379.5h2m175,0h1M367,380.5h1m188,0h1M367,381.5h2m187,0h1M366,382.5h3m187,0h1M370,383.5h2m1,0h2m232,0h1M370,384.5h2m2,0h3m7,0h2m1,0h1M382,385.5h3m3,0h1m163,0h1m15,0h1M382,386.5h4m3,0h1m162,0h1M381,387.5h12m154,0h2m3,0h1M377,388.5h2m8,0h6m154,0h2M377,389.5h2m10,0h5m152,0h2m9,0h1M392,390.5h2M392,391.5h3M367,392.5h1m25,0h2M367,393.5h2m5,0h4m16,0h1m153,0h1M367,394.5h11m16,0h2m152,0h2M365,395.5h4m2,0h8m228,0h2M366,396.5h2m5,0h7m223,0h2M366,397.5h2m9,0h2m1,0h1M366,398.5h2m8,0h2m2,0h1m6,0h1m15,0h1M366,399.5h2m8,0h5m20,0h4M378,400.5h2m22,0h2M379,401.5h1m5,0h4M380,402.5h1m4,0h4M386,403.5h3M383,404.5h1m1,0h3m1,0h1m6,0h1M381,405.5h1m1,0h2m4,0h1m6,0h2m7,0h3M381,406.5h1m2,0h1m4,0h1m15,0h3M381,407.5h2m11,0h1m8,0h4M398,408.5h2m2,0h5M398,409.5h9M374,410.5h4m16,0h1m3,0h9M373,411.5h17m10,0h6M373,412.5h17m10,0h6M373,413.5h8m4,0h6m10,0h4M373,414.5h6m7,0h1M386,415.5h3M606,426.5h2M593,429.5h5M592,430.5h6M591,431.5h7m1,0h1M596,432.5h5M596,433.5h5M595,434.5h6m3,0h3M594,435.5h7m2,0h3M594,436.5h7m3,0h1M593,437.5h8M593,438.5h8M595,439.5h3m1,0h2M598,440.5h1m1,0h1M603,445.5h2M589,447.5h2M590,448.5h3M595,449.5h2M391,450.5h2m202,0h1M391,451.5h2m336,0h3M392,452.5h1m335,0h5m4,0h2M399,453.5h1m328,0h6M399,454.5h3m325,0h6M728,455.5h4M725,456.5h7M726,457.5h6M727,458.5h3M381,459.5h2m205,0h3m100,0h1m17,0h4m14,0h3M382,460.5h5m201,0h1m2,0h2m118,0h3m4,0h2m8,0h2M382,461.5h4m201,0h2m1,0h4m124,0h1m9,0h2M383,462.5h3m3,0h1m1,0h1m194,0h3m1,0h4m134,0h2M383,463.5h2m3,0h1m2,0h1m194,0h4m139,0h1M391,464.5h2m194,0h3m129,0h1M589,465.5h2m127,0h2m11,0h1M589,466.5h1m114,0h2m12,0h2m11,0h3M609,467.5h1m94,0h2m6,0h1m6,0h1M589,468.5h1m18,0h2m71,0h1m22,0h1m6,0h2m6,0h1M608,469.5h1m102,0h1M601,470.5h1m2,0h1m2,0h1M600,471.5h2m5,0h1m127,0h1M592,472.5h1m10,0h3m129,0h1M596,473.5h6m2,0h2m129,0h5M468,474.5h1m127,0h6m134,0h1M469,475.5h3m127,0h4M470,476.5h2m68,0h2m58,0h5m65,0h1M469,477.5h3m68,0h2m59,0h3m66,0h1M469,478.5h1m60,0h2m8,0h1m129,0h2M406,479.5h2m61,0h1m36,0h1m23,0h1m9,0h1m130,0h1m14,0h3m38,0h1M405,480.5h6m88,0h2m29,0h1m140,0h1m15,0h2m36,0h3M405,481.5h3m1,0h2m106,0h1m12,0h2m156,0h1M405,482.5h5m107,0h1m12,0h2m128,0h1m20,0h1m8,0h1M407,483.5h3m6,0h2m111,0h2m129,0h1m20,0h1m7,0h2M407,484.5h3m61,0h2m19,0h5m11,0h2m27,0h3m152,0h1M404,485.5h1m1,0h3m61,0h2m20,0h1m2,0h4m8,0h3m7,0h1m16,0h1m2,0h3m152,0h1M405,486.5h1m2,0h1m61,0h2m62,0h1m2,0h2m47,0h1m70,0h2M405,487.5h2m63,0h2m62,0h1m122,0h2m39,0h1M402,488.5h1m3,0h1m250,0h1M403,489.5h1m69,0h1m111,0h1M403,490.5h1m69,0h1m2,0h1m7,0h1m174,0h5m20,0h2m55,0h1M471,491.5h1m1,0h4m4,0h5m49,0h1m123,0h5m21,0h1m42,0h1m12,0h1M470,492.5h2m27,0h1m34,0h2m124,0h1m24,0h1M418,493.5h2m79,0h1m34,0h2m148,0h2M417,494.5h4m76,0h1m185,0h3M417,495.5h4m76,0h1m90,0h2m152,0h1M417,496.5h5m70,0h1m4,0h1m28,0h1m61,0h1m95,0h1m11,0h1M417,497.5h5m94,0h1m9,0h1m60,0h2m83,0h1m22,0h1M417,498.5h4m93,0h4m8,0h2m58,0h2m107,0h1m19,0h2M416,499.5h5m92,0h2m3,0h1m6,0h2m58,0h2m68,0h1m39,0h2m18,0h1M412,500.5h8m165,0h3m66,0h2m38,0h3m34,0h1M410,501.5h10m12,0h1m95,0h1m56,0h2m67,0h2m38,0h2M409,502.5h10m12,0h2M409,503.5h2m2,0h3m1,0h2m11,0h4M409,504.5h2m2,0h6m11,0h2M413,505.5h7m261,0h1m45,0h2M414,506.5h5m1,0h1m306,0h3M414,507.5h8m121,0h2m127,0h1m18,0h2m6,0h1m28,0h3M415,508.5h8m4,0h1m116,0h2m183,0h2M416,509.5h2m1,0h8m1,0h1m105,0h1m10,0h1M417,510.5h1m2,0h8m51,0h1m230,0h1M420,511.5h5m261,0h1M421,512.5h1m251,0h1m11,0h1M679,514.5h3m52,0h2M579,515.5h1m100,0h3M681,516.5h2M681,517.5h1m28,0h1M582,518.5h1m126,0h2M444,519.5h1m138,0h2M417,520.5h2m24,0h1m136,0h1M417,521.5h3m17,0h1m3,0h2m112,0h2m23,0h2m125,0h2M438,522.5h1m118,0h2m20,0h3m125,0h2M558,523.5h3m17,0h3m113,0h1m11,0h2M560,524.5h4m129,0h1m11,0h3M557,525.5h1m3,0h4m139,0h3m32,0h2M553,526.5h1m2,0h3m3,0h2m127,0h1m13,0h2m33,0h1M552,527.5h7m3,0h2m12,0h2m111,0h2m15,0h1M551,528.5h8m2,0h3m12,0h1m89,0h5m33,0h1m2,0h8m18,0h1M551,529.5h8m1,0h5m100,0h6m32,0h2m3,0h3m1,0h2M551,530.5h9m5,0h1m99,0h6m1,0h2m29,0h1M551,531.5h2m1,0h2m2,0h2m5,0h3m98,0h1M551,532.5h2m5,0h1m1,0h1m5,0h2m97,0h3m47,0h1M551,533.5h2m4,0h4m106,0h2m5,0h1m16,0h1m1,0h1M446,534.5h1m104,0h1m5,0h3m106,0h2m1,0h2m2,0h2M446,535.5h3m104,0h1m4,0h1m107,0h2m1,0h3m2,0h1M446,536.5h4m101,0h3m3,0h2m108,0h2m2,0h1M446,537.5h5m103,0h1m2,0h2m108,0h1M447,538.5h5m104,0h3m106,0h2M437,539.5h2m9,0h5m212,0h2M452,540.5h1m5,0h1m207,0h1m2,0h1m18,0h2M437,541.5h1m14,0h4m212,0h2m18,0h2M436,542.5h2m14,0h5m2,0h2m227,0h1M436,543.5h3m11,0h6m2,0h3m226,0h2M436,544.5h3m13,0h4m2,0h2m226,0h2M458,545.5h1M438,546.5h2M439,547.5h2m16,0h1M440,548.5h1m16,0h1M440,549.5h2m11,0h1m263,0h1m8,0h3M440,550.5h3m274,0h1m4,0h1m3,0h4M728,551.5h3m7,0h1M729,552.5h2M729,553.5h2m8,0h2M438,554.5h2m290,0h2m3,0h1M439,555.5h3m3,0h1m14,0h2m269,0h1m2,0h3M439,556.5h3m15,0h4m3,0h1m269,0h3M458,557.5h2m4,0h1m270,0h1M444,558.5h1m238,0h2m30,0h2m15,0h1M444,559.5h1m239,0h1m5,0h1m24,0h3m15,0h1m2,0h2M441,560.5h1m248,0h1m25,0h2m15,0h1m2,0h1M679,561.5h1m9,0h1m28,0h1M699,563.5h3m21,0h1M699,564.5h4M694,565.5h3M694,566.5h1M694,567.5h1M723,568.5h2M714,569.5h1m5,0h1m2,0h2M714,570.5h1M451,571.5h1m261,0h2m6,0h3M446,572.5h7m260,0h1m6,0h3M447,573.5h6m267,0h2M448,574.5h5m268,0h1m19,0h1M451,575.5h1m252,0h1m5,0h1m8,0h2M709,576.5h2m4,0h6m11,0h2M709,577.5h2m4,0h2m3,0h1m9,0h4M709,578.5h2m2,0h4m5,0h1m6,0h4M713,579.5h2m7,0h2M722,580.5h1m3,0h2M726,581.5h3m2,0h2M709,582.5h1m14,0h5m1,0h2M724,583.5h8M725,584.5h1m1,0h4M724,585.5h1m3,0h1M643,621.5h1M635,622.5h1m6,0h1M634,623.5h2m6,0h2M643,624.5h1M643,625.5h1M642,626.5h2M639,633.5h1m4,0h1M636,634.5h5m2,0h3M636,635.5h6m3,0h1M636,636.5h1m3,0h3M642,637.5h2M630,638.5h1m11,0h1M630,639.5h2"/>
<path fill="none" stroke="#0000cd" stroke-width="1" d="M514,234.5h2m10,0h2m4,0h1m2,0h2M406,235.5h1m5,0h1m110,0h3m1,0h2m2,0h2m2,0h2m1,0h1M406,236.5h2m2,0h6m94,0h3m3,0h1m12,0h1m5,0h2M406,237.5h8m5,0h1m90,0h3m23,0h1M396,238.5h5m5,0h13m92,0h2m23,0h1M394,239.5h9m2,0h5m1,0h9m115,0h2m3,0h4M372,240.5h4m18,0h2m1,0h5m2,0h10m2,0h4m86,0h1m25,0h1m2,0h2m6,0h1m5,0h1M371,241.5h5m15,0h4m3,0h17m3,0h1m86,0h2m37,0h1m3,0h2M370,242.5h6m13,0h26m91,0h1m37,0h2m1,0h3M368,243.5h8m11,0h24m1,0h3m7,0h2m120,0h2m2,0h1M369,244.5h7m9,0h25m2,0h3m7,0h2m120,0h2M371,245.5h5m4,0h1m1,0h28m3,0h1m8,0h2M371,246.5h5m4,0h22m1,0h7m2,0h1M365,247.5h2m6,0h3m6,0h13m1,0h3m3,0h6m3,0h2M365,248.5h2m6,0h3m3,0h1m2,0h25m3,0h3M365,249.5h3m5,0h3m4,0h23m6,0h9M366,250.5h2m5,0h3m5,0h14m2,0h8m3,0h11M366,251.5h2m6,0h3m4,0h11m1,0h2m2,0h17m1,0h3M366,252.5h2m6,0h4m3,0h11m1,0h2m2,0h15M325,253.5h1m48,0h5m2,0h10m2,0h2m3,0h7m2,0h3m79,0h1m64,0h1M324,254.5h7m39,0h1m3,0h18m6,0h5m2,0h6m78,0h2m60,0h1m2,0h2M323,255.5h7m2,0h3m4,0h2m27,0h5m1,0h3m3,0h14m4,0h12m141,0h2m1,0h2M323,256.5h7m2,0h5m31,0h6m6,0h16m3,0h9m144,0h1M325,257.5h1m1,0h3m2,0h6m8,0h9m13,0h9m3,0h19m4,0h5m144,0h1m1,0h3M330,258.5h8m7,0h7m2,0h1m15,0h7m3,0h3m1,0h14m5,0h4m146,0h4M332,259.5h6m7,0h8m17,0h7m3,0h17m8,0h2m146,0h4M335,260.5h2m7,0h10m15,0h5m1,0h1m4,0h11m13,0h3m3,0h3m101,0h2m39,0h1M343,261.5h8m19,0h5m6,0h10m13,0h3m108,0h2M344,262.5h8m1,0h3m14,0h5m1,0h1m4,0h10m14,0h2m108,0h3M349,263.5h8m14,0h1m4,0h1m4,0h10m14,0h1m108,0h3m33,0h2M349,264.5h8m25,0h8m15,0h1m108,0h3m32,0h3M349,265.5h10m25,0h2m3,0h1m16,0h1m108,0h1m33,0h3m7,0h1M349,266.5h10m26,0h2m20,0h2m105,0h1m33,0h2m9,0h1M349,267.5h10m27,0h2m160,0h2M350,268.5h9m189,0h2M350,269.5h9m30,0h1m154,0h1m4,0h1M350,270.5h8m30,0h5m117,0h1m33,0h1m15,0h1M349,271.5h8m31,0h6m117,0h1m32,0h1M349,272.5h8m31,0h6m118,0h1m2,0h1M350,273.5h5m33,0h5m122,0h1M388,274.5h4m123,0h1M388,275.5h1m126,0h1m27,0h2M406,276.5h1M549,282.5h2M549,283.5h4M549,284.5h4M549,285.5h3M531,286.5h1m17,0h3M342,287.5h2m1,0h1m184,0h2M340,288.5h3m2,0h2m182,0h3M339,289.5h5m1,0h2m182,0h3M339,290.5h5m1,0h2m178,0h2m2,0h3M339,291.5h5m1,0h2m176,0h4m2,0h1M338,292.5h6m1,0h3m25,0h2m148,0h7M336,293.5h12m25,0h2m147,0h9M336,294.5h13m24,0h3m146,0h6M335,295.5h10m1,0h3m21,0h1m150,0h6M335,296.5h2m1,0h7m2,0h1m42,0h1m2,0h1m127,0h6m4,0h3M335,297.5h10m31,0h2m11,0h3m128,0h3m2,0h2m4,0h4M335,298.5h1m2,0h5m27,0h8m11,0h3m134,0h1m2,0h3M338,299.5h1m30,0h12m9,0h2m134,0h5M368,300.5h12m146,0h4M372,301.5h7m155,0h1M371,302.5h7m154,0h3M371,303.5h3m1,0h2m155,0h3m1,0h2M370,304.5h6M368,305.5h8M366,306.5h1m1,0h7m160,0h8M369,307.5h3m130,0h2m30,0h10m2,0h2M501,308.5h2m23,0h4m4,0h3m1,0h2m1,0h3m2,0h2M499,309.5h4m19,0h2m1,0h6m2,0h4m1,0h2m2,0h3M502,310.5h1m19,0h11m1,0h3m1,0h8M502,311.5h2m6,0h2m11,0h4m1,0h5m1,0h12M510,312.5h2m3,0h1m12,0h13m2,0h3m40,0h1M381,313.5h5m3,0h1m120,0h2m5,0h2m1,0h2m7,0h1m3,0h3m1,0h2m4,0h3m41,0h1M381,314.5h4m4,0h2m126,0h6m1,0h6m7,0h1m6,0h1M381,315.5h2m5,0h2m117,0h1m9,0h1m1,0h9m8,0h2m10,0h2M381,316.5h2m5,0h1m117,0h3m11,0h3m9,0h1m7,0h2m7,0h2M380,317.5h4m123,0h2m6,0h2m3,0h1m8,0h1m10,0h1M380,318.5h4m127,0h1m3,0h2M380,319.5h1m130,0h1m3,0h2M515,320.5h2m32,0h1M514,321.5h3m32,0h2M513,322.5h4m32,0h3M513,323.5h4m32,0h1m39,0h2M507,324.5h4m3,0h2m73,0h2M507,325.5h5m40,0h1m36,0h2M506,326.5h5m40,0h2M386,327.5h1m119,0h4m60,0h1M386,328.5h3m115,0h2M386,329.5h3m88,0h1m26,0h2m79,0h6M386,330.5h2m89,0h2m25,0h5m38,0h2m38,0h5M477,331.5h2m27,0h2m39,0h2m40,0h3M472,332.5h2m37,0h2m71,0h1m4,0h4M471,333.5h2m38,0h4m74,0h5M474,334.5h1m36,0h5m73,0h5M467,335.5h3m119,0h5M467,336.5h2m90,0h1m29,0h4M467,337.5h1m91,0h1m29,0h3M512,338.5h2m75,0h3M589,339.5h2M537,342.5h1m7,0h1M510,343.5h2m25,0h2M504,344.5h1m5,0h1M587,345.5h2M454,346.5h1m130,0h3M454,347.5h1m130,0h2M610,349.5h1m1,0h1M609,350.5h3M589,351.5h2m18,0h3M388,352.5h2m121,0h2m71,0h1m4,0h2M386,353.5h1m1,0h2m194,0h2M383,354.5h4m2,0h1m194,0h2m3,0h1M382,355.5h4m3,0h1m194,0h2M381,356.5h6m2,0h1M381,357.5h9M377,358.5h6m1,0h6M375,359.5h2m1,0h10m131,0h3M375,360.5h2m2,0h2m1,0h6m131,0h3M375,361.5h1m7,0h7m128,0h1m2,0h2M375,362.5h1m10,0h3m38,0h1M386,363.5h3m38,0h1m97,0h1M524,364.5h4M423,365.5h1m88,0h1m11,0h4M423,366.5h2m86,0h2m12,0h1m35,0h1m5,0h1M423,367.5h1m87,0h1m3,0h2m45,0h2M511,368.5h1m2,0h2m5,0h1m5,0h2m33,0h2M424,369.5h1m95,0h2m4,0h3m32,0h2m3,0h1M520,370.5h2m38,0h3m2,0h2m39,0h2M521,371.5h2m34,0h4m43,0h1m1,0h2M521,372.5h3m34,0h3M530,373.5h1m28,0h2M559,374.5h4M527,375.5h2m29,0h2m1,0h2M520,376.5h2m5,0h1m29,0h7M520,377.5h2m33,0h5m1,0h2M520,378.5h2m34,0h2M521,379.5h1m34,0h2M557,380.5h2M557,381.5h2M557,382.5h2M366,383.5h2m187,0h4M366,384.5h2m189,0h2M366,385.5h1m2,0h3m181,0h7M369,386.5h4m180,0h4M368,387.5h6m182,0h2M365,388.5h1m1,0h8m5,0h7m169,0h2M365,389.5h10m4,0h10M366,390.5h9m3,0h5m2,0h7M367,391.5h1m1,0h5m4,0h14M368,392.5h5m4,0h14M369,393.5h5m4,0h8m2,0h3M378,394.5h7m4,0h1M379,395.5h6m2,0h1M380,396.5h3m1,0h1m7,0h2m213,0h1M381,397.5h1m2,0h1m2,0h3m2,0h2m209,0h2m2,0h1M381,398.5h1m1,0h2m3,0h1m2,0h2M391,399.5h2M391,400.5h2M389,401.5h4m8,0h1M389,402.5h7m2,0h4M392,403.5h3m2,0h2M392,404.5h2m3,0h1M390,405.5h1m2,0h1M390,406.5h1m2,0h1M389,407.5h2m2,0h1m6,0h3M386,408.5h3m11,0h2M386,409.5h3m6,0h2m208,0h1M386,410.5h3m6,0h3M395,411.5h3M395,412.5h2M400,413.5h1M400,414.5h2M598,439.5h1M589,446.5h1m134,0h2M724,447.5h3M725,448.5h2M725,449.5h1M710,452.5h2m10,0h1m16,0h1M710,453.5h2m27,0h1M720,454.5h1M717,455.5h1m2,0h1M720,456.5h1m3,0h1M712,457.5h2m10,0h2M703,458.5h3m14,0h1m3,0h2M703,459.5h3m14,0h1m3,0h3M721,460.5h1m1,0h5M721,461.5h7M697,462.5h4m20,0h7M590,463.5h2m101,0h1m2,0h6m20,0h4M590,464.5h1m102,0h7m22,0h2M694,465.5h5m23,0h1M697,466.5h1m24,0h1M692,467.5h2M682,468.5h1m8,0h3m1,0h2M689,469.5h7m29,0h1m3,0h1m4,0h1M688,470.5h7m29,0h2m7,0h2M688,471.5h6m33,0h2m3,0h3M689,472.5h5m6,0h2m11,0h2m12,0h2m4,0h2M689,473.5h3m8,0h2m10,0h3m18,0h2M533,474.5h1m156,0h1m42,0h3m1,0h4M533,475.5h1m155,0h2m45,0h5M533,476.5h1m139,0h1m12,0h6m11,0h1m10,0h1m3,0h1m17,0h2M532,477.5h2m5,0h1m133,0h1m12,0h4m2,0h2m9,0h1m10,0h2m19,0h3M532,478.5h2m3,0h3m146,0h4m2,0h3m8,0h1m24,0h4m3,0h3m3,0h1M538,479.5h2m151,0h4m8,0h2m23,0h5m2,0h3m4,0h1M473,480.5h1m13,0h1m50,0h2m154,0h1m33,0h6m1,0h3M487,481.5h1m44,0h1m5,0h1m190,0h8M486,482.5h3m242,0h5M486,483.5h4m182,0h2m56,0h7M477,484.5h1m43,0h1m139,0h1m10,0h2m56,0h7M521,485.5h1m208,0h7M668,486.5h2m59,0h2m1,0h5M659,487.5h3m5,0h3m59,0h2m1,0h5M497,488.5h3m158,0h3m6,0h3m60,0h2m3,0h7M659,489.5h5m2,0h3m5,0h4m53,0h2m2,0h2m2,0h3M666,490.5h3m6,0h4m56,0h1m4,0h1M519,491.5h1m150,0h1m5,0h3m54,0h3m4,0h1M677,492.5h1m50,0h1m4,0h3m3,0h3M733,493.5h2m4,0h3M733,494.5h2m2,0h3M522,495.5h1m210,0h4m1,0h2M521,496.5h2m211,0h3m2,0h1m2,0h1M520,497.5h2m3,0h1m206,0h4M520,498.5h2m3,0h1m200,0h1m5,0h2M519,499.5h4m131,0h1m71,0h2M519,500.5h4M520,501.5h2m7,0h1m154,0h2m43,0h3M520,502.5h2m6,0h2m154,0h2m48,0h3M520,503.5h1M519,504.5h4M518,505.5h5m203,0h1M518,506.5h2m155,0h1m50,0h1M436,507.5h1m289,0h2M585,508.5h2m111,0h3m26,0h2M409,509.5h1m19,0h1m3,0h2m150,0h2m87,0h1m23,0h3m27,0h3M409,510.5h2m3,0h3m11,0h3m3,0h1m239,0h2m22,0h3m8,0h1M413,511.5h2m10,0h6m243,0h3m53,0h1M422,512.5h9m246,0h1m53,0h1m9,0h1M420,513.5h12m295,0h1m13,0h1M414,514.5h2m2,0h13m2,0h3m236,0h1m54,0h1M418,515.5h13m1,0h4m236,0h7M419,516.5h7m2,0h3m1,0h5m235,0h9M420,517.5h5m7,0h1m3,0h2m1,0h3m141,0h1m96,0h1m18,0h1m9,0h1M414,518.5h2m4,0h5m11,0h6m141,0h2m95,0h1m21,0h1M415,519.5h2m2,0h6m11,0h2m1,0h5m258,0h2M416,520.5h1m2,0h6m16,0h2M420,521.5h2m1,0h2m127,0h3m115,0h1m30,0h1M423,522.5h2m126,0h5m120,0h1m24,0h1m4,0h1M423,523.5h3m121,0h1m3,0h3m122,0h1m7,0h1M551,524.5h2m129,0h3m9,0h2M554,525.5h3m120,0h1m4,0h3m2,0h1m6,0h1m6,0h2M554,526.5h2m8,0h1m117,0h3m2,0h2m3,0h2m7,0h2M677,527.5h1m4,0h2m4,0h1m2,0h3m4,0h5M426,528.5h2m136,0h1m5,0h1m105,0h2m20,0h4M427,529.5h2m248,0h1m55,0h1M428,530.5h2M428,531.5h3M428,532.5h2m229,0h1m49,0h3m17,0h1M555,533.5h2m107,0h3m8,0h1m1,0h2m15,0h1m13,0h4m17,0h1M432,534.5h2m230,0h2m9,0h3m22,0h1m8,0h3m17,0h1m2,0h1M431,535.5h4m119,0h1m144,0h1m27,0h3m1,0h2M435,536.5h1m118,0h3m149,0h1m20,0h3m7,0h1M435,537.5h1m119,0h2M435,538.5h1m119,0h1M726,539.5h2m5,0h7M436,540.5h3m243,0h1m30,0h2m11,0h2m4,0h8M432,541.5h5m230,0h1m15,0h2m13,0h2m1,0h2m29,0h7M432,542.5h4m224,0h4m4,0h1m30,0h4m11,0h1m16,0h6M430,543.5h6m232,0h1m32,0h2m27,0h6M431,544.5h5m252,0h1m20,0h2m15,0h1m1,0h8M431,545.5h6m234,0h3m35,0h2m13,0h12M432,546.5h4m14,0h3m216,0h2m39,0h2m12,0h10M433,547.5h6m11,0h3m216,0h1m21,0h2m17,0h2m13,0h6m6,0h3M434,548.5h6m12,0h1m237,0h4m16,0h3m3,0h1m8,0h6m5,0h4M434,549.5h6m250,0h4m17,0h3m1,0h2m12,0h5m2,0h4M435,550.5h5m249,0h2m7,0h1m15,0h3m13,0h4m3,0h2M435,551.5h4m276,0h3m13,0h4m1,0h2M435,552.5h3m273,0h2m18,0h4M690,553.5h1m20,0h2m1,0h2m15,0h4M691,554.5h1m22,0h2m16,0h3M713,556.5h1M460,557.5h4m248,0h2M458,558.5h3m1,0h4m224,0h1m22,0h2M458,559.5h2m2,0h4m247,0h2M458,560.5h2m2,0h3M457,561.5h3m1,0h3M458,562.5h5M458,563.5h5M457,564.5h7m1,0h2M456,565.5h11M456,566.5h11M455,567.5h7M455,568.5h6m246,0h1M454,569.5h2m1,0h3M454,570.5h8m251,0h1M456,571.5h2M453,573.5h1M452,575.5h1M451,576.5h3M451,577.5h2m1,0h3M454,578.5h4M455,579.5h1M721,580.5h1M719,581.5h4M719,582.5h5M719,583.5h5M720,584.5h5M721,585.5h3M722,586.5h1M644,621.5h1M643,622.5h2M647,624.5h1M630,635.5h6M630,636.5h6M631,637.5h5M631,638.5h5m7,0h2m2,0h1M632,639.5h3m7,0h6M634,640.5h1m3,0h1m3,0h6M643,641.5h5M639,642.5h2m2,0h2m2,0h1M639,643.5h3M639,644.5h3"/>
</g>
<path d="M409.9,629.1 419.7,627.6 431.6,630.1 430.8,633.3 419.7,632.1 410.4,632.1ZM428.4,649.3 432.1,649.3 432.6,653 428.9,653ZM448.4,655.5 451.8,656.3 453.3,662.9 450.3,662.9ZM1199.6,877.2 1201.7,876.3 1202.7,878.4 1200.5,879.4ZM1215,878.4 1219.2,877.2 1220.1,879.4 1215.8,880.6ZM1223.5,878.9 1235.4,874.6 1240.5,872.9 1241.4,875 1235.4,877.2 1224.4,881.1ZM1244,872.1 1250.8,867.8 1255.9,863.6 1257.2,865.3 1251.6,870.4 1245.3,874.3ZM1066.6,738.2 1074,734.5 1075.3,736.9 1067.9,748 1065.4,746.8Z" fill="#e5e5e5"/><path d="M1068.3,262.4 1072.7,259.5 1083.1,256.5 1084.1,259.5 1073.9,264.9 1069,266.4ZM1172.6,311.8 1188.7,311.8 1189.2,316.7 1173.9,316.2ZM1034.5,285.4 1041.9,283.7 1043.1,291.6 1036.9,294Z" fill="#b3b3b3"/>
<path d="M360.4,235.3 940.7,235.3 941.9,226.2 950.6,226.2 951.9,228.5 953.2,230.8 952.1,233.5 954.7,235.7 953.8,238.3 953,241 955.7,239.6 957.4,242.1 959.5,242.9 961.7,243.4 963.9,245.2 966.6,244.9 969,245.8 971.6,245.9 981.4,244.7 983.9,244.9 986.5,244.7 988.9,245.8 991.3,246.6 993.9,247.1 995.9,248.4 997.2,250.7 999.2,252 1001.2,253.3 1011,253.3 1013.1,253.7 1014.2,256.8 1016.5,256.7 1018.9,256.3 1020.9,257 1023.4,256.5 1025.7,255.3 1028.2,254.6 1030.8,254.5 1033.1,254.9 1034.4,257.9 1036.9,257.7 1039.4,257.5 1041.6,258 1043.8,258.9 1045.8,261.2 1048.3,260 1050.7,259.2 1053,259.5 1054.8,262.3 1057.7,260.6 1060.1,260.9 1062.3,261.9 1059.7,262.5 1056.5,261.5 1054.9,264.5 1053.6,268.1 1050.5,267.4 1048,268.1 1046.2,269.9 1044.3,271.5 1041.8,272.3 1039.6,273.6 1037.6,275 1035.7,276.7 1033.8,278.4 1031,278.7 1028.2,279.2 1026.8,281.5 1025.4,283.8 1023.4,285.4 1021.2,286.2 1019.1,287.1 1017.9,289.6 1016.1,291 1013.4,291 1011.6,292.6 1009.8,294 1012,293.2 1014.2,293.1 1016.5,292.5 1018.7,292.1 1020.9,291.6 1030.8,290.3 1033.7,291.4 1032.7,294.8 1034.5,296.5 1043.1,297.7 1045,296.9 1046.4,295.1 1048.9,295.4 1050.5,294 1053,293.8 1055.5,293.2 1058.1,293.8 1060.8,294.5 1062.8,291.6 1065,291 1067.7,291.4 1070.3,291.7 1071,288.2 1072.7,286.6 1074.5,285.2 1076.9,285.1 1078,282.3 1080.2,281.9 1082.6,281.7 1085.4,281.4 1087.9,280.6 1089.8,278.9 1091.2,276.3 1099.4,277.2 1098.3,279.7 1094.9,278.3 1093.1,279.5 1091.2,280.7 1090,282.9 1088.4,284.5 1088.8,287.5 1088,289.6 1085,290.3 1094.9,291.6 1097.3,291.5 1098,294.7 1100.5,294.3 1102.3,295.3 1104.3,296.3 1106.2,297.4 1107.7,299.3 1109.7,300.2 1117.1,301.4 1119.4,301.2 1121.6,300.8 1123.4,298.7 1125.8,299 1127,295.5 1129.5,295.9 1132.1,296.2 1134.4,296 1146.7,295.3 1157.8,294 1157,296.3 1158.1,298.3 1159.1,300.2 1161.1,300.3 1162.8,301.5 1165.1,300.7 1166.5,302.7 1168.9,302.5 1171.2,302.8 1172.6,305.1 1172.7,307.2 1171.2,309.7 1173.9,311.3 1175.1,313.2 1176.2,315 1178.8,315 1164,315 1162.1,315.4 1160.2,315.8 1158.5,317.1 1156.6,317.5 1154.5,317 1151.7,318.6 1149.7,317.9 1147.9,316.7 1146.7,313.8 1136.9,315 1134.2,314.9 1131.6,315.1 1129.1,315.3 1127,317.5 1117.1,318.7 1114.7,318.1 1113.6,319.9 1112.2,321.2 1110.4,322.6 1107.9,323.7 1108.3,326.2 1108.5,328.6 1106.7,330 1106.2,332.1 1106.9,334.7 1104.8,336 1103.5,337.5 1103,339.6 1101.3,340.8 1099.9,342.1 1099,344.1 1097.4,345.5 1098,348.6 1094.3,348.6 1093.7,350.8 1097.4,352 1099.9,351.1 1101.1,348.9 1102,346.3 1104.1,344.9 1106,343.4 1107.8,342.1 1109.5,340.6 1111,339.1 1110.6,335.8 1112.1,334.1 1114.7,333.5 1112.7,334.8 1111.9,336.7 1112.7,339.5 1111,340.9 1110.8,343.1 1111,345.5 1109.9,347.3 1107.3,348.3 1105.8,350.1 1105.5,352.4 1103.8,354.2 1103.5,356.4 1104.7,359.2 1103.8,361.3 1102.3,363.1 1099.8,365 1100.2,367.9 1100.7,370.8 1098.2,372.7 1097.8,375.3 1097.4,377.9 1096.2,392.7 1097.4,407.5 1097.9,410 1096.8,412.8 1099.9,414.7 1099.5,417.4 1099.9,419.9 1102,421.2 1104.2,422.4 1105.1,424.5 1104.8,427.3 1112.2,428.5 1114.7,428.1 1116.4,426.5 1117.2,423.3 1119.2,422.1 1122.1,422.3 1124.4,421 1126.3,419.5 1125.7,416.4 1128.7,415.5 1128.2,412.5 1128.4,410 1127.7,407.2 1128.7,404.9 1130.6,402.7 1130.7,400.1 1131.6,397.4 1131.8,394.8 1129.9,392.6 1128.5,390.3 1128.2,387.8 1126.3,385.7 1125.8,383.1 1124.8,380.7 1125,378 1124.5,375.4 1125.8,363.1 1125.7,360.3 1126.2,357.8 1126.6,355.2 1127,352.6 1128.1,350.2 1130.7,348.3 1131.5,345.8 1132.3,343.3 1135.1,342.5 1136.9,340.9 1138.4,339.5 1138.9,337 1141.2,336.3 1142.9,335.1 1144.3,333.5 1146.9,333.4 1148.4,331.6 1149.9,329.9 1151.7,328.6 1152.8,326.6 1154.5,325.3 1156.5,324.2 1157.8,322.4 1160,321.3 1161.8,319.8 1164,318.7 1171.4,319.9 1173.2,321.1 1175.2,321.8 1177.2,322.6 1179.5,322.3 1181.3,323.6 1182.9,325.2 1185.4,325.8 1187.4,326.9 1188.5,329.1 1189.9,331 1188.9,333.6 1189.2,335.8 1190.9,337.4 1192.5,339.1 1193.6,340.9 1192.4,353.2 1190.9,354.9 1188.9,356.4 1187.8,358.3 1188.6,360.8 1188.7,363.1 1186.8,364.2 1185.1,365.8 1183.4,367.1 1181.3,368 1181.3,370.4 1180.3,372.4 1178.8,374.2 1181.8,373.6 1183.6,374.7 1183.7,377.9 1185.5,376.6 1186.2,374.2 1188.5,373.4 1189.9,371.7 1191,369.6 1192.7,368.3 1194.9,367.9 1196.2,366 1198.5,365.6 1205.9,366.8 1207.2,368.8 1205.2,372 1207.6,373.6 1209.2,375.6 1209.6,377.9 1210.9,392.7 1210.6,395.3 1209.7,397.7 1208.9,400.1 1207.2,402.3 1207.2,405 1205.6,406.7 1205.2,408.9 1204.5,411.1 1204.4,413.5 1202.2,414.9 1202.1,417.6 1201.2,419.8 1198.7,420.9 1197.3,422.8 1196.1,424.8 1194.1,424.9 1192.1,425.2 1191.1,427.3 1193.1,427.9 1194.3,430.8 1196.8,430.1 1199.1,430 1201,431 1203.3,431.3 1205.2,433.3 1207.6,433.3 1209.9,433.7 1212.2,432.5 1214.8,432.5 1217.6,433.1 1219.9,431.8 1222.2,430.6 1224.7,430 1227.1,429.8 1229.4,429.5 1231.5,428.8 1232.6,426.2 1234.5,425 1237,424.4 1239.6,423.9 1241.4,420.9 1244.5,422.1 1246.9,421.1 1249.3,420.1 1251.2,418.8 1254.4,420 1256.1,418.3 1257.5,416 1259.5,415 1261.6,414 1263.9,413.4 1266.3,413 1268.1,411.5 1269.6,409.3 1271.6,408.1 1274,407.8 1275.5,405.8 1276.9,403.5 1279.3,402.6 1281.3,401.2 1283.8,400.4 1284.7,398.8 1284.7,396.8 1286.3,395.5 1284,394.5 1282.5,392.7 1281.4,390.5 1281.6,388 1282.6,385.6 1285,386.2 1287,384.6 1289.3,384.6 1291.5,384.2 1293.7,383.9 1296.3,383.2 1298.6,384.4 1301.1,384.8 1303.7,382.7 1306,384.6 1308.4,385.8 1310.9,385.6 1328.2,384.4 1329.9,382.8 1332.8,383.6 1334.6,382.2 1335.9,379.9 1338.1,379.4 1339.8,377.7 1340.5,375.3 1341.8,373.3 1339.7,372 1337.1,371 1337.9,368.3 1338.1,365.9 1338.8,364.1 1340.7,363.6 1341.8,362.2 1344,361.3 1345.7,359.5 1347.9,358.5 1349,356.2 1352.2,355.5 1354.5,354.2 1355.3,351.7 1355.3,348.6 1357,347.1 1358.3,345 1360.3,344.1 1362.7,343.7 1365.1,344.4 1367,343.6 1368.4,341.9 1370.1,340.7 1380,341.2 1402.2,340.7 1439.2,340 1439.4,337.6 1441.2,336.4 1442.9,335.1 1444.1,333 1446.5,332.6 1449,332.6 1450.9,331.7 1453.1,331.5 1455.2,331.1 1456.4,328.9 1457.7,327.1 1458.6,325 1460.1,323.4 1461.3,321.5 1464,320.6 1465.1,318.7 1464.5,315.6 1466.3,314.1 1467.5,306.7 1469.7,305.5 1470.5,303.6 1473.7,302.9 1471.2,299.3 1471.6,297.4 1472.5,295.9 1473.7,294.4 1475,292.3 1476.8,290.6 1477.7,288.2 1478.4,285.6 1481.1,284.5 1481.2,281.5 1483.1,280 1484.8,278.3 1487.2,277.1 1488.7,275.5 1490.9,275.1 1490.1,278.5 1493.4,279.6 1495.6,281.1 1498.3,280.8 1500.7,281.2 1502.7,279.7 1504.9,279.3 1507,278.4 1509,278.2 1511.1,278.1 1513.1,278.4 1514.5,280.7 1516,282.9 1518.1,284.5 1520.5,285.7 1520.5,304.2 1521.7,321.5 1523.3,323.2 1526,323.8 1526.7,326.4 1527.9,333.8 1530.4,334.4 1532,336.2 1534.1,337.5 1534.9,339.5 1535.9,341.4 1535.3,343.7 1533.4,345.1 1532.6,347.5 1530.4,348.6 1528.1,349.8 1525.3,349.3 1523,350.5 1520.5,351.1 1518,351.1 1516.4,352.5 1515.6,354.8 1513.4,355 1511.1,355.1 1510.6,358.7 1508.2,358.5 1506.1,357.3 1503.4,357.2 1502,354.8 1500.1,355.7 1498,356 1495.9,356 1494.2,357.5 1494,359.5 1492.3,361 1493.4,363.4 1491.5,364.7 1489.4,365.4 1487.2,365.9 1485.6,367.1 1483.5,367.5 1482.3,369.2 1481.1,370.8 1479.3,372.2 1477.2,373.1 1474.9,373.3 1473.4,375.5 1470.6,374.4 1468.7,375.7 1466.8,377.4 1465.5,379.4 1465,381.9 1463.6,383.3 1462.9,385.3 1461.8,386.9 1460.1,388.1 1458.2,389.2 1457.9,391.6 1456.4,393 1457.3,395.4 1456.4,397.9 1455.2,400.3 1454.7,402.5 1457.6,404.1 1456.2,405.1 1454.6,406.1 1453.9,407.8 1452.9,409.3 1450.9,410.4 1451.5,412.7 1453.5,414 1454.9,415.9 1456.4,417.7 1457.2,419.6 1457.5,422 1460.1,422.6 1461,425 1461.3,427.5 1462.4,428.9 1464,429.7 1465,431.2 1467.3,431.4 1469.5,431.9 1471.2,433.7 1472.1,431.7 1473.8,429.9 1473.7,427.5 1472.5,425.9 1471.4,424.1 1471,422.2 1471.2,420.1 1468.7,417.7 1472.4,418.9 1472.9,421.2 1473.1,423.5 1475.5,425.1 1475.6,427.5 1474.8,429.9 1475.5,432.6 1473.9,434.9 1473.7,437.4 1471.8,438.8 1469.9,439.8 1467.5,438.6 1465.1,438 1463.1,436.5 1461.3,434.9 1458.8,436 1456.4,434.9 1454,434.1 1451.5,433.4 1449,432.8 1446.5,432.4 1444.5,433.4 1442.9,434.9 1440.4,434.9 1438.5,436.6 1436.3,437.3 1434,437.9 1431.8,438.6 1417,439.8 1402.2,441.1 1401.2,443.7 1398.9,443.7 1397.1,444.9 1394.8,444.8 1393.7,447 1392.1,448.7 1389.8,449.7 1387.4,449.7 1387.8,452.2 1388,454.7 1388.2,457.3 1389.7,459.6 1390,462.1 1388.7,474.4 1387.2,476.1 1386,478 1385.7,480.3 1384.8,482.3 1383.8,484.3 1382,485.9 1380.5,487.8 1379,489.6 1378.3,491.9 1377.6,494.2 1375.3,495 1372.3,495 1371.7,497.5 1371.5,500.3 1369.1,500.2 1369.6,497.2 1367.8,496.6 1366,495.5 1363.6,494.9 1360.9,494.7 1361,491.5 1360.4,489.2 1359.1,479.3 1361.2,478.3 1362.9,477 1362.8,474.4 1361.6,476.7 1358.8,477.9 1357.9,480.5 1357.2,483.1 1355.6,485.1 1356.4,487.4 1357.1,489.7 1358.1,491.9 1359.1,494.1 1360.6,496.1 1364.2,496.1 1364.2,499.7 1366.3,501.2 1367.2,508.4 1367.3,510.7 1365.9,512.8 1366.4,515.2 1365.4,517.3 1364.4,519.3 1363.7,521.4 1364.1,524 1361.8,525.4 1360.3,527.2 1358.6,528.9 1358.7,531.7 1358.6,534.4 1355.6,535.3 1355,537.6 1354.5,539.9 1352.7,541.5 1351.1,543.3 1350.3,545.1 1347.9,546.2 1347.5,548.1 1348,550.5 1347.4,548.4 1347.4,546.3 1347,544.2 1345,540.9 1346.1,538.7 1349.3,537.1 1349.4,534.6 1350.7,532.6 1352.3,530.8 1351.9,528.6 1351.3,526.5 1350.2,524.5 1350,522.2 1347.9,521 1347,519.1 1346.4,516.6 1345.3,514.4 1344.4,512 1343,503 1342.3,494.9 1341.3,492.8 1340.3,490.8 1337.6,489.6 1336.4,491.2 1335.8,493.2 1336.7,503 1337.3,512 1338.5,519.1 1339.8,526.3 1340.7,528.6 1340.9,531.1 1341.6,533.5 1343,540.6 1343.3,542.4 1342.6,544.4 1343.9,546 1343.4,548.3 1342.7,550.5 1341.2,553.2 1343.5,553.5 1345.7,556 1348,553.2 1348.2,555.6 1348.7,558 1349,560.4 1351.1,562.2 1352.7,564.2 1352.3,566.7 1352.4,569.1 1353.8,571.1 1354.1,573.5 1353.8,576.1 1354.2,578.5 1354.7,580.9 1357,582.8 1356.5,584.9 1354.8,586.3 1353.8,588.1 1352.7,590 1350.1,590.4 1349.3,592.6 1347.4,594.3 1345.7,596.2 1345.9,598.5 1344.5,600.1 1344.1,602.2 1342.1,603.4 1340.1,604.6 1339.5,606.8 1338.5,608.7 1338.6,611.8 1336.7,612.8 1334.1,613.2 1331.8,613.2 1330.1,614.2 1328.7,615.9 1292.4,634.5 1291,636.6 1288.7,637.8 1286.6,639.2 1284.3,640.3 1283.7,643.2 1281.8,644.9 1280.4,647 1280.3,649.8 1278.8,651.8 1276.9,653.1 1275,654.4 1273.5,656 1271.6,657.4 1270.2,659.2 1269.1,661.4 1266.8,662.2 1265,663.7 1263.1,664.9 1261.5,666.6 1259.6,667.9 1257.8,669.4 1255.6,670.3 1253.3,671 1251.7,672.8 1250,674.6 1247.9,675.8 1246.6,677.9 1244.3,679 1242.7,680.6 1241.6,682.5 1241.4,685.1 1239.3,686.4 1237.4,687.9 1237.6,690.4 1236.4,692.3 1236.4,694.7 1234.4,696.2 1235,698.7 1233.2,700.3 1233.7,702.7 1233.7,705 1230.7,706.1 1230.7,718.4 1231.4,720.8 1233.4,723 1233.4,725.6 1231.7,728.5 1233.2,730.8 1234.3,733.2 1234.5,735.8 1234.8,738.4 1235.7,740.8 1236.9,743.1 1237.7,745.5 1236.9,748.5 1238.4,750.7 1239.3,753.1 1240.6,755.4 1241.3,757.9 1243.4,759.9 1243.4,762.7 1244,765.2 1244.3,767.9 1245.5,770.2 1245.7,772.8 1245,775.8 1248.6,777.4 1249.3,779.9 1249.2,782.6 1248.2,779.2 1249.4,781.3 1251,783.3 1251,785.9 1251.8,788.2 1252.4,790.5 1253.3,792.8 1255.4,794.7 1256.9,796.9 1257,799.6 1257.6,802.1 1257.6,804.8 1258.8,806.7 1259.4,808.7 1260.2,810.7 1261.4,812.6 1261,815 1261.8,825.2 1261,837.1 1259.3,838.9 1260.1,841.2 1259.2,843.1 1258.8,845.2 1259.3,847.4 1257.6,849.2 1257.6,851.7 1257.6,854.1 1255.9,855.9 1254.4,857.4 1253.2,859 1252.5,861 1251.3,864.3 1249.7,866.8 1245.7,864.4 1243.8,865.2 1241.8,865.7 1239.7,865.3 1238.2,863.3 1237.1,861 1236.8,858.8 1235.1,857 1237.2,854 1234.6,852.5 1234.2,850.4 1234.1,848.1 1232.3,846.8 1230.3,845.7 1227.4,846.3 1226.4,844.1 1225.2,842.2 1224.1,840.2 1224.1,837.9 1223.3,835.8 1222.7,833.7 1222.1,831.1 1219.9,829.4 1219.2,826.9 1218,824.8 1217.3,822.4 1216.7,820.1 1214.8,819.6 1213.3,818.5 1212.4,816.7 1211.8,814.2 1212.2,811.1 1209,809.9 1208,807.7 1208,805.1 1206.5,803.1 1205.1,801.6 1204.8,799.8 1205.6,797.9 1205.1,795.5 1204.7,793.1 1203.1,791.1 1203.1,787.7 1202.8,785.5 1204.1,783.6 1204.8,781.6 1206.2,779.8 1205.6,777.5 1206.5,767.3 1206.4,765 1205.9,763 1204.1,761.5 1203.1,759.6 1201.5,758.3 1199.2,758.1 1197.3,757.3 1196.2,755.3 1193.6,754.6 1191.6,753.4 1190.5,751.6 1191.1,748.5 1189.7,746.9 1188.6,745.1 1186.3,744.1 1186,741.7 1185,738.2 1183.1,737.4 1181.5,736 1179.9,734.5 1177.6,734.5 1170.2,734.5 1168.3,735.8 1166.2,736.8 1164.5,738.4 1162,738.8 1160.4,740.6 1158.9,742.6 1156.7,742.7 1155.4,745.5 1152.4,743.4 1150.5,744.3 1150.3,742.1 1147.1,741.4 1146.6,739.3 1146.8,736.9 1144.3,735.9 1141.6,735 1140.9,732.4 1140.6,729.5 1138.3,728.9 1137,726.6 1134.6,726 1132.2,725.5 1130.8,723.4 1120.9,722.1 1111,722.1 1108.6,722.8 1106.1,723.4 1104.1,724 1101.9,724.2 1100.1,725.3 1098.7,727.1 1096.8,725.3 1095.6,723.2 1095.4,720.8 1094.6,718.6 1095,716 1092.5,716 1091.3,728.3 1089.7,727 1087.6,727 1085.7,726.5 1083.9,725.8 1074,725.8 1072.3,726.8 1070.4,727.2 1068.9,729.1 1066.6,728.3 1063.9,728.7 1063.7,731 1063.2,733.2 1061.7,734.5 1064.4,734.3 1065.6,736.1 1066.6,738.2 1066.7,740.7 1065.1,742.3 1062.8,743.6 1061.9,745.6 1061.7,748 1063.7,749.2 1064.4,751.8 1066.6,752.7 1068.5,754 1070.3,755.4 1071.6,759.1 1069.7,760 1068.1,761.4 1066,761.8 1064.2,762.8 1062,761.6 1059.5,760.6 1060.3,757.3 1059.2,755.4 1057.2,754.7 1055.6,753.6 1054.5,751.8 1053,750.5 1052.5,752.5 1052.6,754.9 1051.1,756.5 1049.3,757.9 1047.2,758.1 1045.6,756.6 1043.6,756.4 1041.9,755.4 1040.2,756.9 1037.8,757.4 1037,760.1 1034.5,760.4 1031.8,759.9 1030.7,757.4 1029.6,754.9 1027.1,754.2 1025.3,752.6 1022.9,751.7 1022,749 1019.7,748 1018.1,746.1 1016.9,743.9 1013.5,744.2 1012.3,741.9 1004.9,743.1 1003.4,744.5 1002.3,746.5 1000,746.8 1002,745.4 1004.4,745.5 1006.8,745.7 1008.8,744.2 1011,743.5 1013.3,743.1 1011.2,741.1 1008.4,741.9 1006.3,743.1 1005,745 1003.5,746.8 993.6,745.6 991.3,744.5 988.8,743.7 985.9,744.5 983.5,743.5 981.3,741.9 968.9,743.1 966.8,743.7 964.5,744 963.1,746.4 961.2,747.5 959,748.1 956.6,748 955.6,750.3 953,750.3 951.1,751.2 948.9,751.9 948,754.2 945.4,752.6 945.1,750.5 946.7,748 949.2,747.5 948.8,744.7 949,742.2 951.7,741.9 949.9,742.5 947.6,742 946.7,744.3 945.3,746.1 945.7,748.7 944.3,750.5 943.1,752.8 943,755.4 941.2,757 939.6,758.8 938,760.6 936.9,762.8 934.6,763.5 932,763.9 929.7,764.5 928,766.2 927,769 925.1,769.9 923.8,772.4 921.3,771.8 919.6,773.4 917.1,772.7 916.3,774.1 913.5,773.4 912.9,776.1 912.1,778.7 909.5,778.3 908.8,780.9 906.5,781.5 904.4,782.3 902.7,783.5 900.8,784.4 899.4,785.9 898.4,787.7 898.6,790.2 896.9,792.1 896.7,794.5 896.7,796.8 897.4,799.4 895,801 894.2,803.1 893.3,805.1 894.1,807.5 893.5,809.6 892.5,811.6 892,814.3 891.8,817 894,819.2 894.2,821.8 894,824.1 897.6,825.2 897.3,827.6 897.1,829.9 897.6,832 898.3,834.3 898.8,836.7 900.9,838.7 900.1,841.4 898.1,842.8 895.9,844 894.4,842.9 892.3,843.4 890.8,842.2 888.7,841.7 886.5,841.5 883.9,843 882.2,840.5 879.8,840.5 877.7,839.1 875.4,838.8 872.6,839 870.7,837.5 869,835.8 866.9,834.6 864.5,834.8 862.6,833.9 861.3,831.8 859.2,831.2 859,828.6 856.9,826.7 857.2,823.9 855.8,821.8 855,819.5 854,817.4 854,814.8 851.6,813.3 850.7,803.1 850.5,801.1 849.7,799.3 848.2,797.9 847.4,795.6 846.2,793.7 845,791.6 842.2,791.1 840.9,789.5 838.2,788.8 839.1,785.7 838.1,783.8 836.2,782.6 835.3,780.2 834,778.2 832.4,776.2 831.1,774.1 830.3,772 828.5,770.4 828.8,767.9 827.9,765.9 826.9,763.9 825,762.1 824.5,759.7 823.3,757.6 822.6,755.3 820.9,753.6 819.6,751.5 819.4,748.3 815.8,748.5 813.6,747.7 812.7,745.7 811.7,743.7 809.8,742.6 798.7,741.9 790.1,740.6 788.1,741.8 785.4,742.2 784.5,744.6 783.2,746.6 781.4,748 780.8,750.5 781.7,753.3 779.3,755.4 779,757.9 778.2,760.4 775.8,761.3 774,762.8 771.9,760.9 769,761.4 766.6,760.4 764.5,759.3 762.5,758.2 761.5,755.3 759.2,754.7 756.7,754.2 754.2,753.8 753.5,751.3 752.6,749 749.2,749.5 746.8,749.1 746.9,745.6 747.5,742.5 745.8,740.8 742,740.4 742.2,737.5 740.7,735.7 741.1,732.9 737.6,731.3 738.9,728.2 738.5,725.6 737,723.4 735.3,721.8 733.2,720.6 732,718.5 729.8,717.4 728.6,715.3 727.1,713.5 725.3,712 723.4,710.6 722.4,708.4 721.4,706.1 719.7,704.4 717.3,703.6 715.9,701.7 715.4,698.9 712.2,698.9 710.7,697.1 709.1,695.3 707.4,693.8 706.6,691.6 703.2,692 702,690.4 700.9,688.5 700,686.4 701,688.8 667.7,688.8 667.7,700.7 607.3,701.2 528.3,670.3 528.9,668.4 531.4,667 529.5,664.6 480.2,668.6 479.5,666.2 478.4,663.9 477.8,661.4 476.5,659.2 476.3,656.9 474.9,655.1 475.4,652.4 472.4,651.3 471.6,649.3 470.9,646.9 469.8,644.9 468.6,642.9 467.3,641 464.2,640.7 462.1,640.2 460.3,638.9 458.4,638.1 456.2,638 454.3,637 452.5,635.9 450.8,634.7 450.7,632.2 449.3,630.8 446.3,631.9 443.6,631.9 441.5,629.9 439.6,627.4 437,627.1 435.1,625.6 434.1,623 431.8,622.1 429.6,621 427.1,621 424.4,622 422,620.7 419.9,618.1 417.4,618.3 414.8,618.5 412.3,618.5 410.5,616.6 407.9,616.9 406.2,614.8 406.1,602.7 404,601.4 404.1,598.7 402.9,596.8 401.2,595.3 400.6,592.9 399.4,590.8 397.8,589 396.6,586.9 394.9,585.1 393.8,583 393,580.5 390.2,579.5 387.4,578.5 386.5,576.1 386.4,573.1 385.8,570.9 383.9,569.7 380.7,569.4 382.5,565.5 380.2,564.5 379,553.4 376.8,552.3 375.2,550.6 374.2,548.3 372.7,546.5 370.8,545.1 369.1,543.5 367.9,533.6 365.4,532.7 364.6,530.4 362.5,529.3 361.4,527.2 360.4,525 359.8,522.5 358,520.9 356.7,518.8 354,517.7 352.4,515.9 352,513.1 351.2,510.7 349.3,509 346.9,507.7 345.8,505.5 344.8,503.1 344.1,500.6 341.9,499.1 341.8,496.6 341.3,494.1 340.4,491.7 340.3,489.1 339.5,486.7 339.7,484.3 338.9,482.2 338.1,480 339.5,477.4 338.1,475.3 337,473.2 334.8,471.9 333.7,469.5 331,468.8 329.1,467.2 328.4,464.5 327.1,454.7 328.6,452.4 329.1,449.9 330.4,447.6 331.2,445.1 330.8,442.3 332.1,430 332.1,429.7 331.1,427.6 331.4,425.2 330.6,423.1 330.5,420.8 330.1,418.6 329.5,416.5 328.5,414.5 327.6,412.5 326.6,402.6 324.6,401 324.6,398.6 324.2,396.4 324.7,394.2 325.7,392.1 324.9,389.6 325.9,387.5 326.6,385.3 326.9,382.8 327,380.3 327.5,377.8 328.1,375.4 329.1,373 328.5,370.4 328.6,367.8 329.1,365.4 330.6,363.1 331,360.6 331.6,358.2 333,355.9 333.6,353.4 333.6,350.9 333.5,348.4 332.3,345.8 333.3,343.4 334.5,328.6 335.2,326.2 336.8,323.9 335.5,321.2 337.4,318.9 337.5,316.4 337,313.8 335.8,306.8 334.5,305.1 335.4,303.2 335.6,300.9 336.5,299 337,291.6 336.1,289.7 334.4,288.3 333.9,286.2 333.3,284.2 332.6,281.9 331.9,279.7 329.9,277.9 330.6,275.2 329.6,273 327.9,271.3 327.2,269.1 326.4,266.8 324.7,265.1 323.4,263.2 324.8,260.5 323.7,258.4 322.9,256.2 321.4,254.2 320.5,252.1 322.8,252.8 325.4,251.9 327.5,253.6 329.8,253.7 332.1,254.5 334.6,254.6 336.9,256 339.2,257.2 341.9,256.7 344.4,257 355.5,258.2 356.7,256.3 357.5,254 360.5,255.3 359.9,252.5 361.5,250.2 361.4,248.4 361.3,246.6 359.9,245.2 358.8,242.5 360.5,240.1 360.4,237.6 360.2,235.1ZM1389.8,450.2 1397.2,447.2 1409.6,444.8 1421.9,442.3 1433,443.5 1421.9,447.2 1409.6,450.2 1397.2,452.7 1390.3,452.7Z" fill="none" stroke="#000" stroke-width="3.7" stroke-linejoin="round" stroke-linecap="round"/>
<path d="M335.8,306.8 337.9,308 340.3,307.2 342.6,307 344.8,307 346.9,308.3 349,309.7 352.1,308.9 354,310.6 355.8,312.6 358,313.8 358.8,315.7 358.6,318.1 359.1,320.1 360.9,321.7 361.7,323.6 364.4,323.3 367.1,323.2 369.2,325.1 371.6,326.1 374,325.4 376.5,324.9 378.8,323.4 381.6,324.2 383.9,323.1 386.5,323.4 389,323.7 391.2,321.7 394.1,324.2 396.4,323.1 398.7,321.2 408.6,321.2 410.9,319.8 413.6,320.6 416,319.8 418.3,318.6 420.9,318.7 423.3,317.6 425.9,317.7 428.4,317.5 430.9,317 433.3,316.1 435.6,314.8 438.2,315 457.9,313.8 483.8,313.8M481.8,235.3 481.8,313.8M483.8,313.8 485.5,315.5 487.6,316.7 489.5,318.2 491.2,319.9 491.5,322.2 491,324.8 493.7,326.1 493.2,328.3 491.1,329.8 491.1,332.2 489.2,333.8 488.7,336 487.2,337.7 486.4,339.7 485.3,341.7 485.2,344 483.8,345.8 482.7,347.7 480.4,348.6 479.6,350.8 478.4,352.6 476,354.2 478.1,356.9 480.2,357.8 481.8,359.3 482.7,361.3 483.8,363.1 483.1,364.7 482.9,366.5 481.8,368 481.8,418.1M329.6,418.3 607.4,418.3M502.3,235.3 502.3,264.4 503.9,266.4 505.1,268.5 505.2,271.3 507.3,273 508.8,274.7 510.9,275.9 511.8,278.1 514.9,278.5 514.7,281.7 516.8,282.4 518.8,283.2 520,285.2 522.8,285 523.3,287.9 525.1,289 527.5,289.3 528.3,291.8 529.7,293.4 531.9,294 534.2,294.9 535.9,296.7 538.1,297.7 538.1,306.4 538.1,308.7 536.7,310.3 535.3,311.9 534.4,313.8 535.6,323.6 536.6,325.7 538.8,326.2 540.6,327.3 541.5,324.2 544.5,324.5 546.7,323.6 548.9,325.1 550.1,327.2 550.4,329.8 551.9,331.9 551.6,335 553.4,336.8 554.2,339.3 556.6,340.9 558.4,342.5 561.2,342.9 562.3,345.4 564,347.1 564.8,349.2 566.7,350.6 569,351.8 568.9,354.5 578.8,354.5 581.6,356.4 584.3,357.6 586.6,356 588.9,354.5 591.1,352.7 593.5,352.9 595.8,352.7 597.4,350.1 599.8,350.3 601.9,348.3 604.8,349 607.2,348.3M419.4,418.3 419.4,499.1 530.7,600.2M544.9,418.3 545,573.1 543.1,574.2 542,575.7 543,578 534.4,576.8 532.4,577.4 531.2,578.9 530,580.5 529.5,590.4 530.7,600.2 530.8,602.4 530.6,604.9 532.1,606.4 534.4,607.6 534.5,610 534.6,612.4 537,613.7 537.3,616 539.3,617.5 540.8,619 542.4,620.6 541.4,623.4 543,624.9 541.6,627.4 539.3,628.3 536.5,628.2 534.5,629.6 533.2,639.5 532.3,641.9 532.2,644.4 532.3,647.1 530.8,649.3 531,651.9 531.2,654.5 532.3,656.8 533.2,659.2 532.8,661.5 532.3,663.9 529.5,664.6M544.9,551.4 954.3,551.4M607.4,340.9 755,340.9M607.4,340.9 607.4,445.5M607.4,445.5 797.4,445.5M755,235.3 755,445.5M650.2,445.5 650.2,700.6M797.4,445.5 797.4,551.4M797.4,472.6 937,472.8M754.9,315.7 913.8,315M754.9,393.9 871.4,393.9 873,394.7 874.7,395.5 876.3,396.4 877.9,397.9 879.9,398.1 881.5,399.6 883.7,399.6 885.6,398 887.5,396.1 890.1,397.8 892.4,397.6 899.8,398.1 901.8,398.6 904,398.7 905.6,399.9 907.2,401.3 909.9,401.5 911.8,402.9 913.3,405M899.8,235.3 901.4,237.4 901.4,239.9 902.2,242.2 902.2,244.7 902.2,247.1 902.8,249.6 903,252.1 905.6,254.1 905.3,256.8 905.7,259.3 905.9,261.9 907.2,264.2 907.6,266.7 907.1,269.3 907.1,271.8 906.3,274.5 908.4,276.7 909.6,291.6 910.5,294 911,296.5 909.7,299.5 911.9,301.5 912.9,303.9 913.8,315 913.3,317.3 911.4,318.7 910.3,320.6 909.2,322.5 907.2,323.6 908.4,324.8 909.6,326.2 910.9,327.3 913.5,327.9 915.3,329.8 915.8,343.4 915.8,380.4 914.6,382.6 912.1,382.8 912.8,384.6 914.6,386.1 915.2,387.9 914.6,390.2 913.7,391.9 913.2,393.9 913.5,396 912.1,397.6 913.9,399 915.1,400.7 916.1,402.4 914.6,405 916,412.5 916.5,414.7 916.7,417 917.6,419 918.6,421 920.2,422.7 921,424.8 921.6,427 922.3,429.2 923,431.4 924.2,433.4 925.7,435.4 925.5,437.8 925.9,440.1 925.9,442.3 926.3,444.9 928.3,447 928.8,449.5 929.2,452.1 929.6,454.7 930.5,456.9 933.3,458.1 935.3,459.7 936.7,461.6 937.5,463.9 937,467 939.3,468.1 940.3,470.6 942.9,471.4 943,474.8 945.6,475.6 945.6,483 946.6,485 947.4,487.2 949,488.8 950.6,490.4 951.1,492.6 952.4,494.2 954.3,495.4 954.3,564.5M915.8,380.4 1024.6,380.4M929.6,455.4 1018.4,455.4 1018.7,457.7 1019.3,459.8 1020.2,461.8 1022.1,463.3M1009.8,294 1007.8,294.6 1005.5,294.6 1004,296.2 1002.4,297.7 1002.4,311.3 1000.9,312.9 998.2,312.7 997.1,314.8 995.3,315.9 993.8,317.5 990.8,318.5 990.9,321.3 990.1,323.6 991.2,325.3 992.7,326.9 994,328.6 993.8,331 992.5,345.8 993.6,348 995.5,349.6 997,351.5 998.7,353.2 1001.4,353.3 1002.9,355.3 1005.2,356.1 1007.7,356.5 1008.6,359.4 1010.6,360.4 1013.2,360.8 1013.2,364.1 1016.1,364.1 1017,366.3 1018.4,368 1020.2,369.6 1021.7,371.3 1023.3,373 1022.3,376 1023.4,377.9 1025.2,379.5 1026.5,381.3 1026.8,383.6 1027.8,385.6 1028.3,387.8 1027.1,395.2 1028.1,397.4 1030.4,398.7 1032.9,399.7 1033.2,402.6 1034.4,404.3 1035.1,406.6 1036.7,408 1039.2,408.5 1040.6,410 1041.4,412.2 1042.5,414 1044.7,414.7 1046.1,416.3 1048,417.4 1047.5,419.9 1046.9,422.3 1045.8,424.6 1045.1,427 1045.6,429.7 1043.7,430.9 1041.8,432.1 1041.3,435.2 1038.2,434.7 1036.4,436.6 1033.8,437.3 1032,439.2 1029.5,439.9 1028.3,447.3 1027,449.1 1026.3,451.2 1025.3,453.1 1024.3,455.1 1023.4,457.1 1021.4,458.4 1020.4,460.2 1020,462.4 1019.7,464.5 1020.9,476.9 1023,478.3 1023.6,480.7 1025.7,482.1 1025.5,485 1027.1,486.7 1029,487.8 1030.8,489 1032.1,490.7 1033.8,491.9 1034.5,494.2 1035,496.2 1035.8,498.2 1037.5,499.6 1038.2,501.6 1046.8,502.8 1047.7,504.8 1046.1,507.2 1048,509 1045.9,510.3 1044.5,512 1043.6,514.1 1043.1,516.4 1043.2,519 1045.2,520.4 1046.8,521.9 1048,523.8 1050,525.2 1052.7,525.8 1054.9,527 1055.4,530.4 1057.9,531.2 1059,533.1 1061,534.4 1062.1,536.4 1062.8,538.6 1064.1,546 1066.3,546.4 1068.4,547 1070.2,548.4 1069,555.8 1067.8,557.6 1067.8,560.2 1067.5,562.6 1065.1,563.5 1062.8,564.5 1062.1,566.7 1062.2,569.3 1060.7,571.2 1059.1,573.1 1058.8,575.7 1057.6,578.1 1056.7,580.5 1055.9,582.4 1053.9,583.7 1052.4,585.3 1053,587.9 1051.3,589.1 1050.2,590.7 1048.5,591.9 1048,594.1 1046.8,596.1 1045.9,598.1 1045.1,600.2 1045.6,602.7 1045,604.7 1043.2,606.1 1042.1,607.9 1041.9,610.1 1040.6,611.8 1040,613.8 1039.4,615.8 1038.2,617.5 1036.8,619.1 1036.5,621.3 1036.3,623.5 1034.5,624.9 1032,625.9 1030.1,627.3 1030.4,630.2 1029.5,632.3 1027.7,634.5 1029.6,637.6 1027.8,639.7 1027.1,642.2 1028.2,640.1 1029,637.9 1029.3,635.6 1030.8,633.6 1031.6,631.4 1030.7,628.7 1031.1,626.4 1032.9,624.5 1033.3,622.2 1032,624 1032.5,626.4 1032.8,628.8 1030.8,630.3 1029.6,632.1 1029.5,634.3 1029.2,636.4 1028.5,638.4 1026.9,640 1025.9,641.9 1025.9,656.7 1028.1,658.1 1027.7,660.6 1028.6,662.5 1028.4,664.8 1029.6,666.6 1030.8,674 1030.4,676.4 1029.6,678.5 1027.3,679.7 1025.9,681.4 1024.2,682.8 1023.6,684.9 1023.1,687 1022.2,688.8 1020.2,690.5 1018.6,692.4 1018.3,694.9 1018.5,697.5 1018.1,699.7 1016.1,701.5 1015.5,703.6 1016,706.1 1017.5,707.8 1018.5,709.8 1058,709.3 1056.1,711.2 1054.8,713.3 1055,715.8 1055.5,718.4 1055.7,721 1055.7,723.6 1057.2,725.9 1058,728.3 1059.2,735.7M1044.3,406.3 1097.4,406.3M1034.5,299 1037,299 1038.8,301.2 1041.7,300.2 1044.2,300.3 1046.4,301.3 1048,303.9 1050.4,305 1052.6,306.6 1055.4,306.3 1057.5,308.4 1059.6,310.1 1062.1,310.9 1065.3,309.5 1067.8,310.1 1070,311.7 1072,314.2 1075,312.8 1077.9,311.5 1080,313.7 1082.6,313.8 1084.4,315 1086.5,315.6 1088.5,316.1 1091,315.5 1092.5,317.5 1094.1,319.4 1094.6,321.7 1095,324.1 1096.2,326.1 1096.4,328.3 1096.6,330.5 1098.7,331.8 1099.9,333.5 1100.7,335.5 1100.2,338.1 1102.3,339.7M1123.3,424.8 1161.3,424.8 1161.3,426.8 1191.1,426.8M1103.5,428.5 1103.6,494.2 1104.8,504 1104.8,506.5 1103,508 1102.7,510.4 1101.1,512 1099.9,513.9 1097.3,514.8 1096.1,516.7 1095.9,519.3 1094.9,521.3 1094.5,523.4 1094.7,525.8 1092.9,527.2 1091.2,528.7M1161,425 1160.3,501.6M1070.2,549.7 1071.2,547 1073.3,546.6 1075.5,546.5 1077.6,546 1080.1,546.5 1082.4,547.4 1083.8,549.7 1085,539.8 1087.7,539.6 1090.1,539 1091.2,536.1 1091.2,528.7 1093.7,530.3 1095.8,530.1 1097.4,527.5 1104.8,528.7 1112.2,529.9 1114.1,528.5 1115.5,526.6 1117.1,525 1118.9,526.6 1121,527.2 1123.3,526.2 1125.1,524.7 1127.9,524.3 1128.2,521.3 1130.3,521.6 1132.3,522.2 1134.4,522.5 1136.7,521.7 1138.3,520.3 1139.5,518.4 1140.6,516.4 1142.7,515.9 1145.9,516.7 1146.1,513.7 1146.7,511.4 1148.9,510.3 1150.6,508.7 1151.7,506.5 1153.6,506 1156,507.1 1157.5,505.4 1159.1,504 1161.5,502.1 1160.7,499.1 1161.5,496.6 1168.9,497.9 1170,499.5 1172,500.5 1172.6,502.5 1173.9,504 1175.5,505.5 1177.1,506.8 1179.1,507.4 1181.3,507.7 1191.1,507.7 1193.2,506.9 1195.1,505.2 1197.7,506 1199.8,505.3 1201.8,506.6 1203.2,508.8 1205.9,509 1180,504 1182.4,503.4 1183.8,504.7 1184.9,506.5 1187.3,505.3 1189,507.5 1191.1,507.7 1193,506.4 1194.9,505.2 1197.3,505.9 1199.9,506.6 1202.2,505.3 1203.7,507.3 1204.9,509.5 1206.5,511.4 1208.1,512.9 1209.6,514.5 1211.8,513.9 1213.1,512.3 1213.9,510.2 1215,508.2 1215.7,506.1 1216.4,504 1218.3,502.9 1219.9,501.6 1219.5,499.1 1221.5,497.8 1223.8,497.2 1225.8,495.9 1225.5,493 1227.5,491.7 1228.5,490.1 1229.8,488.9 1231.8,488.6 1233.6,486.9 1236,486.7 1238,485.5 1238.3,482.7 1239,480.1 1242.3,479.3 1243.3,477.5 1243.1,475.3 1244.4,473.6 1245.4,471.9 1246.1,469.5 1246,466.8 1247.2,464.5 1247.9,456.5 1250.9,454.7M1207.8,515.1 1208.2,517.2 1207.1,519.2 1207.8,521.3 1208.8,523.4 1209.7,525.5 1210.8,527.5 1211.6,529.4 1213.6,530.3 1215.5,531.3 1215.8,533.6 1217.7,535 1218,537.9 1220.7,538.6 1220,538.6 1196.1,560.8M1250.9,421 1250.9,480 1352.9,479.6 1355,478.3 1358.1,477.9 1357.9,474.4 1360.6,474.8 1362.8,473.2M1266.6,414 1265.7,415.9 1266.6,417.7 1266.6,419.6 1357.8,419.6 1360.5,419.8 1363.4,419.7 1364.1,422.6 1365.2,425 1367.3,425.9 1369.4,426.7 1369.9,429.2 1371.1,431 1372.6,432.4 1373,434.6 1371.8,436.2 1369.7,437.6 1370.1,439.8 1368.2,441.2 1367.8,443.6 1365.8,444.9 1365.2,447.2 1364,454.6 1366.9,455.3 1368.2,457.4 1369.4,459.5 1370.1,462 1369.7,464.3 1371.9,465.8 1373,467.6 1372.6,469.9 1371.5,462.1 1370.5,464.2 1368.5,465.7 1368.7,468.6 1366.8,470.1 1365.3,471.9 1362.8,474.4M1372.6,433.7 1374.6,435.2 1376.7,436.7 1379.2,437.6 1380.3,440.1 1381.9,442.1 1383.5,444.1 1385.4,445.7 1387.4,447.2M1402.2,340.7 1402.7,356 1402.4,358.5 1402.9,361.1 1402.1,363.5 1400.8,365.8 1400.9,368.3 1401.3,370.8 1401.2,373.4 1401.1,376 1402.1,378.4 1403.4,380.7 1404.6,399.2 1404.3,401.7 1404.6,404.3 1402.5,406.5 1402.5,409 1402.3,411.5 1401.7,414 1400.8,416.3 1400.9,418.9 1400,421.1 1400.5,423.5 1400.2,425.9 1398.5,428 1399.4,430.5 1399,432.8 1399.3,435.2 1398.5,437.4 1398.7,439.8 1398.6,442.1 1396.5,443.3 1394.8,444.8M1404.6,399.2 1444.1,399.2 1446.1,398.5 1446.7,395.1 1449,395.2 1451.5,395.5M1400.9,418.9 1436.7,418.9 1436.7,437.4M1436.7,418.9 1445.3,420.1 1446.5,432.4M1439.2,340 1438.7,342.2 1439.6,344.8 1438.1,346.7 1436.7,348.6 1435.7,350.5 1433,350.9 1432.6,353.4 1430.3,354.1 1429.3,356 1429.7,358.6 1430,361.3 1427.3,363.3 1427.6,365.9 1426.8,368.3 1426.5,370.8 1427.3,373.7 1425.8,375.9 1423.4,377.9 1423.5,380.6 1423.1,383.1 1422.7,385.4 1422.2,387.7 1422.3,390.2 1422.7,392.7 1421.3,394.8 1420.5,397 1419.4,399.2M1450.2,332.6 1451.5,373.3 1453.4,375.5 1456,377.4 1454.8,380.3 1455.9,382.7 1455,385.5 1455.2,388.1 1454.7,390.3 1455.6,392.3 1456.4,394.2M1271.9,480 1271.9,494.2 1273.3,492.3 1273.3,488.9 1277,489.5 1278.7,488 1281,487.6 1282.3,485.6 1283.7,483.9 1286.1,483.7 1288.6,483.9 1291,483 1294.1,482.5 1295.3,485.2 1297.2,486.7 1298.2,488.6 1300.8,488.6 1302.7,489.5 1303.4,491.7 1304.4,494.3 1306.8,494.2 1308.9,494.8 1309.7,493 1309.9,491 1310.8,489.2 1313.7,488.8 1314.1,491.6 1315.7,492.9 1316.8,495.7 1319.7,496 1321.9,497.2 1324.3,498 1324.9,500.9 1327.4,501.6 1327.1,504.4 1325.4,506 1323.1,507.1 1322.4,509.7 1321.5,512 1318.2,512 1320,513.9 1320.6,516.4 1323.4,514.8 1325.2,515.6 1325.8,518.8 1327.2,520.8 1329.3,522.3 1331.5,523.8 1330.6,527.5 1333.2,528.7 1333.6,531 1335.3,532.6 1335.2,535.1 1336.3,537.1 1338.2,538.6M1308.9,494.8 1306.7,493.4 1304.8,491.6 1302.1,491.1 1300,490.8 1297.8,490.6 1296,489.2 1293.6,490.1 1293.4,492.1 1293.5,494.2 1290.8,494.8 1291,498.3 1288.6,499.1 1288,501 1287.1,502.6 1284.9,502.8 1281.2,504 1279.9,506 1278.7,508.1 1277.5,510.2 1275.6,510.7 1274.3,511.9 1273.8,513.9 1272.6,512.7 1271.7,511.1 1270.1,510.2 1268.4,510.9 1267.2,512.2 1266.4,513.9 1267.2,517.2 1265.5,519 1262.7,520.1 1261.3,521.7 1260.9,523.8 1258.8,525.1 1259,527.5 1258.2,529.8 1256.7,531.7 1255.3,533.6 1255.2,536 1254.2,538.1 1252.8,540 1254.9,538.6 1257.4,537.5 1258.9,535.7 1260.1,533.6 1260.9,531.1 1261.7,528.7 1261.4,531.2 1259.3,532.4 1258.5,534.6 1256.7,536.1 1254.8,536.5 1253,537.3 1250.9,537.2 1249.3,538.6 1247,540 1244.2,539.8 1241.9,541 1239.9,541.7 1237.4,540.9 1235.7,542.5 1234,543.7 1232.1,544.7 1224.7,543.5 1223.4,545.9 1220.8,545.6 1218.8,546.5 1217.6,549.1 1214.8,548.4 1212.5,549.5 1210.2,550.6 1208.4,552.6 1205.5,552.9 1203.9,555 1202,556.8 1200,558.3M1354.2,479.3 1354.2,512.7 1367.8,512.7M1348,527.5 1350.6,527.2 1352.7,525.3 1355.4,525.7 1357.9,525M1061.6,564.5 1092.5,564.5 1091.6,562.4 1092.5,560.3 1220,563.2 1222.3,564.1 1224.7,564.5 1348,562.7M1224.7,565.7 1222.3,566 1220.5,567.6 1218.7,569.3 1215.8,568.6 1214.1,570.3 1212.3,571.9 1209.9,572.2 1207.7,572.9 1205.6,573.9 1203.2,574.1 1201.7,576.2 1200,578 1199.4,580.7 1197.7,582.4 1196,584.2 1193.6,585.4 1191.8,587.2 1189.8,588.4 1187.3,588.7 1184.9,589.2 1182.9,590.4 1180.9,591.7 1178.8,592.8 1176.9,594 1175.3,595.6 1173.8,597.3 1171.4,597.8 1171.3,599.8 1170.5,601.9 1171.4,603.9M1046.8,604.4 1171.4,604.4 1173.8,604.1 1176.1,604.5 1178.4,605.4 1180.8,604.4 1183.1,605.3 1185.4,605.7 1187.7,606.6 1190.1,605.7 1192.4,606M954.3,564.5 1048,564.5 1049.2,565.9 1048.5,568.4 1050.5,569.4 1047.9,570.1 1046.5,571.8 1044.8,573.1 1045.1,575.9 1044.3,578 1056.7,578M953,551.4 952.7,553.7 952.9,555.9 953,558.2 955.2,560 955.2,562.3 955.5,564.5 956.7,590.4 958.7,637.3 959.9,639.1 960.9,641.2 962.8,642.1 965.2,642.4 966,657.2 966,683.9 967,686 967.6,688.4 968.3,690.7 971.4,691.3 973.2,693 975.4,694.5 975.1,696.9 973.8,699.8 973.8,702.2 976.3,703.6 975.1,716 974,718.3 974.6,721 973.2,723.3 973.4,725.9 972.6,728.3 973.9,735.7 972,737.1 971.1,739.2 968.7,740.3 968.9,743.1M966,657.2 1025.9,657.2M776.4,551.4 776.4,684.6M700,684.6 776.4,684.6M776.4,565.2 840.6,565.2 840.6,615 843.1,615.5 844.1,618.3 846.7,618.7 849.3,618.7 851.6,620.3 854,621.1 856.6,621.2 859.1,621.6 862,621.4 863.4,623.6 865,625.4 866.5,627.4 876.3,627.4 878.5,628.3 880,630.3 881.9,631.7 883.8,633 886.2,633.6 896.1,634.8 905.9,634.8 908.4,634.7 910.8,635.4 913.1,636.2 915.1,638 917.3,639.2 920,638.5 917.8,638.2 915.7,637.5 912.9,639.2 911.8,635.4 909.7,634.8 907.4,634.8 909.8,635.9 912.2,636.8 914.8,636.9 917.3,637.3 918.5,635 920.1,633.7 922.1,633.1 924.7,633.6 934.5,634.8 936.9,634 939.1,632.3 941.8,632.6 944.4,632.3 946.3,633.8 948.5,634.7 950.7,635.5 953,636 953.9,639 956.6,638.2 958.7,638.5M1091.8,604.4 1085.1,698.7 1084.4,725.8M1144.3,604.4 1151.7,659.2 1152.8,661.6 1152.7,664.3 1153.9,666.6 1152.8,669.6 1155,671.6 1155.8,674.1 1156.7,676.5 1154.8,678.6 1156,681.6 1154.1,683.7 1153.5,686.2 1153.1,688.7 1153,691.3 1154.2,706.1 1154.1,708.6 1155.9,710.2 1156.4,712.4 1158.1,714 1159.1,716 1214.7,721.4 1214.1,723.7 1216.4,725.1 1216.6,727.1 1219.1,726.3 1219.6,715.5 1228.2,716 1230.7,718.4M1154.2,709.3 1101.2,709.3 1102.1,711.6 1103.6,713.6 1105.1,715.7 1104.9,718.4 1104.4,721.2 1106.1,723.4M1192.4,606 1192.5,609.9 1194,611.2 1194.6,613.2 1197.6,613.3 1197.4,616 1199.3,617.4 1201.1,618.9 1201.5,621.3 1203.8,622.4 1204,625 1204.8,627.1 1205.7,629.3 1207.1,631 1208.6,632.8 1210.5,634.2 1212.5,635.4 1213.6,637.5 1214.7,639.5 1216,641.4 1216.3,644 1218,645.5 1220.4,646.5 1221.1,648.8 1223.4,649.8 1224.5,651.8 1227.3,652.8 1228.6,654.9 1230.1,656.9 1230.5,659.7 1231.9,661.7 1232.8,663.7 1234.8,665.3 1235.8,667.3 1236.4,669.4 1235.1,672.3 1236.9,674 1238.8,675.3 1240.4,676.9 1239.4,679.7 1240.6,681.4M1192.4,606 1194.8,606.5 1196.4,605 1198.6,605.1 1200,603 1202.5,602.4 1204.8,601 1207.4,601 1210,601 1237,600 1238.2,602.1 1239,604.6 1241.5,605.2 1244.2,605.5 1245.5,607.5 1247.8,607.8 1250.2,607.6 1252.6,607.3 1254.9,608.2 1257.2,608.7 1259.7,607.5 1262,607.6 1264.3,609.6 1266.6,609.3 1269,609.4 1292.5,633.5M1317.9,512 1323.3,513.8 1328.7,517.3 1333.2,523.6 1336.7,529M1326.5,525.4 1331.4,530.8 1335.8,536.2 1339.4,539.7M1326.9,537.1 1332.3,541.5 1336.7,545.7 1340.3,547.8M1325.1,544.2 1329.6,546.9 1334.1,550.5 1338.5,552.3 1342.1,552.8M1336.7,490.5 1338.5,482.4M1347.5,519.1 1351.1,521.8 1353.8,529M1344.8,506.6 1347,513.8M1329.6,569.3 1335.8,572 1342.1,571.1 1347.5,574.7 1352,576.5M1331.4,569.3 1330.5,576.5 1334.1,580.1 1340.3,579.2 1345.7,581.9 1348.4,585.4M1324.2,591.7 1329.6,593.5 1335.8,590.8 1340.3,594.4 1336.7,599.8 1331.4,601.6 1326.9,606.1 1333.2,608.7 1337.6,606.1M1114.7,334 1107.3,341.4 1099.9,348.3 1094.4,352M1113.4,321.2 1118.4,318.7 1123.3,319.9M1044.4,730.8 1049.3,726.3 1057.2,728.3 1058,733.2 1050.6,735.2 1044.4,730.8M1091.8,717.2 1093.3,727.1M1390.3,450.9 1402.2,448 1414.5,445.5 1433,444" fill="none" stroke="#000" stroke-width="3.7" stroke-linejoin="round" stroke-linecap="round"/>
<path d="M360.5,236.1 364.5,239.1 369,241.1 369.5,248.2 370.5,255.3 374.6,260.3 372.1,267.4 371.6,277.5 367.5,284.5 359.4,288.6 354.4,284.5 352.9,277.5 355.4,270.4 358.4,263.3 357.4,258.3 360.5,254.3 362.5,250.2 355.4,250.2 351.9,246.7 354.4,242.2 359.4,241.1ZM365.4,521.3 374,520.8 375.3,528.7 374,536.1 379,539.8 374,541.5 369.1,538.6 367.1,531.2ZM1144.3,336 1149.2,334.7 1150.4,342.1 1146.7,347.8 1143.8,343.4ZM1467.5,417.7 1472.4,418.4 1475.6,427.5 1473.7,438.6 1467.5,439.8 1468.7,433.7 1471.7,428.7 1470,422.6ZM1455.2,433.7 1462.6,432.4 1463.8,437.4 1456.4,438.6ZM946.2,743.1 951.2,741.1 951.7,746.8 948.7,750.5 946.2,748ZM911,773.9 919.6,770.7 920.8,773.2 913.4,777.2ZM1202.7,789.4 1209.9,788.6 1212.4,793.7 1208.2,797.6 1203.4,795.4ZM1214.1,815.8 1218.7,816.3 1218.7,820.4 1215.3,819.8ZM1237.1,860.1 1242.2,860.1 1241.9,865.3 1237.8,864.9ZM886.5,803.1 891.6,804.4 892.8,809 887.9,809.5ZM891.6,792 897.2,792 896.6,795.9 892.5,795.4ZM910.4,770.7 920.6,769 920.6,772.7 911.6,775.4Z" fill="#000" stroke="#000" stroke-width="2" stroke-linejoin="round"/>
<text class="t" x="929.6" y="56.9">Japanese pine sawyer beetle: Adult relative pop. size for each</text>
<text class="t" x="930.1" y="96.7">gen. w/ climate stress exclusion 10/24/2025</text>
<text class="s" x="930.1" y="147.4">Maps and modeling 10/24/2025 by Oregon State University IPPC USPEST.ORG and</text>
<text class="s" x="930.3" y="180.9">USDA-APHIS-PPQ; climate data from OSU PRISM Climate Group</text>
<text class="lt" x="1579.5" y="414.1">Adult relative</text>
<text class="lt" x="1579.5" y="441.6">pop. size</text>
<text class="lt" x="1579.5" y="469.1">(peak)</text>
<rect x="1580.1" y="482.90" width="24.8" height="25.65" fill="#4d4d4d"/><text x="1615.6" y="503.00" class="ll">excl.-severe</text>
<rect x="1580.1" y="508.45" width="24.8" height="25.65" fill="#b3b3b3"/><text x="1615.6" y="528.55" class="ll">excl.-moderate</text>
<rect x="1580.1" y="534.00" width="24.8" height="25.65" fill="#e5e5e5"/><text x="1615.6" y="554.10" class="ll">other stages</text>
<rect x="1580.1" y="559.55" width="24.8" height="25.65" fill="#0629d9"/><text x="1615.6" y="579.65" class="ll">0 gens.</text>
<rect x="1580.1" y="585.10" width="24.8" height="25.65" fill="#a52313"/><text x="1615.6" y="605.20" class="ll">1 gens.</text>
<rect x="1580.1" y="610.65" width="24.8" height="25.65" fill="#dcc100"/><text x="1615.6" y="630.75" class="ll">2 gens.</text>
<rect x="1580.1" y="636.20" width="24.8" height="25.65" fill="#26892a"/><text x="1615.6" y="656.30" class="ll">3 gens.</text>
<rect x="1580.1" y="661.75" width="24.8" height="25.65" fill="#a800aa"/><text x="1615.6" y="681.85" class="ll">4 gens.</text>
<rect x="1580.1" y="687.30" width="24.8" height="25.65" fill="#dc7612"/><text x="1615.6" y="707.40" class="ll">5 gens.</text>

</svg>
</body></html>
